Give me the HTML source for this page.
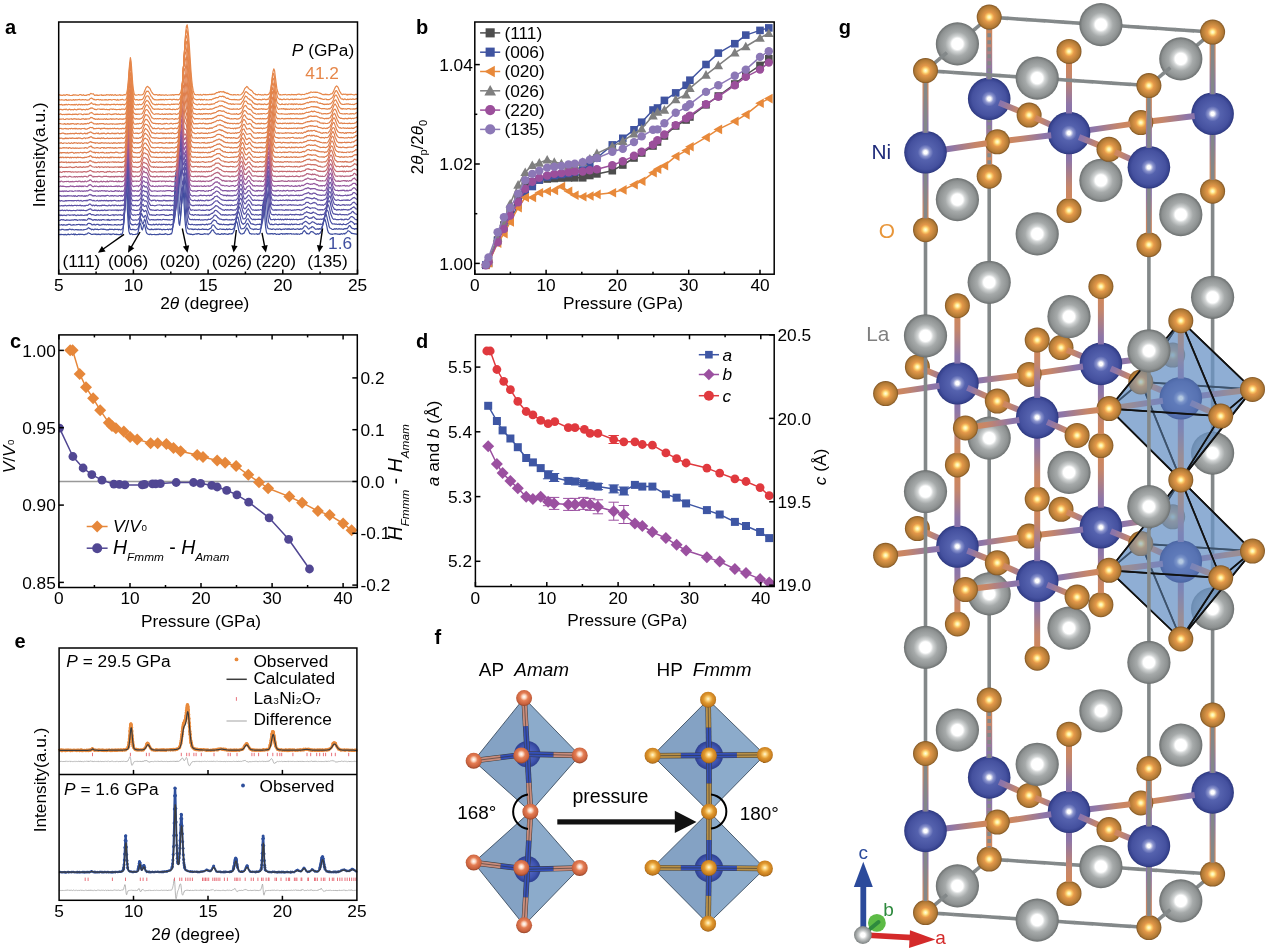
<!DOCTYPE html>
<html><head><meta charset="utf-8"><title>Figure</title><style>html,body{margin:0;padding:0;background:#fff;width:1269px;height:951px;overflow:hidden}svg{display:block}</style></head><body>
<svg width="1269" height="951" viewBox="0 0 1269 951" font-family='"Liberation Sans", Arial, sans-serif'>
<defs>
<radialGradient id="oAP" cx="0.5" cy="0.42" r="0.55">
<stop offset="0" stop-color="#ffffff"/><stop offset="0.22" stop-color="#fbd6c0"/><stop offset="0.45" stop-color="#e57e55"/><stop offset="0.85" stop-color="#c7603c"/><stop offset="1" stop-color="#9c4a2e"/></radialGradient>
<radialGradient id="oHP" cx="0.5" cy="0.45" r="0.55">
<stop offset="0" stop-color="#fff8d8"/><stop offset="0.22" stop-color="#fbd27a"/><stop offset="0.5" stop-color="#e29a30"/><stop offset="0.85" stop-color="#c47b1e"/><stop offset="1" stop-color="#8f5a16"/></radialGradient>
<radialGradient id="niF" cx="0.5" cy="0.5" r="0.5">
<stop offset="0" stop-color="#5a6cc8"/><stop offset="0.7" stop-color="#3f54b0"/><stop offset="1" stop-color="#2d3f90"/></radialGradient>
<linearGradient id="b0" gradientUnits="userSpaceOnUse" x1="925.5" y1="830.9" x2="925.5" y2="912.6"><stop offset="0" stop-color="#7d6cb0"/><stop offset="0.35" stop-color="#8e76a8"/><stop offset="0.7" stop-color="#c6866a"/><stop offset="1" stop-color="#d8884c"/></linearGradient>
<linearGradient id="b1" gradientUnits="userSpaceOnUse" x1="925.5" y1="830.9" x2="925.5" y2="753.5"><stop offset="0" stop-color="#7d6cb0"/><stop offset="0.35" stop-color="#8e76a8"/><stop offset="0.7" stop-color="#c6866a"/><stop offset="1" stop-color="#d8884c"/></linearGradient>
<linearGradient id="b2" gradientUnits="userSpaceOnUse" x1="925.5" y1="830.9" x2="997.3" y2="822.1"><stop offset="0" stop-color="#7d6cb0"/><stop offset="0.35" stop-color="#8e76a8"/><stop offset="0.7" stop-color="#c6866a"/><stop offset="1" stop-color="#d8884c"/></linearGradient>
<linearGradient id="b3" gradientUnits="userSpaceOnUse" x1="925.5" y1="152.3" x2="925.5" y2="70.6"><stop offset="0" stop-color="#7d6cb0"/><stop offset="0.35" stop-color="#8e76a8"/><stop offset="0.7" stop-color="#c6866a"/><stop offset="1" stop-color="#d8884c"/></linearGradient>
<linearGradient id="b4" gradientUnits="userSpaceOnUse" x1="925.5" y1="152.3" x2="925.5" y2="229.7"><stop offset="0" stop-color="#7d6cb0"/><stop offset="0.35" stop-color="#8e76a8"/><stop offset="0.7" stop-color="#c6866a"/><stop offset="1" stop-color="#d8884c"/></linearGradient>
<linearGradient id="b5" gradientUnits="userSpaceOnUse" x1="925.5" y1="152.3" x2="997.3" y2="141.8"><stop offset="0" stop-color="#7d6cb0"/><stop offset="0.35" stop-color="#8e76a8"/><stop offset="0.7" stop-color="#c6866a"/><stop offset="1" stop-color="#d8884c"/></linearGradient>
<linearGradient id="b6" gradientUnits="userSpaceOnUse" x1="1148.9" y1="845.9" x2="1148.9" y2="927.6"><stop offset="0" stop-color="#7d6cb0"/><stop offset="0.35" stop-color="#8e76a8"/><stop offset="0.7" stop-color="#c6866a"/><stop offset="1" stop-color="#d8884c"/></linearGradient>
<linearGradient id="b7" gradientUnits="userSpaceOnUse" x1="1148.9" y1="845.9" x2="1148.9" y2="768.5"><stop offset="0" stop-color="#7d6cb0"/><stop offset="0.35" stop-color="#8e76a8"/><stop offset="0.7" stop-color="#c6866a"/><stop offset="1" stop-color="#d8884c"/></linearGradient>
<linearGradient id="b8" gradientUnits="userSpaceOnUse" x1="1148.9" y1="845.9" x2="1109" y2="829.6"><stop offset="0" stop-color="#7d6cb0"/><stop offset="0.35" stop-color="#8e76a8"/><stop offset="0.7" stop-color="#c6866a"/><stop offset="1" stop-color="#d8884c"/></linearGradient>
<linearGradient id="b9" gradientUnits="userSpaceOnUse" x1="1148.9" y1="167.3" x2="1148.9" y2="85.6"><stop offset="0" stop-color="#7d6cb0"/><stop offset="0.35" stop-color="#8e76a8"/><stop offset="0.7" stop-color="#c6866a"/><stop offset="1" stop-color="#d8884c"/></linearGradient>
<linearGradient id="b10" gradientUnits="userSpaceOnUse" x1="1148.9" y1="167.3" x2="1148.9" y2="244.7"><stop offset="0" stop-color="#7d6cb0"/><stop offset="0.35" stop-color="#8e76a8"/><stop offset="0.7" stop-color="#c6866a"/><stop offset="1" stop-color="#d8884c"/></linearGradient>
<linearGradient id="b11" gradientUnits="userSpaceOnUse" x1="1148.9" y1="167.3" x2="1109" y2="149.3"><stop offset="0" stop-color="#7d6cb0"/><stop offset="0.35" stop-color="#8e76a8"/><stop offset="0.7" stop-color="#c6866a"/><stop offset="1" stop-color="#d8884c"/></linearGradient>
<linearGradient id="b12" gradientUnits="userSpaceOnUse" x1="989.2" y1="777.4" x2="989.2" y2="859.1"><stop offset="0" stop-color="#7d6cb0"/><stop offset="0.35" stop-color="#8e76a8"/><stop offset="0.7" stop-color="#c6866a"/><stop offset="1" stop-color="#d8884c"/></linearGradient>
<linearGradient id="b13" gradientUnits="userSpaceOnUse" x1="989.2" y1="777.4" x2="989.2" y2="700"><stop offset="0" stop-color="#7d6cb0"/><stop offset="0.35" stop-color="#8e76a8"/><stop offset="0.7" stop-color="#c6866a"/><stop offset="1" stop-color="#d8884c"/></linearGradient>
<linearGradient id="b14" gradientUnits="userSpaceOnUse" x1="989.2" y1="777.4" x2="1029.1" y2="795.4"><stop offset="0" stop-color="#7d6cb0"/><stop offset="0.35" stop-color="#8e76a8"/><stop offset="0.7" stop-color="#c6866a"/><stop offset="1" stop-color="#d8884c"/></linearGradient>
<linearGradient id="b15" gradientUnits="userSpaceOnUse" x1="989.2" y1="98.8" x2="989.2" y2="17.1"><stop offset="0" stop-color="#7d6cb0"/><stop offset="0.35" stop-color="#8e76a8"/><stop offset="0.7" stop-color="#c6866a"/><stop offset="1" stop-color="#d8884c"/></linearGradient>
<linearGradient id="b16" gradientUnits="userSpaceOnUse" x1="989.2" y1="98.8" x2="989.2" y2="176.2"><stop offset="0" stop-color="#7d6cb0"/><stop offset="0.35" stop-color="#8e76a8"/><stop offset="0.7" stop-color="#c6866a"/><stop offset="1" stop-color="#d8884c"/></linearGradient>
<linearGradient id="b17" gradientUnits="userSpaceOnUse" x1="989.2" y1="98.8" x2="1029.1" y2="115.1"><stop offset="0" stop-color="#7d6cb0"/><stop offset="0.35" stop-color="#8e76a8"/><stop offset="0.7" stop-color="#c6866a"/><stop offset="1" stop-color="#d8884c"/></linearGradient>
<linearGradient id="b18" gradientUnits="userSpaceOnUse" x1="1212.6" y1="792.4" x2="1212.6" y2="874.1"><stop offset="0" stop-color="#7d6cb0"/><stop offset="0.35" stop-color="#8e76a8"/><stop offset="0.7" stop-color="#c6866a"/><stop offset="1" stop-color="#d8884c"/></linearGradient>
<linearGradient id="b19" gradientUnits="userSpaceOnUse" x1="1212.6" y1="792.4" x2="1212.6" y2="715"><stop offset="0" stop-color="#7d6cb0"/><stop offset="0.35" stop-color="#8e76a8"/><stop offset="0.7" stop-color="#c6866a"/><stop offset="1" stop-color="#d8884c"/></linearGradient>
<linearGradient id="b20" gradientUnits="userSpaceOnUse" x1="1212.6" y1="792.4" x2="1140.8" y2="802.9"><stop offset="0" stop-color="#7d6cb0"/><stop offset="0.35" stop-color="#8e76a8"/><stop offset="0.7" stop-color="#c6866a"/><stop offset="1" stop-color="#d8884c"/></linearGradient>
<linearGradient id="b21" gradientUnits="userSpaceOnUse" x1="1212.6" y1="113.8" x2="1212.6" y2="32.1"><stop offset="0" stop-color="#7d6cb0"/><stop offset="0.35" stop-color="#8e76a8"/><stop offset="0.7" stop-color="#c6866a"/><stop offset="1" stop-color="#d8884c"/></linearGradient>
<linearGradient id="b22" gradientUnits="userSpaceOnUse" x1="1212.6" y1="113.8" x2="1212.6" y2="191.2"><stop offset="0" stop-color="#7d6cb0"/><stop offset="0.35" stop-color="#8e76a8"/><stop offset="0.7" stop-color="#c6866a"/><stop offset="1" stop-color="#d8884c"/></linearGradient>
<linearGradient id="b23" gradientUnits="userSpaceOnUse" x1="1212.6" y1="113.8" x2="1140.8" y2="122.6"><stop offset="0" stop-color="#7d6cb0"/><stop offset="0.35" stop-color="#8e76a8"/><stop offset="0.7" stop-color="#c6866a"/><stop offset="1" stop-color="#d8884c"/></linearGradient>
<linearGradient id="b24" gradientUnits="userSpaceOnUse" x1="1069" y1="811.7" x2="1069" y2="893.4"><stop offset="0" stop-color="#7d6cb0"/><stop offset="0.35" stop-color="#8e76a8"/><stop offset="0.7" stop-color="#c6866a"/><stop offset="1" stop-color="#d8884c"/></linearGradient>
<linearGradient id="b25" gradientUnits="userSpaceOnUse" x1="1069" y1="811.7" x2="1069" y2="734.2"><stop offset="0" stop-color="#7d6cb0"/><stop offset="0.35" stop-color="#8e76a8"/><stop offset="0.7" stop-color="#c6866a"/><stop offset="1" stop-color="#d8884c"/></linearGradient>
<linearGradient id="b26" gradientUnits="userSpaceOnUse" x1="1069" y1="811.7" x2="997.3" y2="822.1"><stop offset="0" stop-color="#7d6cb0"/><stop offset="0.35" stop-color="#8e76a8"/><stop offset="0.7" stop-color="#c6866a"/><stop offset="1" stop-color="#d8884c"/></linearGradient>
<linearGradient id="b27" gradientUnits="userSpaceOnUse" x1="1069" y1="811.7" x2="1109" y2="829.6"><stop offset="0" stop-color="#7d6cb0"/><stop offset="0.35" stop-color="#8e76a8"/><stop offset="0.7" stop-color="#c6866a"/><stop offset="1" stop-color="#d8884c"/></linearGradient>
<linearGradient id="b28" gradientUnits="userSpaceOnUse" x1="1069" y1="811.7" x2="1029.1" y2="795.4"><stop offset="0" stop-color="#7d6cb0"/><stop offset="0.35" stop-color="#8e76a8"/><stop offset="0.7" stop-color="#c6866a"/><stop offset="1" stop-color="#d8884c"/></linearGradient>
<linearGradient id="b29" gradientUnits="userSpaceOnUse" x1="1069" y1="811.7" x2="1140.8" y2="802.9"><stop offset="0" stop-color="#7d6cb0"/><stop offset="0.35" stop-color="#8e76a8"/><stop offset="0.7" stop-color="#c6866a"/><stop offset="1" stop-color="#d8884c"/></linearGradient>
<linearGradient id="b30" gradientUnits="userSpaceOnUse" x1="1069" y1="133" x2="1069" y2="51.4"><stop offset="0" stop-color="#7d6cb0"/><stop offset="0.35" stop-color="#8e76a8"/><stop offset="0.7" stop-color="#c6866a"/><stop offset="1" stop-color="#d8884c"/></linearGradient>
<linearGradient id="b31" gradientUnits="userSpaceOnUse" x1="1069" y1="133" x2="1069" y2="210.5"><stop offset="0" stop-color="#7d6cb0"/><stop offset="0.35" stop-color="#8e76a8"/><stop offset="0.7" stop-color="#c6866a"/><stop offset="1" stop-color="#d8884c"/></linearGradient>
<linearGradient id="b32" gradientUnits="userSpaceOnUse" x1="1069" y1="133" x2="997.3" y2="141.8"><stop offset="0" stop-color="#7d6cb0"/><stop offset="0.35" stop-color="#8e76a8"/><stop offset="0.7" stop-color="#c6866a"/><stop offset="1" stop-color="#d8884c"/></linearGradient>
<linearGradient id="b33" gradientUnits="userSpaceOnUse" x1="1069" y1="133" x2="1109" y2="149.3"><stop offset="0" stop-color="#7d6cb0"/><stop offset="0.35" stop-color="#8e76a8"/><stop offset="0.7" stop-color="#c6866a"/><stop offset="1" stop-color="#d8884c"/></linearGradient>
<linearGradient id="b34" gradientUnits="userSpaceOnUse" x1="1069" y1="133" x2="1029.1" y2="115.1"><stop offset="0" stop-color="#7d6cb0"/><stop offset="0.35" stop-color="#8e76a8"/><stop offset="0.7" stop-color="#c6866a"/><stop offset="1" stop-color="#d8884c"/></linearGradient>
<linearGradient id="b35" gradientUnits="userSpaceOnUse" x1="1069" y1="133" x2="1140.8" y2="122.6"><stop offset="0" stop-color="#7d6cb0"/><stop offset="0.35" stop-color="#8e76a8"/><stop offset="0.7" stop-color="#c6866a"/><stop offset="1" stop-color="#d8884c"/></linearGradient>
<linearGradient id="b36" gradientUnits="userSpaceOnUse" x1="1037.2" y1="580.8" x2="1037.2" y2="499.1"><stop offset="0" stop-color="#7d6cb0"/><stop offset="0.35" stop-color="#8e76a8"/><stop offset="0.7" stop-color="#c6866a"/><stop offset="1" stop-color="#d8884c"/></linearGradient>
<linearGradient id="b37" gradientUnits="userSpaceOnUse" x1="1037.2" y1="580.8" x2="1037.2" y2="658.2"><stop offset="0" stop-color="#7d6cb0"/><stop offset="0.35" stop-color="#8e76a8"/><stop offset="0.7" stop-color="#c6866a"/><stop offset="1" stop-color="#d8884c"/></linearGradient>
<linearGradient id="b38" gradientUnits="userSpaceOnUse" x1="1037.2" y1="580.8" x2="965.4" y2="589.6"><stop offset="0" stop-color="#7d6cb0"/><stop offset="0.35" stop-color="#8e76a8"/><stop offset="0.7" stop-color="#c6866a"/><stop offset="1" stop-color="#d8884c"/></linearGradient>
<linearGradient id="b39" gradientUnits="userSpaceOnUse" x1="1037.2" y1="580.8" x2="997.3" y2="562.8"><stop offset="0" stop-color="#7d6cb0"/><stop offset="0.35" stop-color="#8e76a8"/><stop offset="0.7" stop-color="#c6866a"/><stop offset="1" stop-color="#d8884c"/></linearGradient>
<linearGradient id="b40" gradientUnits="userSpaceOnUse" x1="1037.2" y1="580.8" x2="1077.1" y2="597.1"><stop offset="0" stop-color="#7d6cb0"/><stop offset="0.35" stop-color="#8e76a8"/><stop offset="0.7" stop-color="#c6866a"/><stop offset="1" stop-color="#d8884c"/></linearGradient>
<linearGradient id="b41" gradientUnits="userSpaceOnUse" x1="1037.2" y1="580.8" x2="1109" y2="570.3"><stop offset="0" stop-color="#7d6cb0"/><stop offset="0.35" stop-color="#8e76a8"/><stop offset="0.7" stop-color="#c6866a"/><stop offset="1" stop-color="#d8884c"/></linearGradient>
<linearGradient id="b42" gradientUnits="userSpaceOnUse" x1="1037.2" y1="417.4" x2="1037.2" y2="499.1"><stop offset="0" stop-color="#7d6cb0"/><stop offset="0.35" stop-color="#8e76a8"/><stop offset="0.7" stop-color="#c6866a"/><stop offset="1" stop-color="#d8884c"/></linearGradient>
<linearGradient id="b43" gradientUnits="userSpaceOnUse" x1="1037.2" y1="417.4" x2="1037.2" y2="340"><stop offset="0" stop-color="#7d6cb0"/><stop offset="0.35" stop-color="#8e76a8"/><stop offset="0.7" stop-color="#c6866a"/><stop offset="1" stop-color="#d8884c"/></linearGradient>
<linearGradient id="b44" gradientUnits="userSpaceOnUse" x1="1037.2" y1="417.4" x2="965.4" y2="427.9"><stop offset="0" stop-color="#7d6cb0"/><stop offset="0.35" stop-color="#8e76a8"/><stop offset="0.7" stop-color="#c6866a"/><stop offset="1" stop-color="#d8884c"/></linearGradient>
<linearGradient id="b45" gradientUnits="userSpaceOnUse" x1="1037.2" y1="417.4" x2="997.3" y2="401.1"><stop offset="0" stop-color="#7d6cb0"/><stop offset="0.35" stop-color="#8e76a8"/><stop offset="0.7" stop-color="#c6866a"/><stop offset="1" stop-color="#d8884c"/></linearGradient>
<linearGradient id="b46" gradientUnits="userSpaceOnUse" x1="1037.2" y1="417.4" x2="1077.1" y2="435.4"><stop offset="0" stop-color="#7d6cb0"/><stop offset="0.35" stop-color="#8e76a8"/><stop offset="0.7" stop-color="#c6866a"/><stop offset="1" stop-color="#d8884c"/></linearGradient>
<linearGradient id="b47" gradientUnits="userSpaceOnUse" x1="1037.2" y1="417.4" x2="1109" y2="408.6"><stop offset="0" stop-color="#7d6cb0"/><stop offset="0.35" stop-color="#8e76a8"/><stop offset="0.7" stop-color="#c6866a"/><stop offset="1" stop-color="#d8884c"/></linearGradient>
<linearGradient id="b48" gradientUnits="userSpaceOnUse" x1="957.4" y1="546.5" x2="957.4" y2="464.9"><stop offset="0" stop-color="#7d6cb0"/><stop offset="0.35" stop-color="#8e76a8"/><stop offset="0.7" stop-color="#c6866a"/><stop offset="1" stop-color="#d8884c"/></linearGradient>
<linearGradient id="b49" gradientUnits="userSpaceOnUse" x1="957.4" y1="546.5" x2="957.4" y2="624"><stop offset="0" stop-color="#7d6cb0"/><stop offset="0.35" stop-color="#8e76a8"/><stop offset="0.7" stop-color="#c6866a"/><stop offset="1" stop-color="#d8884c"/></linearGradient>
<linearGradient id="b50" gradientUnits="userSpaceOnUse" x1="957.4" y1="546.5" x2="885.6" y2="555.3"><stop offset="0" stop-color="#7d6cb0"/><stop offset="0.35" stop-color="#8e76a8"/><stop offset="0.7" stop-color="#c6866a"/><stop offset="1" stop-color="#d8884c"/></linearGradient>
<linearGradient id="b51" gradientUnits="userSpaceOnUse" x1="957.4" y1="546.5" x2="917.4" y2="528.6"><stop offset="0" stop-color="#7d6cb0"/><stop offset="0.35" stop-color="#8e76a8"/><stop offset="0.7" stop-color="#c6866a"/><stop offset="1" stop-color="#d8884c"/></linearGradient>
<linearGradient id="b52" gradientUnits="userSpaceOnUse" x1="957.4" y1="546.5" x2="997.3" y2="562.8"><stop offset="0" stop-color="#7d6cb0"/><stop offset="0.35" stop-color="#8e76a8"/><stop offset="0.7" stop-color="#c6866a"/><stop offset="1" stop-color="#d8884c"/></linearGradient>
<linearGradient id="b53" gradientUnits="userSpaceOnUse" x1="957.4" y1="546.5" x2="1029.1" y2="536.1"><stop offset="0" stop-color="#7d6cb0"/><stop offset="0.35" stop-color="#8e76a8"/><stop offset="0.7" stop-color="#c6866a"/><stop offset="1" stop-color="#d8884c"/></linearGradient>
<linearGradient id="b54" gradientUnits="userSpaceOnUse" x1="957.4" y1="383.2" x2="957.4" y2="464.9"><stop offset="0" stop-color="#7d6cb0"/><stop offset="0.35" stop-color="#8e76a8"/><stop offset="0.7" stop-color="#c6866a"/><stop offset="1" stop-color="#d8884c"/></linearGradient>
<linearGradient id="b55" gradientUnits="userSpaceOnUse" x1="957.4" y1="383.2" x2="957.4" y2="305.7"><stop offset="0" stop-color="#7d6cb0"/><stop offset="0.35" stop-color="#8e76a8"/><stop offset="0.7" stop-color="#c6866a"/><stop offset="1" stop-color="#d8884c"/></linearGradient>
<linearGradient id="b56" gradientUnits="userSpaceOnUse" x1="957.4" y1="383.2" x2="885.6" y2="393.6"><stop offset="0" stop-color="#7d6cb0"/><stop offset="0.35" stop-color="#8e76a8"/><stop offset="0.7" stop-color="#c6866a"/><stop offset="1" stop-color="#d8884c"/></linearGradient>
<linearGradient id="b57" gradientUnits="userSpaceOnUse" x1="957.4" y1="383.2" x2="917.4" y2="366.9"><stop offset="0" stop-color="#7d6cb0"/><stop offset="0.35" stop-color="#8e76a8"/><stop offset="0.7" stop-color="#c6866a"/><stop offset="1" stop-color="#d8884c"/></linearGradient>
<linearGradient id="b58" gradientUnits="userSpaceOnUse" x1="957.4" y1="383.2" x2="997.3" y2="401.1"><stop offset="0" stop-color="#7d6cb0"/><stop offset="0.35" stop-color="#8e76a8"/><stop offset="0.7" stop-color="#c6866a"/><stop offset="1" stop-color="#d8884c"/></linearGradient>
<linearGradient id="b59" gradientUnits="userSpaceOnUse" x1="957.4" y1="383.2" x2="1029.1" y2="374.4"><stop offset="0" stop-color="#7d6cb0"/><stop offset="0.35" stop-color="#8e76a8"/><stop offset="0.7" stop-color="#c6866a"/><stop offset="1" stop-color="#d8884c"/></linearGradient>
<linearGradient id="b60" gradientUnits="userSpaceOnUse" x1="1180.8" y1="561.5" x2="1180.8" y2="479.9"><stop offset="0" stop-color="#7d6cb0"/><stop offset="0.35" stop-color="#8e76a8"/><stop offset="0.7" stop-color="#c6866a"/><stop offset="1" stop-color="#d8884c"/></linearGradient>
<linearGradient id="b61" gradientUnits="userSpaceOnUse" x1="1180.8" y1="561.5" x2="1180.8" y2="639"><stop offset="0" stop-color="#7d6cb0"/><stop offset="0.35" stop-color="#8e76a8"/><stop offset="0.7" stop-color="#c6866a"/><stop offset="1" stop-color="#d8884c"/></linearGradient>
<linearGradient id="b62" gradientUnits="userSpaceOnUse" x1="1180.8" y1="561.5" x2="1109" y2="570.3"><stop offset="0" stop-color="#7d6cb0"/><stop offset="0.35" stop-color="#8e76a8"/><stop offset="0.7" stop-color="#c6866a"/><stop offset="1" stop-color="#d8884c"/></linearGradient>
<linearGradient id="b63" gradientUnits="userSpaceOnUse" x1="1180.8" y1="561.5" x2="1140.8" y2="543.6"><stop offset="0" stop-color="#7d6cb0"/><stop offset="0.35" stop-color="#8e76a8"/><stop offset="0.7" stop-color="#c6866a"/><stop offset="1" stop-color="#d8884c"/></linearGradient>
<linearGradient id="b64" gradientUnits="userSpaceOnUse" x1="1180.8" y1="561.5" x2="1220.7" y2="577.8"><stop offset="0" stop-color="#7d6cb0"/><stop offset="0.35" stop-color="#8e76a8"/><stop offset="0.7" stop-color="#c6866a"/><stop offset="1" stop-color="#d8884c"/></linearGradient>
<linearGradient id="b65" gradientUnits="userSpaceOnUse" x1="1180.8" y1="561.5" x2="1252.5" y2="551.1"><stop offset="0" stop-color="#7d6cb0"/><stop offset="0.35" stop-color="#8e76a8"/><stop offset="0.7" stop-color="#c6866a"/><stop offset="1" stop-color="#d8884c"/></linearGradient>
<linearGradient id="b66" gradientUnits="userSpaceOnUse" x1="1180.8" y1="398.2" x2="1180.8" y2="479.9"><stop offset="0" stop-color="#7d6cb0"/><stop offset="0.35" stop-color="#8e76a8"/><stop offset="0.7" stop-color="#c6866a"/><stop offset="1" stop-color="#d8884c"/></linearGradient>
<linearGradient id="b67" gradientUnits="userSpaceOnUse" x1="1180.8" y1="398.2" x2="1180.8" y2="320.7"><stop offset="0" stop-color="#7d6cb0"/><stop offset="0.35" stop-color="#8e76a8"/><stop offset="0.7" stop-color="#c6866a"/><stop offset="1" stop-color="#d8884c"/></linearGradient>
<linearGradient id="b68" gradientUnits="userSpaceOnUse" x1="1180.8" y1="398.2" x2="1109" y2="408.6"><stop offset="0" stop-color="#7d6cb0"/><stop offset="0.35" stop-color="#8e76a8"/><stop offset="0.7" stop-color="#c6866a"/><stop offset="1" stop-color="#d8884c"/></linearGradient>
<linearGradient id="b69" gradientUnits="userSpaceOnUse" x1="1180.8" y1="398.2" x2="1140.8" y2="381.9"><stop offset="0" stop-color="#7d6cb0"/><stop offset="0.35" stop-color="#8e76a8"/><stop offset="0.7" stop-color="#c6866a"/><stop offset="1" stop-color="#d8884c"/></linearGradient>
<linearGradient id="b70" gradientUnits="userSpaceOnUse" x1="1180.8" y1="398.2" x2="1220.7" y2="416.1"><stop offset="0" stop-color="#7d6cb0"/><stop offset="0.35" stop-color="#8e76a8"/><stop offset="0.7" stop-color="#c6866a"/><stop offset="1" stop-color="#d8884c"/></linearGradient>
<linearGradient id="b71" gradientUnits="userSpaceOnUse" x1="1180.8" y1="398.2" x2="1252.5" y2="389.4"><stop offset="0" stop-color="#7d6cb0"/><stop offset="0.35" stop-color="#8e76a8"/><stop offset="0.7" stop-color="#c6866a"/><stop offset="1" stop-color="#d8884c"/></linearGradient>
<linearGradient id="b72" gradientUnits="userSpaceOnUse" x1="1100.9" y1="527.3" x2="1100.9" y2="445.6"><stop offset="0" stop-color="#7d6cb0"/><stop offset="0.35" stop-color="#8e76a8"/><stop offset="0.7" stop-color="#c6866a"/><stop offset="1" stop-color="#d8884c"/></linearGradient>
<linearGradient id="b73" gradientUnits="userSpaceOnUse" x1="1100.9" y1="527.3" x2="1100.9" y2="604.7"><stop offset="0" stop-color="#7d6cb0"/><stop offset="0.35" stop-color="#8e76a8"/><stop offset="0.7" stop-color="#c6866a"/><stop offset="1" stop-color="#d8884c"/></linearGradient>
<linearGradient id="b74" gradientUnits="userSpaceOnUse" x1="1100.9" y1="527.3" x2="1029.1" y2="536.1"><stop offset="0" stop-color="#7d6cb0"/><stop offset="0.35" stop-color="#8e76a8"/><stop offset="0.7" stop-color="#c6866a"/><stop offset="1" stop-color="#d8884c"/></linearGradient>
<linearGradient id="b75" gradientUnits="userSpaceOnUse" x1="1100.9" y1="527.3" x2="1061" y2="509.3"><stop offset="0" stop-color="#7d6cb0"/><stop offset="0.35" stop-color="#8e76a8"/><stop offset="0.7" stop-color="#c6866a"/><stop offset="1" stop-color="#d8884c"/></linearGradient>
<linearGradient id="b76" gradientUnits="userSpaceOnUse" x1="1100.9" y1="527.3" x2="1140.8" y2="543.6"><stop offset="0" stop-color="#7d6cb0"/><stop offset="0.35" stop-color="#8e76a8"/><stop offset="0.7" stop-color="#c6866a"/><stop offset="1" stop-color="#d8884c"/></linearGradient>
<linearGradient id="b77" gradientUnits="userSpaceOnUse" x1="1100.9" y1="527.3" x2="1172.7" y2="516.8"><stop offset="0" stop-color="#7d6cb0"/><stop offset="0.35" stop-color="#8e76a8"/><stop offset="0.7" stop-color="#c6866a"/><stop offset="1" stop-color="#d8884c"/></linearGradient>
<linearGradient id="b78" gradientUnits="userSpaceOnUse" x1="1100.9" y1="363.9" x2="1100.9" y2="445.6"><stop offset="0" stop-color="#7d6cb0"/><stop offset="0.35" stop-color="#8e76a8"/><stop offset="0.7" stop-color="#c6866a"/><stop offset="1" stop-color="#d8884c"/></linearGradient>
<linearGradient id="b79" gradientUnits="userSpaceOnUse" x1="1100.9" y1="363.9" x2="1100.9" y2="286.5"><stop offset="0" stop-color="#7d6cb0"/><stop offset="0.35" stop-color="#8e76a8"/><stop offset="0.7" stop-color="#c6866a"/><stop offset="1" stop-color="#d8884c"/></linearGradient>
<linearGradient id="b80" gradientUnits="userSpaceOnUse" x1="1100.9" y1="363.9" x2="1029.1" y2="374.4"><stop offset="0" stop-color="#7d6cb0"/><stop offset="0.35" stop-color="#8e76a8"/><stop offset="0.7" stop-color="#c6866a"/><stop offset="1" stop-color="#d8884c"/></linearGradient>
<linearGradient id="b81" gradientUnits="userSpaceOnUse" x1="1100.9" y1="363.9" x2="1061" y2="347.6"><stop offset="0" stop-color="#7d6cb0"/><stop offset="0.35" stop-color="#8e76a8"/><stop offset="0.7" stop-color="#c6866a"/><stop offset="1" stop-color="#d8884c"/></linearGradient>
<linearGradient id="b82" gradientUnits="userSpaceOnUse" x1="1100.9" y1="363.9" x2="1140.8" y2="381.9"><stop offset="0" stop-color="#7d6cb0"/><stop offset="0.35" stop-color="#8e76a8"/><stop offset="0.7" stop-color="#c6866a"/><stop offset="1" stop-color="#d8884c"/></linearGradient>
<linearGradient id="b83" gradientUnits="userSpaceOnUse" x1="1100.9" y1="363.9" x2="1172.7" y2="355.1"><stop offset="0" stop-color="#7d6cb0"/><stop offset="0.35" stop-color="#8e76a8"/><stop offset="0.7" stop-color="#c6866a"/><stop offset="1" stop-color="#d8884c"/></linearGradient>
<radialGradient id="gLa" cx="0.5" cy="0.5" r="0.5">
<stop offset="0" stop-color="#ffffff"/><stop offset="0.26" stop-color="#ffffff"/><stop offset="0.36" stop-color="#d2d5d5"/><stop offset="0.56" stop-color="#a6aaaa"/><stop offset="0.86" stop-color="#8d9191"/><stop offset="1" stop-color="#6b6f6f"/></radialGradient>
<radialGradient id="gNi" cx="0.5" cy="0.5" r="0.5">
<stop offset="0" stop-color="#ffffff"/><stop offset="0.08" stop-color="#ffffff"/><stop offset="0.2" stop-color="#8e97cf"/><stop offset="0.36" stop-color="#5562ae"/><stop offset="0.8" stop-color="#45519f"/><stop offset="0.93" stop-color="#37438f"/><stop offset="1" stop-color="#2a3479"/></radialGradient>
<radialGradient id="gO" cx="0.5" cy="0.5" r="0.5">
<stop offset="0" stop-color="#fffbe0"/><stop offset="0.13" stop-color="#fff0a0"/><stop offset="0.26" stop-color="#f8c262"/><stop offset="0.4" stop-color="#e4984a"/><stop offset="0.62" stop-color="#ca8a40"/><stop offset="0.86" stop-color="#b07834"/><stop offset="1" stop-color="#7e5424"/></radialGradient>
<radialGradient id="gOr" cx="0.5" cy="0.5" r="0.5">
<stop offset="0" stop-color="#ffffff"/><stop offset="0.25" stop-color="#ffffff"/><stop offset="0.5" stop-color="#c8cbcb"/><stop offset="1" stop-color="#7d8282"/></radialGradient>
</defs>
<polyline points="58.7,234.6 59.4,234.7 60.2,234.3 60.9,234.8 61.7,234.4 62.4,234.5 63.2,234.8 63.9,234.4 64.7,234.8 65.4,234.4 66.2,234.8 66.9,234.8 67.7,234.4 68.4,234.1 69.2,234.7 69.9,234.6 70.7,234.3 71.4,234 72.1,234.3 72.9,234.5 73.6,233.9 74.4,234.8 75.1,234 75.9,234.6 76.6,234.7 77.4,234.7 78.1,234.5 78.9,234.1 79.6,234.6 80.4,234.3 81.1,234.2 81.9,234.5 82.6,234.3 83.4,234.7 84.1,234.7 84.8,234.6 85.6,234.2 86.3,234.2 87.1,233.9 87.8,233 88.6,232.8 89.3,233.3 90.1,233.5 90.8,234 91.6,234.5 92.3,234.3 93.1,234.3 93.8,234 94.6,234.1 95.3,234.5 96,233.9 96.8,234.7 97.5,234.4 98.3,234.1 99,234.6 99.8,234.3 100.5,234.7 101.3,234.2 102,234.1 102.8,234.2 103.5,234 104.3,234.5 105,234.1 105.8,234.2 106.5,234.2 107.3,234.3 108,234 108.7,233.9 109.5,234.3 110.2,234.1 111,234.7 111.7,234.1 112.5,234.2 113.2,233.8 114,234 114.7,234.5 115.5,234.4 116.2,234.1 117,234.7 117.7,234.3 118.5,234.6 119.2,234.6 120,234.7 120.7,234 121.4,234.5 122.2,233.9 122.9,231.4 123.7,223.8 124.4,210.6 125.2,193.9 125.9,186.2 126.7,193.5 127.4,209.9 128.2,223.8 128.9,231.4 129.7,233.7 130.4,234.3 131.2,233.9 131.9,233.8 132.7,234.6 133.4,234.5 134.1,234.5 134.9,234.5 135.6,234.3 136.4,234.1 137.1,234.1 137.9,233.2 138.6,229.8 139.4,225.5 140.1,223.2 140.9,224.9 141.6,228.8 142.4,229.9 143.1,227.3 143.9,224.4 144.6,225.4 145.4,228.2 146.1,231.7 146.8,233.3 147.6,233.9 148.3,234.3 149.1,234.3 149.8,234.6 150.6,234.1 151.3,234.6 152.1,234.6 152.8,234.5 153.6,234.5 154.3,234.4 155.1,234.6 155.8,234.7 156.6,234.5 157.3,234.6 158.1,234.3 158.8,234.6 159.5,233.9 160.3,234.1 161,234.5 161.8,234.4 162.5,234.3 163.3,234.3 164,234.5 164.8,233.9 165.5,233.7 166.3,234.2 167,234.2 167.8,234.6 168.5,234.5 169.3,234.3 170,234.4 170.8,233.7 171.5,233.8 172.2,231.9 173,225.4 173.7,214 174.5,196.9 175.2,179.4 176,172.6 176.7,179.4 177.5,196 178.2,213.2 179,223.6 179.7,225.4 180.5,218.7 181.2,206.4 182,193.3 182.7,188.1 183.4,193.3 184.2,206.4 184.9,219.5 185.7,227.6 186.4,231.7 187.2,233.3 187.9,233.8 188.7,233.8 189.4,233.9 190.2,234.4 190.9,234.1 191.7,234.3 192.4,234.6 193.2,234.6 193.9,234.3 194.7,234.3 195.4,234 196.1,233.7 196.9,234.2 197.6,233.7 198.4,233.7 199.1,233.7 199.9,234.2 200.6,234.4 201.4,234.4 202.1,234.4 202.9,234.4 203.6,234 204.4,233.7 205.1,233.8 205.9,234.1 206.6,234 207.4,233.8 208.1,234.5 208.8,233.9 209.6,233.3 210.3,232.7 211.1,231.4 211.8,230.3 212.6,229.9 213.3,230 214.1,231.8 214.8,232.7 215.6,233.3 216.3,234.1 217.1,234.2 217.8,233.7 218.6,233.9 219.3,234.4 220.1,234.4 220.8,234.4 221.5,233.7 222.3,233.8 223,234.4 223.8,233.8 224.5,233.6 225.3,233.9 226,234.2 226.8,234 227.5,234.4 228.3,234.5 229,233.6 229.8,233.9 230.5,234 231.3,233.6 232,234 232.8,233.1 233.5,232 234.2,230.1 235,226.4 235.7,222.8 236.5,221.3 237.2,222.5 238,226.4 238.7,229.9 239.5,232.6 240.2,233.1 241,234 241.7,234 242.5,233.9 243.2,233.4 244,233.3 244.7,231.7 245.5,230.4 246.2,228.7 246.9,228 247.7,229.2 248.4,230.4 249.2,232.4 249.9,233.7 250.7,233.5 251.4,234.2 252.2,234 252.9,233.8 253.7,234 254.4,234.2 255.2,234 255.9,234 256.7,233.7 257.4,234.4 258.1,233.9 258.9,234.2 259.6,233.8 260.4,231.7 261.1,227.2 261.9,217.9 262.6,206.8 263.4,201.6 264.1,207.1 264.9,217.9 265.6,227.2 266.4,232 267.1,233.4 267.9,234 268.6,233.9 269.4,234 270.1,233.6 270.8,233.8 271.6,233.6 272.3,233.6 273.1,234.2 273.8,233.9 274.6,233.6 275.3,233.7 276.1,234.3 276.8,234.3 277.6,234 278.3,234.3 279.1,234.2 279.8,234.3 280.6,233.8 281.3,233.7 282.1,233.6 282.8,234.3 283.5,233.8 284.3,233.8 285,234.3 285.8,233.6 286.5,233.5 287.3,234.2 288,233.5 288.8,234 289.5,233.9 290.3,233.5 291,233.6 291.8,234.2 292.5,234 293.3,233.9 294,234.1 294.8,234.2 295.5,234.1 296.2,233.7 297,234.4 297.7,233.9 298.5,234 299.2,234.3 300,234.1 300.7,233.7 301.5,233.6 302.2,233.6 303,231.9 303.7,231.1 304.5,230.5 305.2,231.7 306,232.5 306.7,233.6 307.5,233.4 308.2,234 308.9,234 309.7,233.3 310.4,232.2 311.2,231.5 311.9,231.6 312.7,232.1 313.4,232.2 314.2,233.2 314.9,233.5 315.7,234.2 316.4,234.3 317.2,233.7 317.9,233.9 318.7,234.2 319.4,233.3 320.2,233.1 320.9,231.9 321.6,230.5 322.4,226.7 323.1,223.7 323.9,219.8 324.6,218.9 325.4,220.3 326.1,223.2 326.9,226.6 327.6,230.3 328.4,232.5 329.1,233.2 329.9,233.9 330.6,234.1 331.4,234.1 332.1,234.3 332.8,234.1 333.6,234 334.3,234 335.1,233.6 335.8,234 336.6,233.8 337.3,234.1 338.1,234 338.8,234.3 339.6,234.1 340.3,234.3 341.1,233.6 341.8,233.8 342.6,234.1 343.3,233.8 344.1,233.4 344.8,234 345.5,233.1 346.3,232.9 347,232 347.8,230.9 348.5,230.9 349.3,231.2 350,231.8 350.8,232.4 351.5,233.5 352.3,233.4 353,233.6 353.8,233.7 354.5,233.9 355.3,233.9 356,234.2 356.8,234.1 357.5,234.2" fill="none" stroke="#3f4e9f" stroke-width="1.2" stroke-linejoin="round"/>
<polyline points="58.7,229.4 59.4,229.8 60.2,229.9 60.9,230 61.7,229.3 62.4,229.3 63.2,229.4 63.9,229.8 64.7,229.8 65.4,229.8 66.2,229.6 66.9,229.9 67.7,229.6 68.4,229.8 69.2,229.2 69.9,229.1 70.7,229.5 71.4,229.8 72.1,229.2 72.9,229.7 73.6,229.7 74.4,230 75.1,229.7 75.9,229.6 76.6,229.6 77.4,229.8 78.1,229.6 78.9,230 79.6,229.8 80.4,229.9 81.1,229.6 81.9,230 82.6,230 83.4,229.7 84.1,229.8 84.8,229.5 85.6,229.5 86.3,229.2 87.1,229 87.8,228.3 88.6,227.7 89.3,228.2 90.1,228.8 90.8,228.8 91.6,229.8 92.3,229.3 93.1,229.4 93.8,229.9 94.6,229.2 95.3,229.2 96,229.4 96.8,229.3 97.5,229.2 98.3,229.8 99,229.5 99.8,229.5 100.5,229.2 101.3,229.2 102,229.2 102.8,229.4 103.5,229.2 104.3,229.3 105,229.3 105.8,229.7 106.5,229.9 107.3,229.8 108,229.6 108.7,229.9 109.5,229.2 110.2,229.4 111,229.4 111.7,229.4 112.5,229.3 113.2,229.5 114,229.9 114.7,229.2 115.5,229.3 116.2,229.5 117,229.4 117.7,229.3 118.5,229.9 119.2,229.3 120,229.7 120.7,229.9 121.4,229.6 122.2,229 122.9,228.3 123.7,223.7 124.4,213.5 125.2,198.2 125.9,184.6 126.7,183.2 127.4,195.2 128.2,211.3 128.9,222.6 129.7,227.5 130.4,229.5 131.2,229.7 131.9,229.7 132.7,229.2 133.4,229.6 134.1,229.4 134.9,229.9 135.6,229.8 136.4,229.6 137.1,229.2 137.9,228.7 138.6,227.1 139.4,224.1 140.1,220.1 140.9,218.6 141.6,220.6 142.4,223.8 143.1,223.4 143.9,221.7 144.6,219.2 145.4,220.5 146.1,224.8 146.8,227.4 147.6,228.6 148.3,228.9 149.1,229.4 149.8,229.6 150.6,229.7 151.3,229 152.1,229.7 152.8,229.3 153.6,229.7 154.3,229.4 155.1,229 155.8,229.7 156.6,229.1 157.3,229.4 158.1,229 158.8,229.2 159.5,229.6 160.3,229 161,229.4 161.8,229.8 162.5,229.8 163.3,229.4 164,229.4 164.8,229.6 165.5,229.7 166.3,229.5 167,229.5 167.8,229.1 168.5,229.8 169.3,229.1 170,229.1 170.8,229.7 171.5,228.9 172.2,228.6 173,226.7 173.7,222.4 174.5,212.4 175.2,196.6 176,178.8 176.7,168.2 177.5,170.2 178.2,183.5 179,200.6 179.7,213.2 180.5,216.7 181.2,210.4 182,199.3 182.7,187.6 183.4,184.5 184.2,190.6 184.9,202.8 185.7,215.3 186.4,223.4 187.2,226.9 187.9,228.4 188.7,228.9 189.4,229.2 190.2,229 190.9,228.9 191.7,229.3 192.4,229.1 193.2,229.7 193.9,229.1 194.7,229.4 195.4,229.1 196.1,229.2 196.9,229.5 197.6,229.7 198.4,228.9 199.1,229.6 199.9,229.3 200.6,229.5 201.4,229.5 202.1,229.1 202.9,228.9 203.6,229.5 204.4,229.2 205.1,229.5 205.9,229.2 206.6,229.4 207.4,229.6 208.1,229.6 208.8,229.5 209.6,228.6 210.3,228.5 211.1,228 211.8,226.2 212.6,225 213.3,224.9 214.1,225.5 214.8,226.4 215.6,227.7 216.3,228.4 217.1,229.2 217.8,229.4 218.6,229.5 219.3,229.2 220.1,228.9 220.8,229 221.5,229.3 222.3,229.3 223,229.2 223.8,229.4 224.5,229.4 225.3,229.7 226,229.5 226.8,228.8 227.5,229.6 228.3,229.3 229,229.1 229.8,228.9 230.5,229.5 231.3,229.5 232,229.4 232.8,229.2 233.5,228.8 234.2,227.3 235,225.2 235.7,221.8 236.5,219 237.2,217 238,217 238.7,219.8 239.5,223.9 240.2,226.6 241,228.7 241.7,229 242.5,228.7 243.2,228.7 244,228.3 244.7,227.3 245.5,226.6 246.2,225 246.9,223.8 247.7,223.4 248.4,224.5 249.2,226 249.9,227.6 250.7,228.5 251.4,228.8 252.2,229.2 252.9,229.2 253.7,229.6 254.4,228.9 255.2,229.4 255.9,228.8 256.7,229.1 257.4,229.4 258.1,229.5 258.9,229.4 259.6,229 260.4,228.7 261.1,228 261.9,224.4 262.6,216.2 263.4,205.5 264.1,198.2 264.9,199.6 265.6,208.4 266.4,219.1 267.1,225.5 267.9,228.2 268.6,228.6 269.4,229 270.1,228.8 270.8,229.2 271.6,229.4 272.3,229.4 273.1,228.8 273.8,229 274.6,229.3 275.3,229.6 276.1,229.2 276.8,229 277.6,229.2 278.3,229.4 279.1,229 279.8,228.8 280.6,229.4 281.3,229.6 282.1,229.3 282.8,229.2 283.5,229 284.3,229.4 285,228.9 285.8,228.9 286.5,229.1 287.3,229.4 288,228.7 288.8,229.3 289.5,228.8 290.3,229.4 291,229.4 291.8,228.9 292.5,229.3 293.3,228.7 294,229.1 294.8,229.4 295.5,229.4 296.2,229.2 297,229 297.7,228.7 298.5,229.4 299.2,229.2 300,229.4 300.7,228.6 301.5,229.2 302.2,229 303,228.3 303.7,227.2 304.5,226 305.2,225.8 306,226.3 306.7,226.9 307.5,227.7 308.2,228.8 308.9,229.1 309.7,228.2 310.4,227.8 311.2,227.8 311.9,226.6 312.7,226.8 313.4,227.2 314.2,228 314.9,228.7 315.7,229.3 316.4,229.2 317.2,229.2 317.9,228.7 318.7,229.4 319.4,228.6 320.2,229.2 320.9,228.8 321.6,227.6 322.4,226.1 323.1,223.9 323.9,220.9 324.6,217 325.4,214.8 326.1,214.1 326.9,216.9 327.6,220.1 328.4,223.1 329.1,226.6 329.9,227.9 330.6,228.3 331.4,228.7 332.1,229.4 332.8,229.5 333.6,229.4 334.3,228.7 335.1,229.3 335.8,228.8 336.6,228.7 337.3,229.2 338.1,229.2 338.8,228.6 339.6,228.9 340.3,229.2 341.1,228.8 341.8,229.2 342.6,229.2 343.3,229.5 344.1,228.8 344.8,228.6 345.5,228.8 346.3,228.4 347,228.8 347.8,227.9 348.5,226.8 349.3,225.7 350,225.7 350.8,226.8 351.5,227.8 352.3,228.4 353,228.7 353.8,228.5 354.5,229.3 355.3,228.7 356,228.8 356.8,228.7 357.5,228.8" fill="none" stroke="#444fa0" stroke-width="1.2" stroke-linejoin="round"/>
<polyline points="58.7,224.7 59.4,224.9 60.2,225 60.9,224.9 61.7,224.5 62.4,225.2 63.2,225.1 63.9,224.6 64.7,225 65.4,225.2 66.2,225.2 66.9,224.7 67.7,224.9 68.4,224.3 69.2,224.4 69.9,224.3 70.7,225 71.4,225.1 72.1,225.1 72.9,224.8 73.6,224.6 74.4,224.8 75.1,225 75.9,224.8 76.6,224.6 77.4,224.6 78.1,224.5 78.9,224.4 79.6,224.6 80.4,225.1 81.1,224.4 81.9,224.9 82.6,224.7 83.4,224.9 84.1,224.5 84.8,225 85.6,225 86.3,224.9 87.1,224.8 87.8,223.6 88.6,223.3 89.3,223.3 90.1,223.7 90.8,223.7 91.6,224.6 92.3,224.9 93.1,224.4 93.8,224.6 94.6,224.3 95.3,225.1 96,224.7 96.8,224.4 97.5,224.4 98.3,224.3 99,225.1 99.8,224.9 100.5,225.1 101.3,225 102,224.3 102.8,224.6 103.5,224.3 104.3,224.8 105,224.4 105.8,224.7 106.5,224.9 107.3,224.4 108,224.3 108.7,225 109.5,224.6 110.2,224.6 111,224.9 111.7,224.8 112.5,225 113.2,225 114,224.9 114.7,224.6 115.5,224.5 116.2,224.9 117,225.1 117.7,224.8 118.5,224.5 119.2,225 120,224.8 120.7,224.9 121.4,224.4 122.2,224.5 122.9,224.5 123.7,222.4 124.4,216 125.2,203.5 125.9,187.6 126.7,178.2 127.4,181.9 128.2,195.8 128.9,210.9 129.7,220 130.4,223.6 131.2,224 131.9,224.8 132.7,224.6 133.4,224.8 134.1,224.7 134.9,224.3 135.6,224.2 136.4,224.8 137.1,224.9 137.9,224.2 138.6,224 139.4,222.3 140.1,218.3 140.9,215.2 141.6,213.5 142.4,215.4 143.1,217.1 143.9,217.6 144.6,216.1 145.4,215.3 146.1,216.5 146.8,219.7 147.6,222.2 148.3,224.4 149.1,224.4 149.8,224.7 150.6,224.6 151.3,224.9 152.1,224.8 152.8,224.6 153.6,224.2 154.3,225 155.1,224.6 155.8,224.3 156.6,224.2 157.3,224.9 158.1,224.9 158.8,224.2 159.5,224.2 160.3,224.6 161,225 161.8,224.2 162.5,224.7 163.3,224.2 164,224.5 164.8,224.3 165.5,224.9 166.3,224.3 167,224.8 167.8,224.7 168.5,224.3 169.3,224.3 170,224.9 170.8,224.8 171.5,224.6 172.2,224.4 173,224.2 173.7,223.1 174.5,219.5 175.2,211.3 176,197.9 176.7,182 177.5,167.3 178.2,162.4 179,170.1 179.7,184 180.5,198.7 181.2,205 182,202.3 182.7,192.8 183.4,183.5 184.2,180.3 184.9,186.1 185.7,197.9 186.4,209.5 187.2,218 187.9,222.2 188.7,224.3 189.4,224.3 190.2,224.5 190.9,224.8 191.7,224.3 192.4,224.3 193.2,224.6 193.9,224.8 194.7,224.5 195.4,224.9 196.1,224.9 196.9,224.6 197.6,224.9 198.4,224.6 199.1,224.5 199.9,224.9 200.6,224.4 201.4,224.9 202.1,224.3 202.9,224.3 203.6,224.5 204.4,224.9 205.1,224.5 205.9,224.6 206.6,224.1 207.4,224.8 208.1,224.1 208.8,224 209.6,224.1 210.3,223.7 211.1,223.7 211.8,222.2 212.6,221.6 213.3,220.3 214.1,219.8 214.8,220.5 215.6,220.5 216.3,221.3 217.1,223 217.8,223.6 218.6,223.7 219.3,224.6 220.1,224 220.8,224.6 221.5,224.2 222.3,224.8 223,224.5 223.8,224.1 224.5,224.7 225.3,224.7 226,224.5 226.8,224.6 227.5,224.9 228.3,224.7 229,224.8 229.8,224.1 230.5,224.3 231.3,224.1 232,224.7 232.8,224.2 233.5,224.7 234.2,224 235,223.1 235.7,221.6 236.5,218.2 237.2,215.1 238,212.4 238.7,211.6 239.5,214.3 240.2,216.9 241,220.4 241.7,222.8 242.5,223.5 243.2,224.3 244,223.5 244.7,223.3 245.5,222.3 246.2,220.4 246.9,219.2 247.7,218.8 248.4,218.9 249.2,220.9 249.9,221.8 250.7,223.5 251.4,223.9 252.2,223.8 252.9,224.3 253.7,224.2 254.4,224.6 255.2,224.8 255.9,224.8 256.7,224.7 257.4,224.3 258.1,224.5 258.9,224.4 259.6,224 260.4,224.7 261.1,224.4 261.9,223.3 262.6,221.4 263.4,215.6 264.1,205.8 264.9,196.6 265.6,193 266.4,198.3 267.1,207.9 267.9,216.7 268.6,222 269.4,223.6 270.1,224.3 270.8,224.7 271.6,224 272.3,224.6 273.1,224.7 273.8,224.7 274.6,224.2 275.3,224 276.1,224.1 276.8,224.4 277.6,224.6 278.3,224.8 279.1,224.2 279.8,224.3 280.6,224.5 281.3,224.2 282.1,224.4 282.8,223.9 283.5,224.1 284.3,224.6 285,224 285.8,224.7 286.5,224.3 287.3,224.4 288,224.6 288.8,224.7 289.5,224.1 290.3,224.8 291,224.3 291.8,223.9 292.5,224.6 293.3,224.6 294,224.2 294.8,224.3 295.5,224.2 296.2,224 297,224.6 297.7,224.5 298.5,224.5 299.2,224.7 300,223.9 300.7,224 301.5,223.9 302.2,224.3 303,223.1 303.7,222.6 304.5,222.1 305.2,221.3 306,221.4 306.7,221.9 307.5,222.6 308.2,223.2 308.9,223.9 309.7,223.8 310.4,223.2 311.2,222.7 311.9,222 312.7,221.7 313.4,222.1 314.2,222.3 314.9,223.1 315.7,223.3 316.4,223.9 317.2,224.4 317.9,224.1 318.7,223.8 319.4,224.5 320.2,223.9 320.9,224.6 321.6,224.3 322.4,223.9 323.1,222.4 323.9,220.5 324.6,217.9 325.4,214.8 326.1,211.2 326.9,210 327.6,210.5 328.4,212.3 329.1,215.9 329.9,219.1 330.6,221.5 331.4,222.7 332.1,223.8 332.8,223.8 333.6,224 334.3,223.9 335.1,224.3 335.8,224 336.6,224.2 337.3,224.4 338.1,224.5 338.8,224.1 339.6,224.6 340.3,223.9 341.1,224.5 341.8,224.7 342.6,224.6 343.3,223.8 344.1,224.4 344.8,224.5 345.5,224.6 346.3,224.6 347,223.9 347.8,223.7 348.5,223.2 349.3,222.4 350,222.2 350.8,221.2 351.5,221.6 352.3,221.8 353,222.6 353.8,223.2 354.5,224.4 355.3,223.8 356,223.8 356.8,223.8 357.5,224.5" fill="none" stroke="#494fa1" stroke-width="1.2" stroke-linejoin="round"/>
<polyline points="58.7,220.3 59.4,220.3 60.2,220.4 60.9,219.7 61.7,219.7 62.4,219.9 63.2,219.7 63.9,219.9 64.7,220.2 65.4,220.3 66.2,220.3 66.9,219.7 67.7,220.2 68.4,220.1 69.2,220 69.9,220.4 70.7,220.2 71.4,220.2 72.1,219.8 72.9,220.1 73.6,220.1 74.4,219.5 75.1,220 75.9,219.6 76.6,219.8 77.4,220.4 78.1,220 78.9,220 79.6,219.7 80.4,220.1 81.1,219.8 81.9,219.9 82.6,220.2 83.4,219.6 84.1,220.3 84.8,219.6 85.6,220.2 86.3,220.3 87.1,220 87.8,219.1 88.6,218.3 89.3,218.8 90.1,218.6 90.8,219.2 91.6,219.4 92.3,220.1 93.1,219.9 93.8,220.1 94.6,219.6 95.3,220.1 96,219.5 96.8,220.1 97.5,220.2 98.3,219.7 99,219.9 99.8,220.3 100.5,219.8 101.3,220.3 102,219.6 102.8,219.7 103.5,219.6 104.3,219.8 105,220 105.8,220 106.5,220 107.3,219.5 108,220.3 108.7,219.5 109.5,220.3 110.2,220.2 111,220.1 111.7,219.5 112.5,219.9 113.2,220 114,219.5 114.7,220.1 115.5,219.9 116.2,219.8 117,219.6 117.7,219.6 118.5,219.7 119.2,220 120,220 120.7,220.2 121.4,219.6 122.2,219.7 122.9,219.4 123.7,218.8 124.4,214.8 125.2,205.5 125.9,191.1 126.7,177.5 127.4,173.4 128.2,182.5 128.9,198.6 129.7,211 130.4,217.2 131.2,219 131.9,219.4 132.7,220.1 133.4,220.1 134.1,220.1 134.9,220 135.6,219.8 136.4,220.1 137.1,220 137.9,220 138.6,219 139.4,218.2 140.1,216.5 140.9,212.4 141.6,210.2 142.4,209.2 143.1,210 143.9,211.6 144.6,211.4 145.4,210.4 146.1,210.7 146.8,212.6 147.6,216.1 148.3,218.4 149.1,219.4 149.8,220.1 150.6,219.9 151.3,219.5 152.1,219.6 152.8,219.8 153.6,219.7 154.3,219.8 155.1,220.1 155.8,219.7 156.6,219.9 157.3,219.6 158.1,219.4 158.8,219.9 159.5,219.7 160.3,219.6 161,219.9 161.8,220 162.5,219.6 163.3,219.4 164,219.5 164.8,219.6 165.5,219.5 166.3,219.6 167,219.6 167.8,219.8 168.5,219.9 169.3,219.7 170,220.1 170.8,219.8 171.5,219.5 172.2,219.5 173,219.5 173.7,219.5 174.5,218.1 175.2,214.7 176,207.3 176.7,195.3 177.5,179.3 178.2,164.4 179,158 179.7,161.5 180.5,173.6 181.2,187.1 182,194.2 182.7,192.1 183.4,185.2 184.2,177.4 184.9,176.9 185.7,183.5 186.4,195 187.2,206.4 187.9,214.2 188.7,217.5 189.4,219.1 190.2,219.4 190.9,219.7 191.7,219.6 192.4,219.4 193.2,219.7 193.9,219.8 194.7,219.3 195.4,220 196.1,219.5 196.9,219.8 197.6,219.5 198.4,220 199.1,219.3 199.9,219.8 200.6,220.1 201.4,219.9 202.1,219.8 202.9,220.1 203.6,219.8 204.4,219.8 205.1,219.5 205.9,219.8 206.6,219.9 207.4,219.9 208.1,219.4 208.8,219.2 209.6,219.5 210.3,219.5 211.1,218.6 211.8,218.3 212.6,217.7 213.3,216.9 214.1,215.6 214.8,215.1 215.6,215.2 216.3,215.8 217.1,216.5 217.8,217.6 218.6,217.8 219.3,218.9 220.1,219.1 220.8,219.2 221.5,219.3 222.3,219.7 223,219.8 223.8,219.6 224.5,220 225.3,219.4 226,219.8 226.8,219.3 227.5,219.9 228.3,219.8 229,219.9 229.8,219.7 230.5,219.9 231.3,220.1 232,219.4 232.8,219.8 233.5,219.8 234.2,219.7 235,219.2 235.7,218.5 236.5,216.6 237.2,213.9 238,210.9 238.7,207.6 239.5,206.9 240.2,209.2 241,211.6 241.7,214.7 242.5,217.2 243.2,219 244,218.8 244.7,218.6 245.5,218.3 246.2,216.9 246.9,214.5 247.7,213.8 248.4,214.2 249.2,215.4 249.9,216.9 250.7,218.2 251.4,218.6 252.2,219.5 252.9,219.8 253.7,219.2 254.4,219.3 255.2,219.9 255.9,219.2 256.7,219.5 257.4,219.3 258.1,219.4 258.9,219.2 259.6,219.3 260.4,219.3 261.1,219.8 261.9,219.2 262.6,218.7 263.4,216.4 264.1,211.5 264.9,202.4 265.6,193.2 266.4,188.5 267.1,191.6 267.9,200.5 268.6,209.5 269.4,216 270.1,218.4 270.8,219.6 271.6,219.5 272.3,219.6 273.1,219.5 273.8,219.2 274.6,220 275.3,219.2 276.1,219.6 276.8,219.5 277.6,219.4 278.3,219.2 279.1,219.7 279.8,219.6 280.6,219.1 281.3,219.9 282.1,219.4 282.8,219.4 283.5,220 284.3,219.4 285,219.4 285.8,219.1 286.5,219.7 287.3,219.1 288,219.5 288.8,219.5 289.5,219.2 290.3,219.9 291,219.3 291.8,219.4 292.5,219.7 293.3,219.2 294,219.6 294.8,219.5 295.5,219.5 296.2,219.3 297,219.8 297.7,219.6 298.5,219.6 299.2,219.5 300,219.2 300.7,219.6 301.5,219.1 302.2,219.2 303,218.8 303.7,218.5 304.5,217.7 305.2,216.7 306,216.5 306.7,216.4 307.5,217.1 308.2,217.6 308.9,218.2 309.7,218.3 310.4,218.3 311.2,217.9 311.9,218.1 312.7,217.1 313.4,216.7 314.2,217.2 314.9,218.1 315.7,218.5 316.4,219.3 317.2,219.4 317.9,219 318.7,219.3 319.4,219.3 320.2,219.2 320.9,219.1 321.6,219.3 322.4,219.2 323.1,218.9 323.9,218.1 324.6,216.7 325.4,214.2 326.1,211.5 326.9,207.8 327.6,205.7 328.4,205 329.1,207.1 329.9,210.1 330.6,213.5 331.4,215.6 332.1,217.3 332.8,218.6 333.6,219.3 334.3,219.1 335.1,219.2 335.8,219.4 336.6,219.6 337.3,219.6 338.1,219.5 338.8,219.6 339.6,219.5 340.3,219.3 341.1,219 341.8,219.8 342.6,219.4 343.3,219.8 344.1,219.8 344.8,219.1 345.5,219.3 346.3,219 347,219.4 347.8,219.8 348.5,219.3 349.3,218.7 350,217.7 350.8,216.9 351.5,216.7 352.3,216.6 353,217.3 353.8,217.6 354.5,218.8 355.3,219.3 356,219.7 356.8,219.8 357.5,219.2" fill="none" stroke="#4f50a2" stroke-width="1.2" stroke-linejoin="round"/>
<polyline points="58.7,215.5 59.4,214.8 60.2,215.6 60.9,214.8 61.7,215.5 62.4,215.6 63.2,215 63.9,215.4 64.7,215 65.4,215.5 66.2,215.6 66.9,214.9 67.7,215 68.4,214.8 69.2,215 69.9,215.5 70.7,215 71.4,215 72.1,215.2 72.9,214.8 73.6,215.4 74.4,214.7 75.1,215 75.9,215.6 76.6,215.6 77.4,215 78.1,214.9 78.9,215.5 79.6,215.3 80.4,214.9 81.1,215.4 81.9,214.8 82.6,215.2 83.4,215.5 84.1,215.3 84.8,215.1 85.6,215.2 86.3,214.9 87.1,215.3 87.8,214.4 88.6,214.2 89.3,213.5 90.1,213.5 90.8,214.2 91.6,214.8 92.3,214.7 93.1,214.7 93.8,214.9 94.6,215.1 95.3,215.3 96,215.5 96.8,214.7 97.5,214.9 98.3,214.8 99,215.3 99.8,215 100.5,214.7 101.3,214.8 102,215 102.8,215.3 103.5,215.2 104.3,214.7 105,215.2 105.8,214.9 106.5,215 107.3,214.7 108,214.8 108.7,215.3 109.5,215.5 110.2,215.3 111,215.2 111.7,215 112.5,214.8 113.2,214.7 114,215.5 114.7,214.8 115.5,214.8 116.2,214.7 117,215 117.7,215.3 118.5,214.8 119.2,214.8 120,214.9 120.7,214.7 121.4,215.2 122.2,215.4 122.9,214.9 123.7,214 124.4,212.1 125.2,204.9 125.9,192.2 126.7,177.7 127.4,168.7 128.2,173 128.9,187.1 129.7,201.5 130.4,210.3 131.2,213.5 131.9,214.5 132.7,215 133.4,215.4 134.1,214.8 134.9,214.8 135.6,215.3 136.4,215 137.1,214.7 137.9,214.6 138.6,214.8 139.4,214.2 140.1,212.6 140.9,210.2 141.6,206.9 142.4,204.7 143.1,204.3 143.9,205.9 144.6,206.4 145.4,206 146.1,205.4 146.8,206.9 147.6,209.7 148.3,211.6 149.1,213.9 149.8,215 150.6,214.8 151.3,214.7 152.1,215.3 152.8,214.9 153.6,215.1 154.3,215 155.1,215.4 155.8,215.4 156.6,214.5 157.3,214.7 158.1,215 158.8,214.9 159.5,215.2 160.3,214.7 161,215 161.8,214.6 162.5,214.7 163.3,214.7 164,214.6 164.8,215.2 165.5,215.4 166.3,215.2 167,215.3 167.8,215.3 168.5,215.4 169.3,214.9 170,214.6 170.8,215 171.5,214.6 172.2,214.6 173,215.3 173.7,214.7 174.5,214.4 175.2,213 176,208.4 176.7,201.2 177.5,188.4 178.2,172.8 179,158.7 179.7,152.6 180.5,156.7 181.2,167.8 182,179.6 182.7,184.4 183.4,182.1 184.2,176.2 184.9,172.1 185.7,174.5 186.4,183.5 187.2,194.6 187.9,204.2 188.7,210.2 189.4,213.8 190.2,214.2 190.9,214.6 191.7,214.8 192.4,214.5 193.2,215.3 193.9,215.2 194.7,214.7 195.4,214.5 196.1,214.8 196.9,215.1 197.6,214.8 198.4,214.7 199.1,215.3 199.9,215.1 200.6,215.1 201.4,215.2 202.1,214.9 202.9,215.2 203.6,215.1 204.4,215.2 205.1,214.7 205.9,215.3 206.6,214.7 207.4,215.1 208.1,215.3 208.8,214.4 209.6,215 210.3,214.1 211.1,213.9 211.8,213.3 212.6,213.4 213.3,212.3 214.1,211.9 214.8,210.5 215.6,210.3 216.3,210.5 217.1,211.1 217.8,211.9 218.6,212.2 219.3,213.3 220.1,213.7 220.8,214.6 221.5,214.8 222.3,215.1 223,214.6 223.8,214.8 224.5,215.2 225.3,214.5 226,215.1 226.8,214.9 227.5,215.2 228.3,215.1 229,214.5 229.8,215 230.5,215.1 231.3,214.8 232,215 232.8,214.5 233.5,215.2 234.2,214.4 235,215.1 235.7,213.9 236.5,213.2 237.2,211.8 238,208.8 238.7,205.8 239.5,203.4 240.2,202.9 241,204.5 241.7,206.9 242.5,210 243.2,212.2 244,214.1 244.7,214.1 245.5,212.9 246.2,212.5 246.9,210.4 247.7,209.6 248.4,208.7 249.2,210.2 249.9,210.9 250.7,212.8 251.4,214 252.2,214.8 252.9,214.3 253.7,214.7 254.4,215.1 255.2,214.8 255.9,214.4 256.7,215 257.4,214.7 258.1,215.1 258.9,215.1 259.6,214.5 260.4,214.6 261.1,215 261.9,215.1 262.6,214.9 263.4,213.6 264.1,211.3 264.9,206 265.6,197.4 266.4,187.9 267.1,183.4 267.9,186.6 268.6,195.4 269.4,204.8 270.1,211 270.8,213.2 271.6,214.5 272.3,214.5 273.1,215.1 273.8,214.5 274.6,214.9 275.3,214.4 276.1,214.4 276.8,214.8 277.6,215.2 278.3,214.4 279.1,214.8 279.8,214.4 280.6,215 281.3,215 282.1,214.4 282.8,214.9 283.5,215 284.3,214.8 285,214.6 285.8,215.2 286.5,214.7 287.3,214.8 288,214.7 288.8,215.1 289.5,214.5 290.3,214.4 291,214.4 291.8,214.9 292.5,214.5 293.3,214.8 294,214.5 294.8,215.1 295.5,214.4 296.2,214.3 297,214.7 297.7,214.7 298.5,214.7 299.2,214.7 300,215.1 300.7,214.2 301.5,214.8 302.2,214.7 303,214.5 303.7,213.9 304.5,212.9 305.2,213 306,212.4 306.7,211.7 307.5,212.2 308.2,212.7 308.9,212.6 309.7,213.1 310.4,213.3 311.2,213.1 311.9,213.4 312.7,212.3 313.4,212.1 314.2,212.7 314.9,213 315.7,213.2 316.4,213.7 317.2,214.3 317.9,214.7 318.7,214.6 319.4,215 320.2,214.6 320.9,214.3 321.6,215 322.4,214.5 323.1,214.3 323.9,214.5 324.6,213.2 325.4,211.6 326.1,209.9 326.9,206.8 327.6,203.2 328.4,201.2 329.1,200.7 329.9,201.5 330.6,204.5 331.4,208.1 332.1,211 332.8,212.8 333.6,213.8 334.3,213.9 335.1,214.3 335.8,214.2 336.6,214.3 337.3,214.3 338.1,215 338.8,214.6 339.6,214.2 340.3,214.2 341.1,214.8 341.8,214.7 342.6,214.5 343.3,214.7 344.1,214.6 344.8,215 345.5,214.7 346.3,214.6 347,215 347.8,214.9 348.5,214.1 349.3,214.1 350,213.6 350.8,213.3 351.5,212.3 352.3,211.6 353,211.4 353.8,212.6 354.5,212.8 355.3,213.9 356,214 356.8,214.6 357.5,214.5" fill="none" stroke="#5451a3" stroke-width="1.2" stroke-linejoin="round"/>
<polyline points="58.7,210 59.4,210.3 60.2,210.6 60.9,210.4 61.7,210.4 62.4,210 63.2,210.6 63.9,210.5 64.7,210.2 65.4,210.7 66.2,210.3 66.9,210 67.7,210.4 68.4,210.6 69.2,210.4 69.9,210.3 70.7,210.7 71.4,210.7 72.1,210.7 72.9,210.5 73.6,210.4 74.4,210.5 75.1,210.6 75.9,210.7 76.6,210.3 77.4,210 78.1,210.2 78.9,210.3 79.6,210.2 80.4,210.6 81.1,210.1 81.9,210.4 82.6,210.3 83.4,210.2 84.1,210.4 84.8,210.5 85.6,210.6 86.3,210.6 87.1,210.2 87.8,210.1 88.6,209.3 89.3,209.3 90.1,208.9 90.8,208.9 91.6,210 92.3,210.1 93.1,210.3 93.8,210.5 94.6,209.9 95.3,210.5 96,210.1 96.8,210.6 97.5,210.7 98.3,210 99,210.4 99.8,210.7 100.5,210.4 101.3,210.4 102,210.1 102.8,210.6 103.5,210.5 104.3,209.9 105,210.1 105.8,210.6 106.5,210.4 107.3,210.4 108,210.1 108.7,210.2 109.5,210 110.2,210 111,210.3 111.7,210.1 112.5,210.1 113.2,210 114,210.3 114.7,210 115.5,210.1 116.2,209.9 117,210.6 117.7,209.9 118.5,210.7 119.2,210 120,210.2 120.7,210.3 121.4,209.8 122.2,210.2 122.9,210.2 123.7,209.5 124.4,207.7 125.2,202.8 125.9,192.3 126.7,177.4 127.4,165.9 128.2,165.6 128.9,177.6 129.7,192.3 130.4,202.9 131.2,208.1 131.9,209.9 132.7,209.9 133.4,209.9 134.1,210.2 134.9,210.3 135.6,210.5 136.4,210.4 137.1,210.5 137.9,210.1 138.6,210 139.4,210 140.1,208.2 140.9,206.5 141.6,203 142.4,200.2 143.1,199 143.9,200.4 144.6,201.2 145.4,200.7 146.1,201.1 146.8,201.6 147.6,203.2 148.3,206.1 149.1,207.9 149.8,209.3 150.6,210 151.3,209.7 152.1,210.2 152.8,210.2 153.6,210 154.3,210.3 155.1,210.3 155.8,210.1 156.6,210.3 157.3,209.8 158.1,210 158.8,210.2 159.5,210.5 160.3,210.3 161,210.3 161.8,210.1 162.5,210.1 163.3,209.8 164,209.8 164.8,210.2 165.5,210.2 166.3,210.1 167,209.7 167.8,210.3 168.5,210.1 169.3,209.9 170,210.5 170.8,210.3 171.5,209.7 172.2,209.9 173,210.1 173.7,210.4 174.5,209.5 175.2,208.8 176,206.5 176.7,201.3 177.5,192.1 178.2,179 179,163.9 179.7,151.8 180.5,147.8 181.2,153.4 182,164.5 182.7,173.7 183.4,176.2 184.2,172.8 184.9,168.3 185.7,167.3 186.4,173.9 187.2,185.1 187.9,195.5 188.7,202.8 189.4,207.5 190.2,209.1 190.9,210.3 191.7,210.2 192.4,209.8 193.2,210 193.9,210 194.7,210.4 195.4,210.1 196.1,210.1 196.9,210.3 197.6,210 198.4,210.1 199.1,209.7 199.9,210 200.6,210.2 201.4,210.4 202.1,210.4 202.9,209.9 203.6,210.4 204.4,210.4 205.1,210.4 205.9,210.1 206.6,209.8 207.4,210 208.1,209.8 208.8,210.4 209.6,210.3 210.3,209.5 211.1,209.6 211.8,208.9 212.6,208.6 213.3,208.1 214.1,207.3 214.8,206.8 215.6,205.6 216.3,205.7 217.1,206.1 217.8,206.5 218.6,207.2 219.3,208.2 220.1,208.1 220.8,209 221.5,209 222.3,209.8 223,209.8 223.8,210.2 224.5,210.4 225.3,209.6 226,209.7 226.8,210.2 227.5,209.7 228.3,209.8 229,210.2 229.8,209.9 230.5,209.6 231.3,210 232,209.6 232.8,210.3 233.5,210.1 234.2,209.8 235,210.2 235.7,209.9 236.5,208.9 237.2,208 238,205.6 238.7,203.2 239.5,200.3 240.2,198.3 241,198.6 241.7,200 242.5,203.7 243.2,206.2 244,208.4 244.7,208.8 245.5,208.7 246.2,207.7 246.9,206.6 247.7,205.3 248.4,204.1 249.2,204.9 249.9,206.2 250.7,207.7 251.4,208.8 252.2,209.6 252.9,210.2 253.7,209.8 254.4,210.1 255.2,210.3 255.9,209.8 256.7,210.4 257.4,210.2 258.1,209.7 258.9,210.3 259.6,210 260.4,209.7 261.1,209.7 261.9,210.3 262.6,210 263.4,209.3 264.1,208.4 264.9,204.7 265.6,198.9 266.4,189.3 267.1,181.6 267.9,179.4 268.6,183.9 269.4,193.2 270.1,201.1 270.8,206.7 271.6,208.5 272.3,209.6 273.1,210 273.8,210.2 274.6,209.9 275.3,210.2 276.1,209.6 276.8,210.3 277.6,209.9 278.3,209.9 279.1,210.1 279.8,209.7 280.6,210 281.3,209.8 282.1,209.9 282.8,210.1 283.5,210 284.3,210.3 285,210.2 285.8,209.6 286.5,210.1 287.3,209.8 288,210.3 288.8,209.9 289.5,210 290.3,209.9 291,210.1 291.8,210.3 292.5,210.1 293.3,210.2 294,210.2 294.8,209.7 295.5,210.1 296.2,210 297,209.5 297.7,209.7 298.5,209.6 299.2,209.6 300,210.2 300.7,210 301.5,210.2 302.2,209.5 303,209.2 303.7,209.1 304.5,208.6 305.2,207.8 306,207.3 306.7,207.4 307.5,206.7 308.2,207.4 308.9,207.5 309.7,208.3 310.4,208.6 311.2,208 311.9,208 312.7,207.7 313.4,208 314.2,207.9 314.9,208 315.7,208.4 316.4,208.8 317.2,209.2 317.9,209.9 318.7,209.8 319.4,209.7 320.2,210.1 320.9,209.5 321.6,209.8 322.4,209.6 323.1,210 323.9,209.7 324.6,209.1 325.4,208.6 326.1,207.3 326.9,204.2 327.6,201.2 328.4,198.6 329.1,196.8 329.9,195.8 330.6,197.5 331.4,200.8 332.1,203.8 332.8,206.5 333.6,207.7 334.3,209.3 335.1,209.2 335.8,209.5 336.6,210.2 337.3,209.6 338.1,209.9 338.8,209.6 339.6,209.5 340.3,210 341.1,210.2 341.8,209.4 342.6,209.9 343.3,209.4 344.1,209.6 344.8,209.6 345.5,209.5 346.3,209.7 347,209.8 347.8,210.2 348.5,209.6 349.3,209.8 350,209.5 350.8,208.7 351.5,208.8 352.3,207.5 353,207.5 353.8,206.8 354.5,207.2 355.3,208.4 356,208.9 356.8,209 357.5,209.5" fill="none" stroke="#5951a4" stroke-width="1.2" stroke-linejoin="round"/>
<polyline points="58.7,205.5 59.4,205.8 60.2,206 60.9,205.7 61.7,205.7 62.4,205.8 63.2,205.7 63.9,205.9 64.7,205.4 65.4,205.4 66.2,205.8 66.9,205.8 67.7,205.5 68.4,205.6 69.2,205.2 69.9,205.7 70.7,205.7 71.4,205.2 72.1,205.9 72.9,205.5 73.6,205.7 74.4,205.3 75.1,205.5 75.9,205.3 76.6,205.8 77.4,205.4 78.1,205.5 78.9,205.6 79.6,205.3 80.4,205.2 81.1,205.9 81.9,205.7 82.6,205.7 83.4,205.8 84.1,205.9 84.8,205.7 85.6,205.8 86.3,205.3 87.1,205.5 87.8,205.5 88.6,204.8 89.3,204.1 90.1,204.1 90.8,204.6 91.6,205.3 92.3,205.8 93.1,205 93.8,205.3 94.6,205.9 95.3,205.3 96,205.1 96.8,205.4 97.5,205.9 98.3,205.5 99,205.6 99.8,205.8 100.5,205.5 101.3,205.9 102,205.1 102.8,205.4 103.5,205.4 104.3,205.1 105,205.3 105.8,205.7 106.5,205.7 107.3,205.8 108,205.9 108.7,205.2 109.5,205.2 110.2,205.7 111,205.8 111.7,205.3 112.5,205.2 113.2,205.1 114,205.8 114.7,205.2 115.5,205.2 116.2,205.2 117,205.6 117.7,205.7 118.5,205.2 119.2,205.6 120,205.6 120.7,205.4 121.4,205.6 122.2,205.1 122.9,205.6 123.7,205.5 124.4,203.5 125.2,198.9 125.9,188.7 126.7,174.4 127.4,161.9 128.2,160.3 128.9,171 129.7,185.8 130.4,197.4 131.2,203 131.9,204.7 132.7,205.7 133.4,205.2 134.1,205.7 134.9,205.5 135.6,205 136.4,205.8 137.1,205.8 137.9,205.5 138.6,205.6 139.4,204.8 140.1,204.4 140.9,201.7 141.6,198.7 142.4,195.9 143.1,194.8 143.9,195.3 144.6,196 145.4,196.3 146.1,196 146.8,196.5 147.6,198.3 148.3,200.7 149.1,202.9 149.8,204.2 150.6,205.4 151.3,205.5 152.1,205.4 152.8,205.3 153.6,205.5 154.3,205.7 155.1,205.8 155.8,205.5 156.6,205.4 157.3,205 158.1,205 158.8,205 159.5,204.9 160.3,205 161,205.3 161.8,205.1 162.5,205.8 163.3,205.2 164,205.3 164.8,205.5 165.5,205.3 166.3,205 167,205.4 167.8,205.2 168.5,205.5 169.3,205.5 170,205 170.8,205.8 171.5,205.6 172.2,205.2 173,205.4 173.7,205.7 174.5,205 175.2,204.6 176,202.6 176.7,198.6 177.5,190.4 178.2,177.9 179,162.9 179.7,149.8 180.5,143.3 181.2,145.6 182,155.5 182.7,165.8 183.4,169.9 184.2,168.7 184.9,164.6 185.7,163.1 186.4,168.5 187.2,178.2 187.9,188.9 188.7,197.4 189.4,201.9 190.2,204.5 190.9,205 191.7,205.2 192.4,205.7 193.2,205.4 193.9,205.7 194.7,205.4 195.4,205 196.1,205.3 196.9,205.1 197.6,205.1 198.4,205.6 199.1,204.9 199.9,205.1 200.6,205.7 201.4,205 202.1,205.4 202.9,205.6 203.6,204.9 204.4,205.2 205.1,205 205.9,205.6 206.6,205 207.4,205.7 208.1,205.5 208.8,205.3 209.6,205.5 210.3,204.9 211.1,205 211.8,204.5 212.6,203.6 213.3,203.2 214.1,202.1 214.8,201.7 215.6,200.9 216.3,201 217.1,200.7 217.8,201.2 218.6,202.4 219.3,202.6 220.1,203.6 220.8,203.8 221.5,204.3 222.3,204.5 223,205.4 223.8,205.2 224.5,205 225.3,204.8 226,205 226.8,205.6 227.5,205.1 228.3,205.6 229,205.2 229.8,205 230.5,205.6 231.3,204.8 232,205.1 232.8,205.5 233.5,205.5 234.2,205.3 235,204.9 235.7,204.9 236.5,204.9 237.2,204 238,202.1 238.7,198.8 239.5,196.3 240.2,193.8 241,193.6 241.7,194.9 242.5,198 243.2,201.1 244,202.5 244.7,203.8 245.5,203.6 246.2,202.6 246.9,201.1 247.7,200.7 248.4,199.8 249.2,200.3 249.9,201 250.7,202.1 251.4,203.4 252.2,204.9 252.9,205.2 253.7,204.8 254.4,205 255.2,205.3 255.9,205.2 256.7,205.5 257.4,204.9 258.1,205.3 258.9,204.8 259.6,205.1 260.4,205.6 261.1,205.3 261.9,205.4 262.6,204.8 263.4,204.8 264.1,204.4 264.9,201.7 265.6,196.1 266.4,187.6 267.1,178.7 267.9,174.6 268.6,177.4 269.4,185.8 270.1,194.1 270.8,200.6 271.6,204 272.3,204.8 273.1,204.6 273.8,205.5 274.6,205.5 275.3,205 276.1,205.3 276.8,205.3 277.6,205.1 278.3,205.4 279.1,205.1 279.8,205.1 280.6,204.7 281.3,204.7 282.1,205.6 282.8,205.1 283.5,204.9 284.3,204.8 285,204.9 285.8,205 286.5,205 287.3,205.2 288,205.3 288.8,204.9 289.5,204.8 290.3,204.7 291,204.9 291.8,205.3 292.5,204.9 293.3,204.9 294,205.1 294.8,205 295.5,205.2 296.2,205.1 297,205.2 297.7,205.5 298.5,205.2 299.2,205.2 300,204.6 300.7,205.1 301.5,205.1 302.2,205.1 303,204.8 303.7,204.4 304.5,204.1 305.2,203.7 306,202.4 306.7,202.4 307.5,202.3 308.2,202.3 308.9,202.9 309.7,203.4 310.4,203.8 311.2,203.7 311.9,203.5 312.7,202.9 313.4,202.8 314.2,202.3 314.9,203 315.7,202.9 316.4,203.7 317.2,204.6 317.9,204.9 318.7,204.8 319.4,204.5 320.2,205.1 320.9,204.8 321.6,205.1 322.4,204.7 323.1,205.4 323.9,204.9 324.6,204.3 325.4,204.2 326.1,202.9 326.9,201 327.6,198.1 328.4,194.9 329.1,192.1 329.9,191.6 330.6,192.4 331.4,195 332.1,197.7 332.8,200.3 333.6,202.6 334.3,204.2 335.1,204.4 335.8,204.5 336.6,204.9 337.3,205.4 338.1,204.7 338.8,204.7 339.6,205.2 340.3,205.3 341.1,205.3 341.8,205 342.6,204.7 343.3,204.9 344.1,204.6 344.8,205.3 345.5,205.2 346.3,204.8 347,204.9 347.8,205.1 348.5,204.8 349.3,205.1 350,205.2 350.8,204.6 351.5,204.3 352.3,203 353,202.6 353.8,202.2 354.5,202.4 355.3,203.4 356,203.9 356.8,204.9 357.5,204.4" fill="none" stroke="#5e52a5" stroke-width="1.2" stroke-linejoin="round"/>
<polyline points="58.7,200.7 59.4,200.3 60.2,201.2 60.9,200.7 61.7,200.6 62.4,200.9 63.2,201.1 63.9,201.1 64.7,201.1 65.4,200.5 66.2,201.1 66.9,200.5 67.7,200.8 68.4,200.7 69.2,200.7 69.9,200.7 70.7,200.6 71.4,200.7 72.1,200.9 72.9,200.5 73.6,201 74.4,200.6 75.1,200.5 75.9,200.5 76.6,200.9 77.4,200.5 78.1,200.3 78.9,200.8 79.6,200.9 80.4,200.7 81.1,200.3 81.9,201.1 82.6,201.2 83.4,200.7 84.1,200.6 84.8,200.5 85.6,200.8 86.3,200.3 87.1,200.9 87.8,200.1 88.6,200.2 89.3,199.7 90.1,199.5 90.8,199.9 91.6,200.1 92.3,200.5 93.1,200.9 93.8,200.3 94.6,200.8 95.3,201 96,201 96.8,200.5 97.5,200.3 98.3,201 99,201.1 99.8,200.4 100.5,200.9 101.3,200.3 102,200.7 102.8,200.6 103.5,200.8 104.3,200.4 105,200.7 105.8,200.8 106.5,200.3 107.3,201 108,200.5 108.7,201.1 109.5,200.5 110.2,200.8 111,200.3 111.7,201.1 112.5,200.6 113.2,200.7 114,200.3 114.7,200.3 115.5,200.5 116.2,200.9 117,200.9 117.7,200.9 118.5,200.7 119.2,200.9 120,200.9 120.7,200.4 121.4,200.5 122.2,200.8 122.9,200.1 123.7,200.5 124.4,198.8 125.2,194.9 125.9,184.7 126.7,170.5 127.4,158.5 128.2,155.7 128.9,165.3 129.7,180.4 130.4,192 131.2,197.8 131.9,199.6 132.7,200.8 133.4,200.4 134.1,200.5 134.9,200.7 135.6,200.6 136.4,200.3 137.1,200.9 137.9,200.3 138.6,200.6 139.4,199.9 140.1,199 140.9,197.7 141.6,194.3 142.4,191.2 143.1,190.3 143.9,190.7 144.6,191.6 145.4,191.2 146.1,191.8 146.8,191.3 147.6,193.7 148.3,195.7 149.1,198.6 149.8,200 150.6,200.1 151.3,200.9 152.1,200.7 152.8,200.2 153.6,200.4 154.3,200.2 155.1,200.2 155.8,201 156.6,200.8 157.3,200.3 158.1,200.4 158.8,201 159.5,200.6 160.3,200.8 161,200.6 161.8,200.9 162.5,201 163.3,200.1 164,200.7 164.8,200.2 165.5,200.9 166.3,200.6 167,200.9 167.8,200.6 168.5,200.8 169.3,200.4 170,200.9 170.8,200.3 171.5,200.5 172.2,200.9 173,200.7 173.7,200.5 174.5,200 175.2,199.9 176,198.4 176.7,194 177.5,186.5 178.2,174.8 179,160.2 179.7,146.4 180.5,138.8 181.2,140.5 182,149.4 182.7,159.1 183.4,164.8 184.2,164 184.9,160.4 185.7,159.4 186.4,163.3 187.2,172.8 187.9,183.5 188.7,191.8 189.4,196.7 190.2,198.8 190.9,199.8 191.7,200.2 192.4,200.6 193.2,200.7 193.9,200.6 194.7,200.1 195.4,200.6 196.1,200.6 196.9,200.6 197.6,200.8 198.4,200 199.1,200.9 199.9,200.4 200.6,200.1 201.4,200.7 202.1,200.4 202.9,200.6 203.6,200.7 204.4,200.8 205.1,200.8 205.9,200.2 206.6,200.2 207.4,200.1 208.1,200.8 208.8,200.2 209.6,200.5 210.3,200 211.1,199.9 211.8,199.7 212.6,198.6 213.3,198.8 214.1,197.5 214.8,196.7 215.6,196.5 216.3,196.2 217.1,195.9 217.8,196.9 218.6,197.1 219.3,197.7 220.1,198.7 220.8,199 221.5,199.7 222.3,199.9 223,200.1 223.8,200.1 224.5,200.5 225.3,200.3 226,200.4 226.8,200.7 227.5,200.3 228.3,200.6 229,200.1 229.8,200.5 230.5,200.2 231.3,200.4 232,200.4 232.8,200.7 233.5,200.7 234.2,200 235,200.3 235.7,200.2 236.5,199.8 237.2,198.7 238,197.5 238.7,195 239.5,191.4 240.2,189.4 241,188.6 241.7,189.8 242.5,192.5 243.2,195.4 244,198.2 244.7,199 245.5,198.6 246.2,197.8 246.9,197.2 247.7,195.9 248.4,195.1 249.2,195.5 249.9,196.4 250.7,197.3 251.4,198.8 252.2,199.7 252.9,200.5 253.7,200.4 254.4,199.9 255.2,200.2 255.9,200.4 256.7,200.4 257.4,200.1 258.1,200.1 258.9,200.7 259.6,200.2 260.4,200.5 261.1,200.3 261.9,200.6 262.6,200.4 263.4,200.3 264.1,199.5 264.9,197.5 265.6,192.4 266.4,184 267.1,175.6 267.9,170.3 268.6,171.6 269.4,179.6 270.1,188.4 270.8,195.2 271.6,198.1 272.3,200.2 273.1,200.1 273.8,200 274.6,200.6 275.3,200.4 276.1,200.1 276.8,200.2 277.6,200.5 278.3,200.7 279.1,200.4 279.8,200.5 280.6,200.1 281.3,200.5 282.1,200.4 282.8,200.2 283.5,200 284.3,200.5 285,200.4 285.8,200.2 286.5,199.9 287.3,200.6 288,199.9 288.8,200.1 289.5,200.4 290.3,200.2 291,200.5 291.8,200.7 292.5,200.1 293.3,200.4 294,200.3 294.8,200.3 295.5,199.9 296.2,200.1 297,200.7 297.7,200.2 298.5,200.3 299.2,200.3 300,200 300.7,200.3 301.5,200.2 302.2,199.7 303,199.9 303.7,199.5 304.5,199 305.2,198.2 306,197.9 306.7,197.4 307.5,197.6 308.2,198 308.9,197.7 309.7,198.2 310.4,198.3 311.2,198.4 311.9,198.9 312.7,198.6 313.4,198.4 314.2,197.7 314.9,198.4 315.7,198.8 316.4,198.7 317.2,199.3 317.9,200.2 318.7,199.8 319.4,200 320.2,200.2 320.9,200.6 321.6,200.1 322.4,200.3 323.1,200.1 323.9,199.7 324.6,199.6 325.4,199 326.1,198.5 326.9,196.4 327.6,193.5 328.4,191 329.1,187.6 329.9,187 330.6,187.7 331.4,189.8 332.1,192.9 332.8,195.2 333.6,197.6 334.3,199 335.1,199.8 335.8,200.4 336.6,200.3 337.3,199.9 338.1,199.9 338.8,199.9 339.6,200.4 340.3,200.5 341.1,200.6 341.8,200.2 342.6,200.3 343.3,200.2 344.1,200.2 344.8,200.1 345.5,200.3 346.3,199.9 347,200.5 347.8,199.8 348.5,200.1 349.3,200.5 350,200.2 350.8,199.7 351.5,199.3 352.3,198.4 353,197.9 353.8,197.6 354.5,197.4 355.3,198.4 356,198.8 356.8,199.3 357.5,199.9" fill="none" stroke="#6453a6" stroke-width="1.2" stroke-linejoin="round"/>
<polyline points="58.7,196 59.4,195.6 60.2,196 60.9,195.6 61.7,196.4 62.4,196 63.2,195.8 63.9,196.4 64.7,195.6 65.4,196.3 66.2,195.9 66.9,196.2 67.7,195.6 68.4,195.9 69.2,195.7 69.9,196 70.7,195.8 71.4,195.8 72.1,196.1 72.9,196.2 73.6,195.6 74.4,196.3 75.1,195.6 75.9,196.2 76.6,196.3 77.4,196.3 78.1,195.7 78.9,195.5 79.6,196 80.4,195.8 81.1,196.1 81.9,195.6 82.6,195.8 83.4,196.2 84.1,196.3 84.8,195.7 85.6,196.3 86.3,195.6 87.1,196 87.8,195.8 88.6,195 89.3,194.7 90.1,194.3 90.8,195 91.6,194.9 92.3,195.9 93.1,195.5 93.8,196.2 94.6,195.6 95.3,195.5 96,196 96.8,196.3 97.5,196 98.3,195.8 99,196.1 99.8,195.8 100.5,196.3 101.3,195.9 102,195.7 102.8,195.9 103.5,195.7 104.3,196.2 105,195.6 105.8,196.2 106.5,195.5 107.3,195.4 108,195.5 108.7,195.8 109.5,196.1 110.2,196 111,195.6 111.7,195.9 112.5,195.5 113.2,196.2 114,195.9 114.7,195.5 115.5,195.8 116.2,195.8 117,196.2 117.7,196.2 118.5,196.1 119.2,195.5 120,195.5 120.7,196.1 121.4,195.5 122.2,196.3 122.9,195.7 123.7,195.1 124.4,194.4 125.2,189.7 125.9,180.8 126.7,167.4 127.4,154.4 128.2,151.4 128.9,160.6 129.7,174.7 130.4,186.9 131.2,192.6 131.9,195.3 132.7,196.1 133.4,195.8 134.1,196.2 134.9,195.8 135.6,195.6 136.4,195.7 137.1,195.8 137.9,196.2 138.6,195.7 139.4,195.8 140.1,194.5 140.9,193.1 141.6,190 142.4,187.3 143.1,185.6 143.9,185.4 144.6,186.8 145.4,187.2 146.1,186.3 146.8,187.1 147.6,188.3 148.3,190.7 149.1,193.4 149.8,195.1 150.6,195.8 151.3,195.4 152.1,196.1 152.8,195.8 153.6,195.7 154.3,196.1 155.1,195.8 155.8,196.1 156.6,195.7 157.3,195.8 158.1,195.9 158.8,196 159.5,195.9 160.3,196 161,196.1 161.8,196 162.5,195.4 163.3,195.8 164,195.4 164.8,196.2 165.5,195.4 166.3,195.8 167,195.5 167.8,195.7 168.5,195.6 169.3,196 170,195.5 170.8,196.1 171.5,196 172.2,196.2 173,195.8 173.7,195.7 174.5,195.7 175.2,194.7 176,194 176.7,190 177.5,183.3 178.2,171.5 179,156.6 179.7,142.4 180.5,134.5 181.2,134.9 182,142.7 182.7,152.6 183.4,159.8 184.2,159.4 184.9,156 185.7,154.5 186.4,159 187.2,167.6 187.9,178.3 188.7,186.3 189.4,192.3 190.2,194 190.9,195.4 191.7,195.7 192.4,196.1 193.2,195.9 193.9,195.5 194.7,195.5 195.4,196 196.1,195.8 196.9,196 197.6,196 198.4,195.9 199.1,195.8 199.9,195.3 200.6,195.2 201.4,195.4 202.1,195.7 202.9,195.7 203.6,195.4 204.4,195.3 205.1,195.5 205.9,195.6 206.6,195.9 207.4,195.5 208.1,195.3 208.8,195.3 209.6,195.9 210.3,195.2 211.1,195.3 211.8,195.1 212.6,193.8 213.3,193.5 214.1,192.8 214.8,192.7 215.6,191.5 216.3,191.2 217.1,191.2 217.8,191.6 218.6,192.1 219.3,192.7 220.1,193.6 220.8,194.3 221.5,194.5 222.3,194.9 223,195 223.8,195.7 224.5,195.2 225.3,195.6 226,195.2 226.8,196 227.5,195.2 228.3,195.4 229,195.9 229.8,195.3 230.5,195.9 231.3,195.9 232,195.7 232.8,195.9 233.5,195.6 234.2,195.2 235,195.4 235.7,195.3 236.5,195.2 237.2,194 238,192.4 238.7,190.1 239.5,186.9 240.2,184.7 241,184.2 241.7,185.6 242.5,187.7 243.2,190.3 244,193 244.7,193.9 245.5,193.8 246.2,193.1 246.9,192.6 247.7,190.9 248.4,190.6 249.2,190.7 249.9,191.1 250.7,192.9 251.4,193.9 252.2,194.9 252.9,195.4 253.7,195.7 254.4,195.7 255.2,195.3 255.9,195.5 256.7,195.8 257.4,195.9 258.1,195.8 258.9,195.4 259.6,195.6 260.4,195.4 261.1,195.3 261.9,195.9 262.6,195.4 263.4,195.8 264.1,194.4 264.9,192.9 265.6,188.2 266.4,179.9 267.1,171.6 267.9,166 268.6,166.3 269.4,173.5 270.1,182.2 270.8,189.6 271.6,193.4 272.3,194.5 273.1,195.4 273.8,195.1 274.6,195.8 275.3,195.2 276.1,195.8 276.8,195.5 277.6,196 278.3,195.8 279.1,195.1 279.8,195.6 280.6,195.2 281.3,195.7 282.1,195.7 282.8,195.9 283.5,195.5 284.3,195.2 285,195.5 285.8,195.6 286.5,195.1 287.3,195.2 288,195.4 288.8,195.9 289.5,195.4 290.3,195.6 291,195.1 291.8,195.6 292.5,195.4 293.3,195.4 294,195.6 294.8,195.5 295.5,195.3 296.2,195.1 297,195.5 297.7,195.6 298.5,195.1 299.2,195.9 300,195.2 300.7,195.3 301.5,195.3 302.2,195.3 303,194.8 303.7,194.3 304.5,194 305.2,193.5 306,193.7 306.7,193.1 307.5,193.1 308.2,192.4 308.9,192.7 309.7,193.8 310.4,193.7 311.2,193.8 311.9,194.2 312.7,193.6 313.4,193.1 314.2,193 314.9,193.5 315.7,193.4 316.4,194.3 317.2,194.5 317.9,195 318.7,194.8 319.4,195.2 320.2,195.1 320.9,195.3 321.6,195.5 322.4,195 323.1,195.2 323.9,195.2 324.6,195.3 325.4,194.9 326.1,193.5 326.9,191.5 327.6,189 328.4,186.4 329.1,184 329.9,182.3 330.6,182.3 331.4,185 332.1,187.3 332.8,190.7 333.6,192.8 334.3,194.5 335.1,195 335.8,195.3 336.6,194.9 337.3,195 338.1,195.7 338.8,195.6 339.6,195 340.3,195.7 341.1,195.6 341.8,195.5 342.6,195.8 343.3,195.6 344.1,195.5 344.8,195.5 345.5,195 346.3,195.6 347,195.7 347.8,195 348.5,195.4 349.3,195 350,195.1 350.8,194.7 351.5,194.7 352.3,194.1 353,192.9 353.8,192.7 354.5,192.7 355.3,193.2 356,193.9 356.8,194.9 357.5,195.2" fill="none" stroke="#7254a4" stroke-width="1.2" stroke-linejoin="round"/>
<polyline points="58.7,190.8 59.4,191.1 60.2,191.4 60.9,191 61.7,191.4 62.4,190.9 63.2,191.6 63.9,190.9 64.7,191.1 65.4,191.3 66.2,190.8 66.9,191.4 67.7,191.4 68.4,191.5 69.2,191.1 69.9,190.9 70.7,191 71.4,191.2 72.1,190.9 72.9,191.5 73.6,191.3 74.4,191 75.1,190.7 75.9,191 76.6,191 77.4,190.9 78.1,191.2 78.9,190.7 79.6,190.9 80.4,191.3 81.1,191.2 81.9,190.8 82.6,191.3 83.4,191.4 84.1,190.8 84.8,191.1 85.6,191.1 86.3,190.9 87.1,190.7 87.8,191.1 88.6,190.4 89.3,190.1 90.1,189.6 90.8,189.9 91.6,190.1 92.3,190.7 93.1,191 93.8,191.2 94.6,191 95.3,191.3 96,190.8 96.8,190.8 97.5,190.8 98.3,191.4 99,190.9 99.8,190.9 100.5,191.1 101.3,190.7 102,190.7 102.8,190.9 103.5,190.8 104.3,190.9 105,190.7 105.8,191.4 106.5,190.9 107.3,190.9 108,191 108.7,191.3 109.5,191.5 110.2,191 111,190.8 111.7,191.3 112.5,191.3 113.2,191.3 114,191.4 114.7,190.9 115.5,190.6 116.2,190.8 117,191.2 117.7,190.9 118.5,191.4 119.2,190.7 120,191.2 120.7,191.5 121.4,190.9 122.2,191.4 122.9,191.2 123.7,191.1 124.4,189.6 125.2,185.6 125.9,176.5 126.7,163.5 127.4,150 128.2,147.1 128.9,155.5 129.7,169.4 130.4,181.5 131.2,188 131.9,190.2 132.7,191.1 133.4,190.7 134.1,191.3 134.9,190.7 135.6,190.7 136.4,191 137.1,191.4 137.9,190.7 138.6,191.3 139.4,190.6 140.1,189.9 140.9,188.6 141.6,185.4 142.4,182.5 143.1,180.8 143.9,180.9 144.6,181.7 145.4,182.1 146.1,182.3 146.8,182 147.6,183.4 148.3,185.9 149.1,188.1 149.8,190.1 150.6,190.2 151.3,191.3 152.1,191 152.8,191.3 153.6,191 154.3,190.8 155.1,190.8 155.8,191 156.6,191.1 157.3,191.3 158.1,191.1 158.8,191.2 159.5,191.2 160.3,190.8 161,190.9 161.8,191 162.5,191.2 163.3,190.8 164,191.2 164.8,191.2 165.5,190.9 166.3,190.8 167,190.5 167.8,190.7 168.5,190.5 169.3,190.6 170,190.7 170.8,190.7 171.5,191.3 172.2,191.2 173,191.4 173.7,190.6 174.5,190.6 175.2,190.2 176,189.2 176.7,185.9 177.5,179.4 178.2,168 179,153.2 179.7,139.4 180.5,130.3 181.2,129.6 182,136.8 182.7,146.5 183.4,153.6 184.2,154.9 184.9,152.4 185.7,150.9 186.4,154.6 187.2,162.6 187.9,173.1 188.7,181.1 189.4,186.5 190.2,189.2 190.9,190.5 191.7,190.5 192.4,191.2 193.2,191.2 193.9,190.8 194.7,190.9 195.4,191.2 196.1,191.1 196.9,191.3 197.6,190.5 198.4,190.7 199.1,190.5 199.9,190.5 200.6,190.9 201.4,190.7 202.1,191 202.9,190.6 203.6,190.6 204.4,191.2 205.1,191.3 205.9,191.1 206.6,190.8 207.4,191 208.1,191.3 208.8,190.5 209.6,190.5 210.3,190.6 211.1,190.7 211.8,189.6 212.6,189.5 213.3,189.3 214.1,188.4 214.8,187.5 215.6,186.8 216.3,186.8 217.1,186.7 217.8,187.3 218.6,187.8 219.3,187.8 220.1,188.9 220.8,189.8 221.5,189.8 222.3,190.6 223,190.8 223.8,190.7 224.5,190.7 225.3,190.7 226,190.6 226.8,190.9 227.5,191.2 228.3,190.6 229,191.2 229.8,190.9 230.5,190.9 231.3,190.7 232,190.6 232.8,191.1 233.5,190.7 234.2,190.6 235,190.8 235.7,191 236.5,190 237.2,189.5 238,188.5 238.7,186 239.5,182.5 240.2,180.8 241,179.6 241.7,180.2 242.5,182.5 243.2,185.5 244,187.7 244.7,189.5 245.5,189.7 246.2,188.2 246.9,187.1 247.7,186.6 248.4,185.9 249.2,185.9 249.9,186.2 250.7,188.2 251.4,189 252.2,189.6 252.9,190.4 253.7,190.3 254.4,191 255.2,191.1 255.9,191.2 256.7,190.5 257.4,191.1 258.1,190.3 258.9,190.6 259.6,191 260.4,190.5 261.1,191.1 261.9,190.7 262.6,191.1 263.4,190.3 264.1,189.6 264.9,187.8 265.6,184.4 266.4,176.3 267.1,167.7 267.9,161.2 268.6,161.6 269.4,167.8 270.1,176.7 270.8,183.8 271.6,188.6 272.3,190.4 273.1,190.5 273.8,190.9 274.6,190.8 275.3,191.2 276.1,190.5 276.8,191.2 277.6,190.4 278.3,190.4 279.1,190.8 279.8,191.1 280.6,190.6 281.3,191 282.1,190.8 282.8,191.1 283.5,190.3 284.3,190.7 285,190.8 285.8,191.1 286.5,190.5 287.3,190.4 288,190.4 288.8,191.1 289.5,190.8 290.3,190.9 291,190.5 291.8,191 292.5,190.6 293.3,190.3 294,190.5 294.8,191.1 295.5,191.1 296.2,191 297,190.5 297.7,190.6 298.5,190.7 299.2,190.7 300,190.7 300.7,190.5 301.5,190.4 302.2,190.1 303,190 303.7,189.6 304.5,189.1 305.2,188.7 306,188.3 306.7,188.6 307.5,187.8 308.2,187.7 308.9,188.3 309.7,188.3 310.4,189.2 311.2,188.6 311.9,189 312.7,188.6 313.4,188.7 314.2,188.6 314.9,188.6 315.7,189 316.4,189.7 317.2,189.8 317.9,189.7 318.7,190.2 319.4,190.1 320.2,190.4 320.9,190.3 321.6,190.2 322.4,190.4 323.1,190.8 323.9,190.8 324.6,190.4 325.4,190.3 326.1,189.2 326.9,186.9 327.6,184.5 328.4,182.1 329.1,179.1 329.9,177.5 330.6,177.6 331.4,179.5 332.1,182.4 332.8,185.7 333.6,187.3 334.3,189.3 335.1,189.9 335.8,190.5 336.6,190.5 337.3,190.2 338.1,190.9 338.8,190.6 339.6,190.5 340.3,190.6 341.1,190.2 341.8,190.7 342.6,190.2 343.3,190.4 344.1,190.2 344.8,191 345.5,190.9 346.3,190.8 347,190.2 347.8,191 348.5,190.8 349.3,190.4 350,190 350.8,190.5 351.5,189.8 352.3,188.9 353,188.2 353.8,187.7 354.5,187.8 355.3,188.7 356,189.5 356.8,190.3 357.5,190.1" fill="none" stroke="#8456a2" stroke-width="1.2" stroke-linejoin="round"/>
<polyline points="58.7,186.6 59.4,186.6 60.2,185.9 60.9,186.2 61.7,186.3 62.4,186.2 63.2,186.3 63.9,186.2 64.7,186.5 65.4,186.7 66.2,186.7 66.9,186.8 67.7,186.5 68.4,186.7 69.2,186.7 69.9,186.3 70.7,185.9 71.4,186.2 72.1,186.5 72.9,186.1 73.6,186.6 74.4,186.7 75.1,186.5 75.9,186.4 76.6,186.2 77.4,186.4 78.1,186.1 78.9,186.7 79.6,185.9 80.4,186.5 81.1,186 81.9,186.7 82.6,186 83.4,186.6 84.1,186 84.8,186 85.6,186.2 86.3,186.5 87.1,186.7 87.8,186.3 88.6,185.2 89.3,185.2 90.1,184.6 90.8,185 91.6,185.5 92.3,186.4 93.1,186.6 93.8,186.6 94.6,185.9 95.3,186.4 96,186.2 96.8,186.2 97.5,186.5 98.3,186.7 99,186.7 99.8,186 100.5,186.6 101.3,185.9 102,186.4 102.8,186.1 103.5,186.6 104.3,186 105,186.5 105.8,186.4 106.5,186.2 107.3,186.6 108,186.5 108.7,186 109.5,186.5 110.2,186.4 111,186 111.7,186.5 112.5,186.5 113.2,186.5 114,186.4 114.7,186.4 115.5,186.1 116.2,186.3 117,185.9 117.7,186.7 118.5,186.1 119.2,185.9 120,186.5 120.7,186.7 121.4,186.3 122.2,186.6 122.9,186.2 123.7,185.8 124.4,185.2 125.2,181.5 125.9,172.7 126.7,159.6 127.4,146.6 128.2,142.3 128.9,150.4 129.7,164.5 130.4,176.3 131.2,182.8 131.9,185 132.7,186 133.4,186.6 134.1,186.5 134.9,186 135.6,186.2 136.4,185.9 137.1,185.8 137.9,185.9 138.6,186.5 139.4,185.5 140.1,185.1 140.9,183.8 141.6,181.3 142.4,177.8 143.1,176.5 143.9,176.5 144.6,177.1 145.4,177.1 146.1,177.5 146.8,177.4 147.6,179.4 148.3,181.4 149.1,183.7 149.8,185.3 150.6,185.7 151.3,186.2 152.1,186.5 152.8,185.7 153.6,186.2 154.3,186.5 155.1,186.6 155.8,186 156.6,186.2 157.3,186.6 158.1,186.2 158.8,185.9 159.5,186.1 160.3,186.4 161,186.2 161.8,186.1 162.5,186 163.3,186.5 164,185.9 164.8,185.8 165.5,185.9 166.3,185.8 167,186.3 167.8,185.8 168.5,186.4 169.3,186.4 170,186.1 170.8,185.8 171.5,186.5 172.2,186.4 173,186.5 173.7,186.2 174.5,186.3 175.2,185.9 176,184.2 176.7,181.3 177.5,174.8 178.2,164.8 179,150.4 179.7,136.3 180.5,125.3 181.2,124.2 182,130.5 182.7,140.6 183.4,147.8 184.2,150.1 184.9,147.4 185.7,146.3 186.4,149.9 187.2,157.5 187.9,168.1 188.7,175.9 189.4,181.8 190.2,184.8 190.9,185.2 191.7,186.1 192.4,186.2 193.2,186.2 193.9,185.9 194.7,186.5 195.4,186.2 196.1,186.4 196.9,185.8 197.6,186.5 198.4,186 199.1,186.3 199.9,186.1 200.6,186 201.4,185.9 202.1,186.4 202.9,186.3 203.6,186.4 204.4,185.7 205.1,186.4 205.9,186.4 206.6,186 207.4,186 208.1,185.7 208.8,186.4 209.6,186.1 210.3,186.1 211.1,185.5 211.8,185.2 212.6,184.8 213.3,183.8 214.1,183.4 214.8,182.6 215.6,182 216.3,182.3 217.1,181.6 217.8,182.3 218.6,183.1 219.3,182.9 220.1,184.3 220.8,185 221.5,185.2 222.3,185.6 223,185.3 223.8,185.5 224.5,186 225.3,186 226,185.7 226.8,185.7 227.5,185.9 228.3,186 229,186.4 229.8,186.3 230.5,185.9 231.3,185.9 232,185.7 232.8,185.7 233.5,185.6 234.2,186.3 235,186.4 235.7,185.5 236.5,185.5 237.2,185.2 238,183.4 238.7,181.6 239.5,178.8 240.2,176.2 241,174.9 241.7,175.4 242.5,178.2 243.2,180.4 244,182.8 244.7,184.2 245.5,184.3 246.2,183.6 246.9,183.1 247.7,181.5 248.4,180.6 249.2,180.7 249.9,181.7 250.7,183.4 251.4,183.9 252.2,184.9 252.9,185.9 253.7,185.9 254.4,185.5 255.2,186.2 255.9,186 256.7,185.6 257.4,185.6 258.1,186.2 258.9,185.8 259.6,186.1 260.4,185.8 261.1,185.7 261.9,186.3 262.6,186.2 263.4,186.1 264.1,185.5 264.9,184.1 265.6,180.1 266.4,172.9 267.1,164.1 267.9,157.7 268.6,156.5 269.4,161.9 270.1,170.9 270.8,178.7 271.6,182.9 272.3,185.1 273.1,186 273.8,185.9 274.6,186.4 275.3,185.8 276.1,186.2 276.8,186 277.6,185.5 278.3,185.7 279.1,185.6 279.8,185.8 280.6,185.8 281.3,185.7 282.1,185.5 282.8,186.2 283.5,185.7 284.3,186.1 285,186.1 285.8,185.6 286.5,185.8 287.3,185.6 288,185.6 288.8,185.8 289.5,186.2 290.3,186.3 291,185.9 291.8,185.7 292.5,186.1 293.3,186.3 294,186.3 294.8,186.2 295.5,185.7 296.2,186.3 297,186.1 297.7,186.1 298.5,185.7 299.2,185.4 300,186.3 300.7,186.2 301.5,185.4 302.2,185.2 303,185.7 303.7,185.3 304.5,184.7 305.2,184.4 306,183.8 306.7,183.4 307.5,183.4 308.2,183.6 308.9,183.9 309.7,184.1 310.4,184.5 311.2,184.1 311.9,184 312.7,184.2 313.4,183.5 314.2,183.4 314.9,183.9 315.7,184 316.4,184.8 317.2,184.5 317.9,185.2 318.7,186 319.4,186 320.2,185.6 320.9,185.9 321.6,185.6 322.4,186.1 323.1,185.5 323.9,185.5 324.6,186 325.4,185.1 326.1,184.6 326.9,182.6 327.6,180.2 328.4,177.4 329.1,175.3 329.9,173.7 330.6,173.1 331.4,174.7 332.1,177.7 332.8,180.5 333.6,182.5 334.3,184.5 335.1,185 335.8,185.8 336.6,185.9 337.3,185.8 338.1,185.8 338.8,185.6 339.6,186.2 340.3,185.6 341.1,186 341.8,186 342.6,185.7 343.3,185.6 344.1,185.7 344.8,185.4 345.5,186.1 346.3,186 347,185.6 347.8,186 348.5,186.1 349.3,186 350,185.4 350.8,185.2 351.5,184.9 352.3,184 353,183.4 353.8,183.4 354.5,183.3 355.3,183.4 356,184.7 356.8,184.9 357.5,185.8" fill="none" stroke="#95589e" stroke-width="1.2" stroke-linejoin="round"/>
<polyline points="58.7,182 59.4,181.5 60.2,181.9 60.9,181.2 61.7,181.2 62.4,181.6 63.2,181.8 63.9,181.9 64.7,181.5 65.4,181.5 66.2,181.7 66.9,181.4 67.7,181.5 68.4,181.3 69.2,181.9 69.9,181.9 70.7,181.6 71.4,181.6 72.1,181.8 72.9,181.4 73.6,181.8 74.4,181.7 75.1,181.5 75.9,181.3 76.6,181.3 77.4,181.6 78.1,181.6 78.9,181.1 79.6,181.1 80.4,181.4 81.1,181.9 81.9,181.6 82.6,181.4 83.4,181.7 84.1,181.9 84.8,181.1 85.6,181.1 86.3,181.8 87.1,181.5 87.8,181.1 88.6,180.9 89.3,180.5 90.1,179.7 90.8,180 91.6,180.9 92.3,181.6 93.1,181.5 93.8,181.8 94.6,181.1 95.3,181.9 96,181.7 96.8,181.2 97.5,181.8 98.3,181.8 99,181.9 99.8,181.8 100.5,181.4 101.3,181.2 102,181.8 102.8,181.8 103.5,181.2 104.3,181.5 105,181.6 105.8,181.8 106.5,181.7 107.3,181 108,181.8 108.7,181.7 109.5,181.2 110.2,181.1 111,181.1 111.7,181.5 112.5,181 113.2,181.4 114,181.6 114.7,181.5 115.5,181.3 116.2,181.2 117,181.8 117.7,181.7 118.5,181 119.2,181.8 120,181.2 120.7,181.6 121.4,181.7 122.2,181.7 122.9,181.4 123.7,180.7 124.4,180.5 125.2,176.4 125.9,168.8 126.7,155.9 127.4,142.3 128.2,137.8 128.9,145 129.7,158.6 130.4,170.5 131.2,177.4 131.9,180.4 132.7,181.7 133.4,181.1 134.1,181.3 134.9,181 135.6,181 136.4,181.6 137.1,181.1 137.9,181.1 138.6,181.5 139.4,181.2 140.1,180.6 140.9,179.1 141.6,176.6 142.4,174 143.1,171.9 143.9,171 144.6,172.2 145.4,172.6 146.1,172.4 146.8,172.7 147.6,174.5 148.3,176 149.1,178.4 149.8,179.7 150.6,180.8 151.3,181 152.1,181.1 152.8,181.6 153.6,181.2 154.3,181.5 155.1,181.1 155.8,181.7 156.6,181.3 157.3,181.5 158.1,181.1 158.8,181.5 159.5,181.1 160.3,181 161,181 161.8,181.7 162.5,181 163.3,181.1 164,181.2 164.8,181.2 165.5,181.8 166.3,181 167,181.3 167.8,181.4 168.5,181.5 169.3,181.1 170,181.1 170.8,181 171.5,181.6 172.2,181.5 173,181.6 173.7,181.7 174.5,181.4 175.2,181.3 176,179.5 176.7,177.4 177.5,171.9 178.2,162 179,147.7 179.7,133.3 180.5,122 181.2,118.9 182,123.9 182.7,133.5 183.4,142.3 184.2,144.9 184.9,143.2 185.7,142.2 186.4,144.6 187.2,152.4 187.9,162.6 188.7,170.6 189.4,176.6 190.2,179.9 190.9,180.7 191.7,180.9 192.4,181.2 193.2,181.3 193.9,181.4 194.7,180.9 195.4,181.1 196.1,181.5 196.9,181.4 197.6,181.4 198.4,180.9 199.1,181.1 199.9,181.6 200.6,180.9 201.4,181.7 202.1,181.2 202.9,181.3 203.6,181.1 204.4,181.3 205.1,181.6 205.9,181.2 206.6,181 207.4,181 208.1,181.4 208.8,181.4 209.6,180.9 210.3,180.7 211.1,181 211.8,180.1 212.6,179.5 213.3,179.5 214.1,178.9 214.8,178 215.6,177.3 216.3,177.6 217.1,177.4 217.8,177.6 218.6,177.6 219.3,178.7 220.1,179 220.8,179.6 221.5,180 222.3,180.9 223,180.4 223.8,180.6 224.5,181.1 225.3,180.9 226,181.5 226.8,180.8 227.5,181.2 228.3,181 229,180.9 229.8,181.3 230.5,180.8 231.3,181.5 232,181.6 232.8,181.2 233.5,180.9 234.2,180.8 235,180.8 235.7,181.1 236.5,180.5 237.2,180.2 238,179.3 238.7,176.8 239.5,174 240.2,171.8 241,170.3 241.7,171 242.5,173 243.2,175.5 244,177.8 244.7,179.3 245.5,180 246.2,179.5 246.9,178.1 247.7,176.6 248.4,175.8 249.2,176.3 249.9,177.2 250.7,178.2 251.4,179.8 252.2,180.3 252.9,180.5 253.7,181.3 254.4,181.1 255.2,181 255.9,180.9 256.7,181 257.4,181 258.1,181.4 258.9,180.9 259.6,180.8 260.4,181.6 261.1,180.8 261.9,181.2 262.6,181.5 263.4,181.4 264.1,180.3 264.9,179 265.6,176.1 266.4,169.3 267.1,160.6 267.9,153 268.6,151.8 269.4,156.2 270.1,165.1 270.8,173 271.6,178 272.3,180.1 273.1,180.8 273.8,181.3 274.6,181.4 275.3,181.4 276.1,181.5 276.8,181.4 277.6,181.3 278.3,181.1 279.1,181.4 279.8,181.1 280.6,181.2 281.3,180.7 282.1,181.1 282.8,180.7 283.5,181.1 284.3,181.4 285,181 285.8,181.4 286.5,181.4 287.3,181.5 288,180.9 288.8,180.7 289.5,181.2 290.3,181.2 291,181.2 291.8,181.2 292.5,180.9 293.3,181.2 294,181.4 294.8,180.8 295.5,181 296.2,181.5 297,180.8 297.7,180.9 298.5,181.2 299.2,181 300,180.7 300.7,181.1 301.5,181 302.2,181 303,180.6 303.7,180.2 304.5,179.7 305.2,179.1 306,179.3 306.7,178.8 307.5,178.1 308.2,178.2 308.9,178.6 309.7,178.8 310.4,179.4 311.2,179 311.9,179.3 312.7,179.3 313.4,179.3 314.2,179.2 314.9,178.6 315.7,179 316.4,180.1 317.2,180.2 317.9,180.5 318.7,180.7 319.4,181 320.2,180.6 320.9,181.1 321.6,181 322.4,180.6 323.1,180.9 323.9,181 324.6,181 325.4,180.6 326.1,179.6 326.9,178.1 327.6,176.4 328.4,173.6 329.1,170.9 329.9,169.1 330.6,168.2 331.4,169.8 332.1,172.4 332.8,175.2 333.6,177.2 334.3,179.5 335.1,180 335.8,181.1 336.6,181.2 337.3,181.4 338.1,180.7 338.8,181.3 339.6,181.2 340.3,181.4 341.1,181.2 341.8,180.8 342.6,180.8 343.3,180.6 344.1,180.6 344.8,180.9 345.5,180.6 346.3,181.4 347,180.6 347.8,181 348.5,181.3 349.3,180.7 350,180.6 350.8,180.8 351.5,180.7 352.3,179.4 353,178.8 353.8,178.4 354.5,177.9 355.3,179.2 356,179.8 356.8,180.4 357.5,181" fill="none" stroke="#a65e8f" stroke-width="1.2" stroke-linejoin="round"/>
<polyline points="58.7,176.6 59.4,176.6 60.2,177.1 60.9,177.1 61.7,177 62.4,176.7 63.2,176.6 63.9,176.3 64.7,176.9 65.4,176.3 66.2,176.8 66.9,176.8 67.7,177 68.4,177 69.2,176.3 69.9,176.3 70.7,176.5 71.4,177 72.1,177 72.9,177 73.6,176.9 74.4,176.5 75.1,177.1 75.9,176.7 76.6,176.6 77.4,177.1 78.1,176.8 78.9,176.5 79.6,176.6 80.4,176.8 81.1,176.4 81.9,176.6 82.6,176.9 83.4,176.8 84.1,176.3 84.8,176.4 85.6,176.3 86.3,176.6 87.1,177 87.8,176.7 88.6,176.1 89.3,175.2 90.1,175.5 90.8,175.1 91.6,175.7 92.3,176.4 93.1,177.1 93.8,176.4 94.6,176.8 95.3,176.5 96,176.6 96.8,176.5 97.5,176.8 98.3,176.3 99,176.3 99.8,176.3 100.5,176.6 101.3,176.8 102,176.8 102.8,176.9 103.5,176.3 104.3,176.4 105,176.4 105.8,176.4 106.5,176.2 107.3,176.5 108,176.8 108.7,176.4 109.5,176.9 110.2,176.6 111,177 111.7,176.3 112.5,176.7 113.2,176.9 114,176.3 114.7,177 115.5,176.3 116.2,176.4 117,177 117.7,176.4 118.5,176.6 119.2,176.3 120,176.6 120.7,176.7 121.4,176.2 122.2,177 122.9,176.3 123.7,176.7 124.4,175.6 125.2,172.6 125.9,164.3 126.7,152 127.4,138.5 128.2,133.4 128.9,139.3 129.7,152.8 130.4,165.7 131.2,172.6 131.9,175.4 132.7,176.7 133.4,176.4 134.1,176.8 134.9,176.7 135.6,176.2 136.4,176.2 137.1,176.2 137.9,176.7 138.6,176.5 139.4,176.1 140.1,175.5 140.9,174.4 141.6,171.7 142.4,169.3 143.1,166.7 143.9,166.7 144.6,167.6 145.4,167.8 146.1,168.4 146.8,168.1 147.6,169.9 148.3,171.1 149.1,173.7 149.8,175.1 150.6,176.5 151.3,176.3 152.1,176.7 152.8,176.8 153.6,176.3 154.3,177 155.1,176.6 155.8,176.9 156.6,176.2 157.3,176.2 158.1,177 158.8,176.6 159.5,176.6 160.3,176.4 161,176.3 161.8,176.7 162.5,176.2 163.3,176.8 164,176.9 164.8,176.3 165.5,176.9 166.3,176.8 167,176.5 167.8,176.7 168.5,176.8 169.3,176.1 170,176.6 170.8,176.3 171.5,176.8 172.2,176.2 173,176.8 173.7,176.1 174.5,176.3 175.2,175.7 176,175 176.7,172.7 177.5,167.6 178.2,158.1 179,145.2 179.7,130.7 180.5,118 181.2,113.6 182,117.8 182.7,127 183.4,136.2 184.2,139.9 184.9,138.9 185.7,137.5 186.4,140 187.2,147.8 187.9,156.8 188.7,165.5 189.4,171.5 190.2,174.9 190.9,176.2 191.7,176.4 192.4,176.5 193.2,176.7 193.9,176.6 194.7,176.4 195.4,176.2 196.1,176.4 196.9,176.8 197.6,176.1 198.4,176.6 199.1,176.1 199.9,176 200.6,176.8 201.4,176.4 202.1,176.1 202.9,176.6 203.6,176.4 204.4,176.6 205.1,176.9 205.9,176.7 206.6,176.8 207.4,176.6 208.1,176.3 208.8,176.3 209.6,175.9 210.3,176 211.1,176.1 211.8,175.2 212.6,175.1 213.3,174.6 214.1,173.7 214.8,173.3 215.6,173.1 216.3,172.5 217.1,172.7 217.8,172.2 218.6,173.2 219.3,173.1 220.1,174.5 220.8,175.2 221.5,175.2 222.3,175.9 223,176 223.8,176.5 224.5,176 225.3,176.2 226,176.2 226.8,176 227.5,176 228.3,176.3 229,176.2 229.8,176.9 230.5,176.8 231.3,176.5 232,176 232.8,176.6 233.5,176.3 234.2,176.8 235,176.5 235.7,176 236.5,176 237.2,175.3 238,174.9 238.7,172.8 239.5,170.2 240.2,167.1 241,166.2 241.7,165.6 242.5,168 243.2,170 244,172.7 244.7,174.4 245.5,174.3 246.2,174.4 246.9,173.1 247.7,172.5 248.4,171 249.2,170.9 249.9,172.5 250.7,173.2 251.4,174.8 252.2,175.8 252.9,176.1 253.7,176.1 254.4,175.9 255.2,175.9 255.9,175.9 256.7,176.2 257.4,176.2 258.1,176.7 258.9,176.2 259.6,176.3 260.4,176.5 261.1,176 261.9,176.6 262.6,176.7 263.4,176.6 264.1,176.2 264.9,174.6 265.6,171.3 266.4,165.9 267.1,157.3 267.9,149.6 268.6,146.8 269.4,150.8 270.1,158.7 270.8,167.3 271.6,172.7 272.3,175.1 273.1,176.2 273.8,176 274.6,176.5 275.3,176 276.1,176.6 276.8,176.7 277.6,176.3 278.3,176.4 279.1,176.5 279.8,176.1 280.6,176.6 281.3,176.2 282.1,176 282.8,176.4 283.5,176.3 284.3,175.9 285,176.2 285.8,176.6 286.5,176.7 287.3,176.7 288,176.4 288.8,176.7 289.5,176.2 290.3,176.4 291,176.5 291.8,176.3 292.5,175.9 293.3,176.5 294,176.6 294.8,176.5 295.5,176.4 296.2,175.9 297,176.1 297.7,176.3 298.5,176.6 299.2,176.7 300,176.6 300.7,175.9 301.5,176 302.2,176.3 303,175.7 303.7,176 304.5,175.2 305.2,174.9 306,174.6 306.7,173.7 307.5,173.5 308.2,173.7 308.9,174.2 309.7,174 310.4,174.5 311.2,174.4 311.9,174.9 312.7,174 313.4,174.6 314.2,174.3 314.9,174.2 315.7,174.7 316.4,175.2 317.2,175.1 317.9,175.2 318.7,176.1 319.4,176.3 320.2,176 320.9,176.5 321.6,176.3 322.4,176.1 323.1,176.3 323.9,176.5 324.6,176.4 325.4,175.7 326.1,174.7 326.9,173.5 327.6,172.3 328.4,169.3 329.1,166.6 329.9,164.8 330.6,163.8 331.4,164.9 332.1,166.8 332.8,170 333.6,171.9 334.3,173.9 335.1,175.3 335.8,176.1 336.6,176.1 337.3,176.5 338.1,176 338.8,176 339.6,176.1 340.3,175.8 341.1,176.6 341.8,176 342.6,175.9 343.3,176.5 344.1,176.3 344.8,176.6 345.5,176.1 346.3,176 347,176.3 347.8,176 348.5,176.3 349.3,176 350,176.3 350.8,175.5 351.5,175.7 352.3,175.5 353,174.8 353.8,173.6 354.5,173.3 355.3,173.8 356,174.8 356.8,174.9 357.5,175.5" fill="none" stroke="#b76580" stroke-width="1.2" stroke-linejoin="round"/>
<polyline points="58.7,172.3 59.4,172.1 60.2,171.8 60.9,172.4 61.7,172.4 62.4,172.1 63.2,171.6 63.9,171.5 64.7,172.1 65.4,171.6 66.2,171.7 66.9,171.6 67.7,171.9 68.4,171.5 69.2,171.8 69.9,171.5 70.7,171.9 71.4,172.2 72.1,171.9 72.9,171.9 73.6,172.1 74.4,172 75.1,171.9 75.9,171.8 76.6,172.2 77.4,172.1 78.1,171.9 78.9,171.9 79.6,172 80.4,171.8 81.1,172.2 81.9,171.9 82.6,172.1 83.4,171.7 84.1,171.7 84.8,171.6 85.6,171.9 86.3,172.1 87.1,171.4 87.8,171.6 88.6,171.3 89.3,170.8 90.1,170.4 90.8,170.4 91.6,170.9 92.3,171.6 93.1,171.6 93.8,172.1 94.6,171.9 95.3,172 96,172.1 96.8,172 97.5,171.6 98.3,171.7 99,172.1 99.8,172.1 100.5,171.6 101.3,171.7 102,171.7 102.8,171.7 103.5,171.7 104.3,172.1 105,172.3 105.8,172 106.5,172.3 107.3,171.4 108,171.8 108.7,171.7 109.5,171.4 110.2,171.6 111,172.1 111.7,172 112.5,172.2 113.2,171.6 114,171.6 114.7,171.9 115.5,172 116.2,172 117,171.8 117.7,171.6 118.5,171.5 119.2,171.5 120,171.5 120.7,171.9 121.4,171.9 122.2,172 122.9,171.4 123.7,171.9 124.4,171.1 125.2,168 125.9,160.1 126.7,147.9 127.4,135.1 128.2,128.4 128.9,133.9 129.7,147.4 130.4,160.2 131.2,167.2 131.9,170.7 132.7,171.9 133.4,171.4 134.1,171.9 134.9,171.9 135.6,171.7 136.4,172 137.1,172.2 137.9,171.9 138.6,171.8 139.4,172 140.1,171.1 140.9,169.5 141.6,167.6 142.4,164.6 143.1,162.5 143.9,162.2 144.6,162.9 145.4,163.1 146.1,163.3 146.8,163.8 147.6,165 148.3,166.3 149.1,168.4 149.8,170.6 150.6,171.2 151.3,171.6 152.1,171.9 152.8,172.2 153.6,171.9 154.3,171.6 155.1,171.7 155.8,171.8 156.6,172.1 157.3,172 158.1,171.9 158.8,171.8 159.5,171.9 160.3,171.4 161,172.1 161.8,171.3 162.5,172 163.3,171.4 164,172 164.8,171.7 165.5,171.9 166.3,172.2 167,171.5 167.8,171.5 168.5,171.9 169.3,171.5 170,171.8 170.8,171.3 171.5,172.1 172.2,171.8 173,172 173.7,171.6 174.5,171.4 175.2,171.1 176,170.5 176.7,168.5 177.5,163.4 178.2,155.5 179,142.6 179.7,127.3 180.5,115 181.2,108.7 182,112.3 182.7,120.7 183.4,129.9 184.2,134.9 184.9,135 185.7,134 186.4,135.9 187.2,142.5 187.9,151.6 188.7,160.4 189.4,166.1 190.2,169.5 190.9,170.6 191.7,171.8 192.4,171.6 193.2,171.7 193.9,171.8 194.7,171.4 195.4,171.9 196.1,171.3 196.9,171.8 197.6,171.8 198.4,171.6 199.1,171.6 199.9,171.9 200.6,172 201.4,171.3 202.1,171.8 202.9,172 203.6,171.5 204.4,171.6 205.1,171.8 205.9,171.8 206.6,171.3 207.4,171.8 208.1,171.7 208.8,171.2 209.6,171.6 210.3,171.5 211.1,171.5 211.8,170.7 212.6,170.3 213.3,170 214.1,169.4 214.8,169 215.6,168 216.3,167.9 217.1,167.4 217.8,167.9 218.6,168 219.3,169.1 220.1,169.5 220.8,169.4 221.5,170.2 222.3,170.7 223,171.1 223.8,171.4 224.5,171.7 225.3,171.8 226,171.5 226.8,171.4 227.5,171.8 228.3,171.5 229,171.9 229.8,171.5 230.5,171.9 231.3,171.6 232,171.8 232.8,171.6 233.5,171.9 234.2,171.6 235,171.5 235.7,171.9 236.5,171.5 237.2,170.7 238,169.8 238.7,168 239.5,165.4 240.2,163 241,161.6 241.7,161.3 242.5,162.5 243.2,165.2 244,167.4 244.7,169.4 245.5,169.9 246.2,169.1 246.9,168.3 247.7,167.2 248.4,166.9 249.2,166.5 249.9,167.8 250.7,168.2 251.4,169.3 252.2,170.5 252.9,171.4 253.7,171.1 254.4,171.8 255.2,171.3 255.9,171.5 256.7,172 257.4,171.2 258.1,171.6 258.9,171.3 259.6,171.4 260.4,171.5 261.1,171.2 261.9,171.8 262.6,171.2 263.4,171.6 264.1,171.6 264.9,170.3 265.6,167.8 266.4,162.3 267.1,153.8 267.9,146.3 268.6,142.5 269.4,145.3 270.1,152.9 270.8,160.6 271.6,166.5 272.3,169.6 273.1,170.6 273.8,171.5 274.6,171.2 275.3,171.7 276.1,171.1 276.8,171.2 277.6,171.3 278.3,171.8 279.1,171.9 279.8,171.1 280.6,171.5 281.3,171.4 282.1,171.2 282.8,171.8 283.5,171.3 284.3,171.5 285,171.2 285.8,171.5 286.5,171.8 287.3,171.1 288,171.7 288.8,171.3 289.5,171.2 290.3,171.7 291,171.3 291.8,171.6 292.5,171.7 293.3,171.7 294,171.1 294.8,171.6 295.5,171.5 296.2,171.5 297,171.9 297.7,171.2 298.5,171.3 299.2,171.1 300,171.6 300.7,171.7 301.5,171.5 302.2,171 303,170.9 303.7,170.9 304.5,170.4 305.2,170.3 306,169.1 306.7,169.2 307.5,168.9 308.2,168.6 308.9,169.3 309.7,169.1 310.4,169.7 311.2,169.5 311.9,170.1 312.7,169.8 313.4,169.3 314.2,169.3 314.9,169.5 315.7,169.5 316.4,170.2 317.2,170.5 317.9,171.2 318.7,170.8 319.4,171.5 320.2,171.1 320.9,171.4 321.6,171.3 322.4,171.3 323.1,171.7 323.9,171.1 324.6,171.5 325.4,170.7 326.1,170.2 326.9,169.2 327.6,167.3 328.4,165.1 329.1,162.3 329.9,159.8 330.6,159.6 331.4,160.4 332.1,162.1 332.8,164.7 333.6,167.5 334.3,169.4 335.1,170 335.8,171 336.6,171.5 337.3,171.6 338.1,171.3 338.8,171.7 339.6,171.4 340.3,171.4 341.1,171.4 341.8,171.4 342.6,171.1 343.3,171.8 344.1,171 344.8,171.7 345.5,171.8 346.3,171.1 347,171.3 347.8,171.3 348.5,171.6 349.3,171.1 350,171.5 350.8,171 351.5,171.2 352.3,170.3 353,169.6 353.8,169.2 354.5,168.8 355.3,169.4 356,169.5 356.8,170.1 357.5,171.1" fill="none" stroke="#c66b71" stroke-width="1.2" stroke-linejoin="round"/>
<polyline points="58.7,167.1 59.4,166.9 60.2,167.5 60.9,166.8 61.7,166.8 62.4,167.5 63.2,167.4 63.9,167.5 64.7,167.4 65.4,167.5 66.2,167.1 66.9,167.4 67.7,167.3 68.4,167.2 69.2,167.2 69.9,166.9 70.7,166.9 71.4,167.5 72.1,167.4 72.9,167.6 73.6,167.3 74.4,167.5 75.1,166.9 75.9,166.9 76.6,166.7 77.4,167.4 78.1,167.5 78.9,166.9 79.6,167.2 80.4,166.7 81.1,167.2 81.9,167.3 82.6,167.5 83.4,166.7 84.1,167.1 84.8,167.2 85.6,167.2 86.3,166.8 87.1,166.7 87.8,166.9 88.6,166.7 89.3,165.9 90.1,165.1 90.8,165.8 91.6,166.1 92.3,166.7 93.1,167 93.8,167 94.6,167.3 95.3,167 96,166.7 96.8,167.5 97.5,167.2 98.3,166.7 99,166.6 99.8,167.5 100.5,167 101.3,166.9 102,166.8 102.8,167.1 103.5,167.4 104.3,167.2 105,166.9 105.8,166.9 106.5,167.3 107.3,166.9 108,166.9 108.7,166.9 109.5,167.5 110.2,167.1 111,167.2 111.7,167 112.5,167.2 113.2,167.4 114,166.9 114.7,167.2 115.5,166.8 116.2,167.2 117,167 117.7,166.8 118.5,167.4 119.2,166.8 120,167.4 120.7,166.6 121.4,167.5 122.2,166.8 122.9,167.1 123.7,167.1 124.4,166.2 125.2,163.5 125.9,157 126.7,145.6 127.4,131.8 128.2,124.7 128.9,128.1 129.7,141 130.4,153.9 131.2,162.2 131.9,165.2 132.7,166.9 133.4,166.8 134.1,166.7 134.9,167.1 135.6,166.8 136.4,167.2 137.1,167.3 137.9,167.4 138.6,167 139.4,166.5 140.1,166.6 140.9,165.2 141.6,162.9 142.4,160.7 143.1,158.5 143.9,157.2 144.6,157.6 145.4,157.9 146.1,158.3 146.8,159.1 147.6,159.7 148.3,161.7 149.1,164.1 149.8,165.4 150.6,166 151.3,167 152.1,166.8 152.8,166.8 153.6,167.4 154.3,166.6 155.1,167.3 155.8,167.1 156.6,166.8 157.3,167.4 158.1,167.1 158.8,167.3 159.5,167 160.3,167.4 161,167.3 161.8,167.2 162.5,167.3 163.3,167.3 164,167.2 164.8,166.9 165.5,167.3 166.3,166.6 167,167 167.8,167.2 168.5,167.2 169.3,166.6 170,167.3 170.8,166.7 171.5,167.3 172.2,166.5 173,167 173.7,166.8 174.5,166.5 175.2,167 176,166.4 176.7,164.1 177.5,160.3 178.2,152.7 179,141.5 179.7,126.8 180.5,113.4 181.2,105.1 182,105.4 182.7,112.3 183.4,121.8 184.2,128 184.9,129.3 185.7,129.4 186.4,130.5 187.2,136.6 187.9,145.7 188.7,154.5 189.4,160.6 190.2,164.3 190.9,165.8 191.7,166.7 192.4,166.9 193.2,166.5 193.9,167.1 194.7,166.4 195.4,166.5 196.1,166.4 196.9,166.5 197.6,167.1 198.4,166.6 199.1,166.8 199.9,167.1 200.6,166.4 201.4,166.7 202.1,166.6 202.9,166.8 203.6,167.2 204.4,166.5 205.1,167.1 205.9,167.1 206.6,166.7 207.4,167.1 208.1,166.9 208.8,166.6 209.6,167.1 210.3,166.4 211.1,166.8 211.8,166.1 212.6,165.6 213.3,165.1 214.1,165.1 214.8,164.4 215.6,163.1 216.3,163.3 217.1,163 217.8,163.1 218.6,163.1 219.3,163.5 220.1,164.2 220.8,165 221.5,165.3 222.3,165.8 223,166.5 223.8,166 224.5,166.2 225.3,166.5 226,166.3 226.8,166.8 227.5,166.5 228.3,167 229,166.6 229.8,166.6 230.5,166.4 231.3,166.5 232,166.5 232.8,167 233.5,166.5 234.2,166.8 235,167 235.7,166.9 236.5,166.3 237.2,165.9 238,165.1 238.7,163.7 239.5,161.9 240.2,159.3 241,157 241.7,156.7 242.5,157.7 243.2,160.2 244,162.6 244.7,163.9 245.5,165.2 246.2,164.4 246.9,164 247.7,162.4 248.4,162.1 249.2,162 249.9,162.6 250.7,164.1 251.4,164.9 252.2,165.9 252.9,166.8 253.7,166.3 254.4,166.8 255.2,167.2 255.9,166.3 256.7,167 257.4,167 258.1,167.2 258.9,167.1 259.6,166.6 260.4,166.7 261.1,166.7 261.9,167 262.6,166.9 263.4,166.3 264.1,166.6 264.9,165.3 265.6,163.2 266.4,159.3 267.1,151.3 267.9,143.7 268.6,137.9 269.4,138.7 270.1,145.3 270.8,153.8 271.6,160.3 272.3,164.7 273.1,166 273.8,166.8 274.6,166.8 275.3,167 276.1,166.5 276.8,166.6 277.6,166.5 278.3,166.6 279.1,166.6 279.8,166.3 280.6,166.4 281.3,166.6 282.1,166.9 282.8,166.3 283.5,166.8 284.3,167.1 285,166.8 285.8,166.5 286.5,166.3 287.3,166.6 288,166.5 288.8,166.3 289.5,166.4 290.3,166.7 291,166.7 291.8,166.5 292.5,166.8 293.3,167 294,166.6 294.8,166.4 295.5,166.9 296.2,166.5 297,166.3 297.7,167 298.5,167 299.2,166.7 300,166.8 300.7,166.2 301.5,166.1 302.2,166.5 303,166 303.7,165.9 304.5,166 305.2,164.8 306,165.1 306.7,164.8 307.5,164.2 308.2,164.5 308.9,164.2 309.7,164.5 310.4,164.3 311.2,165 311.9,164.6 312.7,164.6 313.4,164.6 314.2,164.8 314.9,164.7 315.7,164.8 316.4,165.2 317.2,165.4 317.9,165.9 318.7,166.4 319.4,166.3 320.2,166.1 320.9,166.9 321.6,166.8 322.4,167.1 323.1,167 323.9,167 324.6,166.6 325.4,166 326.1,165.7 326.9,164.6 327.6,163.1 328.4,161.1 329.1,158.5 329.9,156.7 330.6,155 331.4,155.2 332.1,156.5 332.8,159.5 333.6,161.6 334.3,163.9 335.1,165.2 335.8,166.1 336.6,166.7 337.3,166.3 338.1,166.3 338.8,166.5 339.6,166.9 340.3,166.5 341.1,166.3 341.8,166.1 342.6,166.3 343.3,167 344.1,166.2 344.8,166.4 345.5,166.8 346.3,166.2 347,166.3 347.8,166.2 348.5,166.8 349.3,166.5 350,166.6 350.8,166.6 351.5,166 352.3,165.7 353,165.3 353.8,164.5 354.5,163.7 355.3,164.1 356,164.2 356.8,165.2 357.5,165.4" fill="none" stroke="#cd7166" stroke-width="1.2" stroke-linejoin="round"/>
<polyline points="58.7,162.8 59.4,162.4 60.2,162.3 60.9,162.1 61.7,161.9 62.4,162.2 63.2,162.4 63.9,162.2 64.7,162.3 65.4,162.2 66.2,161.9 66.9,162.8 67.7,162.5 68.4,162 69.2,162.7 69.9,162.1 70.7,162.7 71.4,162.2 72.1,162.1 72.9,162.6 73.6,162.4 74.4,162.6 75.1,162.1 75.9,162.3 76.6,162.2 77.4,162.5 78.1,162.2 78.9,161.9 79.6,162.1 80.4,161.9 81.1,162.5 81.9,162.3 82.6,162.4 83.4,162.4 84.1,162 84.8,162.6 85.6,162.2 86.3,162 87.1,161.8 87.8,162.5 88.6,161.9 89.3,161.1 90.1,160.3 90.8,161.2 91.6,161.1 92.3,162 93.1,162.1 93.8,161.9 94.6,162.7 95.3,162.4 96,162.6 96.8,162.6 97.5,162.4 98.3,162.1 99,162.2 99.8,162.6 100.5,162 101.3,162.3 102,162.6 102.8,162 103.5,162 104.3,162.5 105,161.9 105.8,162 106.5,162.5 107.3,162.7 108,161.9 108.7,162 109.5,162.6 110.2,162 111,162 111.7,162.1 112.5,161.9 113.2,161.8 114,162.4 114.7,161.9 115.5,161.9 116.2,162.4 117,162.1 117.7,162.1 118.5,161.9 119.2,162.2 120,162.4 120.7,162.4 121.4,162.2 122.2,162.5 122.9,161.9 123.7,161.7 124.4,161.7 125.2,159.2 125.9,153.5 126.7,143.2 127.4,129.2 128.2,120.3 128.9,122.7 129.7,134.1 130.4,147.1 131.2,155.8 131.9,160.4 132.7,161.5 133.4,162.4 134.1,162.5 134.9,162.3 135.6,161.9 136.4,162.5 137.1,162.6 137.9,162 138.6,162.5 139.4,161.9 140.1,162 140.9,160.9 141.6,158.8 142.4,156.1 143.1,154.1 143.9,152.7 144.6,153 145.4,153.4 146.1,154 146.8,153.8 147.6,154.6 148.3,156.2 149.1,158.4 149.8,160.1 150.6,161.7 151.3,162 152.1,162.3 152.8,162.3 153.6,161.9 154.3,162.4 155.1,162.3 155.8,162.3 156.6,161.8 157.3,162 158.1,162.2 158.8,162.3 159.5,161.8 160.3,161.7 161,162.2 161.8,162.1 162.5,161.8 163.3,162.4 164,162.4 164.8,162.5 165.5,162.1 166.3,161.9 167,162.4 167.8,162.2 168.5,161.7 169.3,162.1 170,162.2 170.8,161.8 171.5,161.8 172.2,162.2 173,162.5 173.7,162 174.5,161.9 175.2,161.6 176,161.4 176.7,160.4 177.5,157.3 178.2,151.5 179,141.4 179.7,127.8 180.5,113 181.2,102.2 182,98.7 182.7,103.4 183.4,111.4 184.2,119.7 184.9,122.6 185.7,123.6 186.4,125 187.2,130.4 187.9,138 188.7,147.7 189.4,154 190.2,158.4 190.9,161 191.7,161.4 192.4,162.2 193.2,161.8 193.9,162.1 194.7,162.2 195.4,162.3 196.1,161.8 196.9,161.9 197.6,162.4 198.4,161.6 199.1,162.3 199.9,162.2 200.6,162.1 201.4,162 202.1,161.7 202.9,161.7 203.6,161.9 204.4,162.2 205.1,162.4 205.9,162.4 206.6,162 207.4,162 208.1,162.1 208.8,161.5 209.6,162 210.3,161.9 211.1,161.7 211.8,161.7 212.6,160.6 213.3,160.5 214.1,160 214.8,159.5 215.6,159.2 216.3,158.7 217.1,158.3 217.8,158.3 218.6,158 219.3,158.7 220.1,159.5 220.8,160.2 221.5,160.7 222.3,161 223,161 223.8,161.2 224.5,162 225.3,161.6 226,162 226.8,161.9 227.5,162 228.3,162.4 229,162.4 229.8,161.9 230.5,161.8 231.3,162.1 232,161.6 232.8,161.7 233.5,162.2 234.2,162.4 235,161.9 235.7,161.8 236.5,162.1 237.2,162 238,161 238.7,160.1 239.5,157.5 240.2,155.2 241,153.2 241.7,151.9 242.5,152.6 243.2,154.4 244,156.8 244.7,158.3 245.5,159.8 246.2,159.7 246.9,159.3 247.7,157.8 248.4,157.1 249.2,156.9 249.9,157.7 250.7,158.6 251.4,160.2 252.2,160.4 252.9,161.3 253.7,161.7 254.4,161.8 255.2,162.3 255.9,162.1 256.7,162.2 257.4,161.6 258.1,162.4 258.9,162 259.6,161.6 260.4,161.7 261.1,161.7 261.9,162.1 262.6,162.2 263.4,161.7 264.1,162 264.9,161.1 265.6,160 266.4,156.1 267.1,150 267.9,141.6 268.6,134.5 269.4,133.3 270.1,137.1 270.8,145.9 271.6,152.8 272.3,158.6 273.1,160.6 273.8,161.7 274.6,161.6 275.3,162.1 276.1,162.2 276.8,161.7 277.6,161.9 278.3,161.7 279.1,161.9 279.8,162.3 280.6,161.7 281.3,162.2 282.1,161.9 282.8,162.3 283.5,162.1 284.3,161.7 285,161.7 285.8,161.8 286.5,161.9 287.3,161.7 288,161.7 288.8,162.2 289.5,161.9 290.3,161.8 291,161.7 291.8,162.2 292.5,162 293.3,162 294,162.2 294.8,162 295.5,161.7 296.2,161.8 297,162.2 297.7,161.7 298.5,162.2 299.2,161.6 300,162.2 300.7,162.2 301.5,162 302.2,161.6 303,161.7 303.7,160.9 304.5,160.5 305.2,160.7 306,159.9 306.7,159.5 307.5,159.4 308.2,159.6 308.9,159 309.7,159.2 310.4,160.2 311.2,160.1 311.9,160.2 312.7,160.2 313.4,159.9 314.2,159.4 314.9,160.2 315.7,159.6 316.4,160.4 317.2,161.1 317.9,160.7 318.7,161.6 319.4,161.8 320.2,162 320.9,161.9 321.6,162.1 322.4,162.1 323.1,162 323.9,161.7 324.6,161.8 325.4,161.8 326.1,161.3 326.9,160.4 327.6,159.3 328.4,157.7 329.1,154.8 329.9,152.4 330.6,150.7 331.4,150.2 332.1,151.2 332.8,153.5 333.6,155.3 334.3,157.9 335.1,160.1 335.8,160.4 336.6,161 337.3,162.1 338.1,161.6 338.8,162 339.6,161.7 340.3,161.5 341.1,161.9 341.8,161.8 342.6,161.6 343.3,162.1 344.1,161.7 344.8,161.8 345.5,161.3 346.3,162.1 347,161.6 347.8,162.2 348.5,162 349.3,162.1 350,162.1 350.8,161.7 351.5,161.8 352.3,161 353,161.1 353.8,159.9 354.5,159.1 355.3,159.6 356,159.8 356.8,159.9 357.5,160.8" fill="none" stroke="#d5775b" stroke-width="1.2" stroke-linejoin="round"/>
<polyline points="58.7,157.2 59.4,157.7 60.2,157.6 60.9,157.1 61.7,157.7 62.4,157.1 63.2,157.2 63.9,157.8 64.7,157.5 65.4,157.1 66.2,157.9 66.9,157.2 67.7,157.3 68.4,157.3 69.2,157.4 69.9,157.9 70.7,157.1 71.4,157.9 72.1,157.3 72.9,157.3 73.6,157.7 74.4,157.3 75.1,157.6 75.9,157.3 76.6,157.9 77.4,157.1 78.1,157.6 78.9,157.2 79.6,157.5 80.4,157.2 81.1,157.7 81.9,157.5 82.6,157.9 83.4,157.5 84.1,157.9 84.8,157.2 85.6,157.3 86.3,157.5 87.1,157 87.8,156.9 88.6,156.5 89.3,156.7 90.1,155.7 90.8,155.8 91.6,156.4 92.3,157.5 93.1,157 93.8,157.5 94.6,157.4 95.3,157.2 96,157.7 96.8,157.9 97.5,157.1 98.3,157.7 99,157.9 99.8,157.8 100.5,157 101.3,157.2 102,157.7 102.8,157.8 103.5,157.1 104.3,157.3 105,157.4 105.8,157.8 106.5,157.5 107.3,157 108,157.9 108.7,157.5 109.5,157.8 110.2,157 111,157.8 111.7,157 112.5,157.1 113.2,157.2 114,157.8 114.7,157.3 115.5,157.4 116.2,157.4 117,157.7 117.7,157.4 118.5,157.2 119.2,157.8 120,157.1 120.7,157.5 121.4,157.6 122.2,157.7 122.9,157.4 123.7,157.2 124.4,156.8 125.2,154.7 125.9,150.2 126.7,140.3 127.4,126.7 128.2,117.3 128.9,117.3 129.7,126.9 130.4,140.1 131.2,150.3 131.9,155.1 132.7,157.2 133.4,156.9 134.1,157.4 134.9,157 135.6,157.2 136.4,157.2 137.1,157.2 137.9,157.6 138.6,157.2 139.4,157.5 140.1,156.9 140.9,156.1 141.6,154.4 142.4,152.6 143.1,150 143.9,147.8 144.6,147.5 145.4,147.8 146.1,149.2 146.8,149.5 147.6,150.3 148.3,151.1 149.1,153 149.8,154.9 150.6,156.1 151.3,157 152.1,157.2 152.8,157 153.6,157.2 154.3,157.2 155.1,157.3 155.8,157.4 156.6,157.1 157.3,157.3 158.1,157.7 158.8,157.4 159.5,157.4 160.3,157.4 161,157.3 161.8,157.5 162.5,157.4 163.3,157.4 164,157.4 164.8,156.9 165.5,157.7 166.3,157.8 167,157.1 167.8,157.4 168.5,157.4 169.3,157.2 170,157.4 170.8,157.6 171.5,157.8 172.2,157 173,156.9 173.7,157.5 174.5,157.3 175.2,157.4 176,157.3 176.7,155.7 177.5,153.5 178.2,149.3 179,141 179.7,128.3 180.5,113.8 181.2,101.4 182,94.7 182.7,95.8 183.4,102.1 184.2,110 184.9,115.4 185.7,118.3 186.4,119.6 187.2,123.7 187.9,131.4 188.7,140.4 189.4,148.2 190.2,153.3 190.9,155.4 191.7,157.1 192.4,156.9 193.2,157.1 193.9,157.3 194.7,156.9 195.4,156.9 196.1,157.2 196.9,157.6 197.6,157.2 198.4,157.3 199.1,157.5 199.9,156.9 200.6,157.1 201.4,157.6 202.1,157.5 202.9,157.4 203.6,157.2 204.4,157.4 205.1,157.3 205.9,157 206.6,157.5 207.4,157 208.1,157.4 208.8,156.8 209.6,156.7 210.3,157.2 211.1,156.7 211.8,156.9 212.6,156.3 213.3,155.7 214.1,155.2 214.8,155 215.6,154.7 216.3,154.2 217.1,153.5 217.8,153.7 218.6,153.7 219.3,153.7 220.1,153.9 220.8,154.8 221.5,155.5 222.3,155.7 223,156.4 223.8,156.3 224.5,157.1 225.3,157.2 226,157.1 226.8,156.8 227.5,157.5 228.3,157.5 229,157.5 229.8,157.5 230.5,157.3 231.3,157.3 232,157 232.8,157.3 233.5,157.2 234.2,157.3 235,156.9 235.7,156.8 236.5,157.2 237.2,156.5 238,156.7 238.7,155 239.5,153.8 240.2,151.3 241,149.2 241.7,147.7 242.5,147.7 243.2,148.3 244,151 244.7,152.8 245.5,154.5 246.2,154.8 246.9,154.7 247.7,153.7 248.4,152.7 249.2,152.1 249.9,152.7 250.7,154.2 251.4,154.7 252.2,156 252.9,156.9 253.7,157.1 254.4,157.3 255.2,156.8 255.9,157.1 256.7,157.3 257.4,157.4 258.1,157.3 258.9,157.3 259.6,157.3 260.4,156.9 261.1,156.9 261.9,157 262.6,156.8 263.4,157 264.1,157.4 264.9,157.2 265.6,156.1 266.4,153.4 267.1,148 267.9,140.2 268.6,132.7 269.4,128.6 270.1,130.6 270.8,136.7 271.6,145 272.3,151.6 273.1,155.4 273.8,156 274.6,157.2 275.3,156.8 276.1,157.4 276.8,157 277.6,157.2 278.3,156.8 279.1,157.3 279.8,157.5 280.6,157.4 281.3,156.8 282.1,156.7 282.8,157 283.5,156.9 284.3,157.3 285,157.3 285.8,157.5 286.5,156.7 287.3,157.5 288,157 288.8,157.2 289.5,157.4 290.3,157.1 291,156.7 291.8,157.3 292.5,157.4 293.3,157 294,156.9 294.8,157.1 295.5,157.4 296.2,156.7 297,157.4 297.7,157.4 298.5,157.3 299.2,157 300,157.1 300.7,157 301.5,156.8 302.2,156.5 303,156.7 303.7,156.9 304.5,155.9 305.2,156.2 306,155.6 306.7,155.3 307.5,154.6 308.2,154.3 308.9,154.9 309.7,154.9 310.4,154.6 311.2,154.9 311.9,155.5 312.7,155 313.4,154.8 314.2,155 314.9,155.2 315.7,154.9 316.4,155.5 317.2,156.1 317.9,156.4 318.7,156.6 319.4,157 320.2,157 320.9,156.9 321.6,156.9 322.4,157.1 323.1,156.7 323.9,157.4 324.6,157.1 325.4,156.5 326.1,156.4 326.9,155.8 327.6,155.1 328.4,153.7 329.1,151.4 329.9,149.1 330.6,147.3 331.4,145.9 332.1,146.2 332.8,147.1 333.6,149.9 334.3,152.3 335.1,154.2 335.8,155.9 336.6,156.2 337.3,156.5 338.1,156.6 338.8,156.6 339.6,157.1 340.3,157.3 341.1,156.7 341.8,156.8 342.6,157.1 343.3,157.1 344.1,157.3 344.8,156.7 345.5,157 346.3,156.7 347,157.1 347.8,157.1 348.5,157 349.3,156.7 350,156.6 350.8,157 351.5,156.6 352.3,156.7 353,155.8 353.8,155.3 354.5,154.9 355.3,154.7 356,154.8 356.8,154.7 357.5,155.4" fill="none" stroke="#dc7d50" stroke-width="1.2" stroke-linejoin="round"/>
<polyline points="58.7,152.9 59.4,153.1 60.2,153 60.9,152.3 61.7,153.2 62.4,152.5 63.2,152.7 63.9,152.7 64.7,152.7 65.4,152.8 66.2,152.7 66.9,153.1 67.7,152.3 68.4,153.1 69.2,153 69.9,152.6 70.7,152.6 71.4,152.4 72.1,152.5 72.9,152.3 73.6,153.1 74.4,153.2 75.1,152.9 75.9,152.5 76.6,153 77.4,152.7 78.1,152.5 78.9,153 79.6,152.7 80.4,152.3 81.1,152.5 81.9,152.8 82.6,152.7 83.4,152.9 84.1,152.3 84.8,152.4 85.6,152.5 86.3,152.9 87.1,152.4 87.8,152.5 88.6,151.9 89.3,151.7 90.1,150.8 90.8,151 91.6,151.7 92.3,152.1 93.1,152.2 93.8,152.6 94.6,152.2 95.3,153.1 96,152.3 96.8,152.5 97.5,152.7 98.3,152.3 99,153 99.8,152.8 100.5,152.5 101.3,152.4 102,152.8 102.8,152.2 103.5,152.5 104.3,153.1 105,153 105.8,153 106.5,152.6 107.3,152.8 108,152.9 108.7,152.7 109.5,153 110.2,152.3 111,152.3 111.7,152.6 112.5,152.7 113.2,152.8 114,152.5 114.7,152.8 115.5,152.2 116.2,152.2 117,152.4 117.7,152.3 118.5,153 119.2,153 120,152.8 120.7,153 121.4,152.7 122.2,152.2 122.9,152.3 123.7,152.1 124.4,152.4 125.2,151 125.9,147 126.7,137.9 127.4,125.3 128.2,113.8 128.9,111.8 129.7,119.7 130.4,132.9 131.2,143.6 131.9,149.7 132.7,151.6 133.4,152.3 134.1,152.4 134.9,152.6 135.6,152.6 136.4,152.8 137.1,153 137.9,152.6 138.6,152.5 139.4,152.8 140.1,151.9 140.9,151.3 141.6,149.9 142.4,147.9 143.1,145.7 143.9,144 144.6,143.2 145.4,143.1 146.1,143.4 146.8,144.7 147.6,145.5 148.3,146.4 149.1,148.2 149.8,149.8 150.6,151.6 151.3,151.7 152.1,152.5 152.8,152.1 153.6,152.7 154.3,152.7 155.1,152.8 155.8,152.1 156.6,152.5 157.3,152.3 158.1,152.9 158.8,152.5 159.5,152.3 160.3,152.1 161,152.1 161.8,152.9 162.5,152.6 163.3,152.1 164,152.5 164.8,152.1 165.5,152.7 166.3,153 167,152.1 167.8,152.7 168.5,152.5 169.3,152.6 170,152.4 170.8,152.1 171.5,152.1 172.2,152.2 173,152.7 173.7,152.2 174.5,152.9 175.2,152.5 176,151.8 176.7,151.8 177.5,150.1 178.2,146.3 179,139.7 179.7,128.5 180.5,114.8 181.2,101.5 182,91.1 182.7,89.5 183.4,93.3 184.2,101.2 184.9,107.9 185.7,111.7 186.4,113.4 187.2,117.7 187.9,124.9 188.7,133.2 189.4,140.9 190.2,146.6 190.9,150.2 191.7,151.9 192.4,152.2 193.2,152 193.9,152.3 194.7,152.3 195.4,152.2 196.1,152.5 196.9,152.4 197.6,152.1 198.4,152.7 199.1,152.1 199.9,152.9 200.6,152.4 201.4,152.4 202.1,152.8 202.9,152.1 203.6,152.5 204.4,152.7 205.1,152.5 205.9,152.4 206.6,152.5 207.4,152.9 208.1,152.8 208.8,152.2 209.6,152.6 210.3,152.4 211.1,151.8 211.8,151.5 212.6,151.2 213.3,151.4 214.1,151.1 214.8,149.9 215.6,149.6 216.3,149.3 217.1,149.3 217.8,148.8 218.6,149 219.3,148.8 220.1,148.9 220.8,150 221.5,150.6 222.3,150.6 223,151.6 223.8,151.8 224.5,151.9 225.3,151.6 226,152.4 226.8,152.5 227.5,152.4 228.3,152.7 229,152.5 229.8,152.2 230.5,152.6 231.3,152.1 232,152.7 232.8,152.8 233.5,152.3 234.2,152.4 235,152 235.7,152.7 236.5,152.1 237.2,152 238,152 238.7,151.4 239.5,149.6 240.2,147.4 241,145.3 241.7,143.4 242.5,142.4 243.2,143.2 244,145.3 244.7,147.6 245.5,149.1 246.2,149.7 246.9,149.2 247.7,148.3 248.4,147.9 249.2,147.7 249.9,148.1 250.7,148.6 251.4,149.7 252.2,151.2 252.9,151.5 253.7,151.6 254.4,152.3 255.2,151.9 255.9,152.4 256.7,152.2 257.4,152 258.1,152.6 258.9,152.5 259.6,151.9 260.4,152.7 261.1,152.5 261.9,152.4 262.6,152.1 263.4,152.2 264.1,151.9 264.9,151.9 265.6,151.9 266.4,150 267.1,146 267.9,139 268.6,131.4 269.4,125 270.1,124.2 270.8,129.5 271.6,136.7 272.3,144.3 273.1,148.4 273.8,151.3 274.6,151.9 275.3,152.2 276.1,152.5 276.8,152 277.6,152.7 278.3,152.5 279.1,152.5 279.8,152 280.6,152.3 281.3,152.7 282.1,152.5 282.8,152.2 283.5,152 284.3,152.6 285,152 285.8,152.4 286.5,152.3 287.3,152.4 288,152.3 288.8,151.8 289.5,151.9 290.3,151.9 291,152.1 291.8,152.1 292.5,152.6 293.3,152.7 294,152 294.8,152.1 295.5,152.1 296.2,152.4 297,152.5 297.7,151.9 298.5,152.2 299.2,152.7 300,152.4 300.7,152.3 301.5,152.5 302.2,151.6 303,151.6 303.7,151.4 304.5,151.9 305.2,151.2 306,151 306.7,150.1 307.5,149.7 308.2,149.6 308.9,149.5 309.7,150.2 310.4,150.5 311.2,150.6 311.9,150 312.7,150 313.4,150.2 314.2,150.4 314.9,149.8 315.7,150.6 316.4,150.7 317.2,151.3 317.9,150.8 318.7,151.7 319.4,151.6 320.2,151.7 320.9,152 321.6,151.7 322.4,151.9 323.1,151.8 323.9,151.8 324.6,152.6 325.4,151.9 326.1,152.3 326.9,151.8 327.6,151.1 328.4,149.4 329.1,148.3 329.9,145.7 330.6,143.6 331.4,141.1 332.1,141 332.8,141.7 333.6,143.9 334.3,146.1 335.1,148.7 335.8,150.3 336.6,151 337.3,151.6 338.1,151.7 338.8,152.3 339.6,151.9 340.3,152 341.1,152.1 341.8,152.3 342.6,152.1 343.3,152.6 344.1,152.5 344.8,152.3 345.5,152.5 346.3,152.6 347,152 347.8,152 348.5,152.1 349.3,152.4 350,152 350.8,151.8 351.5,152 352.3,152.2 353,151.5 353.8,151.2 354.5,150.6 355.3,150.2 356,149.4 356.8,149.9 357.5,150.2" fill="none" stroke="#dd7e50" stroke-width="1.2" stroke-linejoin="round"/>
<polyline points="58.7,148.2 59.4,148.1 60.2,147.9 60.9,148.3 61.7,148.1 62.4,147.9 63.2,147.9 63.9,147.6 64.7,147.9 65.4,147.8 66.2,147.8 66.9,147.7 67.7,148 68.4,148.4 69.2,147.5 69.9,147.7 70.7,148.2 71.4,148.3 72.1,148.2 72.9,147.8 73.6,148.2 74.4,148.3 75.1,147.9 75.9,148.3 76.6,148.1 77.4,148 78.1,148.2 78.9,148.3 79.6,148.1 80.4,148.1 81.1,148.1 81.9,148 82.6,148 83.4,148 84.1,148.3 84.8,147.6 85.6,147.7 86.3,147.9 87.1,148.3 87.8,148 88.6,147 89.3,146.9 90.1,146.6 90.8,146 91.6,146.4 92.3,147.7 93.1,147.7 93.8,147.8 94.6,148.2 95.3,148 96,147.8 96.8,147.7 97.5,147.7 98.3,147.8 99,148 99.8,148.2 100.5,148.3 101.3,147.5 102,147.5 102.8,147.5 103.5,148.2 104.3,147.6 105,148.1 105.8,148 106.5,148.1 107.3,147.5 108,147.6 108.7,147.5 109.5,147.9 110.2,147.4 111,148 111.7,147.8 112.5,147.7 113.2,148.1 114,147.9 114.7,148.2 115.5,147.6 116.2,148.1 117,148.1 117.7,148 118.5,147.7 119.2,147.7 120,147.8 120.7,147.5 121.4,147.6 122.2,148.1 122.9,147.8 123.7,148 124.4,147.7 125.2,146.6 125.9,143.2 126.7,135.1 127.4,122.4 128.2,110.8 128.9,107.1 129.7,113.4 130.4,125.6 131.2,137.1 131.9,144.3 132.7,147.1 133.4,147.5 134.1,147.7 134.9,148.2 135.6,147.5 136.4,148 137.1,147.7 137.9,147.7 138.6,147.9 139.4,147.3 140.1,147.6 140.9,147.1 141.6,145.8 142.4,143.7 143.1,141.2 143.9,139.2 144.6,138.3 145.4,138.1 146.1,138.7 146.8,139 147.6,139.7 148.3,141 149.1,143.1 149.8,144.6 150.6,146.2 151.3,147.3 152.1,147.3 152.8,147.9 153.6,147.5 154.3,147.8 155.1,147.8 155.8,147.6 156.6,147.5 157.3,147.3 158.1,147.3 158.8,147.5 159.5,147.9 160.3,147.6 161,147.7 161.8,147.3 162.5,147.8 163.3,147.9 164,148.2 164.8,147.8 165.5,147.7 166.3,147.9 167,148.1 167.8,147.7 168.5,148.1 169.3,148 170,147.8 170.8,147.8 171.5,147.7 172.2,147.7 173,147.8 173.7,148 174.5,148.1 175.2,147.6 176,147.1 176.7,147.3 177.5,146.1 178.2,143.4 179,137.6 179.7,128.7 180.5,115.8 181.2,102.4 182,90.4 182.7,84.4 183.4,85.5 184.2,91.6 184.9,98.7 185.7,103.4 186.4,107.5 187.2,111.5 187.9,117.6 188.7,126.2 189.4,134.4 190.2,140.5 190.9,144.8 191.7,147 192.4,146.9 193.2,147.5 193.9,147.6 194.7,148.1 195.4,147.4 196.1,147.8 196.9,147.5 197.6,147.9 198.4,147.3 199.1,147.8 199.9,147.9 200.6,147.3 201.4,147.9 202.1,147.9 202.9,147.7 203.6,147.2 204.4,148 205.1,147.9 205.9,147.4 206.6,148 207.4,147.7 208.1,147.3 208.8,147.4 209.6,147.2 210.3,147.8 211.1,146.9 211.8,147.2 212.6,146.5 213.3,146.5 214.1,145.6 214.8,145.5 215.6,145.2 216.3,144.9 217.1,144.2 217.8,144.4 218.6,144.2 219.3,143.7 220.1,144.3 220.8,144.4 221.5,145.5 222.3,145.7 223,146.2 223.8,146.9 224.5,147.1 225.3,146.8 226,147.1 226.8,147.4 227.5,147.4 228.3,147.2 229,147.2 229.8,147.5 230.5,148 231.3,147.3 232,147.9 232.8,147.8 233.5,147.9 234.2,147.6 235,147.5 235.7,147.6 236.5,147.6 237.2,147.8 238,147 238.7,146.6 239.5,145.7 240.2,143.5 241,141.2 241.7,139 242.5,137.7 243.2,138.6 244,139.7 244.7,141.7 245.5,143.7 246.2,144.3 246.9,144.3 247.7,144.4 248.4,143.2 249.2,142.4 249.9,142.6 250.7,143.9 251.4,145.3 252.2,146 252.9,146.7 253.7,146.9 254.4,147.7 255.2,147.7 255.9,147.1 256.7,148 257.4,147.4 258.1,147.9 258.9,147.3 259.6,147.6 260.4,147.2 261.1,147.8 261.9,147.2 262.6,147.8 263.4,147.9 264.1,147.9 264.9,147.8 265.6,147.1 266.4,145.3 267.1,142.9 267.9,137.1 268.6,130.2 269.4,122.5 270.1,119.2 270.8,122.1 271.6,128.5 272.3,136.3 273.1,142.3 273.8,145.1 274.6,146.7 275.3,147.7 276.1,147.8 276.8,147.9 277.6,147.7 278.3,147.4 279.1,147.1 279.8,147.1 280.6,147.2 281.3,147.8 282.1,147.2 282.8,147.3 283.5,147.5 284.3,147 285,147.4 285.8,147.8 286.5,147.7 287.3,147.8 288,147.4 288.8,147.4 289.5,147.2 290.3,147.9 291,147.9 291.8,147 292.5,147.7 293.3,147.7 294,147.1 294.8,147.8 295.5,147.2 296.2,147.1 297,147.4 297.7,147.4 298.5,147.9 299.2,147.3 300,147.3 300.7,147.2 301.5,147.3 302.2,147.6 303,147.4 303.7,146.8 304.5,147.1 305.2,146.7 306,146.2 306.7,145.3 307.5,145.3 308.2,145.2 308.9,144.6 309.7,145 310.4,145.4 311.2,145.2 311.9,145.1 312.7,145.5 313.4,145.4 314.2,145.2 314.9,144.9 315.7,145.3 316.4,145.9 317.2,145.9 317.9,146.5 318.7,146.7 319.4,146.8 320.2,147.6 320.9,147.3 321.6,147.5 322.4,147.3 323.1,147.1 323.9,147.4 324.6,147.3 325.4,147.6 326.1,147.5 326.9,147.1 327.6,146.6 328.4,145.9 329.1,143.9 329.9,142.1 330.6,139.9 331.4,137.9 332.1,136.2 332.8,136.3 333.6,137.7 334.3,140.6 335.1,143.1 335.8,144.5 336.6,146.4 337.3,146.4 338.1,147 338.8,147.4 339.6,147.4 340.3,147.2 341.1,147.7 341.8,147.5 342.6,147.1 343.3,147.2 344.1,147.3 344.8,147.7 345.5,147.6 346.3,147.6 347,147.8 347.8,147.2 348.5,147.3 349.3,147 350,147.3 350.8,147 351.5,147.3 352.3,147.2 353,147.2 353.8,146.6 354.5,145.6 355.3,145.4 356,145.4 356.8,145.2 357.5,145.8" fill="none" stroke="#de7f4f" stroke-width="1.2" stroke-linejoin="round"/>
<polyline points="58.7,143 59.4,143.1 60.2,143.2 60.9,142.7 61.7,142.9 62.4,143.5 63.2,143.5 63.9,142.9 64.7,143 65.4,143 66.2,143.1 66.9,143.5 67.7,143.2 68.4,142.8 69.2,143 69.9,143.5 70.7,143.4 71.4,142.7 72.1,143.1 72.9,143.4 73.6,142.9 74.4,142.7 75.1,142.8 75.9,143 76.6,142.8 77.4,143.5 78.1,143.1 78.9,142.8 79.6,143.2 80.4,143.4 81.1,142.8 81.9,142.9 82.6,143.5 83.4,143.5 84.1,143 84.8,142.7 85.6,143 86.3,142.7 87.1,143.4 87.8,142.9 88.6,142.9 89.3,142.3 90.1,141.9 90.8,141.5 91.6,142.3 92.3,142.3 93.1,142.7 93.8,142.6 94.6,142.8 95.3,143.4 96,142.7 96.8,143 97.5,142.7 98.3,143.1 99,143.4 99.8,142.9 100.5,143.3 101.3,142.6 102,143 102.8,142.7 103.5,143.1 104.3,143.2 105,142.9 105.8,142.9 106.5,143.1 107.3,143.2 108,143.1 108.7,142.8 109.5,143.3 110.2,143.3 111,143 111.7,142.9 112.5,143.4 113.2,143.2 114,142.6 114.7,143.2 115.5,142.8 116.2,143.2 117,143.4 117.7,143 118.5,142.7 119.2,142.8 120,143.4 120.7,142.8 121.4,142.9 122.2,143 122.9,142.9 123.7,142.9 124.4,143 125.2,141.7 125.9,139.3 126.7,132.2 127.4,120.3 128.2,108.3 128.9,102.2 129.7,106.4 130.4,118.4 131.2,130.4 131.9,138 132.7,142 133.4,142.8 134.1,143.3 134.9,142.5 135.6,142.6 136.4,142.8 137.1,143.3 137.9,142.7 138.6,143.2 139.4,142.6 140.1,142.6 140.9,142.3 141.6,141.2 142.4,140 143.1,137.2 143.9,135.3 144.6,133.6 145.4,133.2 146.1,134.1 146.8,134.6 147.6,135.3 148.3,136.6 149.1,137.4 149.8,139.3 150.6,141 151.3,142 152.1,142.3 152.8,143.2 153.6,143 154.3,142.8 155.1,142.9 155.8,142.9 156.6,143.2 157.3,143.2 158.1,142.8 158.8,143.1 159.5,142.5 160.3,142.6 161,142.5 161.8,143.1 162.5,142.9 163.3,143.3 164,143 164.8,143.3 165.5,142.9 166.3,142.5 167,142.7 167.8,143 168.5,143.1 169.3,142.5 170,143.3 170.8,142.6 171.5,142.6 172.2,143.3 173,142.5 173.7,142.8 174.5,143 175.2,142.9 176,142.7 176.7,142.5 177.5,141.4 178.2,139.4 179,135.7 179.7,128.5 180.5,116.6 181.2,103 182,89.7 182.7,81.3 183.4,79.1 184.2,82.2 184.9,89.4 185.7,95.5 186.4,99.8 187.2,105.2 187.9,111 188.7,119.6 189.4,127.5 190.2,134.2 190.9,139.2 191.7,141.1 192.4,141.9 193.2,142.4 193.9,142.6 194.7,142.5 195.4,142.7 196.1,142.8 196.9,142.6 197.6,142.6 198.4,142.7 199.1,142.7 199.9,143.1 200.6,143 201.4,143 202.1,142.5 202.9,142.6 203.6,143 204.4,142.4 205.1,143.2 205.9,143.2 206.6,143 207.4,143.2 208.1,142.4 208.8,142.9 209.6,142.8 210.3,142.3 211.1,142.5 211.8,142.2 212.6,142.1 213.3,141.7 214.1,140.9 214.8,141.1 215.6,140.4 216.3,139.9 217.1,139.9 217.8,139.6 218.6,139.2 219.3,139 220.1,139.5 220.8,140.2 221.5,139.8 222.3,141 223,140.8 223.8,142 224.5,141.8 225.3,142.5 226,142.6 226.8,142.6 227.5,142.4 228.3,142.8 229,142.8 229.8,142.9 230.5,142.8 231.3,143 232,142.4 232.8,143.1 233.5,143.1 234.2,142.7 235,142.9 235.7,142.6 236.5,143.2 237.2,142.5 238,142.6 238.7,141.7 239.5,141.4 240.2,139.8 241,137.9 241.7,135.5 242.5,134.1 243.2,133.2 244,134.3 244.7,135.8 245.5,138.1 246.2,139.3 246.9,139.6 247.7,139 248.4,138.4 249.2,138.1 249.9,138.5 250.7,139.2 251.4,140.3 252.2,141.3 252.9,142.1 253.7,142.2 254.4,142.7 255.2,142.3 255.9,143 256.7,143 257.4,143 258.1,143.1 258.9,142.6 259.6,142.7 260.4,143 261.1,142.4 261.9,142.6 262.6,142.8 263.4,142.6 264.1,142.6 264.9,142.7 265.6,142.8 266.4,141.7 267.1,139.1 267.9,135.3 268.6,128.3 269.4,121.2 270.1,115.2 270.8,114.9 271.6,120.4 272.3,128 273.1,134.8 273.8,139.5 274.6,141.8 275.3,142.7 276.1,142.5 276.8,142.7 277.6,142.3 278.3,142.3 279.1,142.4 279.8,142.3 280.6,142.4 281.3,143.1 282.1,143 282.8,142.3 283.5,142.3 284.3,142.6 285,142.6 285.8,142.7 286.5,142.7 287.3,143 288,142.6 288.8,142.9 289.5,143 290.3,142.3 291,142.6 291.8,142.3 292.5,142.9 293.3,142.6 294,142.9 294.8,142.4 295.5,142.9 296.2,142.5 297,142.6 297.7,142.8 298.5,143 299.2,142.7 300,142.6 300.7,142.3 301.5,142.8 302.2,142.8 303,142.5 303.7,141.9 304.5,142.2 305.2,141.5 306,141.7 306.7,141.3 307.5,140.4 308.2,140.4 308.9,140.6 309.7,140.3 310.4,139.9 311.2,140.5 311.9,140.5 312.7,140.6 313.4,140.5 314.2,140.9 314.9,140.1 315.7,140.5 316.4,140.9 317.2,141.3 317.9,141.7 318.7,141.4 319.4,141.8 320.2,142.4 320.9,142.3 321.6,142.5 322.4,142.8 323.1,143 323.9,142.4 324.6,142.9 325.4,142.5 326.1,143 326.9,142.8 327.6,142.4 328.4,141.3 329.1,140.1 329.9,138 330.6,136.1 331.4,134 332.1,132.8 332.8,131.4 333.6,132.6 334.3,134.1 335.1,137.2 335.8,138.6 336.6,140.5 337.3,141.8 338.1,142.2 338.8,142.8 339.6,142.4 340.3,142.8 341.1,142.4 341.8,142.9 342.6,142.4 343.3,142.5 344.1,142.4 344.8,142.2 345.5,142.7 346.3,142.4 347,142.6 347.8,142.2 348.5,142.3 349.3,142.3 350,142.5 350.8,142.8 351.5,142.2 352.3,142 353,141.9 353.8,142.1 354.5,141.2 355.3,140.7 356,140.1 356.8,139.9 357.5,140.5" fill="none" stroke="#de7f4f" stroke-width="1.2" stroke-linejoin="round"/>
<polyline points="58.7,138.4 59.4,138.1 60.2,138.2 60.9,138.3 61.7,138 62.4,138.7 63.2,138.8 63.9,138.4 64.7,138.7 65.4,138 66.2,138.7 66.9,138 67.7,138.6 68.4,138.6 69.2,138.1 69.9,138.1 70.7,138.4 71.4,138.2 72.1,138.3 72.9,137.9 73.6,138.3 74.4,138.3 75.1,138.3 75.9,138.4 76.6,138.1 77.4,138.6 78.1,138.1 78.9,137.9 79.6,138.1 80.4,138.2 81.1,138.4 81.9,138.6 82.6,138.6 83.4,138.2 84.1,137.9 84.8,137.9 85.6,138.6 86.3,138 87.1,138 87.8,138.2 88.6,137.6 89.3,137.7 90.1,137 90.8,136.7 91.6,136.8 92.3,137.6 93.1,138.2 93.8,137.9 94.6,138.3 95.3,138.3 96,138.5 96.8,138.3 97.5,138.1 98.3,138.4 99,138.1 99.8,138.3 100.5,138.7 101.3,137.8 102,138.4 102.8,138.2 103.5,137.8 104.3,138.5 105,138.6 105.8,138.5 106.5,138.5 107.3,137.9 108,138.2 108.7,138.6 109.5,138.4 110.2,138.2 111,138.5 111.7,138.4 112.5,137.9 113.2,138.3 114,138.5 114.7,138.1 115.5,138.6 116.2,138.2 117,138.1 117.7,138.6 118.5,138.2 119.2,138.4 120,138 120.7,138.1 121.4,137.8 122.2,138.1 122.9,138.5 123.7,138.5 124.4,137.8 125.2,137 125.9,135.3 126.7,129 127.4,118.5 128.2,105.9 128.9,97.9 129.7,100.5 130.4,110.9 131.2,123.2 131.9,132.2 132.7,136.1 133.4,137.8 134.1,138.1 134.9,138.1 135.6,138 136.4,138.5 137.1,137.9 137.9,138.5 138.6,138.3 139.4,137.8 140.1,137.6 140.9,137.8 141.6,136.5 142.4,135.9 143.1,133 143.9,131.4 144.6,129.8 145.4,128.5 146.1,129.2 146.8,129.3 147.6,130.7 148.3,131.5 149.1,132.7 149.8,134.7 150.6,135.9 151.3,137.2 152.1,137.5 152.8,138 153.6,137.7 154.3,137.8 155.1,138.4 155.8,137.8 156.6,137.8 157.3,138.1 158.1,138.1 158.8,138.4 159.5,138.3 160.3,138.4 161,138.4 161.8,138 162.5,138.3 163.3,137.9 164,138.1 164.8,137.8 165.5,138.5 166.3,137.8 167,138.1 167.8,138 168.5,138.3 169.3,137.9 170,138.2 170.8,137.9 171.5,138 172.2,138.4 173,138.3 173.7,137.9 174.5,138.5 175.2,138 176,138 176.7,137.6 177.5,137.4 178.2,135.9 179,132.7 179.7,126.5 180.5,117.5 181.2,104.3 182,90.7 182.7,79.1 183.4,73.9 184.2,74.9 184.9,80.2 185.7,86.3 186.4,92.6 187.2,97.4 187.9,103.9 188.7,112.2 189.4,120.4 190.2,128.3 190.9,132.6 191.7,135.8 192.4,137.7 193.2,137.8 193.9,138 194.7,137.9 195.4,138.2 196.1,137.7 196.9,137.9 197.6,138.4 198.4,137.8 199.1,137.7 199.9,138.2 200.6,137.9 201.4,137.7 202.1,137.7 202.9,138.4 203.6,137.7 204.4,138.3 205.1,137.8 205.9,137.9 206.6,138.1 207.4,137.7 208.1,137.7 208.8,137.5 209.6,137.5 210.3,137.8 211.1,137.5 211.8,137.4 212.6,137.4 213.3,137 214.1,136.6 214.8,136.4 215.6,135.9 216.3,135 217.1,134.6 217.8,134.4 218.6,134.3 219.3,134.4 220.1,134.5 220.8,134.7 221.5,135.7 222.3,135.7 223,135.7 223.8,136.8 224.5,136.9 225.3,137.6 226,137.7 226.8,137.4 227.5,138.2 228.3,137.6 229,137.6 229.8,137.6 230.5,138.2 231.3,137.6 232,138.1 232.8,138 233.5,137.6 234.2,137.9 235,137.8 235.7,138.3 236.5,138.4 237.2,138.1 238,138.2 238.7,137.2 239.5,137.1 240.2,135.3 241,133.7 241.7,132 242.5,129.6 243.2,129 244,129 244.7,130.8 245.5,132 246.2,133.5 246.9,134.4 247.7,134.2 248.4,134 249.2,133.7 249.9,133.5 250.7,133.8 251.4,134.9 252.2,136.4 252.9,137.1 253.7,137.5 254.4,138.2 255.2,138.3 255.9,138 256.7,138.3 257.4,137.6 258.1,138.3 258.9,137.7 259.6,137.7 260.4,138.1 261.1,137.9 261.9,137.5 262.6,137.8 263.4,138 264.1,137.5 264.9,138.1 265.6,137.3 266.4,137.4 267.1,135.9 267.9,132.7 268.6,126.7 269.4,119.1 270.1,112.6 270.8,110.3 271.6,112.4 272.3,119.3 273.1,126.9 273.8,132.3 274.6,136.2 275.3,137.1 276.1,137.5 276.8,137.6 277.6,137.7 278.3,138.3 279.1,137.9 279.8,138.1 280.6,137.8 281.3,138 282.1,137.9 282.8,137.8 283.5,137.8 284.3,137.5 285,138.1 285.8,138.1 286.5,138.2 287.3,138.2 288,137.6 288.8,137.5 289.5,138.2 290.3,138 291,137.5 291.8,137.5 292.5,137.4 293.3,137.4 294,138 294.8,138.2 295.5,138.1 296.2,137.9 297,138.3 297.7,138.1 298.5,137.9 299.2,137.7 300,138.1 300.7,138.1 301.5,137.9 302.2,138 303,137.9 303.7,137.8 304.5,136.9 305.2,136.5 306,137 306.7,135.9 307.5,135.6 308.2,135.5 308.9,135.7 309.7,135.1 310.4,135.8 311.2,136 311.9,135.2 312.7,135.9 313.4,135.3 314.2,135.4 314.9,136.1 315.7,136.1 316.4,135.8 317.2,136.5 317.9,136.4 318.7,136.7 319.4,137.4 320.2,137.5 320.9,137.9 321.6,137.4 322.4,137.6 323.1,137.6 323.9,137.7 324.6,138.2 325.4,137.4 326.1,137.5 326.9,137.7 327.6,137.4 328.4,137 329.1,135.9 329.9,134.7 330.6,132.9 331.4,130.5 332.1,128.8 332.8,127.8 333.6,127.5 334.3,128.4 335.1,130.6 335.8,133.3 336.6,134.9 337.3,136.2 338.1,137 338.8,137.5 339.6,137.7 340.3,137.6 341.1,137.4 341.8,137.7 342.6,137.5 343.3,137.6 344.1,138.1 344.8,138 345.5,137.9 346.3,137.9 347,137.8 347.8,137.9 348.5,137.3 349.3,137.5 350,137.9 350.8,137.6 351.5,137.3 352.3,138 353,137.5 353.8,137 354.5,137.1 355.3,136.1 356,135.6 356.8,135.6 357.5,135.8" fill="none" stroke="#df804e" stroke-width="1.2" stroke-linejoin="round"/>
<polyline points="58.7,133.3 59.4,133.6 60.2,133.7 60.9,133.6 61.7,133.3 62.4,133.2 63.2,133.1 63.9,133.3 64.7,133.8 65.4,133.6 66.2,134 66.9,133.8 67.7,133.7 68.4,133.8 69.2,133.5 69.9,133.8 70.7,133.4 71.4,133.6 72.1,133.7 72.9,133.3 73.6,133.7 74.4,133.9 75.1,133.2 75.9,133.3 76.6,133.2 77.4,133.7 78.1,133.7 78.9,133.3 79.6,133.8 80.4,133.1 81.1,133.3 81.9,133.4 82.6,133.9 83.4,133.7 84.1,133.5 84.8,133 85.6,133.8 86.3,133.4 87.1,133.8 87.8,132.9 88.6,132.9 89.3,132.4 90.1,131.9 90.8,132.2 91.6,132.4 92.3,133.1 93.1,133.1 93.8,133.7 94.6,133.7 95.3,133.7 96,133.1 96.8,133.2 97.5,133.6 98.3,133 99,133.8 99.8,133.8 100.5,133.6 101.3,133.2 102,133.8 102.8,133.2 103.5,133.4 104.3,133.2 105,133.6 105.8,133.8 106.5,133.8 107.3,133.2 108,133.4 108.7,133.2 109.5,133.7 110.2,133.6 111,133.7 111.7,133.1 112.5,133.2 113.2,133.7 114,133.2 114.7,133.8 115.5,133.4 116.2,133.6 117,133.2 117.7,133.2 118.5,133.2 119.2,133.7 120,133.8 120.7,133.3 121.4,133.2 122.2,133.8 122.9,133.1 123.7,133 124.4,133.4 125.2,132.7 125.9,130.6 126.7,125.2 127.4,115.8 128.2,103.6 128.9,94.3 129.7,94.8 130.4,104.5 131.2,116.4 131.9,126 132.7,131 133.4,132.8 134.1,133.5 134.9,133.5 135.6,133.1 136.4,133 137.1,133.4 137.9,133.1 138.6,133.7 139.4,133.3 140.1,133 140.9,132.7 141.6,132.4 142.4,131.4 143.1,128.8 143.9,126.9 144.6,125 145.4,124.2 146.1,124.4 146.8,124.5 147.6,125.4 148.3,125.9 149.1,127.4 149.8,128.9 150.6,130.7 151.3,131.7 152.1,133.1 152.8,132.7 153.6,133.2 154.3,133.2 155.1,133.6 155.8,133.7 156.6,133.1 157.3,133.1 158.1,133.2 158.8,133.5 159.5,133.3 160.3,133.1 161,133.2 161.8,133 162.5,133.7 163.3,133.1 164,133.8 164.8,133.2 165.5,133.3 166.3,133.7 167,133.4 167.8,133.2 168.5,133 169.3,133.7 170,133.3 170.8,133 171.5,133.6 172.2,132.9 173,132.9 173.7,133.4 174.5,133.6 175.2,133.6 176,133.5 176.7,133.2 177.5,132.6 178.2,131.3 179,129.3 179.7,124.2 180.5,116.7 181.2,105 182,91.9 182.7,78.8 183.4,70.7 184.2,68.4 184.9,71.1 185.7,77.8 186.4,84.2 187.2,90.1 187.9,96.7 188.7,105.1 189.4,113.6 190.2,121 190.9,127 191.7,130.8 192.4,132.2 193.2,133 193.9,132.7 194.7,133.6 195.4,133.5 196.1,133.6 196.9,133.2 197.6,132.8 198.4,133 199.1,133.6 199.9,133.2 200.6,133.4 201.4,132.8 202.1,133.1 202.9,133.1 203.6,133.5 204.4,133.3 205.1,133.2 205.9,133.3 206.6,133.2 207.4,133.6 208.1,133.3 208.8,132.7 209.6,133.2 210.3,133 211.1,132.7 211.8,132.5 212.6,132.3 213.3,132.4 214.1,131.7 214.8,131.8 215.6,131 216.3,131.1 217.1,130.5 217.8,130.2 218.6,129.8 219.3,129.4 220.1,130.2 220.8,129.6 221.5,130.6 222.3,130.2 223,130.7 223.8,131.4 224.5,131.6 225.3,131.9 226,132.6 226.8,132.4 227.5,133.3 228.3,132.8 229,132.9 229.8,132.9 230.5,133.5 231.3,133.5 232,133.1 232.8,133.1 233.5,133 234.2,133.5 235,133.1 235.7,132.7 236.5,133.4 237.2,132.8 238,132.6 238.7,132.7 239.5,132.4 240.2,131.5 241,129.9 241.7,128.3 242.5,126.3 243.2,124.6 244,124.4 244.7,124.7 245.5,126.8 246.2,127.9 246.9,129.2 247.7,129 248.4,128.7 249.2,128.4 249.9,128.6 250.7,129.3 251.4,130 252.2,131.2 252.9,131.7 253.7,133 254.4,132.8 255.2,133.2 255.9,133.2 256.7,133.1 257.4,132.7 258.1,132.7 258.9,133.3 259.6,132.7 260.4,132.7 261.1,133.1 261.9,133.1 262.6,133.4 263.4,132.9 264.1,133.1 264.9,132.9 265.6,132.6 266.4,132.6 267.1,131.6 267.9,129.3 268.6,125.2 269.4,118.1 270.1,111.2 270.8,106.3 271.6,105.8 272.3,111.5 273.1,119.1 273.8,125.4 274.6,130.1 275.3,131.8 276.1,133 276.8,133.3 277.6,132.9 278.3,132.7 279.1,133.5 279.8,132.9 280.6,133 281.3,133.1 282.1,133.1 282.8,133.5 283.5,133.2 284.3,133.1 285,133.2 285.8,132.6 286.5,133.2 287.3,132.8 288,132.8 288.8,132.8 289.5,133.1 290.3,133.1 291,132.8 291.8,133.4 292.5,133.3 293.3,133.5 294,133.1 294.8,133.1 295.5,132.6 296.2,132.7 297,133.1 297.7,133 298.5,133.4 299.2,132.8 300,133 300.7,133.3 301.5,132.6 302.2,133.3 303,133.1 303.7,132.6 304.5,132 305.2,132.5 306,132 306.7,131.2 307.5,131.3 308.2,130.5 308.9,131.2 309.7,130.9 310.4,130.8 311.2,130.4 311.9,131.1 312.7,130.7 313.4,130.5 314.2,130.4 314.9,130.6 315.7,131.3 316.4,131.1 317.2,131.6 317.9,132 318.7,132.2 319.4,132.1 320.2,132.5 320.9,133.1 321.6,133.1 322.4,133.3 323.1,132.6 323.9,132.8 324.6,133 325.4,132.6 326.1,132.5 326.9,133.2 327.6,133 328.4,132.7 329.1,131.7 329.9,130.6 330.6,129 331.4,126.7 332.1,124.8 332.8,123.4 333.6,122.5 334.3,123 335.1,125.4 335.8,127.2 336.6,129.6 337.3,130.6 338.1,132 338.8,132.2 339.6,132.6 340.3,132.5 341.1,132.9 341.8,132.9 342.6,132.5 343.3,132.7 344.1,133.1 344.8,133.3 345.5,132.6 346.3,133.3 347,132.6 347.8,132.6 348.5,132.8 349.3,132.5 350,132.8 350.8,132.7 351.5,132.8 352.3,133.2 353,133.2 353.8,132.5 354.5,132.5 355.3,132.3 356,131.3 356.8,131 357.5,130.9" fill="none" stroke="#e0814e" stroke-width="1.2" stroke-linejoin="round"/>
<polyline points="58.7,128.4 59.4,128.6 60.2,128.5 60.9,128.4 61.7,128.8 62.4,128.8 63.2,128.8 63.9,128.8 64.7,128.5 65.4,128.4 66.2,128.9 66.9,128.5 67.7,129 68.4,129.1 69.2,128.5 69.9,128.5 70.7,128.9 71.4,128.3 72.1,128.5 72.9,128.9 73.6,128.5 74.4,128.4 75.1,129 75.9,128.3 76.6,128.7 77.4,128.9 78.1,128.8 78.9,128.7 79.6,128.7 80.4,128.9 81.1,129.1 81.9,128.6 82.6,128.5 83.4,128.5 84.1,128.8 84.8,128.3 85.6,129.1 86.3,129 87.1,129.1 87.8,128.5 88.6,128.3 89.3,128.2 90.1,127.3 90.8,127.5 91.6,127.7 92.3,127.4 93.1,127.9 93.8,128.9 94.6,128.5 95.3,128.6 96,128.6 96.8,128.3 97.5,128.5 98.3,128.2 99,128.5 99.8,128.3 100.5,129 101.3,128.3 102,128.8 102.8,128.3 103.5,128.4 104.3,128.2 105,128.4 105.8,128.7 106.5,128.6 107.3,128.4 108,129 108.7,128.6 109.5,128.6 110.2,128.4 111,128.8 111.7,128.5 112.5,128.4 113.2,128.7 114,128.4 114.7,128.2 115.5,128.7 116.2,128.6 117,128.6 117.7,128.3 118.5,128.8 119.2,128.8 120,128.7 120.7,128.5 121.4,128.9 122.2,128.2 122.9,128.6 123.7,128.4 124.4,128.6 125.2,128.5 125.9,126.6 126.7,122 127.4,113.7 128.2,100.9 128.9,91.2 129.7,89.5 130.4,97.6 131.2,109.5 131.9,119.7 132.7,125.2 133.4,128 134.1,128.4 134.9,128.7 135.6,128.5 136.4,128.4 137.1,128.6 137.9,128.3 138.6,128.4 139.4,128.9 140.1,128.3 140.9,128.3 141.6,127.5 142.4,126.3 143.1,125.1 143.9,122.6 144.6,121.1 145.4,119.4 146.1,119.7 146.8,119.3 147.6,120.4 148.3,121.3 149.1,122.5 149.8,124.1 150.6,125.8 151.3,126.7 152.1,127.7 152.8,128.6 153.6,128.6 154.3,128.1 155.1,128.7 155.8,128.7 156.6,128.5 157.3,128.6 158.1,128.1 158.8,128.1 159.5,128.9 160.3,128.8 161,128.8 161.8,128.6 162.5,128.7 163.3,128.4 164,128.2 164.8,128.9 165.5,128.9 166.3,128.9 167,128.7 167.8,128.8 168.5,128.6 169.3,128.6 170,128.3 170.8,128.1 171.5,128.1 172.2,128.6 173,128.4 173.7,128.8 174.5,128.4 175.2,128.1 176,128.1 176.7,128.7 177.5,128.4 178.2,127 179,125.5 179.7,121.8 180.5,115.9 181.2,105.3 182,92.9 182.7,78.8 183.4,68 184.2,63.1 184.9,64.1 185.7,68.3 186.4,74.7 187.2,81.8 187.9,89.2 188.7,97.3 189.4,105.7 190.2,113.8 190.9,120.7 191.7,125 192.4,126.5 193.2,128 193.9,128.4 194.7,128.6 195.4,128.2 196.1,128 196.9,128.5 197.6,128.1 198.4,128.5 199.1,128.5 199.9,128.2 200.6,128 201.4,128.2 202.1,128.3 202.9,128.1 203.6,128.1 204.4,128 205.1,128.4 205.9,128.5 206.6,128.9 207.4,128.4 208.1,128.5 208.8,128.8 209.6,127.9 210.3,128.4 211.1,127.7 211.8,128.4 212.6,127.9 213.3,127.3 214.1,127 214.8,126.7 215.6,126.4 216.3,126.3 217.1,125.3 217.8,125 218.6,125 219.3,124.8 220.1,124.6 220.8,125.1 221.5,125.4 222.3,125.7 223,125.9 223.8,126.3 224.5,127.1 225.3,127 226,127.7 226.8,127.7 227.5,128.1 228.3,127.8 229,127.8 229.8,128 230.5,128.4 231.3,128.5 232,128.4 232.8,128.3 233.5,128.8 234.2,128.3 235,128 235.7,128.8 236.5,128 237.2,128.3 238,127.8 238.7,127.9 239.5,127.6 240.2,126.8 241,125.9 241.7,124.4 242.5,121.7 243.2,120 244,119.3 244.7,120.1 245.5,121.1 246.2,122.7 246.9,124 247.7,124.3 248.4,124.2 249.2,123.4 249.9,123.6 250.7,123.8 251.4,124.7 252.2,126.4 252.9,126.8 253.7,127.8 254.4,127.9 255.2,128.2 255.9,128.1 256.7,128.5 257.4,128.2 258.1,128.4 258.9,128.1 259.6,128.3 260.4,128.2 261.1,127.9 261.9,128.5 262.6,128.8 263.4,128 264.1,128.3 264.9,128.2 265.6,128 266.4,127.7 267.1,127.5 267.9,125.4 268.6,122.4 269.4,116.3 270.1,108.9 270.8,103.1 271.6,100.9 272.3,104 273.1,110.6 273.8,117.7 274.6,122.7 275.3,126.6 276.1,127.2 276.8,127.8 277.6,128.2 278.3,128.1 279.1,128.5 279.8,128 280.6,127.9 281.3,128.4 282.1,128.3 282.8,128.5 283.5,128.5 284.3,128 285,128.1 285.8,128.3 286.5,128.1 287.3,128.5 288,128.7 288.8,128.4 289.5,128.2 290.3,128.5 291,128.2 291.8,128.4 292.5,128.5 293.3,128 294,128.4 294.8,128 295.5,128 296.2,128.4 297,128.7 297.7,127.9 298.5,128.2 299.2,128.2 300,128.1 300.7,128.1 301.5,127.8 302.2,128.5 303,127.6 303.7,127.7 304.5,127.7 305.2,127 306,126.7 306.7,126.7 307.5,126.9 308.2,126.1 308.9,126.1 309.7,125.8 310.4,125.6 311.2,126.2 311.9,125.6 312.7,126.1 313.4,126.2 314.2,126.4 314.9,126.4 315.7,126.3 316.4,126.2 317.2,126.1 317.9,127.1 318.7,127.3 319.4,127.5 320.2,127.6 320.9,128 321.6,127.9 322.4,128.4 323.1,128.6 323.9,128.1 324.6,128 325.4,128.5 326.1,128.6 326.9,128 327.6,128.4 328.4,127.5 329.1,127.2 329.9,126.9 330.6,125.3 331.4,123.7 332.1,121.6 332.8,119.5 333.6,117.9 334.3,117.9 335.1,119.2 335.8,121.2 336.6,123.4 337.3,125.3 338.1,126.5 338.8,127.4 339.6,127.9 340.3,127.7 341.1,128.3 341.8,128.2 342.6,128 343.3,127.7 344.1,128.3 344.8,128.2 345.5,128.2 346.3,128.4 347,128.3 347.8,127.9 348.5,128.4 349.3,128.2 350,128.3 350.8,128.1 351.5,127.9 352.3,128.5 353,128.1 353.8,128.3 354.5,127.7 355.3,127.2 356,127.1 356.8,126.5 357.5,126.1" fill="none" stroke="#e1824d" stroke-width="1.2" stroke-linejoin="round"/>
<polyline points="58.7,124.1 59.4,123.6 60.2,123.6 60.9,123.7 61.7,124 62.4,124 63.2,124.2 63.9,123.9 64.7,123.5 65.4,124.3 66.2,124 66.9,124.2 67.7,123.6 68.4,124.1 69.2,123.9 69.9,124.3 70.7,123.7 71.4,123.9 72.1,123.6 72.9,123.7 73.6,123.7 74.4,124.1 75.1,124.1 75.9,123.8 76.6,124.3 77.4,123.5 78.1,123.7 78.9,123.9 79.6,124 80.4,124.3 81.1,123.8 81.9,123.6 82.6,124.2 83.4,124.2 84.1,123.7 84.8,123.9 85.6,123.6 86.3,123.9 87.1,123.4 87.8,123.4 88.6,123.7 89.3,123.1 90.1,122.5 90.8,122.3 91.6,122.1 92.3,122.7 93.1,123.1 93.8,123.9 94.6,123.8 95.3,123.8 96,123.8 96.8,124.3 97.5,123.6 98.3,123.9 99,124.1 99.8,123.5 100.5,123.8 101.3,123.6 102,123.6 102.8,123.7 103.5,123.5 104.3,124.2 105,124 105.8,124.1 106.5,123.7 107.3,124.1 108,124.2 108.7,124.1 109.5,124.1 110.2,123.8 111,123.9 111.7,123.8 112.5,124.3 113.2,123.8 114,124 114.7,124.2 115.5,124.2 116.2,124.1 117,123.9 117.7,124.1 118.5,123.8 119.2,124.1 120,123.6 120.7,123.5 121.4,124 122.2,124.2 122.9,123.4 123.7,124.2 124.4,123.6 125.2,123.1 125.9,122.1 126.7,118 127.4,110.9 128.2,98.9 128.9,87.9 129.7,84.2 130.4,90.3 131.2,102.3 131.9,113 132.7,119.3 133.4,122.7 134.1,123.7 134.9,124.1 135.6,124 136.4,124.1 137.1,123.4 137.9,123.9 138.6,123.9 139.4,123.3 140.1,123.5 140.9,123.6 141.6,123.4 142.4,122.3 143.1,120.9 143.9,118.3 144.6,116.7 145.4,114.7 146.1,114.7 146.8,115.1 147.6,115 148.3,116.6 149.1,117.2 149.8,118.8 150.6,120.6 151.3,121.5 152.1,122.8 152.8,122.9 153.6,123.5 154.3,123.3 155.1,123.3 155.8,123.8 156.6,123.6 157.3,123.5 158.1,123.6 158.8,124.1 159.5,123.5 160.3,123.5 161,124 161.8,124.1 162.5,124.1 163.3,123.7 164,124.1 164.8,123.4 165.5,123.8 166.3,123.3 167,123.5 167.8,123.8 168.5,124 169.3,123.8 170,123.6 170.8,123.4 171.5,123.3 172.2,123.9 173,124.1 173.7,123.5 174.5,123.5 175.2,123.6 176,123.4 176.7,123.3 177.5,123.3 178.2,122.7 179,122 179.7,118.5 180.5,113.5 181.2,105.5 182,93.6 182.7,79.7 183.4,67.7 184.2,59 184.9,57.4 185.7,60.1 186.4,66.1 187.2,72.8 187.9,81.1 188.7,89 189.4,98.2 190.2,107 190.9,113.7 191.7,118.6 192.4,121.4 193.2,122.9 193.9,123.8 194.7,123.8 195.4,123.5 196.1,124 196.9,123.5 197.6,123.8 198.4,123.7 199.1,123.3 199.9,123.3 200.6,123.4 201.4,123.7 202.1,123.6 202.9,123.2 203.6,123.2 204.4,123.5 205.1,124 205.9,123.3 206.6,124 207.4,123.9 208.1,123.4 208.8,123.8 209.6,123.3 210.3,123.3 211.1,123.6 211.8,122.8 212.6,122.6 213.3,122.6 214.1,122 214.8,121.8 215.6,121.7 216.3,121 217.1,120.5 217.8,120.4 218.6,120.7 219.3,120.3 220.1,119.9 220.8,120.3 221.5,120.7 222.3,120.8 223,121.4 223.8,121.5 224.5,122.3 225.3,122.1 226,122.9 226.8,122.5 227.5,123.4 228.3,123.1 229,123.2 229.8,123.7 230.5,123.4 231.3,123.5 232,123.4 232.8,123.8 233.5,123.6 234.2,123.3 235,123.5 235.7,123.8 236.5,123.7 237.2,123.2 238,123.9 238.7,123.4 239.5,123.1 240.2,122.7 241,122 241.7,120.4 242.5,117.8 243.2,116.3 244,115.2 244.7,114.9 245.5,116.2 246.2,117.6 246.9,118.2 247.7,118.9 248.4,119.5 249.2,119.2 249.9,119.3 250.7,119.5 251.4,120.1 252.2,120.9 252.9,122.1 253.7,122.4 254.4,122.7 255.2,123.3 255.9,123.9 256.7,123.8 257.4,123.4 258.1,123.9 258.9,123.2 259.6,123.9 260.4,123.9 261.1,123.1 261.9,123.6 262.6,123.5 263.4,123.4 264.1,123.9 264.9,123.6 265.6,123.6 266.4,123.2 267.1,122.7 267.9,121.7 268.6,119.5 269.4,114.5 270.1,107.3 270.8,101.1 271.6,96.7 272.3,97.2 273.1,102 273.8,110 274.6,115.7 275.3,120.1 276.1,122.2 276.8,122.8 277.6,123.7 278.3,123.4 279.1,123.6 279.8,123.2 280.6,123.3 281.3,123.5 282.1,123.8 282.8,123.2 283.5,123.3 284.3,123.4 285,123.2 285.8,123.1 286.5,123.7 287.3,123.3 288,123.2 288.8,123.7 289.5,123.1 290.3,123.6 291,123 291.8,123.4 292.5,123 293.3,123.1 294,123.2 294.8,123.6 295.5,123.5 296.2,123.4 297,123.2 297.7,123.5 298.5,123.1 299.2,123.7 300,123.4 300.7,123.7 301.5,123.6 302.2,123.5 303,123.6 303.7,123 304.5,122.8 305.2,122.7 306,122.1 306.7,122 307.5,121.6 308.2,121.8 308.9,121.4 309.7,121.6 310.4,121.4 311.2,120.7 311.9,121.4 312.7,121 313.4,121.3 314.2,121 314.9,120.8 315.7,121 316.4,121 317.2,121.2 317.9,122 318.7,121.8 319.4,122.3 320.2,123 320.9,123.2 321.6,123.2 322.4,123 323.1,123.7 323.9,123 324.6,123.2 325.4,123.3 326.1,123.5 326.9,123.5 327.6,123.4 328.4,123 329.1,122.9 329.9,122 330.6,120.8 331.4,120 332.1,118.1 332.8,115.2 333.6,114.4 334.3,113.2 335.1,114.2 335.8,115.9 336.6,118.1 337.3,119.7 338.1,121.1 338.8,122.6 339.6,123.3 340.3,123.3 341.1,122.9 341.8,123.1 342.6,123.6 343.3,123.4 344.1,123.4 344.8,123.2 345.5,123.5 346.3,123.5 347,123.3 347.8,123.6 348.5,123.4 349.3,123.1 350,123.3 350.8,123.7 351.5,123.5 352.3,123.3 353,123.5 353.8,123.3 354.5,123.1 355.3,122.9 356,122.6 356.8,121.5 357.5,121.7" fill="none" stroke="#e1824d" stroke-width="1.2" stroke-linejoin="round"/>
<polyline points="58.7,118.8 59.4,119.5 60.2,119.1 60.9,119.1 61.7,119.2 62.4,119 63.2,118.8 63.9,119.3 64.7,119.5 65.4,119.4 66.2,118.8 66.9,119 67.7,118.9 68.4,119.2 69.2,119.3 69.9,118.9 70.7,119 71.4,118.7 72.1,119.4 72.9,119.2 73.6,118.9 74.4,118.7 75.1,119.1 75.9,118.8 76.6,119.4 77.4,119 78.1,119.2 78.9,118.9 79.6,119.3 80.4,119.4 81.1,119.3 81.9,118.9 82.6,118.9 83.4,118.7 84.1,119.1 84.8,119.5 85.6,118.8 86.3,119.3 87.1,118.9 87.8,119 88.6,118.9 89.3,118.9 90.1,118.1 90.8,117.3 91.6,117.6 92.3,117.7 93.1,118.3 93.8,118.8 94.6,118.6 95.3,119.5 96,119.1 96.8,119 97.5,119.4 98.3,118.7 99,119.4 99.8,119 100.5,119.2 101.3,119.1 102,119.1 102.8,119.2 103.5,119.3 104.3,118.9 105,118.9 105.8,119.4 106.5,118.6 107.3,119.4 108,119.3 108.7,119.2 109.5,119.1 110.2,119 111,118.6 111.7,119.4 112.5,118.9 113.2,118.9 114,119.2 114.7,119.1 115.5,119.1 116.2,118.7 117,118.8 117.7,119 118.5,119.4 119.2,119.1 120,118.7 120.7,119.1 121.4,119.1 122.2,118.9 122.9,119.4 123.7,118.8 124.4,118.8 125.2,119 125.9,117.7 126.7,114.2 127.4,107.9 128.2,96.8 128.9,85.6 129.7,80.1 130.4,84.3 131.2,95.2 131.9,106 132.7,113.7 133.4,116.9 134.1,118.7 134.9,118.9 135.6,119.1 136.4,118.6 137.1,119.1 137.9,118.8 138.6,119.2 139.4,118.9 140.1,119.1 140.9,118.4 141.6,118.5 142.4,117.3 143.1,116.3 143.9,114.7 144.6,112.4 145.4,110.4 146.1,109.7 146.8,109.6 147.6,110.3 148.3,111.2 149.1,112.7 149.8,113.5 150.6,115.2 151.3,116.6 152.1,117.9 152.8,118.2 153.6,118.7 154.3,119 155.1,118.5 155.8,118.7 156.6,118.8 157.3,118.6 158.1,118.7 158.8,119 159.5,118.5 160.3,118.5 161,118.8 161.8,119 162.5,118.9 163.3,119.3 164,118.6 164.8,118.6 165.5,118.8 166.3,118.9 167,118.6 167.8,119.3 168.5,119 169.3,119.1 170,118.8 170.8,119 171.5,118.8 172.2,118.5 173,119 173.7,119.2 174.5,119.3 175.2,118.6 176,118.9 176.7,118.9 177.5,119.1 178.2,118.7 179,117.9 179.7,115 180.5,111.7 181.2,104.3 182,93.8 182.7,80.7 183.4,67.9 184.2,57.2 184.9,52 185.7,52.2 186.4,57.6 187.2,64.4 187.9,72.7 188.7,81.3 189.4,90.8 190.2,100.1 190.9,107.1 191.7,113.1 192.4,115.9 193.2,117.5 193.9,118.2 194.7,119.2 195.4,118.7 196.1,118.5 196.9,118.7 197.6,118.7 198.4,118.9 199.1,118.5 199.9,118.8 200.6,119 201.4,118.8 202.1,118.9 202.9,119.1 203.6,118.7 204.4,118.5 205.1,118.7 205.9,119.3 206.6,118.9 207.4,118.6 208.1,119.1 208.8,118.7 209.6,118.5 210.3,118.6 211.1,118.7 211.8,118.9 212.6,118.1 213.3,118.3 214.1,117.6 214.8,117.4 215.6,116.8 216.3,117 217.1,115.8 217.8,115.7 218.6,115.3 219.3,115.7 220.1,115.2 220.8,115.5 221.5,115.4 222.3,115.6 223,116.2 223.8,116.1 224.5,117 225.3,117.3 226,117.4 226.8,118.2 227.5,117.8 228.3,118.5 229,118.1 229.8,118.9 230.5,119 231.3,118.6 232,119 232.8,118.8 233.5,119 234.2,118.6 235,118.5 235.7,118.6 236.5,119.1 237.2,119.2 238,118.7 238.7,119 239.5,118.3 240.2,118 241,116.9 241.7,115.7 242.5,114.1 243.2,112 244,110.8 244.7,110.4 245.5,111 246.2,111.6 246.9,112.9 247.7,113.8 248.4,114.2 249.2,114.2 249.9,113.8 250.7,114.6 251.4,115.5 252.2,115.8 252.9,116.9 253.7,117.5 254.4,117.9 255.2,118.6 255.9,119 256.7,118.7 257.4,118.7 258.1,118.8 258.9,118.5 259.6,118.9 260.4,118.3 261.1,119 261.9,118.9 262.6,118.4 263.4,118.9 264.1,118.5 264.9,118.9 265.6,118.8 266.4,118.6 267.1,118.6 267.9,117.3 268.6,115.4 269.4,111.6 270.1,106.4 270.8,99.5 271.6,93.4 272.3,91.5 273.1,94.9 273.8,101 274.6,107.9 275.3,113.4 276.1,116.8 276.8,118 277.6,118.9 278.3,118.7 279.1,118.4 279.8,118.8 280.6,119 281.3,118.6 282.1,118.3 282.8,118.5 283.5,119 284.3,118.7 285,118.9 285.8,118.4 286.5,118.7 287.3,118.7 288,118.3 288.8,118.8 289.5,118.7 290.3,118.2 291,118.8 291.8,118.6 292.5,118.5 293.3,118.8 294,118.5 294.8,118.7 295.5,118.3 296.2,118.6 297,118.4 297.7,118.6 298.5,118.5 299.2,118.7 300,118.9 300.7,118.7 301.5,118.7 302.2,118.9 303,118.2 303.7,118.3 304.5,118.1 305.2,117.7 306,118 306.7,117.7 307.5,116.8 308.2,117.2 308.9,116.2 309.7,116.4 310.4,115.9 311.2,115.9 311.9,116.4 312.7,116.4 313.4,116.4 314.2,116.1 314.9,116.4 315.7,116.2 316.4,116.1 317.2,116.5 317.9,117 318.7,117.1 319.4,117.7 320.2,117.9 320.9,118.2 321.6,117.9 322.4,118 323.1,118.4 323.9,118.5 324.6,118.9 325.4,118.5 326.1,118.2 326.9,118.8 327.6,118.3 328.4,118.7 329.1,118 329.9,118 330.6,116.9 331.4,115.4 332.1,114.4 332.8,111.7 333.6,110.2 334.3,109.3 335.1,109.2 335.8,110.1 336.6,111.7 337.3,114.2 338.1,116 338.8,117.2 339.6,117.6 340.3,118.3 341.1,118.2 341.8,118.3 342.6,118.7 343.3,118.5 344.1,118.9 344.8,118.4 345.5,118.4 346.3,118.8 347,118.4 347.8,118.9 348.5,118.1 349.3,118.5 350,118.2 350.8,118.4 351.5,118.8 352.3,118.3 353,118.4 353.8,118.6 354.5,118.2 355.3,118 356,117.7 356.8,117.6 357.5,116.3" fill="none" stroke="#e2834c" stroke-width="1.2" stroke-linejoin="round"/>
<polyline points="58.7,113.9 59.4,114.4 60.2,113.9 60.9,113.9 61.7,114.4 62.4,114.6 63.2,114.5 63.9,114.3 64.7,114.6 65.4,114.5 66.2,114.1 66.9,114.7 67.7,114.2 68.4,114.4 69.2,114.1 69.9,114.5 70.7,114.3 71.4,114.5 72.1,114.7 72.9,114 73.6,114.4 74.4,114.5 75.1,113.9 75.9,114.4 76.6,114.2 77.4,114.6 78.1,114.4 78.9,113.9 79.6,114 80.4,114 81.1,113.9 81.9,114.5 82.6,114.7 83.4,114.6 84.1,114.1 84.8,114.2 85.6,114.4 86.3,114.1 87.1,114.5 87.8,114.1 88.6,114.1 89.3,114 90.1,112.9 90.8,113 91.6,112.4 92.3,112.9 93.1,113.7 93.8,114.1 94.6,114.4 95.3,114.6 96,114.1 96.8,114.4 97.5,114.2 98.3,114.4 99,114.4 99.8,114.5 100.5,114 101.3,114.3 102,114.5 102.8,113.9 103.5,114.5 104.3,114.5 105,114.5 105.8,114.2 106.5,114 107.3,114.6 108,113.8 108.7,114 109.5,113.9 110.2,114.3 111,114.3 111.7,114.6 112.5,114.4 113.2,113.9 114,114.4 114.7,113.8 115.5,113.9 116.2,113.8 117,114.5 117.7,114.3 118.5,113.9 119.2,114.4 120,114.4 120.7,114.6 121.4,114.2 122.2,114.1 122.9,114.4 123.7,114.4 124.4,114 125.2,114.2 125.9,112.9 126.7,110.2 127.4,104.5 128.2,94.7 128.9,82.8 129.7,76.2 130.4,78.7 131.2,88 131.9,99.6 132.7,108.1 133.4,112.3 134.1,113.4 134.9,113.7 135.6,114.3 136.4,114.1 137.1,114.4 137.9,114.2 138.6,114.1 139.4,114.3 140.1,114 140.9,114 141.6,114.1 142.4,113.4 143.1,112 143.9,110.6 144.6,108.2 145.4,106.4 146.1,105.2 146.8,104.7 147.6,105.4 148.3,106.1 149.1,107.8 149.8,108.4 150.6,109.8 151.3,111.6 152.1,112.5 152.8,113.4 153.6,113.9 154.3,114.3 155.1,114.1 155.8,113.9 156.6,113.9 157.3,113.8 158.1,114.1 158.8,113.7 159.5,114.2 160.3,114.5 161,114.2 161.8,114.1 162.5,113.9 163.3,114.3 164,114.5 164.8,113.9 165.5,114.4 166.3,113.8 167,114 167.8,114.4 168.5,114.1 169.3,113.8 170,114.3 170.8,113.7 171.5,114.5 172.2,114.4 173,114 173.7,113.9 174.5,114 175.2,113.7 176,114.3 176.7,114.5 177.5,113.9 178.2,113.9 179,113.2 179.7,111.6 180.5,108 181.2,102.7 182,93.3 182.7,81.4 183.4,68.3 184.2,55.8 184.9,48.7 185.7,46.5 186.4,49.4 187.2,55.2 187.9,63.3 188.7,72.8 189.4,82.9 190.2,92.1 190.9,100.7 191.7,106.6 192.4,110.4 193.2,113.1 193.9,114 194.7,113.6 195.4,113.7 196.1,114.4 196.9,114.3 197.6,114.1 198.4,113.7 199.1,114.2 199.9,113.6 200.6,114.4 201.4,113.7 202.1,114.4 202.9,113.9 203.6,113.6 204.4,113.8 205.1,113.6 205.9,114.1 206.6,113.6 207.4,113.6 208.1,114.2 208.8,113.7 209.6,113.5 210.3,114.1 211.1,113.9 211.8,113.4 212.6,113.4 213.3,112.9 214.1,113.1 214.8,112.7 215.6,112.6 216.3,112.2 217.1,111.3 217.8,111.5 218.6,110.6 219.3,110.5 220.1,110.6 220.8,110.8 221.5,111.2 222.3,111.3 223,110.9 223.8,111.1 224.5,111.5 225.3,112.5 226,112.3 226.8,113 227.5,113.3 228.3,113.1 229,113.3 229.8,113.6 230.5,114 231.3,114.2 232,114.2 232.8,114.1 233.5,114.2 234.2,113.9 235,114.1 235.7,114.2 236.5,113.6 237.2,114.1 238,114.4 238.7,114.3 239.5,113.7 240.2,113.9 241,112.8 241.7,112.2 242.5,110.2 243.2,108.3 244,106.6 244.7,105.9 245.5,105.3 246.2,106 246.9,107.3 247.7,108.2 248.4,108.7 249.2,109.3 249.9,109.2 250.7,109.7 251.4,110 252.2,111.5 252.9,112.4 253.7,113 254.4,113.4 255.2,113.3 255.9,114 256.7,114.3 257.4,114 258.1,113.6 258.9,114.3 259.6,113.9 260.4,113.8 261.1,113.6 261.9,114.1 262.6,113.8 263.4,113.5 264.1,113.5 264.9,113.8 265.6,114 266.4,113.7 267.1,113.5 267.9,113.1 268.6,111.7 269.4,109.1 270.1,103.8 270.8,97.5 271.6,91.1 272.3,87.6 273.1,88.3 273.8,93.9 274.6,100.7 275.3,106.7 276.1,110.7 276.8,112.7 277.6,113.1 278.3,113.7 279.1,113.8 279.8,114 280.6,113.8 281.3,113.6 282.1,113.8 282.8,113.9 283.5,114 284.3,114.1 285,114.1 285.8,114.2 286.5,114.1 287.3,114.3 288,113.9 288.8,113.8 289.5,114.2 290.3,113.6 291,113.9 291.8,113.7 292.5,113.9 293.3,113.6 294,113.7 294.8,114.2 295.5,113.8 296.2,114 297,113.6 297.7,113.9 298.5,114.1 299.2,114.2 300,113.4 300.7,114.1 301.5,114 302.2,113.3 303,114 303.7,113.6 304.5,113.4 305.2,113 306,112.6 306.7,112.2 307.5,112.5 308.2,112.4 308.9,112.1 309.7,112.1 310.4,111.7 311.2,111.4 311.9,111.1 312.7,111.8 313.4,111.7 314.2,111.1 314.9,111.4 315.7,111.7 316.4,112.1 317.2,112.3 317.9,112.4 318.7,112.4 319.4,113.2 320.2,113 320.9,113 321.6,113.9 322.4,113.8 323.1,113.8 323.9,113.6 324.6,113.5 325.4,113.6 326.1,113.8 326.9,113.9 327.6,113.6 328.4,113.7 329.1,113.2 329.9,113.2 330.6,112.6 331.4,111.5 332.1,110.1 332.8,108.3 333.6,106.2 334.3,104.8 335.1,103.9 335.8,105 336.6,106.3 337.3,107.7 338.1,109.7 338.8,111.5 339.6,112.8 340.3,113.5 341.1,113.6 341.8,113.7 342.6,113.8 343.3,114 344.1,113.8 344.8,113.7 345.5,114.1 346.3,113.6 347,113.5 347.8,114 348.5,114 349.3,114.1 350,113.8 350.8,113.6 351.5,113.8 352.3,113.6 353,113.6 353.8,114.1 354.5,114 355.3,113.5 356,112.8 356.8,112.6 357.5,112.3" fill="none" stroke="#e3844c" stroke-width="1.2" stroke-linejoin="round"/>
<polyline points="58.7,109.7 59.4,109.8 60.2,109.4 60.9,109.3 61.7,109.6 62.4,109.9 63.2,109.7 63.9,109.3 64.7,109.3 65.4,109.6 66.2,109.1 66.9,109.6 67.7,109.9 68.4,109.8 69.2,109.1 69.9,109.3 70.7,109.9 71.4,109.7 72.1,109.6 72.9,109.5 73.6,109.9 74.4,109.1 75.1,109.4 75.9,109.7 76.6,109.9 77.4,109.4 78.1,109.1 78.9,109.3 79.6,109.1 80.4,109.1 81.1,109.3 81.9,109.9 82.6,109.6 83.4,109.4 84.1,109.5 84.8,109.7 85.6,109.8 86.3,109.1 87.1,109.3 87.8,109.6 88.6,109.3 89.3,108.6 90.1,108.7 90.8,107.8 91.6,108.1 92.3,107.9 93.1,108.5 93.8,108.8 94.6,109.5 95.3,109.4 96,109.6 96.8,109.6 97.5,109 98.3,109 99,109 99.8,109.1 100.5,109.4 101.3,109.3 102,109.1 102.8,109.5 103.5,109 104.3,109.2 105,109.6 105.8,109.5 106.5,109.2 107.3,109.7 108,109.6 108.7,109.7 109.5,109.8 110.2,109 111,109 111.7,109.1 112.5,109.4 113.2,109.2 114,109.2 114.7,109.5 115.5,109.4 116.2,109.7 117,109.6 117.7,109.5 118.5,109.5 119.2,109.2 120,109.6 120.7,109.6 121.4,109 122.2,109.1 122.9,109 123.7,109.1 124.4,109.6 125.2,109.2 125.9,108.2 126.7,106.1 127.4,101.3 128.2,91.7 128.9,80.1 129.7,72.6 130.4,72.9 131.2,81.2 131.9,92.7 132.7,101.9 133.4,106.6 134.1,108.6 134.9,109.3 135.6,109.7 136.4,109.1 137.1,109.1 137.9,109.4 138.6,109.1 139.4,109 140.1,109.1 140.9,108.9 141.6,108.6 142.4,108.9 143.1,107.1 143.9,106 144.6,103.8 145.4,102 146.1,101.2 146.8,100.3 147.6,101 148.3,101.2 149.1,102.6 149.8,103.9 150.6,105.4 151.3,106.3 152.1,107.6 152.8,108.7 153.6,108.8 154.3,109.5 155.1,109 155.8,109.2 156.6,109.1 157.3,109.2 158.1,108.9 158.8,109.1 159.5,109.3 160.3,109.2 161,109.2 161.8,109.5 162.5,109.5 163.3,109 164,109 164.8,108.9 165.5,109.1 166.3,109.3 167,109.4 167.8,109.1 168.5,109.2 169.3,108.9 170,109.1 170.8,109.4 171.5,109.5 172.2,109.7 173,109 173.7,109.3 174.5,109.4 175.2,109.7 176,109.3 176.7,108.9 177.5,109.4 178.2,108.8 179,108.3 179.7,107.3 180.5,104.8 181.2,100.4 182,92.3 182.7,81.5 183.4,68.2 184.2,55.7 184.9,46.1 185.7,40.8 186.4,41.7 187.2,47 187.9,54.5 188.7,64.3 189.4,74.5 190.2,84.1 190.9,93.4 191.7,100 192.4,105.1 193.2,107.4 193.9,108.8 194.7,108.7 195.4,109.1 196.1,109.3 196.9,109.3 197.6,109.5 198.4,109.5 199.1,109.1 199.9,109.4 200.6,109.6 201.4,109.3 202.1,109.3 202.9,108.8 203.6,109.3 204.4,109.3 205.1,108.8 205.9,109 206.6,109.2 207.4,109.3 208.1,109.4 208.8,109.5 209.6,109.1 210.3,108.9 211.1,109.3 211.8,108.9 212.6,109 213.3,108.4 214.1,108.4 214.8,107.8 215.6,107.4 216.3,107.4 217.1,107 217.8,106.9 218.6,106.5 219.3,105.9 220.1,105.6 220.8,106.2 221.5,105.5 222.3,105.7 223,106.4 223.8,106.6 224.5,106.8 225.3,107.5 226,107.8 226.8,107.8 227.5,108.3 228.3,108.6 229,108.6 229.8,109.2 230.5,109 231.3,109.2 232,109.4 232.8,109.1 233.5,108.9 234.2,109.1 235,109.1 235.7,109 236.5,109.2 237.2,108.7 238,109.4 238.7,109.5 239.5,109 240.2,108.6 241,108.4 241.7,107.5 242.5,106.2 243.2,104.6 244,102.4 244.7,101 245.5,101.1 246.2,101.2 246.9,102.3 247.7,103.6 248.4,103.7 249.2,104.2 249.9,104 250.7,104.4 251.4,105 252.2,106.5 252.9,107.6 253.7,107.7 254.4,108.9 255.2,108.7 255.9,109.3 256.7,108.9 257.4,109.5 258.1,109.5 258.9,108.8 259.6,109.1 260.4,109.1 261.1,108.7 261.9,108.8 262.6,109.3 263.4,108.9 264.1,109.2 264.9,109.1 265.6,109.3 266.4,109.3 267.1,109.2 267.9,108.9 268.6,108 269.4,105.3 270.1,101.6 270.8,95.4 271.6,88.4 272.3,83.5 273.1,83 273.8,85.8 274.6,92.3 275.3,98.9 276.1,104.3 276.8,106.7 277.6,108.2 278.3,109.3 279.1,109.1 279.8,108.9 280.6,109 281.3,108.7 282.1,108.8 282.8,108.8 283.5,108.6 284.3,109.2 285,108.7 285.8,109.5 286.5,108.8 287.3,109.4 288,109.1 288.8,109.1 289.5,109.4 290.3,108.9 291,108.8 291.8,109.3 292.5,109.3 293.3,108.8 294,109 294.8,109.5 295.5,109.2 296.2,108.6 297,109.2 297.7,109.2 298.5,109.1 299.2,108.7 300,108.7 300.7,109.1 301.5,108.8 302.2,109.3 303,109.2 303.7,108.8 304.5,108.4 305.2,108.7 306,108.5 306.7,107.5 307.5,107.9 308.2,107.7 308.9,107.5 309.7,107.3 310.4,107 311.2,106.6 311.9,106.5 312.7,106.8 313.4,106.6 314.2,106.8 314.9,106.6 315.7,107.1 316.4,106.8 317.2,107.5 317.9,106.9 318.7,107.8 319.4,107.8 320.2,108.5 320.9,108.5 321.6,108.8 322.4,108.6 323.1,108.6 323.9,108.6 324.6,108.5 325.4,109 326.1,108.9 326.9,109.1 327.6,109.1 328.4,108.9 329.1,108.4 329.9,109 330.6,108 331.4,107.5 332.1,106 332.8,104.7 333.6,102.4 334.3,100.9 335.1,100.1 335.8,99.9 336.6,101.3 337.3,102.9 338.1,104 338.8,106.4 339.6,107.4 340.3,108 341.1,109 341.8,108.4 342.6,109.2 343.3,108.5 344.1,109 344.8,108.9 345.5,108.8 346.3,109.3 347,108.9 347.8,108.7 348.5,108.7 349.3,108.7 350,108.8 350.8,109.3 351.5,109 352.3,108.9 353,109.3 353.8,108.7 354.5,109.2 355.3,108.7 356,108.8 356.8,108.5 357.5,107.3" fill="none" stroke="#e4854b" stroke-width="1.2" stroke-linejoin="round"/>
<polyline points="58.7,104.6 59.4,104.5 60.2,104.6 60.9,104.6 61.7,104.4 62.4,105.1 63.2,104.8 63.9,104.9 64.7,104.6 65.4,104.8 66.2,104.3 66.9,104.9 67.7,104.9 68.4,104.3 69.2,104.5 69.9,104.7 70.7,104.8 71.4,104.5 72.1,105 72.9,104.5 73.6,104.9 74.4,104.4 75.1,105.1 75.9,104.3 76.6,104.3 77.4,105.1 78.1,105 78.9,104.3 79.6,104.4 80.4,104.9 81.1,104.4 81.9,104.6 82.6,104.9 83.4,104.5 84.1,104.7 84.8,105 85.6,104.3 86.3,104.5 87.1,104.9 87.8,104.7 88.6,104.3 89.3,104.3 90.1,103.9 90.8,103.2 91.6,102.7 92.3,103.8 93.1,104.1 93.8,104.4 94.6,104.1 95.3,104.2 96,105.1 96.8,104.5 97.5,105 98.3,104.9 99,105 99.8,104.6 100.5,104.2 101.3,104.2 102,104.7 102.8,104.3 103.5,104.4 104.3,105 105,104.3 105.8,104.8 106.5,104.2 107.3,104.9 108,104.2 108.7,104.6 109.5,104.6 110.2,104.9 111,104.6 111.7,104.4 112.5,104.5 113.2,104.2 114,104.6 114.7,104.2 115.5,104.9 116.2,104.4 117,104.5 117.7,104.2 118.5,104.7 119.2,104.6 120,104.3 120.7,104.8 121.4,104.7 122.2,104.3 122.9,104.4 123.7,104.6 124.4,105 125.2,104.2 125.9,104 126.7,102.3 127.4,97.6 128.2,89.2 128.9,77.3 129.7,68.4 130.4,67 131.2,74.7 131.9,86.4 132.7,95.7 133.4,100.8 134.1,104 134.9,104.5 135.6,104.8 136.4,104.8 137.1,104.8 137.9,104.4 138.6,104.9 139.4,104.2 140.1,104.6 140.9,104.7 141.6,104.6 142.4,103.8 143.1,103.1 143.9,101.6 144.6,100.2 145.4,98.1 146.1,96.5 146.8,96.1 147.6,95.8 148.3,96.2 149.1,97.4 149.8,99.1 150.6,100 151.3,101.9 152.1,103 152.8,104 153.6,104.1 154.3,104.6 155.1,104.7 155.8,104.8 156.6,104.2 157.3,104.8 158.1,104.4 158.8,104.2 159.5,104.5 160.3,104.4 161,104.7 161.8,104.2 162.5,104.3 163.3,104.9 164,104.3 164.8,104.8 165.5,104.5 166.3,104.8 167,104.5 167.8,104.3 168.5,104.3 169.3,104.6 170,104.9 170.8,104.5 171.5,104.1 172.2,104.4 173,104.4 173.7,104.2 174.5,104.4 175.2,104.1 176,104.1 176.7,104.2 177.5,104.1 178.2,104.6 179,104.2 179.7,102.9 180.5,101.1 181.2,97.1 182,90.7 182.7,81.5 183.4,69.3 184.2,55.7 184.9,44.8 185.7,37.3 186.4,35.7 187.2,38.8 187.9,45.6 188.7,54.9 189.4,65.5 190.2,76.7 190.9,85.6 191.7,93.5 192.4,98.5 193.2,101.9 193.9,103.3 194.7,103.8 195.4,104.1 196.1,104.3 196.9,104.8 197.6,104.9 198.4,104.2 199.1,104.1 199.9,104.5 200.6,104.7 201.4,104.5 202.1,104.1 202.9,104.2 203.6,104.7 204.4,104.7 205.1,104.7 205.9,104.2 206.6,104.6 207.4,104 208.1,104.5 208.8,104.6 209.6,104.4 210.3,104.6 211.1,103.8 211.8,104.5 212.6,104 213.3,103.8 214.1,103.9 214.8,103.5 215.6,102.5 216.3,102.3 217.1,102.3 217.8,101.6 218.6,101.2 219.3,101 220.1,101 220.8,101 221.5,101.1 222.3,101 223,101.4 223.8,101.3 224.5,102.3 225.3,102 226,102.5 226.8,103.1 227.5,103 228.3,103.8 229,103.9 229.8,103.9 230.5,103.7 231.3,104.4 232,103.9 232.8,104.1 233.5,103.9 234.2,104.5 235,104.2 235.7,104 236.5,104 237.2,104.2 238,104 238.7,104.2 239.5,104.2 240.2,104.4 241,103.7 241.7,102.6 242.5,101.5 243.2,100.7 244,98.8 244.7,97.3 245.5,96 246.2,96.6 246.9,96.8 247.7,98.2 248.4,98.9 249.2,98.8 249.9,99.8 250.7,99.8 251.4,100.7 252.2,101.1 252.9,102.7 253.7,102.9 254.4,103.9 255.2,103.6 255.9,104.3 256.7,104.1 257.4,104.7 258.1,103.9 258.9,104.2 259.6,103.9 260.4,104.1 261.1,104.7 261.9,104.1 262.6,104.4 263.4,104.6 264.1,103.9 264.9,104.1 265.6,104.4 266.4,104.7 267.1,104.1 267.9,104.4 268.6,103.6 269.4,102.2 270.1,98.9 270.8,93.2 271.6,87 272.3,80.3 273.1,78.1 273.8,79.3 274.6,84.7 275.3,91.5 276.1,97.3 276.8,101.5 277.6,102.8 278.3,103.5 279.1,104.1 279.8,104.5 280.6,104.6 281.3,104.5 282.1,103.8 282.8,104.4 283.5,104.5 284.3,104.2 285,104.7 285.8,104 286.5,104 287.3,104.4 288,104.7 288.8,103.9 289.5,104 290.3,104 291,104.5 291.8,103.8 292.5,104.1 293.3,104.7 294,103.8 294.8,104.1 295.5,104.5 296.2,103.9 297,104.1 297.7,104.1 298.5,104.6 299.2,104.5 300,103.9 300.7,104.6 301.5,104.4 302.2,104.5 303,103.9 303.7,104.2 304.5,103.5 305.2,103.6 306,103.1 306.7,102.7 307.5,102.4 308.2,102.9 308.9,102.5 309.7,101.9 310.4,102.2 311.2,101.5 311.9,102 312.7,101.7 313.4,102.1 314.2,101.6 314.9,102.1 315.7,102 316.4,101.8 317.2,101.9 317.9,102.8 318.7,103 319.4,103.3 320.2,103.1 320.9,103.4 321.6,103.6 322.4,103.6 323.1,104.3 323.9,104.1 324.6,104.6 325.4,104.3 326.1,104.1 326.9,104.4 327.6,103.9 328.4,104.4 329.1,104.1 329.9,103.8 330.6,103.9 331.4,102.9 332.1,102.1 332.8,101 333.6,99.2 334.3,96.9 335.1,95.4 335.8,95 336.6,95.4 337.3,96.9 338.1,98.5 338.8,100.2 339.6,101.9 340.3,103 341.1,103.9 341.8,104.1 342.6,104.4 343.3,104.5 344.1,104.2 344.8,104.3 345.5,104.1 346.3,103.8 347,104.3 347.8,103.8 348.5,103.8 349.3,104.4 350,104 350.8,104.4 351.5,104.5 352.3,104.4 353,104.4 353.8,104.6 354.5,104.5 355.3,103.8 356,103.6 356.8,103.3 357.5,103.6" fill="none" stroke="#e4854b" stroke-width="1.2" stroke-linejoin="round"/>
<polyline points="58.7,100.3 59.4,99.6 60.2,100 60.9,100 61.7,99.7 62.4,99.9 63.2,100 63.9,100.2 64.7,100.2 65.4,99.7 66.2,99.5 66.9,100.3 67.7,100.1 68.4,99.9 69.2,100.1 69.9,99.9 70.7,99.9 71.4,100.1 72.1,100.2 72.9,99.9 73.6,99.6 74.4,100.2 75.1,99.8 75.9,99.6 76.6,99.8 77.4,100 78.1,99.5 78.9,99.6 79.6,99.4 80.4,100 81.1,99.9 81.9,99.9 82.6,99.5 83.4,99.7 84.1,99.8 84.8,99.8 85.6,99.5 86.3,100 87.1,100.2 87.8,100.1 88.6,99.9 89.3,99.8 90.1,98.5 90.8,98.4 91.6,98 92.3,98.6 93.1,99 93.8,99.7 94.6,99.4 95.3,99.9 96,99.9 96.8,99.6 97.5,99.5 98.3,99.4 99,99.8 99.8,99.9 100.5,99.5 101.3,99.9 102,100.1 102.8,99.8 103.5,100 104.3,100 105,99.6 105.8,99.9 106.5,99.7 107.3,100 108,100.2 108.7,99.5 109.5,99.6 110.2,99.6 111,99.7 111.7,100.1 112.5,99.8 113.2,99.5 114,99.5 114.7,99.7 115.5,99.7 116.2,100.1 117,100.2 117.7,99.5 118.5,100.2 119.2,100 120,99.9 120.7,99.6 121.4,99.6 122.2,99.4 122.9,99.4 123.7,100 124.4,100 125.2,100 125.9,99.4 126.7,98.1 127.4,93.4 128.2,85.9 128.9,75.1 129.7,65.8 130.4,62.2 131.2,68.7 131.9,79 132.7,89.6 133.4,95.9 134.1,98.8 134.9,99.4 135.6,99.9 136.4,99.7 137.1,99.6 137.9,100 138.6,100.1 139.4,99.7 140.1,99.8 140.9,99.7 141.6,99.6 142.4,99.4 143.1,98.7 143.9,97 144.6,95.4 145.4,93.5 146.1,92 146.8,91.2 147.6,91.3 148.3,91.2 149.1,92.5 149.8,93.8 150.6,95.3 151.3,96.6 152.1,97.3 152.8,98.7 153.6,98.9 154.3,99.8 155.1,99.5 155.8,99.9 156.6,99.9 157.3,99.9 158.1,99.8 158.8,99.6 159.5,99.8 160.3,99.4 161,100 161.8,99.4 162.5,99.8 163.3,99.4 164,99.8 164.8,99.9 165.5,99.3 166.3,99.6 167,99.5 167.8,99.7 168.5,99.5 169.3,99.3 170,99.5 170.8,99.3 171.5,99.8 172.2,99.9 173,99.3 173.7,99.4 174.5,99.3 175.2,99.7 176,99.7 176.7,99.3 177.5,99.9 178.2,99.9 179,99.6 179.7,98.9 180.5,97.3 181.2,94.4 182,89 182.7,81 183.4,69.4 184.2,56.2 184.9,44.2 185.7,34.5 186.4,29.9 187.2,31.2 187.9,36.6 188.7,45.6 189.4,56.6 190.2,68.2 190.9,78.6 191.7,86.7 192.4,92.4 193.2,96.6 193.9,98.6 194.7,98.9 195.4,99.5 196.1,99.6 196.9,100 197.6,99.6 198.4,99.6 199.1,99.4 199.9,99.3 200.6,100 201.4,99.3 202.1,99.8 202.9,99.7 203.6,99.8 204.4,99.3 205.1,99.7 205.9,100 206.6,99.6 207.4,99.9 208.1,100 208.8,99.9 209.6,99.6 210.3,99.5 211.1,99.8 211.8,99.6 212.6,98.8 213.3,98.9 214.1,98.3 214.8,98.5 215.6,97.8 216.3,97.7 217.1,97.6 217.8,97.6 218.6,97.2 219.3,96.4 220.1,96.3 220.8,96.5 221.5,96.6 222.3,96.3 223,96.2 223.8,97 224.5,96.7 225.3,97.4 226,98 226.8,98.4 227.5,98.2 228.3,98.3 229,99.1 229.8,99.3 230.5,99.5 231.3,99.6 232,99.6 232.8,99.5 233.5,99.7 234.2,99.4 235,99.8 235.7,99.7 236.5,99.6 237.2,99.8 238,99.9 238.7,99.9 239.5,99.9 240.2,99.2 241,99.5 241.7,98.5 242.5,97.2 243.2,96.1 244,94.7 244.7,93 245.5,91.9 246.2,91.6 246.9,92.3 247.7,93 248.4,93.8 249.2,94.3 249.9,94.6 250.7,95.3 251.4,95.5 252.2,96.7 252.9,97.3 253.7,98 254.4,98.8 255.2,98.9 255.9,99.1 256.7,99.5 257.4,99.7 258.1,99.9 258.9,99.3 259.6,99.6 260.4,99.7 261.1,99.9 261.9,99.8 262.6,99.1 263.4,99.5 264.1,99.2 264.9,99.2 265.6,99.7 266.4,99.7 267.1,99.1 267.9,99.6 268.6,98.8 269.4,97.4 270.1,95.4 270.8,91 271.6,84.4 272.3,78.1 273.1,73.6 273.8,73.5 274.6,77.9 275.3,84.3 276.1,90.6 276.8,94.5 277.6,97.5 278.3,98.4 279.1,98.9 279.8,99.6 280.6,99 281.3,99.7 282.1,99.7 282.8,99.7 283.5,99 284.3,99.1 285,99.6 285.8,99.5 286.5,99.2 287.3,99.2 288,99.1 288.8,99.6 289.5,99.7 290.3,99.4 291,99 291.8,99.3 292.5,99.1 293.3,99.7 294,99.4 294.8,99.1 295.5,99.4 296.2,99.2 297,99.1 297.7,99.5 298.5,99.2 299.2,99.2 300,99.5 300.7,99.4 301.5,99.1 302.2,99 303,98.8 303.7,99.2 304.5,98.8 305.2,98.8 306,98.3 306.7,98.6 307.5,98.1 308.2,98.1 308.9,97.3 309.7,97.2 310.4,97.7 311.2,97.5 311.9,97.4 312.7,97 313.4,96.8 314.2,97.2 314.9,97.4 315.7,97 316.4,97.1 317.2,97.4 317.9,97.8 318.7,98 319.4,98.4 320.2,98.1 320.9,98.8 321.6,98.7 322.4,99 323.1,99.4 323.9,99.5 324.6,99.2 325.4,99 326.1,99 326.9,99.7 327.6,99.6 328.4,99.7 329.1,99.6 329.9,99.3 330.6,98.8 331.4,98.2 332.1,97.7 332.8,96.9 333.6,95.1 334.3,93.5 335.1,91.9 335.8,90.7 336.6,90.7 337.3,91.9 338.1,93.4 338.8,94.6 339.6,96.4 340.3,97.6 341.1,98.7 341.8,99.1 342.6,98.9 343.3,99.7 344.1,99.2 344.8,98.9 345.5,99.2 346.3,99.7 347,99.7 347.8,99.1 348.5,99.6 349.3,99.4 350,99.2 350.8,99.2 351.5,99.5 352.3,99.1 353,98.9 353.8,99.3 354.5,99.4 355.3,99.1 356,98.8 356.8,98.8 357.5,98.2" fill="none" stroke="#e5864a" stroke-width="1.2" stroke-linejoin="round"/>
<polyline points="58.7,94.8 59.4,94.7 60.2,95.3 60.9,94.9 61.7,95.4 62.4,95.4 63.2,95.2 63.9,94.7 64.7,95.3 65.4,95.3 66.2,94.7 66.9,94.6 67.7,94.9 68.4,95.2 69.2,94.8 69.9,95.5 70.7,95.5 71.4,95.5 72.1,95.2 72.9,95.3 73.6,94.7 74.4,95.1 75.1,94.8 75.9,95.1 76.6,95.2 77.4,95.2 78.1,95.5 78.9,95.1 79.6,94.7 80.4,94.6 81.1,94.7 81.9,95.4 82.6,95.1 83.4,94.7 84.1,95.4 84.8,95.4 85.6,95.3 86.3,95.4 87.1,94.8 87.8,94.8 88.6,94.5 89.3,95 90.1,94 90.8,93.4 91.6,93.7 92.3,94 93.1,93.7 93.8,94.4 94.6,95.3 95.3,95.3 96,94.9 96.8,95.3 97.5,95.1 98.3,95.3 99,95.4 99.8,95 100.5,95 101.3,94.7 102,95.5 102.8,95.1 103.5,95.4 104.3,95 105,95.3 105.8,95.2 106.5,94.6 107.3,94.9 108,94.8 108.7,94.9 109.5,95.3 110.2,94.8 111,94.6 111.7,95.4 112.5,94.7 113.2,95.1 114,95.3 114.7,94.8 115.5,94.7 116.2,95.3 117,95.3 117.7,95 118.5,95.2 119.2,95 120,94.5 120.7,95.4 121.4,95 122.2,95.2 122.9,95.3 123.7,94.9 124.4,94.6 125.2,94.9 125.9,94.5 126.7,93.2 127.4,89.6 128.2,82.5 128.9,72.7 129.7,62.6 130.4,57.6 131.2,62.2 131.9,72.2 132.7,83.3 133.4,89.7 134.1,93.7 134.9,94.9 135.6,95.2 136.4,95.1 137.1,95 137.9,94.8 138.6,94.5 139.4,95 140.1,94.8 140.9,95 141.6,94.9 142.4,94.7 143.1,94.3 143.9,93 144.6,91 145.4,89.2 146.1,87.6 146.8,86.8 147.6,86.4 148.3,87 149.1,87.8 149.8,88.3 150.6,90 151.3,91.5 152.1,92.6 152.8,93.6 153.6,94.4 154.3,94.7 155.1,94.9 155.8,94.5 156.6,94.5 157.3,95.1 158.1,94.9 158.8,95.1 159.5,94.5 160.3,95.2 161,94.9 161.8,95.3 162.5,94.9 163.3,94.9 164,95.3 164.8,95.2 165.5,94.9 166.3,94.9 167,95.1 167.8,95.3 168.5,95 169.3,95 170,95.2 170.8,94.8 171.5,95.1 172.2,94.8 173,94.7 173.7,95.3 174.5,94.9 175.2,94.7 176,94.5 176.7,94.7 177.5,94.5 178.2,94.6 179,94.9 179.7,93.9 180.5,92.9 181.2,90.8 182,86.1 182.7,79.7 183.4,68.8 184.2,56.8 184.9,43.6 185.7,32.5 186.4,26.4 187.2,24.9 187.9,29.3 188.7,37.2 189.4,46.9 190.2,59.2 190.9,70.1 191.7,79.8 192.4,85.9 193.2,90.7 193.9,92.7 194.7,94.4 195.4,94.6 196.1,95 196.9,94.7 197.6,94.6 198.4,94.8 199.1,94.7 199.9,95 200.6,94.4 201.4,95.2 202.1,95.1 202.9,94.7 203.6,94.4 204.4,94.5 205.1,95 205.9,94.4 206.6,94.8 207.4,94.7 208.1,94.6 208.8,94.6 209.6,94.4 210.3,94.3 211.1,94.7 211.8,94.1 212.6,94.5 213.3,94 214.1,94.3 214.8,93.6 215.6,93.6 216.3,92.7 217.1,92.7 217.8,92.6 218.6,91.8 219.3,92.3 220.1,91.5 220.8,91.5 221.5,92 222.3,91.7 223,92.1 223.8,91.5 224.5,92.6 225.3,92.4 226,92.8 226.8,93.5 227.5,93.1 228.3,93.7 229,93.9 229.8,94.4 230.5,94.6 231.3,94.6 232,95 232.8,94.9 233.5,94.7 234.2,94.8 235,94.5 235.7,95 236.5,95 237.2,94.7 238,94.6 238.7,94.9 239.5,95 240.2,94.9 241,94.5 241.7,94.1 242.5,92.9 243.2,92.3 244,90.6 244.7,88.6 245.5,87.8 246.2,87.2 246.9,86.4 247.7,87.1 248.4,88.4 249.2,89.1 249.9,89.5 250.7,90.2 251.4,90.4 252.2,91.1 252.9,92.2 253.7,93.3 254.4,93.6 255.2,93.9 255.9,94.8 256.7,94.5 257.4,95 258.1,94.3 258.9,94.4 259.6,94.8 260.4,94.5 261.1,94.9 261.9,95.1 262.6,94.7 263.4,95.1 264.1,94.7 264.9,94.4 265.6,94.6 266.4,94.9 267.1,94.9 267.9,94.5 268.6,94.3 269.4,93.2 270.1,92 270.8,88.2 271.6,82.8 272.3,76.4 273.1,71.1 273.8,68.8 274.6,70.8 275.3,76.6 276.1,82.9 276.8,88.2 277.6,91.3 278.3,93.5 279.1,94.4 279.8,95 280.6,94.6 281.3,94.8 282.1,95 282.8,94.7 283.5,94.5 284.3,94.8 285,94.4 285.8,94.5 286.5,95 287.3,95 288,94.6 288.8,94.5 289.5,94.6 290.3,94.9 291,94.8 291.8,94.4 292.5,94.7 293.3,94.6 294,94.9 294.8,94.5 295.5,94.6 296.2,95.1 297,94.4 297.7,94.3 298.5,94.2 299.2,94.2 300,94.4 300.7,94.6 301.5,94.8 302.2,94.3 303,94.5 303.7,94.5 304.5,94.6 305.2,94 306,93.7 306.7,93.4 307.5,93.7 308.2,93.4 308.9,92.8 309.7,93 310.4,92.2 311.2,92 311.9,92.2 312.7,92.5 313.4,92.2 314.2,92 314.9,92.4 315.7,92.2 316.4,92.3 317.2,92.2 317.9,92.5 318.7,92.8 319.4,93.2 320.2,93.2 320.9,93.7 321.6,93.9 322.4,94.4 323.1,94.7 323.9,94.4 324.6,94.7 325.4,94.1 326.1,94.8 326.9,94.2 327.6,94.7 328.4,94.8 329.1,94.5 329.9,94.6 330.6,93.9 331.4,93.9 332.1,93.8 332.8,92.6 333.6,91.4 334.3,89.4 335.1,87.7 335.8,86.7 336.6,85.9 337.3,86.5 338.1,87.4 338.8,89.2 339.6,91.3 340.3,92.1 341.1,93.8 341.8,94.2 342.6,94.7 343.3,94 344.1,94.5 344.8,94.2 345.5,94.1 346.3,94.9 347,94.2 347.8,95 348.5,94.3 349.3,94.3 350,94.6 350.8,94.2 351.5,94.3 352.3,94.5 353,94.7 353.8,94.8 354.5,94.9 355.3,94.4 356,94.4 356.8,94.6 357.5,94" fill="none" stroke="#e6874a" stroke-width="1.2" stroke-linejoin="round"/>
<rect x="58.7" y="22" width="298.8" height="252" fill="none" stroke="#000" stroke-width="1.5"/>
<line x1="58.7" y1="274" x2="58.7" y2="269.5" stroke="#000" stroke-width="1.5"/>
<text x="58.7" y="290.7" font-size="17.3" text-anchor="middle">5</text>
<line x1="133.4" y1="274" x2="133.4" y2="269.5" stroke="#000" stroke-width="1.5"/>
<text x="133.4" y="290.7" font-size="17.3" text-anchor="middle">10</text>
<line x1="208.1" y1="274" x2="208.1" y2="269.5" stroke="#000" stroke-width="1.5"/>
<text x="208.1" y="290.7" font-size="17.3" text-anchor="middle">15</text>
<line x1="282.8" y1="274" x2="282.8" y2="269.5" stroke="#000" stroke-width="1.5"/>
<text x="282.8" y="290.7" font-size="17.3" text-anchor="middle">20</text>
<line x1="357.5" y1="274" x2="357.5" y2="269.5" stroke="#000" stroke-width="1.5"/>
<text x="357.5" y="290.7" font-size="17.3" text-anchor="middle">25</text>
<line x1="96.1" y1="274" x2="96.1" y2="271.5" stroke="#000" stroke-width="1.5"/>
<line x1="170.8" y1="274" x2="170.8" y2="271.5" stroke="#000" stroke-width="1.5"/>
<line x1="245.4" y1="274" x2="245.4" y2="271.5" stroke="#000" stroke-width="1.5"/>
<line x1="320.1" y1="274" x2="320.1" y2="271.5" stroke="#000" stroke-width="1.5"/>
<text x="204.8" y="309" font-size="17.3" text-anchor="middle">2<tspan font-style="italic">θ</tspan> (degree)</text>
<text x="45.5" y="154.8" font-size="17.3" text-anchor="middle" transform="rotate(-90 45.5 154.8)">Intensity(a.u.)</text>
<text x="5.1" y="34.4" font-size="20" font-weight="bold">a</text>
<text x="291.8" y="56" font-size="17.3"><tspan font-style="italic">P</tspan> (GPa)</text>
<text x="305.3" y="78.9" font-size="17.3" fill="#e6874a">41.2</text>
<text x="328.1" y="248.9" font-size="17.3" fill="#3f4e9f">1.6</text>
<text x="62.5" y="267" font-size="17.3">(111)</text>
<text x="108" y="267" font-size="17.3">(006)</text>
<text x="159.8" y="267" font-size="17.3">(020)</text>
<text x="211.7" y="267" font-size="17.3">(026)</text>
<text x="255.7" y="267" font-size="17.3">(220)</text>
<text x="307.3" y="267" font-size="17.3">(135)</text>
<line x1="124" y1="234.4" x2="102.9" y2="249.3" stroke="#000" stroke-width="1.4"/>
<polygon points="98,252.8 101.9,246.1 105.6,251.4" fill="#000"/>
<line x1="140" y1="232" x2="131" y2="247.6" stroke="#000" stroke-width="1.4"/>
<polygon points="128,252.8 128.7,245.1 134.3,248.3" fill="#000"/>
<line x1="182.3" y1="228.5" x2="186.2" y2="246.9" stroke="#000" stroke-width="1.4"/>
<polygon points="187.5,252.8 182.9,246.6 189.2,245.3" fill="#000"/>
<line x1="236.3" y1="230" x2="234.3" y2="246.5" stroke="#000" stroke-width="1.4"/>
<polygon points="233.6,252.5 231.3,245.2 237.6,245.9" fill="#000"/>
<line x1="262" y1="232.8" x2="264.7" y2="246.6" stroke="#000" stroke-width="1.4"/>
<polygon points="265.9,252.5 261.4,246.3 267.7,245" fill="#000"/>
<line x1="322.6" y1="228.5" x2="319.9" y2="246.6" stroke="#000" stroke-width="1.4"/>
<polygon points="319,252.5 316.9,245.1 323.2,246.1" fill="#000"/>
<g>
<polyline points="485.8,265.3 488.5,263 497.6,240 503.9,225 510.2,212 518.1,198 525.2,186 532.3,182 539.3,180 547.2,179 554.3,178.5 561.4,178 568.5,177.8 574.8,177.8 582.7,177.8 589.8,175.5 596.9,173.9 612.3,170.7 622.8,165 634,158 641.7,153 653,146 657.5,142 664.4,136 675.7,126 686.1,120 689.9,117 706,104.8 718.3,96 734.8,84 745.8,75 760,65.4 768.8,58.8" fill="none" stroke="#4d4d4d" stroke-width="1.5" stroke-linejoin="round"/>
<rect x="482" y="261.5" width="7.6" height="7.6" fill="#4d4d4d"/>
<rect x="484.7" y="259.2" width="7.6" height="7.6" fill="#4d4d4d"/>
<rect x="493.8" y="236.2" width="7.6" height="7.6" fill="#4d4d4d"/>
<rect x="500.1" y="221.2" width="7.6" height="7.6" fill="#4d4d4d"/>
<rect x="506.4" y="208.2" width="7.6" height="7.6" fill="#4d4d4d"/>
<rect x="514.3" y="194.2" width="7.6" height="7.6" fill="#4d4d4d"/>
<rect x="521.4" y="182.2" width="7.6" height="7.6" fill="#4d4d4d"/>
<rect x="528.5" y="178.2" width="7.6" height="7.6" fill="#4d4d4d"/>
<rect x="535.5" y="176.2" width="7.6" height="7.6" fill="#4d4d4d"/>
<rect x="543.4" y="175.2" width="7.6" height="7.6" fill="#4d4d4d"/>
<rect x="550.5" y="174.7" width="7.6" height="7.6" fill="#4d4d4d"/>
<rect x="557.6" y="174.2" width="7.6" height="7.6" fill="#4d4d4d"/>
<rect x="564.7" y="174" width="7.6" height="7.6" fill="#4d4d4d"/>
<rect x="571" y="174" width="7.6" height="7.6" fill="#4d4d4d"/>
<rect x="578.9" y="174" width="7.6" height="7.6" fill="#4d4d4d"/>
<rect x="586" y="171.7" width="7.6" height="7.6" fill="#4d4d4d"/>
<rect x="593.1" y="170.1" width="7.6" height="7.6" fill="#4d4d4d"/>
<rect x="608.5" y="166.9" width="7.6" height="7.6" fill="#4d4d4d"/>
<rect x="619" y="161.2" width="7.6" height="7.6" fill="#4d4d4d"/>
<rect x="630.2" y="154.2" width="7.6" height="7.6" fill="#4d4d4d"/>
<rect x="637.9" y="149.2" width="7.6" height="7.6" fill="#4d4d4d"/>
<rect x="649.2" y="142.2" width="7.6" height="7.6" fill="#4d4d4d"/>
<rect x="653.7" y="138.2" width="7.6" height="7.6" fill="#4d4d4d"/>
<rect x="660.6" y="132.2" width="7.6" height="7.6" fill="#4d4d4d"/>
<rect x="671.9" y="122.2" width="7.6" height="7.6" fill="#4d4d4d"/>
<rect x="682.3" y="116.2" width="7.6" height="7.6" fill="#4d4d4d"/>
<rect x="686.1" y="113.2" width="7.6" height="7.6" fill="#4d4d4d"/>
<rect x="702.2" y="101" width="7.6" height="7.6" fill="#4d4d4d"/>
<rect x="714.5" y="92.2" width="7.6" height="7.6" fill="#4d4d4d"/>
<rect x="731" y="80.2" width="7.6" height="7.6" fill="#4d4d4d"/>
<rect x="742" y="71.2" width="7.6" height="7.6" fill="#4d4d4d"/>
<rect x="756.2" y="61.6" width="7.6" height="7.6" fill="#4d4d4d"/>
<rect x="765" y="55" width="7.6" height="7.6" fill="#4d4d4d"/>
<polyline points="485.8,265 488.5,263 497.6,241 503.9,228 510.2,220.4 518.1,205 525.2,192 532.3,186.5 539.3,180 547.2,177 554.3,175.5 561.4,174.5 568.5,173.5 574.8,172 582.7,170 589.8,165 596.9,158 612.3,144.9 622.8,138.3 634,129.8 641.7,122.2 653,110 657.5,108 664.4,100.4 675.7,92.9 686.1,85.3 689.9,80.2 706,64.5 718.3,53.1 734.8,43.7 745.8,35.1 760,30.4 768.8,27.9" fill="none" stroke="#3f53a0" stroke-width="1.5" stroke-linejoin="round"/>
<rect x="482" y="261.2" width="7.6" height="7.6" fill="#3f53a0"/>
<rect x="484.7" y="259.2" width="7.6" height="7.6" fill="#3f53a0"/>
<rect x="493.8" y="237.2" width="7.6" height="7.6" fill="#3f53a0"/>
<rect x="500.1" y="224.2" width="7.6" height="7.6" fill="#3f53a0"/>
<rect x="506.4" y="216.6" width="7.6" height="7.6" fill="#3f53a0"/>
<rect x="514.3" y="201.2" width="7.6" height="7.6" fill="#3f53a0"/>
<rect x="521.4" y="188.2" width="7.6" height="7.6" fill="#3f53a0"/>
<rect x="528.5" y="182.7" width="7.6" height="7.6" fill="#3f53a0"/>
<rect x="535.5" y="176.2" width="7.6" height="7.6" fill="#3f53a0"/>
<rect x="543.4" y="173.2" width="7.6" height="7.6" fill="#3f53a0"/>
<rect x="550.5" y="171.7" width="7.6" height="7.6" fill="#3f53a0"/>
<rect x="557.6" y="170.7" width="7.6" height="7.6" fill="#3f53a0"/>
<rect x="564.7" y="169.7" width="7.6" height="7.6" fill="#3f53a0"/>
<rect x="571" y="168.2" width="7.6" height="7.6" fill="#3f53a0"/>
<rect x="578.9" y="166.2" width="7.6" height="7.6" fill="#3f53a0"/>
<rect x="586" y="161.2" width="7.6" height="7.6" fill="#3f53a0"/>
<rect x="593.1" y="154.2" width="7.6" height="7.6" fill="#3f53a0"/>
<rect x="608.5" y="141.1" width="7.6" height="7.6" fill="#3f53a0"/>
<rect x="619" y="134.5" width="7.6" height="7.6" fill="#3f53a0"/>
<rect x="630.2" y="126" width="7.6" height="7.6" fill="#3f53a0"/>
<rect x="637.9" y="118.4" width="7.6" height="7.6" fill="#3f53a0"/>
<rect x="649.2" y="106.2" width="7.6" height="7.6" fill="#3f53a0"/>
<rect x="653.7" y="104.2" width="7.6" height="7.6" fill="#3f53a0"/>
<rect x="660.6" y="96.6" width="7.6" height="7.6" fill="#3f53a0"/>
<rect x="671.9" y="89.1" width="7.6" height="7.6" fill="#3f53a0"/>
<rect x="682.3" y="81.5" width="7.6" height="7.6" fill="#3f53a0"/>
<rect x="686.1" y="76.4" width="7.6" height="7.6" fill="#3f53a0"/>
<rect x="702.2" y="60.7" width="7.6" height="7.6" fill="#3f53a0"/>
<rect x="714.5" y="49.3" width="7.6" height="7.6" fill="#3f53a0"/>
<rect x="731" y="39.9" width="7.6" height="7.6" fill="#3f53a0"/>
<rect x="742" y="31.3" width="7.6" height="7.6" fill="#3f53a0"/>
<rect x="756.2" y="26.6" width="7.6" height="7.6" fill="#3f53a0"/>
<rect x="765" y="24.1" width="7.6" height="7.6" fill="#3f53a0"/>
<polyline points="485.8,264.5 488.5,263 497.6,243.2 503.9,233.8 510.2,222 518.1,207.8 525.2,197.5 532.3,197.5 539.3,192.8 547.2,191.2 554.3,190.4 561.4,186.5 568.5,191.2 574.8,195.2 582.7,196.7 589.8,196 596.9,194.4 612.3,192.8 622.8,189.9 634,184.7 641.7,181.3 653,172.8 657.5,169.3 664.4,165.7 675.7,156.3 686.1,150.6 689.9,146.8 706,137.4 718.3,129.4 734.8,121.3 745.8,114.6 760,103.3 768.8,98.6" fill="none" stroke="#e8893a" stroke-width="1.5" stroke-linejoin="round"/>
<polygon points="481,264.5 489.6,259.7 489.6,269.3" fill="#e8893a"/>
<polygon points="483.7,263 492.3,258.2 492.3,267.8" fill="#e8893a"/>
<polygon points="492.8,243.2 501.4,238.4 501.4,248" fill="#e8893a"/>
<polygon points="499.1,233.8 507.7,229 507.7,238.6" fill="#e8893a"/>
<polygon points="505.4,222 514,217.2 514,226.8" fill="#e8893a"/>
<polygon points="513.3,207.8 521.9,203 521.9,212.6" fill="#e8893a"/>
<polygon points="520.4,197.5 529,192.7 529,202.3" fill="#e8893a"/>
<polygon points="527.5,197.5 536.1,192.7 536.1,202.3" fill="#e8893a"/>
<polygon points="534.5,192.8 543.1,188 543.1,197.6" fill="#e8893a"/>
<polygon points="542.4,191.2 551,186.4 551,196" fill="#e8893a"/>
<polygon points="549.5,190.4 558.1,185.6 558.1,195.2" fill="#e8893a"/>
<polygon points="556.6,186.5 565.2,181.7 565.2,191.3" fill="#e8893a"/>
<polygon points="563.7,191.2 572.3,186.4 572.3,196" fill="#e8893a"/>
<polygon points="570,195.2 578.6,190.4 578.6,200" fill="#e8893a"/>
<polygon points="577.9,196.7 586.5,191.9 586.5,201.5" fill="#e8893a"/>
<polygon points="585,196 593.6,191.2 593.6,200.8" fill="#e8893a"/>
<polygon points="592.1,194.4 600.7,189.6 600.7,199.2" fill="#e8893a"/>
<polygon points="607.5,192.8 616.1,188 616.1,197.6" fill="#e8893a"/>
<polygon points="618,189.9 626.6,185.1 626.6,194.7" fill="#e8893a"/>
<polygon points="629.2,184.7 637.8,179.9 637.8,189.5" fill="#e8893a"/>
<polygon points="636.9,181.3 645.5,176.5 645.5,186.1" fill="#e8893a"/>
<polygon points="648.2,172.8 656.8,168 656.8,177.6" fill="#e8893a"/>
<polygon points="652.7,169.3 661.3,164.5 661.3,174.1" fill="#e8893a"/>
<polygon points="659.6,165.7 668.2,160.9 668.2,170.5" fill="#e8893a"/>
<polygon points="670.9,156.3 679.5,151.5 679.5,161.1" fill="#e8893a"/>
<polygon points="681.3,150.6 689.9,145.8 689.9,155.4" fill="#e8893a"/>
<polygon points="685.1,146.8 693.7,142 693.7,151.6" fill="#e8893a"/>
<polygon points="701.2,137.4 709.8,132.6 709.8,142.2" fill="#e8893a"/>
<polygon points="713.5,129.4 722.1,124.6 722.1,134.2" fill="#e8893a"/>
<polygon points="730,121.3 738.6,116.5 738.6,126.1" fill="#e8893a"/>
<polygon points="741,114.6 749.6,109.8 749.6,119.4" fill="#e8893a"/>
<polygon points="755.2,103.3 763.8,98.5 763.8,108.1" fill="#e8893a"/>
<polygon points="764,98.6 772.6,93.8 772.6,103.4" fill="#e8893a"/>
<polyline points="485.8,264 488.5,259 497.6,237.7 503.9,222 510.2,203.8 518.1,184.9 525.2,172.3 532.3,165.2 539.3,162.9 547.2,159.7 554.3,162.1 561.4,163.6 568.5,166 574.8,165.2 582.7,162.1 589.8,158.9 596.9,153.4 612.3,146.3 622.8,141.1 634,133.6 641.7,128.8 653,115.6 657.5,112 664.4,109.9 675.7,99.5 686.1,94.8 689.9,88.1 706,74.9 718.3,65.4 734.8,52.6 745.8,46.5 760,38 768.8,33.2" fill="none" stroke="#7f7f7f" stroke-width="1.5" stroke-linejoin="round"/>
<polygon points="485.8,259.2 490.6,267.8 481,267.8" fill="#7f7f7f"/>
<polygon points="488.5,254.2 493.3,262.8 483.7,262.8" fill="#7f7f7f"/>
<polygon points="497.6,232.9 502.4,241.5 492.8,241.5" fill="#7f7f7f"/>
<polygon points="503.9,217.2 508.7,225.8 499.1,225.8" fill="#7f7f7f"/>
<polygon points="510.2,199 515,207.6 505.4,207.6" fill="#7f7f7f"/>
<polygon points="518.1,180.1 522.9,188.7 513.3,188.7" fill="#7f7f7f"/>
<polygon points="525.2,167.5 530,176.1 520.4,176.1" fill="#7f7f7f"/>
<polygon points="532.3,160.4 537.1,169 527.5,169" fill="#7f7f7f"/>
<polygon points="539.3,158.1 544.1,166.7 534.5,166.7" fill="#7f7f7f"/>
<polygon points="547.2,154.9 552,163.5 542.4,163.5" fill="#7f7f7f"/>
<polygon points="554.3,157.3 559.1,165.9 549.5,165.9" fill="#7f7f7f"/>
<polygon points="561.4,158.8 566.2,167.4 556.6,167.4" fill="#7f7f7f"/>
<polygon points="568.5,161.2 573.3,169.8 563.7,169.8" fill="#7f7f7f"/>
<polygon points="574.8,160.4 579.6,169 570,169" fill="#7f7f7f"/>
<polygon points="582.7,157.3 587.5,165.9 577.9,165.9" fill="#7f7f7f"/>
<polygon points="589.8,154.1 594.6,162.7 585,162.7" fill="#7f7f7f"/>
<polygon points="596.9,148.6 601.7,157.2 592.1,157.2" fill="#7f7f7f"/>
<polygon points="612.3,141.5 617.1,150.1 607.5,150.1" fill="#7f7f7f"/>
<polygon points="622.8,136.3 627.6,144.9 618,144.9" fill="#7f7f7f"/>
<polygon points="634,128.8 638.8,137.4 629.2,137.4" fill="#7f7f7f"/>
<polygon points="641.7,124 646.5,132.6 636.9,132.6" fill="#7f7f7f"/>
<polygon points="653,110.8 657.8,119.4 648.2,119.4" fill="#7f7f7f"/>
<polygon points="657.5,107.2 662.3,115.8 652.7,115.8" fill="#7f7f7f"/>
<polygon points="664.4,105.1 669.2,113.7 659.6,113.7" fill="#7f7f7f"/>
<polygon points="675.7,94.7 680.5,103.3 670.9,103.3" fill="#7f7f7f"/>
<polygon points="686.1,90 690.9,98.6 681.3,98.6" fill="#7f7f7f"/>
<polygon points="689.9,83.3 694.7,91.9 685.1,91.9" fill="#7f7f7f"/>
<polygon points="706,70.1 710.8,78.7 701.2,78.7" fill="#7f7f7f"/>
<polygon points="718.3,60.6 723.1,69.2 713.5,69.2" fill="#7f7f7f"/>
<polygon points="734.8,47.8 739.6,56.4 730,56.4" fill="#7f7f7f"/>
<polygon points="745.8,41.7 750.6,50.3 741,50.3" fill="#7f7f7f"/>
<polygon points="760,33.2 764.8,41.8 755.2,41.8" fill="#7f7f7f"/>
<polygon points="768.8,28.4 773.6,37 764,37" fill="#7f7f7f"/>
<polyline points="485.8,265.3 488.5,262 497.6,242.4 503.9,229 510.2,215.6 518.1,202.3 525.2,188.9 532.3,181.8 539.3,177.8 547.2,175.5 554.3,173.9 561.4,173.1 568.5,172.3 574.8,171.5 582.7,171.5 589.8,170.3 596.9,169.2 612.3,165.2 622.8,161.3 634,155.8 641.7,151.8 653,144.7 657.5,140.2 664.4,134.5 675.7,125.1 686.1,118.4 689.9,115.6 706,104.2 718.3,96.7 734.8,85.3 745.8,76.8 760,69.6 768.8,62.6" fill="none" stroke="#9b4f9b" stroke-width="1.5" stroke-linejoin="round"/>
<circle cx="485.8" cy="265.3" r="4.2" fill="#9b4f9b"/>
<circle cx="488.5" cy="262" r="4.2" fill="#9b4f9b"/>
<circle cx="497.6" cy="242.4" r="4.2" fill="#9b4f9b"/>
<circle cx="503.9" cy="229" r="4.2" fill="#9b4f9b"/>
<circle cx="510.2" cy="215.6" r="4.2" fill="#9b4f9b"/>
<circle cx="518.1" cy="202.3" r="4.2" fill="#9b4f9b"/>
<circle cx="525.2" cy="188.9" r="4.2" fill="#9b4f9b"/>
<circle cx="532.3" cy="181.8" r="4.2" fill="#9b4f9b"/>
<circle cx="539.3" cy="177.8" r="4.2" fill="#9b4f9b"/>
<circle cx="547.2" cy="175.5" r="4.2" fill="#9b4f9b"/>
<circle cx="554.3" cy="173.9" r="4.2" fill="#9b4f9b"/>
<circle cx="561.4" cy="173.1" r="4.2" fill="#9b4f9b"/>
<circle cx="568.5" cy="172.3" r="4.2" fill="#9b4f9b"/>
<circle cx="574.8" cy="171.5" r="4.2" fill="#9b4f9b"/>
<circle cx="582.7" cy="171.5" r="4.2" fill="#9b4f9b"/>
<circle cx="589.8" cy="170.3" r="4.2" fill="#9b4f9b"/>
<circle cx="596.9" cy="169.2" r="4.2" fill="#9b4f9b"/>
<circle cx="612.3" cy="165.2" r="4.2" fill="#9b4f9b"/>
<circle cx="622.8" cy="161.3" r="4.2" fill="#9b4f9b"/>
<circle cx="634" cy="155.8" r="4.2" fill="#9b4f9b"/>
<circle cx="641.7" cy="151.8" r="4.2" fill="#9b4f9b"/>
<circle cx="653" cy="144.7" r="4.2" fill="#9b4f9b"/>
<circle cx="657.5" cy="140.2" r="4.2" fill="#9b4f9b"/>
<circle cx="664.4" cy="134.5" r="4.2" fill="#9b4f9b"/>
<circle cx="675.7" cy="125.1" r="4.2" fill="#9b4f9b"/>
<circle cx="686.1" cy="118.4" r="4.2" fill="#9b4f9b"/>
<circle cx="689.9" cy="115.6" r="4.2" fill="#9b4f9b"/>
<circle cx="706" cy="104.2" r="4.2" fill="#9b4f9b"/>
<circle cx="718.3" cy="96.7" r="4.2" fill="#9b4f9b"/>
<circle cx="734.8" cy="85.3" r="4.2" fill="#9b4f9b"/>
<circle cx="745.8" cy="76.8" r="4.2" fill="#9b4f9b"/>
<circle cx="760" cy="69.6" r="4.2" fill="#9b4f9b"/>
<circle cx="768.8" cy="62.6" r="4.2" fill="#9b4f9b"/>
<polyline points="485.8,264.5 488.5,257.4 497.6,232.2 503.9,217.2 510.2,207.8 518.1,193.6 525.2,180.2 532.3,173.9 539.3,170.7 547.2,167.6 554.3,166.8 561.4,166 568.5,164.4 574.8,163.6 582.7,162.1 589.8,159.7 596.9,158.1 612.3,151.8 622.8,148.7 634,142.1 641.7,136.4 653,129.8 657.5,129.4 664.4,123.2 675.7,112.8 686.1,107.1 689.9,104.2 706,91.9 718.3,85.3 734.8,75.8 745.8,69.6 760,56.9 768.8,51.2" fill="none" stroke="#8c78b6" stroke-width="1.5" stroke-linejoin="round"/>
<circle cx="485.8" cy="264.5" r="4.2" fill="#8c78b6"/>
<circle cx="488.5" cy="257.4" r="4.2" fill="#8c78b6"/>
<circle cx="497.6" cy="232.2" r="4.2" fill="#8c78b6"/>
<circle cx="503.9" cy="217.2" r="4.2" fill="#8c78b6"/>
<circle cx="510.2" cy="207.8" r="4.2" fill="#8c78b6"/>
<circle cx="518.1" cy="193.6" r="4.2" fill="#8c78b6"/>
<circle cx="525.2" cy="180.2" r="4.2" fill="#8c78b6"/>
<circle cx="532.3" cy="173.9" r="4.2" fill="#8c78b6"/>
<circle cx="539.3" cy="170.7" r="4.2" fill="#8c78b6"/>
<circle cx="547.2" cy="167.6" r="4.2" fill="#8c78b6"/>
<circle cx="554.3" cy="166.8" r="4.2" fill="#8c78b6"/>
<circle cx="561.4" cy="166" r="4.2" fill="#8c78b6"/>
<circle cx="568.5" cy="164.4" r="4.2" fill="#8c78b6"/>
<circle cx="574.8" cy="163.6" r="4.2" fill="#8c78b6"/>
<circle cx="582.7" cy="162.1" r="4.2" fill="#8c78b6"/>
<circle cx="589.8" cy="159.7" r="4.2" fill="#8c78b6"/>
<circle cx="596.9" cy="158.1" r="4.2" fill="#8c78b6"/>
<circle cx="612.3" cy="151.8" r="4.2" fill="#8c78b6"/>
<circle cx="622.8" cy="148.7" r="4.2" fill="#8c78b6"/>
<circle cx="634" cy="142.1" r="4.2" fill="#8c78b6"/>
<circle cx="641.7" cy="136.4" r="4.2" fill="#8c78b6"/>
<circle cx="653" cy="129.8" r="4.2" fill="#8c78b6"/>
<circle cx="657.5" cy="129.4" r="4.2" fill="#8c78b6"/>
<circle cx="664.4" cy="123.2" r="4.2" fill="#8c78b6"/>
<circle cx="675.7" cy="112.8" r="4.2" fill="#8c78b6"/>
<circle cx="686.1" cy="107.1" r="4.2" fill="#8c78b6"/>
<circle cx="689.9" cy="104.2" r="4.2" fill="#8c78b6"/>
<circle cx="706" cy="91.9" r="4.2" fill="#8c78b6"/>
<circle cx="718.3" cy="85.3" r="4.2" fill="#8c78b6"/>
<circle cx="734.8" cy="75.8" r="4.2" fill="#8c78b6"/>
<circle cx="745.8" cy="69.6" r="4.2" fill="#8c78b6"/>
<circle cx="760" cy="56.9" r="4.2" fill="#8c78b6"/>
<circle cx="768.8" cy="51.2" r="4.2" fill="#8c78b6"/>
</g>
<rect x="474.8" y="22" width="299.4" height="252.2" fill="none" stroke="#000" stroke-width="1.5"/>
<line x1="474.8" y1="274.2" x2="474.8" y2="269.7" stroke="#000" stroke-width="1.5"/>
<text x="474.8" y="290.7" font-size="17.3" text-anchor="middle">0</text>
<line x1="546.1" y1="274.2" x2="546.1" y2="269.7" stroke="#000" stroke-width="1.5"/>
<text x="546.1" y="290.7" font-size="17.3" text-anchor="middle">10</text>
<line x1="617.4" y1="274.2" x2="617.4" y2="269.7" stroke="#000" stroke-width="1.5"/>
<text x="617.4" y="290.7" font-size="17.3" text-anchor="middle">20</text>
<line x1="688.7" y1="274.2" x2="688.7" y2="269.7" stroke="#000" stroke-width="1.5"/>
<text x="688.7" y="290.7" font-size="17.3" text-anchor="middle">30</text>
<line x1="760" y1="274.2" x2="760" y2="269.7" stroke="#000" stroke-width="1.5"/>
<text x="760" y="290.7" font-size="17.3" text-anchor="middle">40</text>
<line x1="510.4" y1="274.2" x2="510.4" y2="271.7" stroke="#000" stroke-width="1.5"/>
<line x1="581.8" y1="274.2" x2="581.8" y2="271.7" stroke="#000" stroke-width="1.5"/>
<line x1="653" y1="274.2" x2="653" y2="271.7" stroke="#000" stroke-width="1.5"/>
<line x1="724.4" y1="274.2" x2="724.4" y2="271.7" stroke="#000" stroke-width="1.5"/>
<line x1="474.8" y1="263.4" x2="479.8" y2="263.4" stroke="#000" stroke-width="1.5"/>
<text x="472.8" y="269.5" font-size="17.3" text-anchor="end">1.00</text>
<line x1="474.8" y1="164" x2="479.8" y2="164" stroke="#000" stroke-width="1.5"/>
<text x="472.8" y="170.1" font-size="17.3" text-anchor="end">1.02</text>
<line x1="474.8" y1="64.6" x2="479.8" y2="64.6" stroke="#000" stroke-width="1.5"/>
<text x="472.8" y="70.7" font-size="17.3" text-anchor="end">1.04</text>
<line x1="474.8" y1="213.7" x2="477.3" y2="213.7" stroke="#000" stroke-width="1.5"/>
<line x1="474.8" y1="114.3" x2="477.3" y2="114.3" stroke="#000" stroke-width="1.5"/>
<text x="622.9" y="308.8" font-size="17.3" text-anchor="middle">Pressure (GPa)</text>
<text x="422.5" y="147" font-size="17" text-anchor="middle" transform="rotate(-90 422.5 147)">2<tspan font-style="italic">θ</tspan><tspan font-size="11" dy="4">p</tspan><tspan dy="-4">/2</tspan><tspan font-style="italic">θ</tspan><tspan font-size="11" dy="4">0</tspan></text>
<text x="416" y="34.1" font-size="20" font-weight="bold">b</text>
<line x1="480.1" y1="32.9" x2="500.2" y2="32.9" stroke="#4d4d4d" stroke-width="1.5"/>
<rect x="485.6" y="28.3" width="9.1" height="9.1" fill="#4d4d4d"/>
<text x="504.4" y="38.6" font-size="17.3">(111)</text>
<line x1="480.1" y1="52.2" x2="500.2" y2="52.2" stroke="#3f53a0" stroke-width="1.5"/>
<rect x="485.6" y="47.6" width="9.1" height="9.1" fill="#3f53a0"/>
<text x="504.4" y="57.9" font-size="17.3">(006)</text>
<line x1="480.1" y1="71.5" x2="500.2" y2="71.5" stroke="#e8893a" stroke-width="1.5"/>
<polygon points="484.4,71.5 494.8,65.7 494.8,77.3" fill="#e8893a"/>
<text x="504.4" y="77.2" font-size="17.3">(020)</text>
<line x1="480.1" y1="90.8" x2="500.2" y2="90.8" stroke="#7f7f7f" stroke-width="1.5"/>
<polygon points="490.2,85 496,95.4 484.4,95.4" fill="#7f7f7f"/>
<text x="504.4" y="96.5" font-size="17.3">(026)</text>
<line x1="480.1" y1="110.1" x2="500.2" y2="110.1" stroke="#9b4f9b" stroke-width="1.5"/>
<circle cx="490.2" cy="110.1" r="5.1" fill="#9b4f9b"/>
<text x="504.4" y="115.8" font-size="17.3">(220)</text>
<line x1="480.1" y1="129.4" x2="500.2" y2="129.4" stroke="#8c78b6" stroke-width="1.5"/>
<circle cx="490.2" cy="129.4" r="5.1" fill="#8c78b6"/>
<text x="504.4" y="135.1" font-size="17.3">(135)</text>
<line x1="58.9" y1="481.5" x2="357.3" y2="481.5" stroke="#999" stroke-width="1.5"/>
<svg x="58.9" y="334.9" width="298.4" height="252.6" viewBox="58.9 334.9 298.4 252.6" overflow="hidden">
<polyline points="59.5,428.1 72.9,456.5 83.1,468 91.8,474.6 102,480.2 113.9,484.1 119.4,484.4 124.9,484.9 142.3,484.9 144.6,484.4 152.5,483.8 155.7,483.8 160.4,483.6 176.2,482.5 193.5,482.5 200.6,483.3 211.7,485.4 217.2,487 226.7,490.4 236.9,494.8 248.7,502.2 269.1,517.8 288.6,539.3 309.5,569" fill="none" stroke="#514793" stroke-width="1.5" stroke-linejoin="round"/>
<circle cx="59.5" cy="428.1" r="4.4" fill="#514793"/>
<circle cx="72.9" cy="456.5" r="4.4" fill="#514793"/>
<circle cx="83.1" cy="468" r="4.4" fill="#514793"/>
<circle cx="91.8" cy="474.6" r="4.4" fill="#514793"/>
<circle cx="102" cy="480.2" r="4.4" fill="#514793"/>
<circle cx="113.9" cy="484.1" r="4.4" fill="#514793"/>
<circle cx="119.4" cy="484.4" r="4.4" fill="#514793"/>
<circle cx="124.9" cy="484.9" r="4.4" fill="#514793"/>
<circle cx="142.3" cy="484.9" r="4.4" fill="#514793"/>
<circle cx="144.6" cy="484.4" r="4.4" fill="#514793"/>
<circle cx="152.5" cy="483.8" r="4.4" fill="#514793"/>
<circle cx="155.7" cy="483.8" r="4.4" fill="#514793"/>
<circle cx="160.4" cy="483.6" r="4.4" fill="#514793"/>
<circle cx="176.2" cy="482.5" r="4.4" fill="#514793"/>
<circle cx="193.5" cy="482.5" r="4.4" fill="#514793"/>
<circle cx="200.6" cy="483.3" r="4.4" fill="#514793"/>
<circle cx="211.7" cy="485.4" r="4.4" fill="#514793"/>
<circle cx="217.2" cy="487" r="4.4" fill="#514793"/>
<circle cx="226.7" cy="490.4" r="4.4" fill="#514793"/>
<circle cx="236.9" cy="494.8" r="4.4" fill="#514793"/>
<circle cx="248.7" cy="502.2" r="4.4" fill="#514793"/>
<circle cx="269.1" cy="517.8" r="4.4" fill="#514793"/>
<circle cx="288.6" cy="539.3" r="4.4" fill="#514793"/>
<circle cx="309.5" cy="569" r="4.4" fill="#514793"/>
</svg>
<polyline points="70.2,350.2 72.6,350.2 79.7,373.9 86,387.3 93.1,398.3 100.2,410.2 108.8,422.8 112,426 115.9,428.3 123.8,431.5 130.1,437 137.2,439.4 150.6,443.3 157.7,443.3 166.4,444.1 173.5,448 180.6,451.2 197.2,455.1 203,457 217.2,460.4 225.1,462.8 236.1,466 248.3,474.8 259,482.2 268.1,488.2 289.3,496.6 302.1,502.7 317.9,511.1 329.7,515.1 343.1,523.5 351.6,530.3" fill="none" stroke="#e6873a" stroke-width="1.5" stroke-linejoin="round"/>
<line x1="167.5" y1="448" x2="179.5" y2="448" stroke="#e6873a" stroke-width="1"/>
<line x1="174.6" y1="451.2" x2="186.6" y2="451.2" stroke="#e6873a" stroke-width="1"/>
<line x1="191.2" y1="455.1" x2="203.2" y2="455.1" stroke="#e6873a" stroke-width="1"/>
<line x1="197" y1="457" x2="209" y2="457" stroke="#e6873a" stroke-width="1"/>
<polygon points="70.2,344.2 76.2,350.2 70.2,356.2 64.2,350.2" fill="#e6873a"/>
<polygon points="72.6,344.2 78.6,350.2 72.6,356.2 66.6,350.2" fill="#e6873a"/>
<polygon points="79.7,367.9 85.7,373.9 79.7,379.9 73.7,373.9" fill="#e6873a"/>
<polygon points="86,381.3 92,387.3 86,393.3 80,387.3" fill="#e6873a"/>
<polygon points="93.1,392.3 99.1,398.3 93.1,404.3 87.1,398.3" fill="#e6873a"/>
<polygon points="100.2,404.2 106.2,410.2 100.2,416.2 94.2,410.2" fill="#e6873a"/>
<polygon points="108.8,416.8 114.8,422.8 108.8,428.8 102.8,422.8" fill="#e6873a"/>
<polygon points="112,420 118,426 112,432 106,426" fill="#e6873a"/>
<polygon points="115.9,422.3 121.9,428.3 115.9,434.3 109.9,428.3" fill="#e6873a"/>
<polygon points="123.8,425.5 129.8,431.5 123.8,437.5 117.8,431.5" fill="#e6873a"/>
<polygon points="130.1,431 136.1,437 130.1,443 124.1,437" fill="#e6873a"/>
<polygon points="137.2,433.4 143.2,439.4 137.2,445.4 131.2,439.4" fill="#e6873a"/>
<polygon points="150.6,437.3 156.6,443.3 150.6,449.3 144.6,443.3" fill="#e6873a"/>
<polygon points="157.7,437.3 163.7,443.3 157.7,449.3 151.7,443.3" fill="#e6873a"/>
<polygon points="166.4,438.1 172.4,444.1 166.4,450.1 160.4,444.1" fill="#e6873a"/>
<polygon points="173.5,442 179.5,448 173.5,454 167.5,448" fill="#e6873a"/>
<polygon points="180.6,445.2 186.6,451.2 180.6,457.2 174.6,451.2" fill="#e6873a"/>
<polygon points="197.2,449.1 203.2,455.1 197.2,461.1 191.2,455.1" fill="#e6873a"/>
<polygon points="203,451 209,457 203,463 197,457" fill="#e6873a"/>
<polygon points="217.2,454.4 223.2,460.4 217.2,466.4 211.2,460.4" fill="#e6873a"/>
<polygon points="225.1,456.8 231.1,462.8 225.1,468.8 219.1,462.8" fill="#e6873a"/>
<polygon points="236.1,460 242.1,466 236.1,472 230.1,466" fill="#e6873a"/>
<polygon points="248.3,468.8 254.3,474.8 248.3,480.8 242.3,474.8" fill="#e6873a"/>
<polygon points="259,476.2 265,482.2 259,488.2 253,482.2" fill="#e6873a"/>
<polygon points="268.1,482.2 274.1,488.2 268.1,494.2 262.1,488.2" fill="#e6873a"/>
<polygon points="289.3,490.6 295.3,496.6 289.3,502.6 283.3,496.6" fill="#e6873a"/>
<polygon points="302.1,496.7 308.1,502.7 302.1,508.7 296.1,502.7" fill="#e6873a"/>
<polygon points="317.9,505.1 323.9,511.1 317.9,517.1 311.9,511.1" fill="#e6873a"/>
<polygon points="329.7,509.1 335.7,515.1 329.7,521.1 323.7,515.1" fill="#e6873a"/>
<polygon points="343.1,517.5 349.1,523.5 343.1,529.5 337.1,523.5" fill="#e6873a"/>
<polygon points="351.6,524.3 357.6,530.3 351.6,536.3 345.6,530.3" fill="#e6873a"/>
<rect x="58.9" y="334.9" width="298.4" height="252.6" fill="none" stroke="#000" stroke-width="1.5"/>
<line x1="58.9" y1="587.5" x2="58.9" y2="583" stroke="#000" stroke-width="1.5"/>
<line x1="58.9" y1="334.9" x2="58.9" y2="339.4" stroke="#000" stroke-width="1.5"/>
<text x="58.9" y="603.7" font-size="17.3" text-anchor="middle">0</text>
<line x1="130" y1="587.5" x2="130" y2="583" stroke="#000" stroke-width="1.5"/>
<line x1="130" y1="334.9" x2="130" y2="339.4" stroke="#000" stroke-width="1.5"/>
<text x="130" y="603.7" font-size="17.3" text-anchor="middle">10</text>
<line x1="201" y1="587.5" x2="201" y2="583" stroke="#000" stroke-width="1.5"/>
<line x1="201" y1="334.9" x2="201" y2="339.4" stroke="#000" stroke-width="1.5"/>
<text x="201" y="603.7" font-size="17.3" text-anchor="middle">20</text>
<line x1="272.1" y1="587.5" x2="272.1" y2="583" stroke="#000" stroke-width="1.5"/>
<line x1="272.1" y1="334.9" x2="272.1" y2="339.4" stroke="#000" stroke-width="1.5"/>
<text x="272.1" y="603.7" font-size="17.3" text-anchor="middle">30</text>
<line x1="343.1" y1="587.5" x2="343.1" y2="583" stroke="#000" stroke-width="1.5"/>
<line x1="343.1" y1="334.9" x2="343.1" y2="339.4" stroke="#000" stroke-width="1.5"/>
<text x="343.1" y="603.7" font-size="17.3" text-anchor="middle">40</text>
<line x1="94.4" y1="587.5" x2="94.4" y2="585" stroke="#000" stroke-width="1.5"/>
<line x1="94.4" y1="334.9" x2="94.4" y2="337.4" stroke="#000" stroke-width="1.5"/>
<line x1="165.5" y1="587.5" x2="165.5" y2="585" stroke="#000" stroke-width="1.5"/>
<line x1="165.5" y1="334.9" x2="165.5" y2="337.4" stroke="#000" stroke-width="1.5"/>
<line x1="236.5" y1="587.5" x2="236.5" y2="585" stroke="#000" stroke-width="1.5"/>
<line x1="236.5" y1="334.9" x2="236.5" y2="337.4" stroke="#000" stroke-width="1.5"/>
<line x1="307.6" y1="587.5" x2="307.6" y2="585" stroke="#000" stroke-width="1.5"/>
<line x1="307.6" y1="334.9" x2="307.6" y2="337.4" stroke="#000" stroke-width="1.5"/>
<line x1="58.9" y1="350.4" x2="63.9" y2="350.4" stroke="#000" stroke-width="1.5"/>
<text x="55.8" y="356.5" font-size="17.3" text-anchor="end">1.00</text>
<line x1="58.9" y1="427.7" x2="63.9" y2="427.7" stroke="#000" stroke-width="1.5"/>
<text x="55.8" y="433.8" font-size="17.3" text-anchor="end">0.95</text>
<line x1="58.9" y1="505.1" x2="63.9" y2="505.1" stroke="#000" stroke-width="1.5"/>
<text x="55.8" y="511.2" font-size="17.3" text-anchor="end">0.90</text>
<line x1="58.9" y1="582.4" x2="63.9" y2="582.4" stroke="#000" stroke-width="1.5"/>
<text x="55.8" y="588.5" font-size="17.3" text-anchor="end">0.85</text>
<line x1="357.3" y1="377.9" x2="352.3" y2="377.9" stroke="#000" stroke-width="1.5"/>
<text x="360.5" y="384" font-size="17.3">0.2</text>
<line x1="357.3" y1="429.7" x2="352.3" y2="429.7" stroke="#000" stroke-width="1.5"/>
<text x="360.5" y="435.8" font-size="17.3">0.1</text>
<line x1="357.3" y1="481.5" x2="352.3" y2="481.5" stroke="#000" stroke-width="1.5"/>
<text x="360.5" y="487.6" font-size="17.3">0.0</text>
<line x1="357.3" y1="533.3" x2="352.3" y2="533.3" stroke="#000" stroke-width="1.5"/>
<text x="360.5" y="539.4" font-size="17.3">-0.1</text>
<line x1="357.3" y1="585.1" x2="352.3" y2="585.1" stroke="#000" stroke-width="1.5"/>
<text x="360.5" y="591.2" font-size="17.3">-0.2</text>
<text x="201" y="626.6" font-size="17.3" text-anchor="middle">Pressure (GPa)</text>
<text x="14.7" y="456.2" font-size="17.3" text-anchor="middle" transform="rotate(-90 14.7 456.2)"><tspan font-style="italic">V</tspan>/<tspan font-style="italic">V</tspan><tspan font-size="15.5" dy="-1.5">₀</tspan></text>
<text x="402.1" y="482.3" font-size="19.5" text-anchor="middle" transform="rotate(-90 402.1 482.3)"><tspan font-style="italic">H</tspan><tspan font-style="italic" font-size="11.8" dy="6.8">Fmmm</tspan><tspan dy="-6.8"> - </tspan><tspan font-style="italic">H</tspan><tspan font-style="italic" font-size="11.8" dy="6.8">Amam</tspan></text>
<text x="10.1" y="348" font-size="20" font-weight="bold">c</text>
<line x1="86.7" y1="526.5" x2="107.6" y2="526.5" stroke="#e6873a" stroke-width="1.5"/>
<polygon points="97.2,520.5 103.2,526.5 97.2,532.5 91.2,526.5" fill="#e6873a"/>
<text x="113" y="531.5" font-size="17.3"><tspan font-style="italic">V</tspan>/<tspan font-style="italic">V</tspan><tspan font-size="15.5" dy="-1.5">₀</tspan></text>
<line x1="86.7" y1="548.2" x2="107.6" y2="548.2" stroke="#514793" stroke-width="1.5"/>
<circle cx="97.2" cy="548.2" r="5" fill="#514793"/>
<text x="113" y="553.9" font-size="19.5"><tspan font-style="italic">H</tspan><tspan font-style="italic" font-size="11.8" dy="6.8">Fmmm</tspan><tspan dy="-6.8"> - </tspan><tspan font-style="italic">H</tspan><tspan font-style="italic" font-size="11.8" dy="6.8">Amam</tspan></text>
<svg x="475.4" y="334.8" width="298.8" height="251.7" viewBox="475.4 334.8 298.8 251.7" overflow="hidden">
<line x1="548.1" y1="497.7" x2="548.1" y2="505.7" stroke="#9b50a0" stroke-width="1"/>
<line x1="542.9" y1="497.7" x2="553.3" y2="497.7" stroke="#9b50a0" stroke-width="1"/>
<line x1="542.9" y1="505.7" x2="553.3" y2="505.7" stroke="#9b50a0" stroke-width="1"/>
<line x1="554.1" y1="497.4" x2="554.1" y2="509.4" stroke="#9b50a0" stroke-width="1"/>
<line x1="548.9" y1="497.4" x2="559.3" y2="497.4" stroke="#9b50a0" stroke-width="1"/>
<line x1="548.9" y1="509.4" x2="559.3" y2="509.4" stroke="#9b50a0" stroke-width="1"/>
<line x1="568.3" y1="498.4" x2="568.3" y2="510.4" stroke="#9b50a0" stroke-width="1"/>
<line x1="563.1" y1="498.4" x2="573.5" y2="498.4" stroke="#9b50a0" stroke-width="1"/>
<line x1="563.1" y1="510.4" x2="573.5" y2="510.4" stroke="#9b50a0" stroke-width="1"/>
<line x1="575" y1="498.4" x2="575" y2="510.4" stroke="#9b50a0" stroke-width="1"/>
<line x1="569.8" y1="498.4" x2="580.2" y2="498.4" stroke="#9b50a0" stroke-width="1"/>
<line x1="569.8" y1="510.4" x2="580.2" y2="510.4" stroke="#9b50a0" stroke-width="1"/>
<line x1="583.4" y1="497.4" x2="583.4" y2="509.4" stroke="#9b50a0" stroke-width="1"/>
<line x1="578.2" y1="497.4" x2="588.6" y2="497.4" stroke="#9b50a0" stroke-width="1"/>
<line x1="578.2" y1="509.4" x2="588.6" y2="509.4" stroke="#9b50a0" stroke-width="1"/>
<line x1="590.1" y1="498.4" x2="590.1" y2="510.4" stroke="#9b50a0" stroke-width="1"/>
<line x1="584.9" y1="498.4" x2="595.3" y2="498.4" stroke="#9b50a0" stroke-width="1"/>
<line x1="584.9" y1="510.4" x2="595.3" y2="510.4" stroke="#9b50a0" stroke-width="1"/>
<line x1="597.9" y1="499.8" x2="597.9" y2="513.8" stroke="#9b50a0" stroke-width="1"/>
<line x1="592.7" y1="499.8" x2="603.1" y2="499.8" stroke="#9b50a0" stroke-width="1"/>
<line x1="592.7" y1="513.8" x2="603.1" y2="513.8" stroke="#9b50a0" stroke-width="1"/>
<line x1="613.7" y1="502.2" x2="613.7" y2="520.2" stroke="#9b50a0" stroke-width="1"/>
<line x1="608.5" y1="502.2" x2="618.9" y2="502.2" stroke="#9b50a0" stroke-width="1"/>
<line x1="608.5" y1="520.2" x2="618.9" y2="520.2" stroke="#9b50a0" stroke-width="1"/>
<line x1="623.8" y1="505.5" x2="623.8" y2="523.5" stroke="#9b50a0" stroke-width="1"/>
<line x1="618.6" y1="505.5" x2="629" y2="505.5" stroke="#9b50a0" stroke-width="1"/>
<line x1="618.6" y1="523.5" x2="629" y2="523.5" stroke="#9b50a0" stroke-width="1"/>
<polyline points="488.2,446.2 496.9,464 502.6,473.1 510.4,480.9 517.8,488.3 526.2,496.7 532.9,499 540.7,496.7 548.1,501.7 554.1,503.4 568.3,504.4 575,504.4 583.4,503.4 590.1,504.4 597.9,506.8 613.7,511.2 623.8,514.5 634.9,523.6 642.3,526 652.4,532 665.9,538.1 676.6,544.8 686.1,550.5 706.9,557.3 719.7,561.6 734.9,569 746,573.1 760.1,579.1 769.2,582.5" fill="none" stroke="#9b50a0" stroke-width="1.5" stroke-linejoin="round"/>
<polygon points="488.2,440.2 494.2,446.2 488.2,452.2 482.2,446.2" fill="#9b50a0"/>
<polygon points="496.9,458 502.9,464 496.9,470 490.9,464" fill="#9b50a0"/>
<polygon points="502.6,467.1 508.6,473.1 502.6,479.1 496.6,473.1" fill="#9b50a0"/>
<polygon points="510.4,474.9 516.4,480.9 510.4,486.9 504.4,480.9" fill="#9b50a0"/>
<polygon points="517.8,482.3 523.8,488.3 517.8,494.3 511.8,488.3" fill="#9b50a0"/>
<polygon points="526.2,490.7 532.2,496.7 526.2,502.7 520.2,496.7" fill="#9b50a0"/>
<polygon points="532.9,493 538.9,499 532.9,505 526.9,499" fill="#9b50a0"/>
<polygon points="540.7,490.7 546.7,496.7 540.7,502.7 534.7,496.7" fill="#9b50a0"/>
<polygon points="548.1,495.7 554.1,501.7 548.1,507.7 542.1,501.7" fill="#9b50a0"/>
<polygon points="554.1,497.4 560.1,503.4 554.1,509.4 548.1,503.4" fill="#9b50a0"/>
<polygon points="568.3,498.4 574.3,504.4 568.3,510.4 562.3,504.4" fill="#9b50a0"/>
<polygon points="575,498.4 581,504.4 575,510.4 569,504.4" fill="#9b50a0"/>
<polygon points="583.4,497.4 589.4,503.4 583.4,509.4 577.4,503.4" fill="#9b50a0"/>
<polygon points="590.1,498.4 596.1,504.4 590.1,510.4 584.1,504.4" fill="#9b50a0"/>
<polygon points="597.9,500.8 603.9,506.8 597.9,512.8 591.9,506.8" fill="#9b50a0"/>
<polygon points="613.7,505.2 619.7,511.2 613.7,517.2 607.7,511.2" fill="#9b50a0"/>
<polygon points="623.8,508.5 629.8,514.5 623.8,520.5 617.8,514.5" fill="#9b50a0"/>
<polygon points="634.9,517.6 640.9,523.6 634.9,529.6 628.9,523.6" fill="#9b50a0"/>
<polygon points="642.3,520 648.3,526 642.3,532 636.3,526" fill="#9b50a0"/>
<polygon points="652.4,526 658.4,532 652.4,538 646.4,532" fill="#9b50a0"/>
<polygon points="665.9,532.1 671.9,538.1 665.9,544.1 659.9,538.1" fill="#9b50a0"/>
<polygon points="676.6,538.8 682.6,544.8 676.6,550.8 670.6,544.8" fill="#9b50a0"/>
<polygon points="686.1,544.5 692.1,550.5 686.1,556.5 680.1,550.5" fill="#9b50a0"/>
<polygon points="706.9,551.3 712.9,557.3 706.9,563.3 700.9,557.3" fill="#9b50a0"/>
<polygon points="719.7,555.6 725.7,561.6 719.7,567.6 713.7,561.6" fill="#9b50a0"/>
<polygon points="734.9,563 740.9,569 734.9,575 728.9,569" fill="#9b50a0"/>
<polygon points="746,567.1 752,573.1 746,579.1 740,573.1" fill="#9b50a0"/>
<polygon points="760.1,573.1 766.1,579.1 760.1,585.1 754.1,579.1" fill="#9b50a0"/>
<polygon points="769.2,576.5 775.2,582.5 769.2,588.5 763.2,582.5" fill="#9b50a0"/>
<line x1="548.1" y1="470.8" x2="548.1" y2="478.8" stroke="#3e56a4" stroke-width="1"/>
<line x1="542.9" y1="470.8" x2="553.3" y2="470.8" stroke="#3e56a4" stroke-width="1"/>
<line x1="542.9" y1="478.8" x2="553.3" y2="478.8" stroke="#3e56a4" stroke-width="1"/>
<line x1="554.1" y1="473.5" x2="554.1" y2="481.5" stroke="#3e56a4" stroke-width="1"/>
<line x1="548.9" y1="473.5" x2="559.3" y2="473.5" stroke="#3e56a4" stroke-width="1"/>
<line x1="548.9" y1="481.5" x2="559.3" y2="481.5" stroke="#3e56a4" stroke-width="1"/>
<line x1="568.3" y1="477.9" x2="568.3" y2="483.9" stroke="#3e56a4" stroke-width="1"/>
<line x1="563.1" y1="477.9" x2="573.5" y2="477.9" stroke="#3e56a4" stroke-width="1"/>
<line x1="563.1" y1="483.9" x2="573.5" y2="483.9" stroke="#3e56a4" stroke-width="1"/>
<line x1="575" y1="478.5" x2="575" y2="484.5" stroke="#3e56a4" stroke-width="1"/>
<line x1="569.8" y1="478.5" x2="580.2" y2="478.5" stroke="#3e56a4" stroke-width="1"/>
<line x1="569.8" y1="484.5" x2="580.2" y2="484.5" stroke="#3e56a4" stroke-width="1"/>
<line x1="583.4" y1="480.2" x2="583.4" y2="486.2" stroke="#3e56a4" stroke-width="1"/>
<line x1="578.2" y1="480.2" x2="588.6" y2="480.2" stroke="#3e56a4" stroke-width="1"/>
<line x1="578.2" y1="486.2" x2="588.6" y2="486.2" stroke="#3e56a4" stroke-width="1"/>
<line x1="590.1" y1="482.6" x2="590.1" y2="488.6" stroke="#3e56a4" stroke-width="1"/>
<line x1="584.9" y1="482.6" x2="595.3" y2="482.6" stroke="#3e56a4" stroke-width="1"/>
<line x1="584.9" y1="488.6" x2="595.3" y2="488.6" stroke="#3e56a4" stroke-width="1"/>
<line x1="597.9" y1="483.6" x2="597.9" y2="489.6" stroke="#3e56a4" stroke-width="1"/>
<line x1="592.7" y1="483.6" x2="603.1" y2="483.6" stroke="#3e56a4" stroke-width="1"/>
<line x1="592.7" y1="489.6" x2="603.1" y2="489.6" stroke="#3e56a4" stroke-width="1"/>
<line x1="613.7" y1="484.9" x2="613.7" y2="492.9" stroke="#3e56a4" stroke-width="1"/>
<line x1="608.5" y1="484.9" x2="618.9" y2="484.9" stroke="#3e56a4" stroke-width="1"/>
<line x1="608.5" y1="492.9" x2="618.9" y2="492.9" stroke="#3e56a4" stroke-width="1"/>
<line x1="623.8" y1="487" x2="623.8" y2="495" stroke="#3e56a4" stroke-width="1"/>
<line x1="618.6" y1="487" x2="629" y2="487" stroke="#3e56a4" stroke-width="1"/>
<line x1="618.6" y1="495" x2="629" y2="495" stroke="#3e56a4" stroke-width="1"/>
<polyline points="488.2,405.8 496.9,421 502.6,430.4 510.4,438.5 517.8,447.2 526.2,458 532.9,462.4 540.7,468.1 548.1,474.8 554.1,477.5 568.3,480.9 575,481.5 583.4,483.2 590.1,485.6 597.9,486.6 613.7,488.9 623.8,491 634.9,484.9 642.3,486.6 652.4,486.6 665.9,494.3 676.6,497.7 686.1,503.4 706.9,510.1 719.7,514.5 734.9,521.9 746,526 760.1,532 769.2,538.1" fill="none" stroke="#3e56a4" stroke-width="1.5" stroke-linejoin="round"/>
<rect x="484.2" y="401.8" width="8" height="8" fill="#3e56a4"/>
<rect x="492.9" y="417" width="8" height="8" fill="#3e56a4"/>
<rect x="498.6" y="426.4" width="8" height="8" fill="#3e56a4"/>
<rect x="506.4" y="434.5" width="8" height="8" fill="#3e56a4"/>
<rect x="513.8" y="443.2" width="8" height="8" fill="#3e56a4"/>
<rect x="522.2" y="454" width="8" height="8" fill="#3e56a4"/>
<rect x="528.9" y="458.4" width="8" height="8" fill="#3e56a4"/>
<rect x="536.7" y="464.1" width="8" height="8" fill="#3e56a4"/>
<rect x="544.1" y="470.8" width="8" height="8" fill="#3e56a4"/>
<rect x="550.1" y="473.5" width="8" height="8" fill="#3e56a4"/>
<rect x="564.3" y="476.9" width="8" height="8" fill="#3e56a4"/>
<rect x="571" y="477.5" width="8" height="8" fill="#3e56a4"/>
<rect x="579.4" y="479.2" width="8" height="8" fill="#3e56a4"/>
<rect x="586.1" y="481.6" width="8" height="8" fill="#3e56a4"/>
<rect x="593.9" y="482.6" width="8" height="8" fill="#3e56a4"/>
<rect x="609.7" y="484.9" width="8" height="8" fill="#3e56a4"/>
<rect x="619.8" y="487" width="8" height="8" fill="#3e56a4"/>
<rect x="630.9" y="480.9" width="8" height="8" fill="#3e56a4"/>
<rect x="638.3" y="482.6" width="8" height="8" fill="#3e56a4"/>
<rect x="648.4" y="482.6" width="8" height="8" fill="#3e56a4"/>
<rect x="661.9" y="490.3" width="8" height="8" fill="#3e56a4"/>
<rect x="672.6" y="493.7" width="8" height="8" fill="#3e56a4"/>
<rect x="682.1" y="499.4" width="8" height="8" fill="#3e56a4"/>
<rect x="702.9" y="506.1" width="8" height="8" fill="#3e56a4"/>
<rect x="715.7" y="510.5" width="8" height="8" fill="#3e56a4"/>
<rect x="730.9" y="517.9" width="8" height="8" fill="#3e56a4"/>
<rect x="742" y="522" width="8" height="8" fill="#3e56a4"/>
<rect x="756.1" y="528" width="8" height="8" fill="#3e56a4"/>
<rect x="765.2" y="534.1" width="8" height="8" fill="#3e56a4"/>
<line x1="613.7" y1="435.5" x2="613.7" y2="443.5" stroke="#e0393e" stroke-width="1"/>
<line x1="608.5" y1="435.5" x2="618.9" y2="435.5" stroke="#e0393e" stroke-width="1"/>
<line x1="608.5" y1="443.5" x2="618.9" y2="443.5" stroke="#e0393e" stroke-width="1"/>
<polyline points="486.8,351 490.2,351 496.9,369.5 503.7,381.3 510.4,389.7 517.8,401.4 526.2,411.5 532.9,414.9 540.7,420.3 548.1,423.7 554.8,421.6 568.3,427.7 575,427.7 584.4,429.4 590.1,433.4 597.9,433.4 613.7,439.5 623.8,441.8 634.9,441.8 642.3,444.5 652.4,445.2 665.9,452.9 676.6,458.7 686.1,463 706.9,468.1 719.7,473.1 734.9,478.8 746,481.5 760.1,487.6 769.2,495.7" fill="none" stroke="#e0393e" stroke-width="1.5" stroke-linejoin="round"/>
<circle cx="486.8" cy="351" r="4.4" fill="#e0393e"/>
<circle cx="490.2" cy="351" r="4.4" fill="#e0393e"/>
<circle cx="496.9" cy="369.5" r="4.4" fill="#e0393e"/>
<circle cx="503.7" cy="381.3" r="4.4" fill="#e0393e"/>
<circle cx="510.4" cy="389.7" r="4.4" fill="#e0393e"/>
<circle cx="517.8" cy="401.4" r="4.4" fill="#e0393e"/>
<circle cx="526.2" cy="411.5" r="4.4" fill="#e0393e"/>
<circle cx="532.9" cy="414.9" r="4.4" fill="#e0393e"/>
<circle cx="540.7" cy="420.3" r="4.4" fill="#e0393e"/>
<circle cx="548.1" cy="423.7" r="4.4" fill="#e0393e"/>
<circle cx="554.8" cy="421.6" r="4.4" fill="#e0393e"/>
<circle cx="568.3" cy="427.7" r="4.4" fill="#e0393e"/>
<circle cx="575" cy="427.7" r="4.4" fill="#e0393e"/>
<circle cx="584.4" cy="429.4" r="4.4" fill="#e0393e"/>
<circle cx="590.1" cy="433.4" r="4.4" fill="#e0393e"/>
<circle cx="597.9" cy="433.4" r="4.4" fill="#e0393e"/>
<circle cx="613.7" cy="439.5" r="4.4" fill="#e0393e"/>
<circle cx="623.8" cy="441.8" r="4.4" fill="#e0393e"/>
<circle cx="634.9" cy="441.8" r="4.4" fill="#e0393e"/>
<circle cx="642.3" cy="444.5" r="4.4" fill="#e0393e"/>
<circle cx="652.4" cy="445.2" r="4.4" fill="#e0393e"/>
<circle cx="665.9" cy="452.9" r="4.4" fill="#e0393e"/>
<circle cx="676.6" cy="458.7" r="4.4" fill="#e0393e"/>
<circle cx="686.1" cy="463" r="4.4" fill="#e0393e"/>
<circle cx="706.9" cy="468.1" r="4.4" fill="#e0393e"/>
<circle cx="719.7" cy="473.1" r="4.4" fill="#e0393e"/>
<circle cx="734.9" cy="478.8" r="4.4" fill="#e0393e"/>
<circle cx="746" cy="481.5" r="4.4" fill="#e0393e"/>
<circle cx="760.1" cy="487.6" r="4.4" fill="#e0393e"/>
<circle cx="769.2" cy="495.7" r="4.4" fill="#e0393e"/>
</svg>
<rect x="475.4" y="334.8" width="298.8" height="251.7" fill="none" stroke="#000" stroke-width="1.5"/>
<line x1="475.4" y1="586.5" x2="475.4" y2="582" stroke="#000" stroke-width="1.5"/>
<text x="475.4" y="603.7" font-size="17.3" text-anchor="middle">0</text>
<line x1="546.8" y1="586.5" x2="546.8" y2="582" stroke="#000" stroke-width="1.5"/>
<text x="546.8" y="603.7" font-size="17.3" text-anchor="middle">10</text>
<line x1="618.1" y1="586.5" x2="618.1" y2="582" stroke="#000" stroke-width="1.5"/>
<text x="618.1" y="603.7" font-size="17.3" text-anchor="middle">20</text>
<line x1="689.5" y1="586.5" x2="689.5" y2="582" stroke="#000" stroke-width="1.5"/>
<text x="689.5" y="603.7" font-size="17.3" text-anchor="middle">30</text>
<line x1="760.8" y1="586.5" x2="760.8" y2="582" stroke="#000" stroke-width="1.5"/>
<text x="760.8" y="603.7" font-size="17.3" text-anchor="middle">40</text>
<line x1="511.1" y1="586.5" x2="511.1" y2="584" stroke="#000" stroke-width="1.5"/>
<line x1="511.1" y1="334.8" x2="511.1" y2="337.3" stroke="#000" stroke-width="1.5"/>
<line x1="582.4" y1="586.5" x2="582.4" y2="584" stroke="#000" stroke-width="1.5"/>
<line x1="582.4" y1="334.8" x2="582.4" y2="337.3" stroke="#000" stroke-width="1.5"/>
<line x1="653.8" y1="586.5" x2="653.8" y2="584" stroke="#000" stroke-width="1.5"/>
<line x1="653.8" y1="334.8" x2="653.8" y2="337.3" stroke="#000" stroke-width="1.5"/>
<line x1="725.1" y1="586.5" x2="725.1" y2="584" stroke="#000" stroke-width="1.5"/>
<line x1="725.1" y1="334.8" x2="725.1" y2="337.3" stroke="#000" stroke-width="1.5"/>
<line x1="546.8" y1="334.8" x2="546.8" y2="339.3" stroke="#000" stroke-width="1.5"/>
<line x1="618.1" y1="334.8" x2="618.1" y2="339.3" stroke="#000" stroke-width="1.5"/>
<line x1="689.5" y1="334.8" x2="689.5" y2="339.3" stroke="#000" stroke-width="1.5"/>
<line x1="760.8" y1="334.8" x2="760.8" y2="339.3" stroke="#000" stroke-width="1.5"/>
<line x1="475.4" y1="367.1" x2="480.4" y2="367.1" stroke="#000" stroke-width="1.5"/>
<text x="472" y="373.2" font-size="17.3" text-anchor="end">5.5</text>
<line x1="475.4" y1="431.8" x2="480.4" y2="431.8" stroke="#000" stroke-width="1.5"/>
<text x="472" y="437.9" font-size="17.3" text-anchor="end">5.4</text>
<line x1="475.4" y1="496.6" x2="480.4" y2="496.6" stroke="#000" stroke-width="1.5"/>
<text x="472" y="502.7" font-size="17.3" text-anchor="end">5.3</text>
<line x1="475.4" y1="561.3" x2="480.4" y2="561.3" stroke="#000" stroke-width="1.5"/>
<text x="472" y="567.4" font-size="17.3" text-anchor="end">5.2</text>
<line x1="774.2" y1="335" x2="769.2" y2="335" stroke="#000" stroke-width="1.5"/>
<text x="777.5" y="341.1" font-size="17.3">20.5</text>
<line x1="774.2" y1="418.4" x2="769.2" y2="418.4" stroke="#000" stroke-width="1.5"/>
<text x="777.5" y="424.5" font-size="17.3">20.0</text>
<line x1="774.2" y1="501.8" x2="769.2" y2="501.8" stroke="#000" stroke-width="1.5"/>
<text x="777.5" y="507.9" font-size="17.3">19.5</text>
<line x1="774.2" y1="585.2" x2="769.2" y2="585.2" stroke="#000" stroke-width="1.5"/>
<text x="777.5" y="591.3" font-size="17.3">19.0</text>
<text x="627.2" y="626.4" font-size="17.3" text-anchor="middle">Pressure (GPa)</text>
<text x="439.3" y="443.5" font-size="17.3" text-anchor="middle" transform="rotate(-90 439.3 443.5)"><tspan font-style="italic">a</tspan> and <tspan font-style="italic">b</tspan> (Å)</text>
<text x="826" y="467" font-size="17.3" text-anchor="middle" transform="rotate(-90 826 467)"><tspan font-style="italic">c</tspan> (Å)</text>
<text x="416" y="347.6" font-size="20" font-weight="bold">d</text>
<line x1="698.8" y1="354.7" x2="719" y2="354.7" stroke="#3e56a4" stroke-width="1.5"/>
<rect x="705.1" y="350.9" width="7.6" height="7.6" fill="#3e56a4"/>
<text x="722.5" y="360.5" font-size="17.3" font-style="italic">a</text>
<line x1="698.8" y1="374.5" x2="719" y2="374.5" stroke="#9b50a0" stroke-width="1.5"/>
<polygon points="708.9,368.8 714.6,374.5 708.9,380.2 703.2,374.5" fill="#9b50a0"/>
<text x="722.5" y="380.3" font-size="17.3" font-style="italic">b</text>
<line x1="698.8" y1="395.7" x2="719" y2="395.7" stroke="#e0393e" stroke-width="1.5"/>
<circle cx="708.9" cy="395.7" r="5" fill="#e0393e"/>
<text x="722.5" y="401.5" font-size="17.3" font-style="italic">c</text>
<polyline points="59.1,750.7 59.4,750.1 59.7,750.3 60,749.9 60.3,749.9 60.6,749.8 60.9,750.1 61.2,749.8 61.5,750.8 61.8,750.7 62.1,749.9 62.4,750.5 62.7,750.8 63,750.4 63.3,749.9 63.6,749.8 63.9,750.2 64.2,750.3 64.5,750.2 64.8,750.3 65.1,750.8 65.4,750.6 65.7,750.7 65.9,749.8 66.2,750 66.5,749.9 66.8,749.9 67.1,750.5 67.4,750.6 67.7,750.1 68,749.8 68.3,750.4 68.6,750.2 68.9,749.9 69.2,749.8 69.5,750.3 69.8,750.5 70.1,750.8 70.4,750.7 70.7,749.9 71,750.7 71.3,750.3 71.6,750.5 71.9,750.4 72.2,750.7 72.5,750.2 72.8,750.2 73.1,749.9 73.4,750.3 73.7,750.3 74,750.4 74.3,750 74.6,750.2 74.9,750.4 75.2,750.3 75.5,750.4 75.8,750.2 76.1,750.6 76.4,750.2 76.7,750.1 77,750.8 77.3,750.3 77.6,749.9 77.9,750.1 78.2,750 78.5,749.9 78.8,750.3 79.1,750.2 79.4,750.7 79.6,750.2 79.9,750.6 80.2,750.2 80.5,750.4 80.8,750.5 81.1,749.8 81.4,750.4 81.7,749.8 82,750.7 82.3,750.2 82.6,750.3 82.9,750.8 83.2,750.5 83.5,750.5 83.8,750.4 84.1,750.1 84.4,750.2 84.7,750.5 85,750.7 85.3,750.5 85.6,750.8 85.9,750.3 86.2,750.1 86.5,750 86.8,749.9 87.1,750.7 87.4,750.6 87.7,750.4 88,750.4 88.3,750 88.6,750.7 88.9,750.4 89.2,750.5 89.5,749.7 89.8,750 90.1,750.5 90.4,750.3 90.7,749.7 91,749.9 91.3,750.1 91.6,749.2 91.9,749.3 92.2,748.4 92.5,749.2 92.8,749.1 93,748.9 93.3,749 93.6,749.8 93.9,749.8 94.2,750.4 94.5,750.5 94.8,750.5 95.1,750.1 95.4,749.8 95.7,750 96,750.1 96.3,750.3 96.6,750.3 96.9,749.9 97.2,750 97.5,750.4 97.8,750.5 98.1,750 98.4,749.8 98.7,750.5 99,750.3 99.3,749.9 99.6,750.2 99.9,750 100.2,750.3 100.5,750 100.8,749.8 101.1,750 101.4,750.4 101.7,750.2 102,750.6 102.3,749.8 102.6,750.2 102.9,750.4 103.2,750.5 103.5,749.9 103.8,750.3 104.1,750.7 104.4,750.2 104.7,750.7 105,750.7 105.3,750.5 105.6,750.1 105.9,750.3 106.2,750.6 106.5,750.7 106.7,749.8 107,750.3 107.3,750.6 107.6,750.1 107.9,750.4 108.2,750 108.5,749.9 108.8,749.9 109.1,750.2 109.4,749.8 109.7,750.6 110,750.3 110.3,750.3 110.6,750.7 110.9,750.2 111.2,750.3 111.5,749.9 111.8,750 112.1,750.7 112.4,749.9 112.7,749.8 113,749.8 113.3,750.1 113.6,750.1 113.9,750.5 114.2,750.1 114.5,750.5 114.8,750 115.1,750.5 115.4,750.1 115.7,749.8 116,750 116.3,749.9 116.6,750.6 116.9,750.6 117.2,749.9 117.5,750 117.8,749.7 118.1,750.4 118.4,750.4 118.7,749.8 119,750.3 119.3,750.3 119.6,750.1 119.9,749.8 120.1,749.8 120.4,750.4 120.7,749.8 121,749.7 121.3,750.4 121.6,750.3 121.9,749.8 122.2,749.8 122.5,750.5 122.8,749.6 123.1,749.6 123.4,749.5 123.7,750 124,749.7 124.3,749.7 124.6,750.3 124.9,750 125.2,749.6 125.5,750 125.8,750.1 126.1,749.2 126.4,749.1 126.7,749.2 127,749.2 127.3,748.6 127.6,748.8 127.9,748.2 128.2,747.2 128.5,746.2 128.8,744.6 129.1,742.2 129.4,738.9 129.7,735.7 130,731 130.3,728 130.6,724.9 130.9,723.9 131.2,725.1 131.5,727.6 131.8,731.1 132.1,735.7 132.4,739 132.7,742 133,744.7 133.3,746.2 133.5,747.8 133.8,747.9 134.1,748.4 134.4,748.9 134.7,749.4 135,749.6 135.3,749.4 135.6,749.9 135.9,749.3 136.2,750.1 136.5,749.2 136.8,749.4 137.1,749.4 137.4,750.2 137.7,749.6 138,749.4 138.3,749.9 138.6,749.8 138.9,750.3 139.2,749.9 139.5,749.9 139.8,750 140.1,749.7 140.4,750.1 140.7,749.8 141,749.8 141.3,750.3 141.6,750.2 141.9,749.7 142.2,750.2 142.5,750.1 142.8,750.2 143.1,749.4 143.4,750 143.7,749.8 144,749.3 144.3,748.5 144.6,748.4 144.9,748 145.2,748 145.5,747.4 145.8,746.4 146.1,745.9 146.4,745.2 146.7,744.7 147,744 147.2,743.9 147.5,743.3 147.8,744 148.1,743.8 148.4,744.7 148.7,744.8 149,745.7 149.3,745.6 149.6,746.5 149.9,746.9 150.2,747.9 150.5,747.9 150.8,748.8 151.1,748.8 151.4,749.1 151.7,749.1 152,749.9 152.3,749.6 152.6,749.8 152.9,750.1 153.2,749.8 153.5,749.9 153.8,750 154.1,750.4 154.4,750.4 154.7,750.3 155,750.3 155.3,750.2 155.6,750.5 155.9,749.7 156.2,749.6 156.5,749.9 156.8,749.7 157.1,750.4 157.4,749.8 157.7,750.4 158,749.9 158.3,749.9 158.6,750 158.9,750.2 159.2,750 159.5,750 159.8,750.1 160.1,749.8 160.4,750.4 160.6,750.3 160.9,749.8 161.2,749.7 161.5,749.7 161.8,750.2 162.1,749.7 162.4,750.1 162.7,749.6 163,750.3 163.3,749.6 163.6,750 163.9,749.7 164.2,750.4 164.5,749.7 164.8,750.1 165.1,750.4 165.4,749.9 165.7,750.4 166,750 166.3,750.4 166.6,749.8 166.9,750.1 167.2,749.7 167.5,749.7 167.8,749.9 168.1,749.9 168.4,750.1 168.7,749.8 169,749.8 169.3,749.5 169.6,749.9 169.9,749.8 170.2,749.9 170.5,750.2 170.8,749.4 171.1,749.8 171.4,749.5 171.7,749.4 172,749.9 172.3,750 172.6,749.8 172.9,750 173.2,749.3 173.5,750 173.8,749.7 174.1,749.3 174.3,749.6 174.6,749.4 174.9,749.5 175.2,750 175.5,749.9 175.8,749.2 176.1,748.9 176.4,749.3 176.7,749.1 177,749.6 177.3,748.6 177.6,749.1 177.9,748.7 178.2,748.3 178.5,748.2 178.8,748 179.1,748 179.4,748 179.7,747 180,745.9 180.3,745.1 180.6,744 180.9,742.9 181.2,740.7 181.5,738.7 181.8,736.4 182.1,734.3 182.4,731.2 182.7,728.8 183,726.9 183.3,724.9 183.6,723.9 183.9,723.1 184.2,722.4 184.5,722.1 184.8,721.3 185.1,720.5 185.4,719.6 185.7,717.6 186,715.8 186.3,712.8 186.6,710.5 186.9,708.1 187.2,706 187.5,704.8 187.7,706 188,706.9 188.3,709.8 188.6,714.4 188.9,718.6 189.2,722.9 189.5,726.6 189.8,731.4 190.1,734.3 190.4,738 190.7,740.4 191,742.3 191.3,743.3 191.6,744.7 191.9,746.1 192.2,747 192.5,747.7 192.8,747.9 193.1,748.2 193.4,748.5 193.7,748.1 194,748.4 194.3,749.2 194.6,748.6 194.9,748.5 195.2,748.9 195.5,749.6 195.8,749 196.1,749.8 196.4,749.5 196.7,749 197,749.8 197.3,749.3 197.6,749.1 197.9,749.4 198.2,749.8 198.5,749.7 198.8,750.1 199.1,750.1 199.4,749.6 199.7,749.9 200,749.5 200.3,750.1 200.6,749.4 200.9,749.9 201.2,749.7 201.4,749.5 201.7,749.6 202,749.7 202.3,750.1 202.6,750.1 202.9,749.8 203.2,749.5 203.5,749.5 203.8,749.7 204.1,749.5 204.4,749.8 204.7,750 205,750.1 205.3,749.8 205.6,750.3 205.9,750 206.2,750.5 206.5,749.7 206.8,750.2 207.1,750.1 207.4,750.5 207.7,749.7 208,750.3 208.3,749.9 208.6,750.3 208.9,750.6 209.2,750.2 209.5,750.4 209.8,750.4 210.1,750.5 210.4,750.1 210.7,750.5 211,750.5 211.3,750.3 211.6,750.3 211.9,749.9 212.2,750.2 212.5,749.9 212.8,750.4 213.1,749.6 213.4,749.7 213.7,750.1 214,750.3 214.3,750.3 214.6,749.6 214.8,749.7 215.1,749.9 215.4,749.5 215.7,749.8 216,749.9 216.3,749.6 216.6,749.7 216.9,750.1 217.2,749.2 217.5,750.1 217.8,749.5 218.1,749 218.4,749.9 218.7,748.9 219,748.9 219.3,749.1 219.6,748.9 219.9,748.8 220.2,748.8 220.5,748.6 220.8,748.9 221.1,748.7 221.4,749.3 221.7,749.2 222,749.5 222.3,749.4 222.6,749.3 222.9,748.9 223.2,749.5 223.5,748.9 223.8,748.9 224.1,749.8 224.4,749.8 224.7,749.8 225,749.2 225.3,749.2 225.6,749.8 225.9,749.3 226.2,750 226.5,749.6 226.8,749.9 227.1,750.3 227.4,750.2 227.7,750.1 228,750.3 228.3,749.9 228.5,750.4 228.8,750.1 229.1,749.9 229.4,750.2 229.7,750.5 230,750 230.3,750 230.6,749.7 230.9,750.4 231.2,750.6 231.5,750.4 231.8,749.9 232.1,750.1 232.4,750.6 232.7,750.6 233,749.9 233.3,750.2 233.6,750.5 233.9,750 234.2,750.5 234.5,749.7 234.8,750.5 235.1,750.2 235.4,750.4 235.7,750.6 236,750.3 236.3,749.7 236.6,750.5 236.9,750.3 237.2,750 237.5,750.2 237.8,750.2 238.1,750.1 238.4,750.3 238.7,750.2 239,749.9 239.3,750.5 239.6,749.7 239.9,749.7 240.2,749.8 240.5,749.7 240.8,749.5 241.1,749.8 241.4,749.3 241.7,749.5 241.9,749.6 242.2,749.7 242.5,749.5 242.8,748.7 243.1,748.8 243.4,748.4 243.7,747.7 244,746.8 244.3,746.3 244.6,745.8 244.9,745.2 245.2,745.5 245.5,745 245.8,744.7 246.1,744.2 246.4,744.4 246.7,743.6 247,744.4 247.3,744.8 247.6,744.6 247.9,745.7 248.2,746.1 248.5,746.3 248.8,746.8 249.1,747.4 249.4,748 249.7,748.7 250,748.4 250.3,749.1 250.6,749.2 250.9,749.7 251.2,749.7 251.5,749.5 251.8,749.8 252.1,749.6 252.4,750.4 252.7,749.7 253,749.7 253.3,749.6 253.6,749.6 253.9,749.7 254.2,750.4 254.5,749.9 254.8,750.5 255.1,750.5 255.4,750.3 255.6,750 255.9,750.2 256.2,750 256.5,750 256.8,750.5 257.1,750.3 257.4,750.2 257.7,749.9 258,750.2 258.3,750.3 258.6,750.3 258.9,750.6 259.2,750 259.5,750.2 259.8,750.2 260.1,750 260.4,750.6 260.7,750.3 261,750.4 261.3,750.2 261.6,750.2 261.9,750.5 262.2,750.1 262.5,749.7 262.8,749.7 263.1,750.4 263.4,750.2 263.7,749.5 264,750 264.3,749.8 264.6,750.3 264.9,750.2 265.2,749.8 265.5,749.6 265.8,749.9 266.1,749.9 266.4,749.8 266.7,749.3 267,749.2 267.3,749.7 267.6,750 267.9,749.9 268.2,749.4 268.5,749.4 268.8,748.7 269,748.9 269.3,747.6 269.6,747 269.9,746.3 270.2,745.3 270.5,744.2 270.8,742.9 271.1,740.4 271.4,738.7 271.7,736.7 272,734.3 272.3,733.2 272.6,731.7 272.9,732 273.2,731.9 273.5,732.9 273.8,735.2 274.1,737.1 274.4,738.7 274.7,741 275,742.5 275.3,744.1 275.6,745.8 275.9,746.9 276.2,747.2 276.5,748.2 276.8,748.1 277.1,748.6 277.4,749.6 277.7,749.2 278,749.1 278.3,749.4 278.6,749.2 278.9,750.1 279.2,750.1 279.5,749.8 279.8,750.2 280.1,749.7 280.4,749.9 280.7,749.7 281,750 281.3,749.6 281.6,750.3 281.9,749.9 282.2,750.4 282.4,750 282.7,750.5 283,750.3 283.3,750.4 283.6,750 283.9,750.1 284.2,750.2 284.5,750.5 284.8,750.6 285.1,750.6 285.4,749.6 285.7,750.3 286,750.4 286.3,749.7 286.6,750.3 286.9,749.9 287.2,750.7 287.5,750 287.8,750.2 288.1,750.3 288.4,750.6 288.7,749.7 289,750.7 289.3,750.5 289.6,749.8 289.9,749.7 290.2,750.5 290.5,750.2 290.8,749.8 291.1,750.4 291.4,750.4 291.7,750 292,749.7 292.3,750.5 292.6,749.7 292.9,750 293.2,750.2 293.5,749.9 293.8,749.7 294.1,749.7 294.4,749.8 294.7,750.1 295,750.6 295.3,750.2 295.6,750.5 295.9,750.6 296.1,750.2 296.4,750.2 296.7,750 297,750.2 297.3,749.8 297.6,750.5 297.9,750.4 298.2,750 298.5,750.2 298.8,749.7 299.1,749.7 299.4,749.6 299.7,749.7 300,749.9 300.3,749.7 300.6,750.4 300.9,749.6 301.2,750.3 301.5,749.8 301.8,750.2 302.1,750.2 302.4,749.9 302.7,749.4 303,749.4 303.3,749.3 303.6,750.1 303.9,749.3 304.2,749.4 304.5,749.8 304.8,749.1 305.1,749.6 305.4,749.4 305.7,749.4 306,749 306.3,749.4 306.6,749.5 306.9,749.6 307.2,749.4 307.5,749.5 307.8,749.5 308.1,749 308.4,749.7 308.7,749.9 309,749.3 309.3,749.2 309.5,750 309.8,749.9 310.1,750.2 310.4,750.3 310.7,749.8 311,749.5 311.3,750.2 311.6,750.3 311.9,750.5 312.2,750 312.5,749.7 312.8,750.5 313.1,749.9 313.4,749.9 313.7,750.3 314,750.2 314.3,750.5 314.6,749.8 314.9,749.7 315.2,750 315.5,750.6 315.8,750.3 316.1,750.2 316.4,750.2 316.7,750.5 317,749.8 317.3,749.7 317.6,750.6 317.9,750 318.2,750.5 318.5,750.5 318.8,750.5 319.1,749.7 319.4,750.2 319.7,750 320,750.4 320.3,750.1 320.6,749.8 320.9,750.4 321.2,750.6 321.5,749.9 321.8,750.6 322.1,750.2 322.4,749.7 322.7,750.5 323,749.8 323.2,750.2 323.5,750.2 323.8,750.5 324.1,750.1 324.4,749.9 324.7,750.2 325,749.7 325.3,749.8 325.6,750 325.9,749.6 326.2,750.2 326.5,749.6 326.8,750.4 327.1,750.1 327.4,749.9 327.7,749.6 328,749.3 328.3,749.9 328.6,749.5 328.9,749.9 329.2,748.9 329.5,749.1 329.8,749 330.1,748.5 330.4,748.3 330.7,748.2 331,747.9 331.3,747.6 331.6,747.1 331.9,746.5 332.2,746.1 332.5,745.2 332.8,744.6 333.1,743.8 333.4,743.2 333.7,743.4 334,743.2 334.3,743.3 334.6,743.2 334.9,743.3 335.2,743.4 335.5,743.8 335.8,744.5 336.1,745.4 336.4,746.1 336.6,745.8 336.9,746.3 337.2,746.7 337.5,747.8 337.8,748.1 338.1,748.4 338.4,749.2 338.7,748.5 339,748.9 339.3,748.9 339.6,749.5 339.9,749.2 340.2,749.5 340.5,749.7 340.8,750.2 341.1,750 341.4,750.3 341.7,750 342,749.7 342.3,750.2 342.6,750.2 342.9,749.8 343.2,749.9 343.5,749.8 343.8,749.8 344.1,750.3 344.4,749.8 344.7,749.7 345,750.5 345.3,750.5 345.6,750.2 345.9,750.1 346.2,749.9 346.5,750.1 346.8,750.2 347.1,749.8 347.4,750 347.7,750 348,750.2 348.3,749.8 348.6,749.9 348.9,750.5 349.2,750.2 349.5,750.1 349.8,750.6 350.1,750.5 350.3,750.2 350.6,750.1 350.9,749.9 351.2,750.4 351.5,750.2 351.8,750.6 352.1,750 352.4,750 352.7,750.7 353,750.7 353.3,750.4 353.6,750.6 353.9,750.6 354.2,750.4 354.5,749.9 354.8,750.5 355.1,750.3 355.4,750.4 355.7,750.2 356,749.8 356.3,750 356.6,750.4 356.9,749.8" fill="none" stroke="#e88a3c" stroke-width="2.8" stroke-linejoin="round"/>
<circle cx="128.2" cy="747.2" r="1.7" fill="#e88a3c"/>
<circle cx="128.5" cy="746.2" r="1.7" fill="#e88a3c"/>
<circle cx="128.8" cy="744.6" r="1.7" fill="#e88a3c"/>
<circle cx="129.1" cy="742.2" r="1.7" fill="#e88a3c"/>
<circle cx="129.4" cy="738.9" r="1.7" fill="#e88a3c"/>
<circle cx="129.7" cy="735.7" r="1.7" fill="#e88a3c"/>
<circle cx="130" cy="731" r="1.7" fill="#e88a3c"/>
<circle cx="130.3" cy="728" r="1.7" fill="#e88a3c"/>
<circle cx="130.6" cy="724.9" r="1.7" fill="#e88a3c"/>
<circle cx="130.9" cy="723.9" r="1.7" fill="#e88a3c"/>
<circle cx="131.2" cy="725.1" r="1.7" fill="#e88a3c"/>
<circle cx="131.5" cy="727.6" r="1.7" fill="#e88a3c"/>
<circle cx="131.8" cy="731.1" r="1.7" fill="#e88a3c"/>
<circle cx="132.1" cy="735.7" r="1.7" fill="#e88a3c"/>
<circle cx="132.4" cy="739" r="1.7" fill="#e88a3c"/>
<circle cx="132.7" cy="742" r="1.7" fill="#e88a3c"/>
<circle cx="133" cy="744.7" r="1.7" fill="#e88a3c"/>
<circle cx="133.3" cy="746.2" r="1.7" fill="#e88a3c"/>
<circle cx="147" cy="744" r="1.7" fill="#e88a3c"/>
<circle cx="147.2" cy="743.9" r="1.7" fill="#e88a3c"/>
<circle cx="147.5" cy="743.3" r="1.7" fill="#e88a3c"/>
<circle cx="147.8" cy="744" r="1.7" fill="#e88a3c"/>
<circle cx="148.1" cy="743.8" r="1.7" fill="#e88a3c"/>
<circle cx="179.7" cy="747" r="1.7" fill="#e88a3c"/>
<circle cx="180.6" cy="744" r="1.7" fill="#e88a3c"/>
<circle cx="180.9" cy="742.9" r="1.7" fill="#e88a3c"/>
<circle cx="181.2" cy="740.7" r="1.7" fill="#e88a3c"/>
<circle cx="181.5" cy="738.7" r="1.7" fill="#e88a3c"/>
<circle cx="181.8" cy="736.4" r="1.7" fill="#e88a3c"/>
<circle cx="182.1" cy="734.3" r="1.7" fill="#e88a3c"/>
<circle cx="182.4" cy="731.2" r="1.7" fill="#e88a3c"/>
<circle cx="182.7" cy="728.8" r="1.7" fill="#e88a3c"/>
<circle cx="183" cy="726.9" r="1.7" fill="#e88a3c"/>
<circle cx="183.3" cy="724.9" r="1.7" fill="#e88a3c"/>
<circle cx="183.6" cy="723.9" r="1.7" fill="#e88a3c"/>
<circle cx="183.9" cy="723.1" r="1.7" fill="#e88a3c"/>
<circle cx="184.2" cy="722.4" r="1.7" fill="#e88a3c"/>
<circle cx="184.5" cy="722.1" r="1.7" fill="#e88a3c"/>
<circle cx="184.8" cy="721.3" r="1.7" fill="#e88a3c"/>
<circle cx="185.1" cy="720.5" r="1.7" fill="#e88a3c"/>
<circle cx="185.4" cy="719.6" r="1.7" fill="#e88a3c"/>
<circle cx="185.7" cy="717.6" r="1.7" fill="#e88a3c"/>
<circle cx="186" cy="715.8" r="1.7" fill="#e88a3c"/>
<circle cx="186.3" cy="712.8" r="1.7" fill="#e88a3c"/>
<circle cx="186.6" cy="710.5" r="1.7" fill="#e88a3c"/>
<circle cx="186.9" cy="708.1" r="1.7" fill="#e88a3c"/>
<circle cx="187.2" cy="706" r="1.7" fill="#e88a3c"/>
<circle cx="187.5" cy="704.8" r="1.7" fill="#e88a3c"/>
<circle cx="187.7" cy="706" r="1.7" fill="#e88a3c"/>
<circle cx="188" cy="706.9" r="1.7" fill="#e88a3c"/>
<circle cx="188.3" cy="709.8" r="1.7" fill="#e88a3c"/>
<circle cx="188.6" cy="714.4" r="1.7" fill="#e88a3c"/>
<circle cx="188.9" cy="718.6" r="1.7" fill="#e88a3c"/>
<circle cx="189.2" cy="722.9" r="1.7" fill="#e88a3c"/>
<circle cx="189.5" cy="726.6" r="1.7" fill="#e88a3c"/>
<circle cx="189.8" cy="731.4" r="1.7" fill="#e88a3c"/>
<circle cx="190.1" cy="734.3" r="1.7" fill="#e88a3c"/>
<circle cx="190.4" cy="738" r="1.7" fill="#e88a3c"/>
<circle cx="190.7" cy="740.4" r="1.7" fill="#e88a3c"/>
<circle cx="191" cy="742.3" r="1.7" fill="#e88a3c"/>
<circle cx="191.3" cy="743.3" r="1.7" fill="#e88a3c"/>
<circle cx="191.6" cy="744.7" r="1.7" fill="#e88a3c"/>
<circle cx="191.9" cy="746.1" r="1.7" fill="#e88a3c"/>
<circle cx="246.1" cy="744.2" r="1.7" fill="#e88a3c"/>
<circle cx="246.7" cy="743.6" r="1.7" fill="#e88a3c"/>
<circle cx="270.2" cy="745.3" r="1.7" fill="#e88a3c"/>
<circle cx="270.5" cy="744.2" r="1.7" fill="#e88a3c"/>
<circle cx="270.8" cy="742.9" r="1.7" fill="#e88a3c"/>
<circle cx="271.1" cy="740.4" r="1.7" fill="#e88a3c"/>
<circle cx="271.4" cy="738.7" r="1.7" fill="#e88a3c"/>
<circle cx="271.7" cy="736.7" r="1.7" fill="#e88a3c"/>
<circle cx="272" cy="734.3" r="1.7" fill="#e88a3c"/>
<circle cx="272.3" cy="733.2" r="1.7" fill="#e88a3c"/>
<circle cx="272.6" cy="731.7" r="1.7" fill="#e88a3c"/>
<circle cx="272.9" cy="732" r="1.7" fill="#e88a3c"/>
<circle cx="273.2" cy="731.9" r="1.7" fill="#e88a3c"/>
<circle cx="273.5" cy="732.9" r="1.7" fill="#e88a3c"/>
<circle cx="273.8" cy="735.2" r="1.7" fill="#e88a3c"/>
<circle cx="274.1" cy="737.1" r="1.7" fill="#e88a3c"/>
<circle cx="274.4" cy="738.7" r="1.7" fill="#e88a3c"/>
<circle cx="274.7" cy="741" r="1.7" fill="#e88a3c"/>
<circle cx="275" cy="742.5" r="1.7" fill="#e88a3c"/>
<circle cx="275.3" cy="744.1" r="1.7" fill="#e88a3c"/>
<circle cx="275.6" cy="745.8" r="1.7" fill="#e88a3c"/>
<circle cx="333.1" cy="743.8" r="1.7" fill="#e88a3c"/>
<circle cx="333.4" cy="743.2" r="1.7" fill="#e88a3c"/>
<circle cx="333.7" cy="743.4" r="1.7" fill="#e88a3c"/>
<circle cx="334" cy="743.2" r="1.7" fill="#e88a3c"/>
<circle cx="334.3" cy="743.3" r="1.7" fill="#e88a3c"/>
<circle cx="334.6" cy="743.2" r="1.7" fill="#e88a3c"/>
<circle cx="334.9" cy="743.3" r="1.7" fill="#e88a3c"/>
<circle cx="335.2" cy="743.4" r="1.7" fill="#e88a3c"/>
<circle cx="335.5" cy="743.8" r="1.7" fill="#e88a3c"/>
<polyline points="59.1,750.3 59.4,750.3 59.7,750.3 60,750.3 60.3,750.3 60.6,750.3 60.9,750.3 61.2,750.3 61.5,750.3 61.8,750.3 62.1,750.3 62.4,750.3 62.7,750.3 63,750.3 63.3,750.3 63.6,750.3 63.9,750.3 64.2,750.3 64.5,750.3 64.8,750.3 65.1,750.3 65.4,750.3 65.7,750.3 65.9,750.3 66.2,750.3 66.5,750.3 66.8,750.3 67.1,750.3 67.4,750.3 67.7,750.3 68,750.3 68.3,750.3 68.6,750.3 68.9,750.3 69.2,750.3 69.5,750.3 69.8,750.3 70.1,750.3 70.4,750.3 70.7,750.3 71,750.3 71.3,750.3 71.6,750.3 71.9,750.3 72.2,750.3 72.5,750.3 72.8,750.3 73.1,750.3 73.4,750.3 73.7,750.3 74,750.3 74.3,750.3 74.6,750.3 74.9,750.3 75.2,750.3 75.5,750.3 75.8,750.3 76.1,750.3 76.4,750.3 76.7,750.3 77,750.3 77.3,750.3 77.6,750.3 77.9,750.3 78.2,750.3 78.5,750.3 78.8,750.3 79.1,750.3 79.4,750.3 79.6,750.3 79.9,750.3 80.2,750.3 80.5,750.3 80.8,750.3 81.1,750.3 81.4,750.3 81.7,750.3 82,750.3 82.3,750.3 82.6,750.3 82.9,750.3 83.2,750.3 83.5,750.3 83.8,750.3 84.1,750.3 84.4,750.3 84.7,750.3 85,750.3 85.3,750.3 85.6,750.3 85.9,750.3 86.2,750.3 86.5,750.3 86.8,750.3 87.1,750.3 87.4,750.3 87.7,750.3 88,750.3 88.3,750.3 88.6,750.2 88.9,750.2 89.2,750.2 89.5,750.2 89.8,750.2 90.1,750.2 90.4,750.2 90.7,750.1 91,750 91.3,749.9 91.6,749.7 91.9,749.4 92.2,749.2 92.5,749 92.8,748.9 93,749 93.3,749.2 93.6,749.5 93.9,749.7 94.2,749.9 94.5,750 94.8,750.1 95.1,750.2 95.4,750.2 95.7,750.2 96,750.2 96.3,750.2 96.6,750.2 96.9,750.2 97.2,750.2 97.5,750.2 97.8,750.3 98.1,750.3 98.4,750.3 98.7,750.3 99,750.3 99.3,750.3 99.6,750.3 99.9,750.3 100.2,750.3 100.5,750.3 100.8,750.3 101.1,750.3 101.4,750.3 101.7,750.3 102,750.3 102.3,750.3 102.6,750.3 102.9,750.3 103.2,750.3 103.5,750.3 103.8,750.3 104.1,750.3 104.4,750.3 104.7,750.3 105,750.3 105.3,750.3 105.6,750.3 105.9,750.3 106.2,750.3 106.5,750.3 106.7,750.3 107,750.3 107.3,750.3 107.6,750.3 107.9,750.3 108.2,750.2 108.5,750.2 108.8,750.2 109.1,750.2 109.4,750.2 109.7,750.2 110,750.2 110.3,750.2 110.6,750.2 110.9,750.2 111.2,750.2 111.5,750.2 111.8,750.2 112.1,750.2 112.4,750.2 112.7,750.2 113,750.2 113.3,750.2 113.6,750.2 113.9,750.2 114.2,750.2 114.5,750.2 114.8,750.2 115.1,750.2 115.4,750.2 115.7,750.2 116,750.2 116.3,750.2 116.6,750.2 116.9,750.2 117.2,750.2 117.5,750.2 117.8,750.2 118.1,750.2 118.4,750.2 118.7,750.2 119,750.2 119.3,750.2 119.6,750.2 119.9,750.2 120.1,750.1 120.4,750.1 120.7,750.1 121,750.1 121.3,750.1 121.6,750.1 121.9,750.1 122.2,750.1 122.5,750.1 122.8,750.1 123.1,750 123.4,750 123.7,750 124,750 124.3,750 124.6,749.9 124.9,749.9 125.2,749.9 125.5,749.8 125.8,749.8 126.1,749.7 126.4,749.7 126.7,749.6 127,749.5 127.3,749.3 127.6,749.1 127.9,748.8 128.2,748.3 128.5,747.6 128.8,746.5 129.1,744.9 129.4,742.7 129.7,740 130,736.9 130.3,733.6 130.6,730.6 130.9,728.4 131.2,727.7 131.5,728.7 131.8,731.1 132.1,734.2 132.4,737.5 132.7,740.6 133,743.2 133.3,745.2 133.5,746.7 133.8,747.7 134.1,748.4 134.4,748.8 134.7,749.1 135,749.3 135.3,749.4 135.6,749.5 135.9,749.6 136.2,749.7 136.5,749.7 136.8,749.8 137.1,749.8 137.4,749.8 137.7,749.9 138,749.9 138.3,749.9 138.6,749.9 138.9,749.9 139.2,749.9 139.5,749.9 139.8,749.9 140.1,749.9 140.4,749.9 140.7,749.9 141,749.9 141.3,749.9 141.6,749.9 141.9,749.9 142.2,749.9 142.5,749.8 142.8,749.8 143.1,749.7 143.4,749.6 143.7,749.5 144,749.4 144.3,749.2 144.6,749 144.9,748.7 145.2,748.3 145.5,747.9 145.8,747.5 146.1,747 146.4,746.5 146.7,746 147,745.5 147.2,745.1 147.5,744.8 147.8,744.7 148.1,744.7 148.4,744.9 148.7,745.2 149,745.6 149.3,746.1 149.6,746.6 149.9,747.1 150.2,747.6 150.5,748 150.8,748.4 151.1,748.8 151.4,749 151.7,749.3 152,749.4 152.3,749.6 152.6,749.7 152.9,749.8 153.2,749.8 153.5,749.9 153.8,749.9 154.1,750 154.4,750 154.7,750 155,750 155.3,750 155.6,750 155.9,750.1 156.2,750.1 156.5,750.1 156.8,750.1 157.1,750.1 157.4,750.1 157.7,750.1 158,750.1 158.3,750.1 158.6,750.1 158.9,750.1 159.2,750.1 159.5,750.1 159.8,750.1 160.1,750.1 160.4,750.1 160.6,750.1 160.9,750.1 161.2,750.1 161.5,750.1 161.8,750.1 162.1,750.1 162.4,750.1 162.7,750.1 163,750.1 163.3,750.1 163.6,750.1 163.9,750.1 164.2,750.1 164.5,750.1 164.8,750.1 165.1,750.1 165.4,750.1 165.7,750.1 166,750.1 166.3,750.1 166.6,750.1 166.9,750 167.2,750 167.5,750 167.8,750 168.1,750 168.4,750 168.7,750 169,750 169.3,750 169.6,750 169.9,750 170.2,750 170.5,749.9 170.8,749.9 171.1,749.9 171.4,749.9 171.7,749.9 172,749.9 172.3,749.9 172.6,749.8 172.9,749.8 173.2,749.8 173.5,749.8 173.8,749.8 174.1,749.7 174.3,749.7 174.6,749.7 174.9,749.6 175.2,749.6 175.5,749.6 175.8,749.5 176.1,749.5 176.4,749.4 176.7,749.4 177,749.3 177.3,749.2 177.6,749.2 177.9,749.1 178.2,748.9 178.5,748.8 178.8,748.6 179.1,748.4 179.4,748.1 179.7,747.7 180,747.2 180.3,746.5 180.6,745.6 180.9,744.5 181.2,743.2 181.5,741.7 181.8,739.9 182.1,738 182.4,735.9 182.7,733.7 183,731.6 183.3,729.7 183.6,728.2 183.9,727 184.2,726.3 184.5,725.8 184.8,725.4 185.1,724.9 185.4,724.1 185.7,723 186,721.5 186.3,719.6 186.6,717.5 186.9,715.3 187.2,713.4 187.5,712.1 187.7,711.6 188,712.2 188.3,713.8 188.6,716.3 188.9,719.4 189.2,722.9 189.5,726.6 189.8,730.1 190.1,733.4 190.4,736.4 190.7,739 191,741.2 191.3,743 191.6,744.4 191.9,745.5 192.2,746.4 192.5,747.1 192.8,747.6 193.1,748 193.4,748.3 193.7,748.5 194,748.7 194.3,748.8 194.6,748.9 194.9,749 195.2,749.1 195.5,749.2 195.8,749.3 196.1,749.3 196.4,749.4 196.7,749.5 197,749.5 197.3,749.5 197.6,749.6 197.9,749.6 198.2,749.7 198.5,749.7 198.8,749.7 199.1,749.7 199.4,749.8 199.7,749.8 200,749.8 200.3,749.8 200.6,749.8 200.9,749.9 201.2,749.9 201.4,749.9 201.7,749.9 202,749.9 202.3,749.9 202.6,750 202.9,750 203.2,750 203.5,750 203.8,750 204.1,750 204.4,750 204.7,750 205,750 205.3,750 205.6,750 205.9,750 206.2,750.1 206.5,750.1 206.8,750.1 207.1,750.1 207.4,750.1 207.7,750.1 208,750.1 208.3,750.1 208.6,750.1 208.9,750.1 209.2,750.1 209.5,750.1 209.8,750.1 210.1,750.1 210.4,750.1 210.7,750.1 211,750.1 211.3,750.1 211.6,750.1 211.9,750.1 212.2,750.1 212.5,750.1 212.8,750.1 213.1,750.1 213.4,750.1 213.7,750.1 214,750.1 214.3,750.1 214.6,750.1 214.8,750 215.1,750 215.4,750 215.7,750 216,750 216.3,749.9 216.6,749.9 216.9,749.9 217.2,749.8 217.5,749.8 217.8,749.7 218.1,749.7 218.4,749.6 218.7,749.6 219,749.5 219.3,749.5 219.6,749.4 219.9,749.3 220.2,749.3 220.5,749.3 220.8,749.2 221.1,749.2 221.4,749.2 221.7,749.2 222,749.2 222.3,749.2 222.6,749.2 222.9,749.3 223.2,749.3 223.5,749.4 223.8,749.4 224.1,749.5 224.4,749.5 224.7,749.6 225,749.6 225.3,749.7 225.6,749.7 225.9,749.8 226.2,749.8 226.5,749.9 226.8,749.9 227.1,750 227.4,750 227.7,750 228,750 228.3,750.1 228.5,750.1 228.8,750.1 229.1,750.1 229.4,750.1 229.7,750.1 230,750.1 230.3,750.1 230.6,750.1 230.9,750.1 231.2,750.2 231.5,750.2 231.8,750.2 232.1,750.2 232.4,750.2 232.7,750.2 233,750.2 233.3,750.2 233.6,750.2 233.9,750.2 234.2,750.2 234.5,750.2 234.8,750.2 235.1,750.1 235.4,750.1 235.7,750.1 236,750.1 236.3,750.1 236.6,750.1 236.9,750.1 237.2,750.1 237.5,750.1 237.8,750.1 238.1,750.1 238.4,750.1 238.7,750.1 239,750.1 239.3,750.1 239.6,750 239.9,750 240.2,750 240.5,750 240.8,749.9 241.1,749.9 241.4,749.8 241.7,749.8 241.9,749.7 242.2,749.5 242.5,749.4 242.8,749.2 243.1,748.9 243.4,748.7 243.7,748.3 244,748 244.3,747.6 244.6,747.1 244.9,746.7 245.2,746.2 245.5,745.8 245.8,745.4 246.1,745.1 246.4,744.9 246.7,744.9 247,745 247.3,745.2 247.6,745.5 247.9,745.9 248.2,746.3 248.5,746.8 248.8,747.2 249.1,747.6 249.4,748 249.7,748.4 250,748.7 250.3,749 250.6,749.2 250.9,749.4 251.2,749.6 251.5,749.7 251.8,749.8 252.1,749.8 252.4,749.9 252.7,749.9 253,750 253.3,750 253.6,750 253.9,750 254.2,750 254.5,750.1 254.8,750.1 255.1,750.1 255.4,750.1 255.6,750.1 255.9,750.1 256.2,750.1 256.5,750.1 256.8,750.1 257.1,750.1 257.4,750.1 257.7,750.1 258,750.1 258.3,750.1 258.6,750.1 258.9,750.1 259.2,750.1 259.5,750.1 259.8,750.1 260.1,750.1 260.4,750.1 260.7,750.1 261,750.1 261.3,750.1 261.6,750.1 261.9,750.1 262.2,750.1 262.5,750.1 262.8,750.1 263.1,750.1 263.4,750 263.7,750 264,750 264.3,750 264.6,750 264.9,750 265.2,750 265.5,749.9 265.8,749.9 266.1,749.9 266.4,749.9 266.7,749.8 267,749.8 267.3,749.7 267.6,749.7 267.9,749.6 268.2,749.5 268.5,749.4 268.8,749.2 269,748.9 269.3,748.6 269.6,748.1 269.9,747.5 270.2,746.7 270.5,745.8 270.8,744.6 271.1,743.2 271.4,741.7 271.7,740 272,738.4 272.3,736.9 272.6,735.6 272.9,734.8 273.2,734.5 273.5,734.9 273.8,735.8 274.1,737.1 274.4,738.7 274.7,740.4 275,742 275.3,743.5 275.6,744.8 275.9,746 276.2,746.9 276.5,747.7 276.8,748.2 277.1,748.7 277.4,749 277.7,749.2 278,749.4 278.3,749.5 278.6,749.6 278.9,749.7 279.2,749.8 279.5,749.8 279.8,749.8 280.1,749.9 280.4,749.9 280.7,749.9 281,750 281.3,750 281.6,750 281.9,750 282.2,750 282.4,750 282.7,750.1 283,750.1 283.3,750.1 283.6,750.1 283.9,750.1 284.2,750.1 284.5,750.1 284.8,750.1 285.1,750.1 285.4,750.1 285.7,750.1 286,750.1 286.3,750.2 286.6,750.2 286.9,750.2 287.2,750.2 287.5,750.2 287.8,750.2 288.1,750.2 288.4,750.2 288.7,750.2 289,750.2 289.3,750.2 289.6,750.2 289.9,750.2 290.2,750.2 290.5,750.2 290.8,750.2 291.1,750.2 291.4,750.2 291.7,750.2 292,750.2 292.3,750.2 292.6,750.2 292.9,750.2 293.2,750.2 293.5,750.2 293.8,750.2 294.1,750.2 294.4,750.2 294.7,750.2 295,750.2 295.3,750.2 295.6,750.2 295.9,750.2 296.1,750.2 296.4,750.2 296.7,750.2 297,750.2 297.3,750.2 297.6,750.2 297.9,750.2 298.2,750.2 298.5,750.2 298.8,750.2 299.1,750.2 299.4,750.1 299.7,750.1 300,750.1 300.3,750.1 300.6,750.1 300.9,750.1 301.2,750 301.5,750 301.8,750 302.1,749.9 302.4,749.9 302.7,749.9 303,749.8 303.3,749.8 303.6,749.7 303.9,749.7 304.2,749.6 304.5,749.6 304.8,749.5 305.1,749.5 305.4,749.5 305.7,749.4 306,749.4 306.3,749.4 306.6,749.4 306.9,749.4 307.2,749.4 307.5,749.4 307.8,749.5 308.1,749.5 308.4,749.6 308.7,749.6 309,749.6 309.3,749.7 309.5,749.7 309.8,749.8 310.1,749.8 310.4,749.9 310.7,749.9 311,749.9 311.3,750 311.6,750 311.9,750 312.2,750.1 312.5,750.1 312.8,750.1 313.1,750.1 313.4,750.1 313.7,750.1 314,750.2 314.3,750.2 314.6,750.2 314.9,750.2 315.2,750.2 315.5,750.2 315.8,750.2 316.1,750.2 316.4,750.2 316.7,750.2 317,750.2 317.3,750.2 317.6,750.2 317.9,750.2 318.2,750.2 318.5,750.2 318.8,750.2 319.1,750.2 319.4,750.2 319.7,750.2 320,750.2 320.3,750.2 320.6,750.2 320.9,750.2 321.2,750.2 321.5,750.2 321.8,750.2 322.1,750.2 322.4,750.2 322.7,750.2 323,750.2 323.2,750.2 323.5,750.1 323.8,750.1 324.1,750.1 324.4,750.1 324.7,750.1 325,750.1 325.3,750.1 325.6,750.1 325.9,750.1 326.2,750.1 326.5,750 326.8,750 327.1,750 327.4,750 327.7,749.9 328,749.9 328.3,749.8 328.6,749.8 328.9,749.7 329.2,749.5 329.5,749.4 329.8,749.2 330.1,749 330.4,748.8 330.7,748.5 331,748.2 331.3,747.9 331.6,747.5 331.9,747.1 332.2,746.6 332.5,746.1 332.8,745.7 333.1,745.2 333.4,744.8 333.7,744.5 334,744.2 334.3,744 334.6,744 334.9,744.1 335.2,744.3 335.5,744.5 335.8,744.9 336.1,745.3 336.4,745.8 336.6,746.2 336.9,746.7 337.2,747.1 337.5,747.6 337.8,747.9 338.1,748.3 338.4,748.6 338.7,748.9 339,749.1 339.3,749.3 339.6,749.4 339.9,749.6 340.2,749.7 340.5,749.8 340.8,749.8 341.1,749.9 341.4,749.9 341.7,750 342,750 342.3,750 342.6,750.1 342.9,750.1 343.2,750.1 343.5,750.1 343.8,750.1 344.1,750.1 344.4,750.1 344.7,750.1 345,750.1 345.3,750.2 345.6,750.2 345.9,750.2 346.2,750.2 346.5,750.2 346.8,750.2 347.1,750.2 347.4,750.2 347.7,750.2 348,750.2 348.3,750.2 348.6,750.2 348.9,750.2 349.2,750.2 349.5,750.2 349.8,750.2 350.1,750.2 350.3,750.2 350.6,750.2 350.9,750.2 351.2,750.2 351.5,750.2 351.8,750.2 352.1,750.2 352.4,750.2 352.7,750.2 353,750.2 353.3,750.2 353.6,750.2 353.9,750.2 354.2,750.2 354.5,750.3 354.8,750.3 355.1,750.3 355.4,750.3 355.7,750.3 356,750.3 356.3,750.3 356.6,750.3 356.9,750.3" fill="none" stroke="#3c3c3c" stroke-width="1.2" stroke-linejoin="round"/>
<polyline points="59.1,761.3 59.4,761.2 59.7,761.1 60,761.2 60.3,761.7 60.6,761.2 60.9,761.1 61.2,761.5 61.5,761.1 61.8,761.3 62.1,761.6 62.4,761.6 62.7,761.4 63,761.1 63.3,761.5 63.6,761.5 63.9,761.1 64.2,761.7 64.5,761.5 64.8,761.3 65.1,761.2 65.4,761.1 65.7,761.6 65.9,761.5 66.2,761.2 66.5,761.3 66.8,761.2 67.1,761.4 67.4,761.2 67.7,761.6 68,761.5 68.3,761.4 68.6,761.5 68.9,761.4 69.2,761.4 69.5,761.1 69.8,761.4 70.1,761.4 70.4,761.2 70.7,761.7 71,761.5 71.3,761.1 71.6,761.4 71.9,761.4 72.2,761.5 72.5,761.2 72.8,761.7 73.1,761.5 73.4,761.6 73.7,761.5 74,761.4 74.3,761.5 74.6,761.3 74.9,761.5 75.2,761.4 75.5,761.3 75.8,761.7 76.1,761.5 76.4,761.5 76.7,761.3 77,761.3 77.3,761.5 77.6,761.5 77.9,761.3 78.2,761.1 78.5,761.4 78.8,761.5 79.1,761.7 79.4,761.1 79.6,761.2 79.9,761.7 80.2,761.3 80.5,761.2 80.8,761.1 81.1,761.6 81.4,761.1 81.7,761.7 82,761.7 82.3,761.7 82.6,761.4 82.9,761.5 83.2,761.7 83.5,761.7 83.8,761.6 84.1,761.7 84.4,761.3 84.7,761.2 85,761.3 85.3,761.6 85.6,761.4 85.9,761.2 86.2,761.2 86.5,761.2 86.8,761.3 87.1,761.2 87.4,761.1 87.7,761.7 88,761.3 88.3,761.1 88.6,761.7 88.9,761.2 89.2,761.6 89.5,761.3 89.8,761.3 90.1,761.2 90.4,761.1 90.7,761 91,761.3 91.3,761.4 91.6,761.2 91.9,760.9 92.2,761.5 92.5,761.6 92.8,761.3 93,761.4 93.3,761.9 93.6,761.4 93.9,761.8 94.2,761.7 94.5,761.4 94.8,761.2 95.1,761.3 95.4,761.7 95.7,761.4 96,761.3 96.3,761.4 96.6,761.4 96.9,761.7 97.2,761.7 97.5,761.1 97.8,761.4 98.1,761.6 98.4,761.6 98.7,761.1 99,761.3 99.3,761.7 99.6,761.6 99.9,761.4 100.2,761.7 100.5,761.4 100.8,761.2 101.1,761.4 101.4,761.1 101.7,761.7 102,761.7 102.3,761.2 102.6,761.4 102.9,761.1 103.2,761.7 103.5,761.7 103.8,761.4 104.1,761.3 104.4,761.7 104.7,761.5 105,761.7 105.3,761.5 105.6,761.2 105.9,761.3 106.2,761.3 106.5,761.5 106.7,761.4 107,761.4 107.3,761.6 107.6,761.1 107.9,761.1 108.2,761.1 108.5,761.1 108.8,761.2 109.1,761.5 109.4,761.7 109.7,761.5 110,761.2 110.3,761.7 110.6,761.5 110.9,761.7 111.2,761.2 111.5,761.1 111.8,761.3 112.1,761.2 112.4,761.2 112.7,761.2 113,761.1 113.3,761.4 113.6,761.7 113.9,761.7 114.2,761.6 114.5,761.7 114.8,761.4 115.1,761.7 115.4,761.7 115.7,761.6 116,761.2 116.3,761.5 116.6,761.1 116.9,761.2 117.2,761.6 117.5,761.3 117.8,761.1 118.1,761.4 118.4,761.6 118.7,761.6 119,761.4 119.3,761.4 119.6,761.1 119.9,761.6 120.1,761.1 120.4,761.6 120.7,761.5 121,761.3 121.3,761.4 121.6,761.3 121.9,761.3 122.2,761.4 122.5,761.4 122.8,761.5 123.1,761.5 123.4,761 123.7,761.2 124,761.2 124.3,761.5 124.6,761.4 124.9,761.2 125.2,761.4 125.5,761.5 125.8,761 126.1,761.6 126.4,761.6 126.7,761.3 127,761.2 127.3,761.4 127.6,760.7 127.9,760.6 128.2,760.6 128.5,759.5 128.8,758.8 129.1,758.5 129.4,757.4 129.7,757.1 130,756.7 130.3,757.3 130.6,758.5 130.9,760.5 131.2,763 131.5,764.5 131.8,765.3 132.1,765.3 132.4,765.1 132.7,764.5 133,763.8 133.3,762.8 133.5,762.6 133.8,762.4 134.1,762.1 134.4,761.5 134.7,761.8 135,761.5 135.3,761.2 135.6,761.3 135.9,761.7 136.2,761.2 136.5,761.2 136.8,761.5 137.1,761.6 137.4,761.6 137.7,761.1 138,761.3 138.3,761.4 138.6,761.5 138.9,761.7 139.2,761.1 139.5,761.2 139.8,761.5 140.1,761.2 140.4,761.7 140.7,761.2 141,761.2 141.3,761.5 141.6,761.1 141.9,761.7 142.2,761.5 142.5,761 142.8,761 143.1,761.6 143.4,761 143.7,761.1 144,760.9 144.3,760.8 144.6,760.7 144.9,760.6 145.2,761.2 145.5,760.7 145.8,761 146.1,760.4 146.4,760.8 146.7,760.6 147,760.5 147.2,761 147.5,761.3 147.8,761.3 148.1,761.5 148.4,762.1 148.7,761.6 149,761.6 149.3,761.7 149.6,762.3 149.9,762 150.2,762 150.5,761.6 150.8,761.7 151.1,762 151.4,761.5 151.7,761.4 152,761.2 152.3,761.6 152.6,761.5 152.9,761.3 153.2,761.4 153.5,761.7 153.8,761.6 154.1,761.4 154.4,761.2 154.7,761.3 155,761.7 155.3,761.3 155.6,761.3 155.9,761.4 156.2,761.5 156.5,761.4 156.8,761.4 157.1,761.2 157.4,761.1 157.7,761.5 158,761.4 158.3,761.3 158.6,761.1 158.9,761.7 159.2,761.3 159.5,761.7 159.8,761.3 160.1,761.6 160.4,761.5 160.6,761.3 160.9,761.3 161.2,761.4 161.5,761.1 161.8,761.1 162.1,761.7 162.4,761.4 162.7,761.3 163,761.1 163.3,761.6 163.6,761.6 163.9,761.5 164.2,761.5 164.5,761.4 164.8,761.5 165.1,761.2 165.4,761.7 165.7,761.5 166,761.1 166.3,761.3 166.6,761.1 166.9,761.5 167.2,761.7 167.5,761.2 167.8,761.5 168.1,761.5 168.4,761.2 168.7,761.6 169,761.5 169.3,761.2 169.6,761.6 169.9,761 170.2,761.6 170.5,761.3 170.8,761.3 171.1,761.4 171.4,761.3 171.7,761.5 172,761.5 172.3,761.1 172.6,761 172.9,761.6 173.2,761.2 173.5,761.3 173.8,761.1 174.1,761.1 174.3,761.2 174.6,761.1 174.9,761.6 175.2,761.1 175.5,761.6 175.8,761.1 176.1,761.1 176.4,761.5 176.7,761 177,761.1 177.3,761.6 177.6,760.9 177.9,761 178.2,761.5 178.5,761.3 178.8,761.3 179.1,761.1 179.4,761 179.7,761 180,760.4 180.3,760.2 180.6,759.5 180.9,759.3 181.2,759.4 181.5,759 181.8,758.3 182.1,758.3 182.4,758.2 182.7,758.2 183,758.4 183.3,759.1 183.6,759.9 183.9,760.3 184.2,760.7 184.5,760.1 184.8,760.2 185.1,759.9 185.4,759.3 185.7,758.5 186,758.2 186.3,757.4 186.6,757.7 186.9,758.1 187.2,758.8 187.5,760.4 187.7,761.7 188,763.1 188.3,764 188.6,764.9 188.9,765.3 189.2,765.7 189.5,765.8 189.8,765.5 190.1,764.7 190.4,764.6 190.7,763.7 191,763.6 191.3,763.3 191.6,762.9 191.9,762 192.2,761.8 192.5,761.7 192.8,761.5 193.1,761.9 193.4,761.6 193.7,761.2 194,761.6 194.3,761.8 194.6,761.2 194.9,761.5 195.2,761.3 195.5,761.6 195.8,761.2 196.1,761.5 196.4,761.3 196.7,761.5 197,761.6 197.3,761.5 197.6,761.4 197.9,761.1 198.2,761.3 198.5,761.4 198.8,761.6 199.1,761.2 199.4,761.1 199.7,761.6 200,761.3 200.3,761.6 200.6,761.1 200.9,761.4 201.2,761.2 201.4,761.5 201.7,761.7 202,761.5 202.3,761.3 202.6,761.6 202.9,761.3 203.2,761.4 203.5,761.5 203.8,761.3 204.1,761.4 204.4,761.3 204.7,761.2 205,761.3 205.3,761.2 205.6,761.5 205.9,761.7 206.2,761.4 206.5,761.6 206.8,761.4 207.1,761.1 207.4,761.2 207.7,761.2 208,761.4 208.3,761.5 208.6,761.3 208.9,761.6 209.2,761.3 209.5,761.4 209.8,761.3 210.1,761.2 210.4,761.3 210.7,761.7 211,761.3 211.3,761.1 211.6,761.4 211.9,761.2 212.2,761.7 212.5,761.4 212.8,761.6 213.1,761.2 213.4,761.3 213.7,761.1 214,761.2 214.3,761.6 214.6,761.3 214.8,761.2 215.1,761.2 215.4,761.4 215.7,761.6 216,761.3 216.3,761.3 216.6,761.2 216.9,761.1 217.2,761.4 217.5,761.1 217.8,761.3 218.1,761.6 218.4,761.5 218.7,761.5 219,761.2 219.3,761.4 219.6,761.5 219.9,761.2 220.2,761.4 220.5,761.2 220.8,761.6 221.1,761.5 221.4,761.1 221.7,761.5 222,761.5 222.3,761.2 222.6,761.5 222.9,761.8 223.2,761.2 223.5,761.5 223.8,761.6 224.1,761.4 224.4,761.4 224.7,761.7 225,761.2 225.3,761.8 225.6,761.7 225.9,761.6 226.2,761.5 226.5,761.3 226.8,761.1 227.1,761.6 227.4,761.6 227.7,761.6 228,761.1 228.3,761.2 228.5,761.4 228.8,761.7 229.1,761.4 229.4,761.5 229.7,761.3 230,761.7 230.3,761.2 230.6,761.6 230.9,761.3 231.2,761.6 231.5,761.6 231.8,761.6 232.1,761.2 232.4,761.5 232.7,761.4 233,761.1 233.3,761.4 233.6,761.2 233.9,761.2 234.2,761.2 234.5,761.7 234.8,761.4 235.1,761.1 235.4,761.5 235.7,761.7 236,761.3 236.3,761.1 236.6,761.4 236.9,761.3 237.2,761.7 237.5,761.1 237.8,761.6 238.1,761.1 238.4,761.2 238.7,761.3 239,761.5 239.3,761.1 239.6,761.6 239.9,761.1 240.2,761.1 240.5,761.2 240.8,761.6 241.1,761.5 241.4,761.6 241.7,761.3 241.9,761.4 242.2,761.1 242.5,760.8 242.8,761 243.1,761.3 243.4,761 243.7,760.6 244,761 244.3,760.6 244.6,761 244.9,760.5 245.2,760.4 245.5,760.9 245.8,760.9 246.1,761.2 246.4,761.4 246.7,761.3 247,761.8 247.3,762 247.6,761.6 247.9,761.7 248.2,761.9 248.5,762.1 248.8,762.1 249.1,761.8 249.4,761.5 249.7,762.1 250,761.5 250.3,761.6 250.6,761.7 250.9,761.8 251.2,761.7 251.5,761.8 251.8,761.5 252.1,761.3 252.4,761.7 252.7,761.6 253,761.2 253.3,761.5 253.6,761.5 253.9,761.1 254.2,761.4 254.5,761.3 254.8,761.7 255.1,761.7 255.4,761.5 255.6,761.2 255.9,761.2 256.2,761.2 256.5,761.2 256.8,761.5 257.1,761.7 257.4,761.2 257.7,761.7 258,761.6 258.3,761.7 258.6,761.1 258.9,761.4 259.2,761.2 259.5,761.3 259.8,761.2 260.1,761.5 260.4,761.7 260.7,761.4 261,761.5 261.3,761.4 261.6,761.4 261.9,761.7 262.2,761.3 262.5,761.2 262.8,761.3 263.1,761.4 263.4,761.2 263.7,761.7 264,761.6 264.3,761.2 264.6,761.4 264.9,761.5 265.2,761.2 265.5,761.7 265.8,761.7 266.1,761 266.4,761.2 266.7,761.4 267,761.1 267.3,761 267.6,761.4 267.9,761.1 268.2,761.5 268.5,760.8 268.8,761.2 269,761.2 269.3,761.1 269.6,760.6 269.9,760 270.2,759.9 270.5,759.5 270.8,759.6 271.1,758.8 271.4,758.6 271.7,758.7 272,759 272.3,759.4 272.6,759.8 272.9,760.8 273.2,761.7 273.5,762.4 273.8,763 274.1,763 274.4,763.4 274.7,763.1 275,763.1 275.3,763.1 275.6,762.4 275.9,762.7 276.2,762 276.5,761.9 276.8,761.8 277.1,761.4 277.4,761.4 277.7,761.5 278,761.8 278.3,761.8 278.6,761.7 278.9,761.4 279.2,761.5 279.5,761.2 279.8,761.4 280.1,761.4 280.4,761.5 280.7,761.6 281,761.2 281.3,761.1 281.6,761.2 281.9,761.5 282.2,761.4 282.4,761.5 282.7,761.6 283,761.3 283.3,761.6 283.6,761.6 283.9,761.1 284.2,761.1 284.5,761.6 284.8,761.3 285.1,761.6 285.4,761.1 285.7,761.7 286,761.3 286.3,761.7 286.6,761.5 286.9,761.3 287.2,761.3 287.5,761.7 287.8,761.3 288.1,761.5 288.4,761.7 288.7,761.1 289,761.3 289.3,761.6 289.6,761.4 289.9,761.2 290.2,761.3 290.5,761.2 290.8,761.6 291.1,761.2 291.4,761.3 291.7,761.6 292,761.1 292.3,761.3 292.6,761.4 292.9,761.6 293.2,761.3 293.5,761.5 293.8,761.2 294.1,761.4 294.4,761.5 294.7,761.6 295,761.2 295.3,761.6 295.6,761.6 295.9,761.3 296.1,761.5 296.4,761.6 296.7,761.3 297,761.3 297.3,761.3 297.6,761.2 297.9,761.6 298.2,761.2 298.5,761.7 298.8,761.2 299.1,761.1 299.4,761.3 299.7,761 300,761.7 300.3,761.4 300.6,761.2 300.9,761.6 301.2,761.2 301.5,761.2 301.8,761.6 302.1,761.4 302.4,761.3 302.7,761.5 303,761 303.3,761.5 303.6,761.1 303.9,761.6 304.2,761.6 304.5,761.2 304.8,761.5 305.1,761.4 305.4,761.5 305.7,761.2 306,761.5 306.3,761.5 306.6,761.4 306.9,761.3 307.2,761.1 307.5,761.3 307.8,761.4 308.1,761.7 308.4,761.2 308.7,761.7 309,761.6 309.3,761.4 309.5,761.2 309.8,761.6 310.1,761.4 310.4,761.2 310.7,761.5 311,761.3 311.3,761.1 311.6,761.1 311.9,761.2 312.2,761.4 312.5,761.4 312.8,761.2 313.1,761.8 313.4,761.2 313.7,761.4 314,761.3 314.3,761.1 314.6,761.7 314.9,761.3 315.2,761.2 315.5,761.1 315.8,761.6 316.1,761.2 316.4,761.4 316.7,761.4 317,761.4 317.3,761.6 317.6,761.7 317.9,761.4 318.2,761.5 318.5,761.4 318.8,761.3 319.1,761.5 319.4,761.5 319.7,761.5 320,761.2 320.3,761.7 320.6,761.4 320.9,761.5 321.2,761.4 321.5,761.7 321.8,761.2 322.1,761.5 322.4,761.1 322.7,761.4 323,761.1 323.2,761.5 323.5,761.2 323.8,761.6 324.1,761.4 324.4,761.6 324.7,761.3 325,761.1 325.3,761.4 325.6,761.2 325.9,761.2 326.2,761.1 326.5,761.6 326.8,761.1 327.1,761 327.4,761.6 327.7,761.3 328,761.2 328.3,761.1 328.6,761.3 328.9,761.2 329.2,761.5 329.5,761.4 329.8,761.1 330.1,760.9 330.4,761 330.7,760.9 331,761 331.3,760.8 331.6,760.8 331.9,760.9 332.2,760.9 332.5,761 332.8,760.4 333.1,760.6 333.4,760.8 333.7,761 334,760.9 334.3,761 334.6,761.2 334.9,761.5 335.2,761.7 335.5,761.9 335.8,762.1 336.1,761.8 336.4,762.2 336.6,761.9 336.9,762 337.2,762.2 337.5,761.7 337.8,762.1 338.1,761.7 338.4,761.6 338.7,761.6 339,761.9 339.3,761.7 339.6,761.4 339.9,761.7 340.2,761.2 340.5,761.6 340.8,761.3 341.1,761.3 341.4,761.2 341.7,761.1 342,761.4 342.3,761.2 342.6,761.5 342.9,761.4 343.2,761.5 343.5,761.6 343.8,761.1 344.1,761.1 344.4,761.2 344.7,761.3 345,761.5 345.3,761.3 345.6,761.5 345.9,761.5 346.2,761.7 346.5,761.4 346.8,761.3 347.1,761.4 347.4,761.6 347.7,761.7 348,761.5 348.3,761.4 348.6,761.2 348.9,761.6 349.2,761.7 349.5,761.2 349.8,761.7 350.1,761.2 350.3,761.6 350.6,761.1 350.9,761.5 351.2,761.7 351.5,761.6 351.8,761.3 352.1,761.5 352.4,761.5 352.7,761.6 353,761.2 353.3,761.4 353.6,761.4 353.9,761.3 354.2,761.1 354.5,761.1 354.8,761.7 355.1,761.7 355.4,761.4 355.7,761.3 356,761.3 356.3,761.4 356.6,761.6 356.9,761.1" fill="none" stroke="#a3a3a3" stroke-width="0.8" stroke-linejoin="round"/>
<line x1="92.5" y1="752.8" x2="92.5" y2="756.2" stroke="#e8707a" stroke-width="1"/>
<line x1="130.4" y1="752.8" x2="130.4" y2="756.2" stroke="#e8707a" stroke-width="1"/>
<line x1="146.4" y1="752.8" x2="146.4" y2="756.2" stroke="#e8707a" stroke-width="1"/>
<line x1="149.2" y1="752.8" x2="149.2" y2="756.2" stroke="#e8707a" stroke-width="1"/>
<line x1="181.3" y1="752.8" x2="181.3" y2="756.2" stroke="#e8707a" stroke-width="1"/>
<line x1="186.7" y1="752.8" x2="186.7" y2="756.2" stroke="#e8707a" stroke-width="1"/>
<line x1="189.2" y1="752.8" x2="189.2" y2="756.2" stroke="#e8707a" stroke-width="1"/>
<line x1="193.9" y1="752.8" x2="193.9" y2="756.2" stroke="#e8707a" stroke-width="1"/>
<line x1="196.1" y1="752.8" x2="196.1" y2="756.2" stroke="#e8707a" stroke-width="1"/>
<line x1="201.3" y1="752.8" x2="201.3" y2="756.2" stroke="#e8707a" stroke-width="1"/>
<line x1="214" y1="752.8" x2="214" y2="756.2" stroke="#e8707a" stroke-width="1"/>
<line x1="228.1" y1="752.8" x2="228.1" y2="756.2" stroke="#e8707a" stroke-width="1"/>
<line x1="230.3" y1="752.8" x2="230.3" y2="756.2" stroke="#e8707a" stroke-width="1"/>
<line x1="237" y1="752.8" x2="237" y2="756.2" stroke="#e8707a" stroke-width="1"/>
<line x1="251.9" y1="752.8" x2="251.9" y2="756.2" stroke="#e8707a" stroke-width="1"/>
<line x1="254.2" y1="752.8" x2="254.2" y2="756.2" stroke="#e8707a" stroke-width="1"/>
<line x1="258.6" y1="752.8" x2="258.6" y2="756.2" stroke="#e8707a" stroke-width="1"/>
<line x1="267.6" y1="752.8" x2="267.6" y2="756.2" stroke="#e8707a" stroke-width="1"/>
<line x1="272.8" y1="752.8" x2="272.8" y2="756.2" stroke="#e8707a" stroke-width="1"/>
<line x1="277.2" y1="752.8" x2="277.2" y2="756.2" stroke="#e8707a" stroke-width="1"/>
<line x1="279.8" y1="752.8" x2="279.8" y2="756.2" stroke="#e8707a" stroke-width="1"/>
<line x1="281.7" y1="752.8" x2="281.7" y2="756.2" stroke="#e8707a" stroke-width="1"/>
<line x1="292.9" y1="752.8" x2="292.9" y2="756.2" stroke="#e8707a" stroke-width="1"/>
<line x1="307" y1="752.8" x2="307" y2="756.2" stroke="#e8707a" stroke-width="1"/>
<line x1="310.7" y1="752.8" x2="310.7" y2="756.2" stroke="#e8707a" stroke-width="1"/>
<line x1="316.7" y1="752.8" x2="316.7" y2="756.2" stroke="#e8707a" stroke-width="1"/>
<line x1="319.7" y1="752.8" x2="319.7" y2="756.2" stroke="#e8707a" stroke-width="1"/>
<line x1="323.4" y1="752.8" x2="323.4" y2="756.2" stroke="#e8707a" stroke-width="1"/>
<line x1="325.6" y1="752.8" x2="325.6" y2="756.2" stroke="#e8707a" stroke-width="1"/>
<line x1="331.6" y1="752.8" x2="331.6" y2="756.2" stroke="#e8707a" stroke-width="1"/>
<line x1="335.3" y1="752.8" x2="335.3" y2="756.2" stroke="#e8707a" stroke-width="1"/>
<line x1="348.7" y1="752.8" x2="348.7" y2="756.2" stroke="#e8707a" stroke-width="1"/>
<polyline points="59.1,872.1 59.4,872.2 59.7,872 60,872.2 60.3,871.8 60.6,872.3 60.9,872.1 61.2,872.4 61.5,872 61.8,872.4 62.1,871.9 62.4,871.9 62.7,872.5 63,872.4 63.3,872.3 63.6,872 63.9,872 64.2,872.5 64.5,872.2 64.8,871.8 65.1,872.2 65.4,872.7 65.7,872.1 65.9,872.2 66.2,872.6 66.5,872.4 66.8,872.2 67.1,872.2 67.4,872.2 67.7,871.7 68,872.2 68.3,872 68.6,871.8 68.9,872.6 69.2,872.1 69.5,872 69.8,871.9 70.1,871.9 70.4,872.3 70.7,872.3 71,872.1 71.3,872.5 71.6,871.7 71.9,871.7 72.2,872 72.5,872.1 72.8,872.2 73.1,871.8 73.4,871.7 73.7,872 74,871.9 74.3,872.5 74.6,872.4 74.9,872.3 75.2,872.2 75.5,872.3 75.8,872.5 76.1,872.6 76.4,872.4 76.7,872.5 77,871.7 77.3,872.6 77.6,871.9 77.9,871.7 78.2,872.5 78.5,872.6 78.8,872.1 79.1,872.6 79.4,872.6 79.6,871.7 79.9,872.6 80.2,872.5 80.5,872.4 80.8,872.4 81.1,872.3 81.4,872.1 81.7,872.4 82,872.1 82.3,872.5 82.6,871.7 82.9,872 83.2,872.1 83.5,871.8 83.8,872.6 84.1,872.7 84.4,872.2 84.7,871.7 85,872.6 85.3,872.6 85.6,872.5 85.9,872.6 86.2,872.6 86.5,871.9 86.8,872.1 87.1,872 87.4,871.7 87.7,872.5 88,871.7 88.3,871.7 88.6,872.4 88.9,872.5 89.2,872.4 89.5,872.5 89.8,872 90.1,871.6 90.4,871.7 90.7,871.7 91,871.3 91.3,871.6 91.6,871 91.9,871.2 92.2,871.7 92.5,871.8 92.8,871.9 93,872.2 93.3,872.2 93.6,872 93.9,871.7 94.2,871.6 94.5,872.6 94.8,872.3 95.1,872.6 95.4,871.9 95.7,871.7 96,872 96.3,872.5 96.6,872.4 96.9,872.2 97.2,872.4 97.5,871.9 97.8,872.4 98.1,872 98.4,872.5 98.7,872.3 99,872.1 99.3,872.4 99.6,871.7 99.9,872.4 100.2,871.7 100.5,871.9 100.8,872.1 101.1,872 101.4,871.7 101.7,872.5 102,871.9 102.3,871.8 102.6,872.4 102.9,872.1 103.2,872.5 103.5,872.4 103.8,872.5 104.1,871.9 104.4,872.1 104.7,871.8 105,872.3 105.3,871.8 105.6,872.3 105.9,872 106.2,872.2 106.5,872.5 106.7,872.3 107,871.9 107.3,872.1 107.6,871.8 107.9,872.1 108.2,872.4 108.5,871.8 108.8,872.2 109.1,872.4 109.4,872.2 109.7,872.1 110,872 110.3,872.2 110.6,872.5 110.9,872 111.2,872.3 111.5,872 111.8,872.6 112.1,871.9 112.4,872.3 112.7,871.7 113,872.6 113.3,872.2 113.6,872 113.9,872.3 114.2,872.2 114.5,872.3 114.8,871.7 115.1,872 115.4,872.5 115.7,871.7 116,871.9 116.3,872 116.6,872 116.9,872.1 117.2,871.7 117.5,872 117.8,872.3 118.1,871.9 118.4,872.1 118.7,871.9 119,871.5 119.3,872 119.6,871.5 119.9,871.3 120.1,871.7 120.4,872 120.7,872.1 121,871.8 121.3,871.4 121.6,871.8 121.9,871 122.2,870.8 122.5,871.4 122.8,870.5 123.1,870.4 123.4,869.3 123.7,867.5 124,864.8 124.3,860 124.6,853.9 124.9,847.4 125.2,840.5 125.5,836.1 125.8,835.8 126.1,840.7 126.4,846.9 126.7,854.4 127,860.6 127.3,864.1 127.6,867.7 127.9,869.2 128.2,869.7 128.5,870.4 128.8,870.8 129.1,871 129.4,870.9 129.7,871.6 130,871.1 130.3,871.7 130.6,871.4 130.9,871.2 131.2,871.7 131.5,871.4 131.8,872 132.1,872.2 132.4,872.2 132.7,871.9 133,871.7 133.3,871.7 133.5,872.3 133.8,871.6 134.1,871.4 134.4,871.8 134.7,871.9 135,871.9 135.3,871.5 135.6,871.7 135.9,872.1 136.2,872 136.5,871.5 136.8,871.5 137.1,871.1 137.4,871.4 137.7,871 138,869.8 138.3,868.6 138.6,867 138.9,865.7 139.2,863.5 139.5,861.6 139.8,862.5 140.1,863 140.4,865.3 140.7,867.5 141,868.4 141.3,869.4 141.6,870 141.9,869.5 142.2,869.3 142.5,868.6 142.8,867.8 143.1,866.3 143.4,866.2 143.7,865.4 144,865.5 144.3,866.7 144.6,867.3 144.9,869 145.2,869.3 145.5,870.7 145.8,870.4 146.1,871 146.4,871.4 146.7,872.1 147,871.9 147.2,871.4 147.5,871.6 147.8,871.5 148.1,871.5 148.4,872.1 148.7,872.3 149,871.6 149.3,871.5 149.6,872.4 149.9,871.6 150.2,872 150.5,872.4 150.8,872.2 151.1,872 151.4,872 151.7,872.3 152,872.2 152.3,871.6 152.6,871.8 152.9,872.1 153.2,872 153.5,872.3 153.8,872 154.1,871.8 154.4,872.1 154.7,872.2 155,872.2 155.3,871.8 155.6,871.7 155.9,871.5 156.2,871.9 156.5,872 156.8,872.1 157.1,871.9 157.4,871.9 157.7,871.5 158,871.4 158.3,871.8 158.6,872 158.9,872.2 159.2,872.3 159.5,871.9 159.8,872.1 160.1,872.1 160.4,872 160.6,871.8 160.9,872.3 161.2,871.7 161.5,871.8 161.8,871.6 162.1,872.3 162.4,872 162.7,871.6 163,871.3 163.3,872.2 163.6,871.9 163.9,872 164.2,871.9 164.5,871.2 164.8,871.6 165.1,871.3 165.4,871.8 165.7,871.7 166,871.4 166.3,871 166.6,871.7 166.9,871 167.2,871.8 167.5,871.5 167.8,871 168.1,870.8 168.4,870.7 168.7,870.6 169,870.4 169.3,870.8 169.6,870.3 169.9,870.4 170.2,870.4 170.5,870.5 170.8,869.3 171.1,869.4 171.4,869.1 171.7,868.7 172,867.4 172.3,866.4 172.6,863.8 172.9,860 173.2,854.4 173.5,846.6 173.8,835.5 174.1,822.9 174.3,809 174.6,795.8 174.9,787.9 175.2,788.3 175.5,795.5 175.8,808.6 176.1,822.1 176.4,835.2 176.7,845.3 177,853.2 177.3,858.2 177.6,861.4 177.9,863.1 178.2,863.2 178.5,862.9 178.8,860.9 179.1,858 179.4,853.6 179.7,847.9 180,840.4 180.3,833 180.6,824.7 180.9,818.6 181.2,814.2 181.5,814.7 181.8,818.7 182.1,825.7 182.4,833.7 182.7,841.8 183,848.3 183.3,854.8 183.6,859.5 183.9,862.9 184.2,865 184.5,867.1 184.8,868.1 185.1,869.5 185.4,870 185.7,869.7 186,870.3 186.3,870.5 186.6,870.4 186.9,870.2 187.2,871 187.5,870.9 187.7,871.1 188,870.8 188.3,871 188.6,871.3 188.9,871.3 189.2,871.6 189.5,871.7 189.8,871.8 190.1,871.9 190.4,871.1 190.7,871.7 191,871.4 191.3,871.6 191.6,871.9 191.9,871.5 192.2,872.2 192.5,871.4 192.8,871.5 193.1,872 193.4,872.1 193.7,871.7 194,871.6 194.3,871.6 194.6,871.8 194.9,871.5 195.2,871.6 195.5,871.7 195.8,871.8 196.1,871.7 196.4,872 196.7,871.7 197,871.4 197.3,871.7 197.6,872.3 197.9,872.2 198.2,871.7 198.5,872.3 198.8,872 199.1,872.1 199.4,871.9 199.7,872.2 200,871.7 200.3,872 200.6,871.8 200.9,871.3 201.2,871.4 201.4,871.5 201.7,871.8 202,871.5 202.3,871.8 202.6,871.3 202.9,871.4 203.2,871 203.5,871.3 203.8,871.5 204.1,871.3 204.4,870.9 204.7,870.9 205,870.7 205.3,870.3 205.6,870.3 205.9,870 206.2,869.8 206.5,869.5 206.8,870.3 207.1,869.6 207.4,869.8 207.7,870.5 208,870.3 208.3,870.9 208.6,870.2 208.9,870.6 209.2,870.5 209.5,871.1 209.8,870.7 210.1,870.6 210.4,871.1 210.7,870.4 211,870.8 211.3,870.2 211.6,869.8 211.9,869.1 212.2,868.6 212.5,867.6 212.8,867.3 213.1,866.6 213.4,866.7 213.7,866 214,866.8 214.3,867.4 214.6,867.9 214.8,868.4 215.1,868.8 215.4,869.6 215.7,870.4 216,871 216.3,871.6 216.6,871.1 216.9,871.5 217.2,871.6 217.5,872 217.8,872 218.1,871.9 218.4,871.6 218.7,871.6 219,871.5 219.3,871.7 219.6,871.6 219.9,871.6 220.2,872.1 220.5,871.6 220.8,872.1 221.1,871.7 221.4,872.1 221.7,872.2 222,872 222.3,872.3 222.6,872.3 222.9,872 223.2,872.1 223.5,871.6 223.8,872 224.1,872.5 224.4,871.6 224.7,871.9 225,871.6 225.3,871.6 225.6,872.3 225.9,871.5 226.2,871.6 226.5,872 226.8,872 227.1,871.8 227.4,872.1 227.7,872 228,871.9 228.3,872 228.5,872 228.8,871.9 229.1,871.5 229.4,871.6 229.7,872.2 230,872.2 230.3,871.3 230.6,872 230.9,871.4 231.2,872 231.5,871.3 231.8,870.9 232.1,870.8 232.4,871.3 232.7,870.5 233,870.3 233.3,868.9 233.6,868.1 233.9,866.4 234.2,865.4 234.5,863.1 234.8,861.1 235.1,859.6 235.4,858.7 235.7,858.1 236,858.4 236.3,859.4 236.6,860.9 236.9,863.7 237.2,865.1 237.5,867.2 237.8,868.3 238.1,868.8 238.4,870.2 238.7,870.2 239,871.3 239.3,871.6 239.6,871.6 239.9,871.6 240.2,871.9 240.5,871.9 240.8,871.7 241.1,871.4 241.4,872 241.7,871.3 241.9,871.4 242.2,871.2 242.5,872 242.8,871.5 243.1,871.5 243.4,871.5 243.7,871.3 244,870.8 244.3,870.4 244.6,870.3 244.9,869.6 245.2,868.9 245.5,867.9 245.8,868 246.1,866.5 246.4,866.7 246.7,866.3 247,865.8 247.3,866.1 247.6,867.2 247.9,867.4 248.2,868.4 248.5,869.3 248.8,869.6 249.1,869.9 249.4,870.8 249.7,871.3 250,871.8 250.3,871.1 250.6,872 250.9,871.9 251.2,871.9 251.5,872 251.8,871.8 252.1,872.1 252.4,871.6 252.7,871.6 253,871.6 253.3,871.7 253.6,871.8 253.9,871.9 254.2,871.9 254.5,871.6 254.8,871.9 255.1,872.2 255.4,872.4 255.6,872.3 255.9,871.6 256.2,872.1 256.5,871.4 256.8,872 257.1,872.1 257.4,871.5 257.7,871.5 258,871.5 258.3,871.9 258.6,871.3 258.9,871.5 259.2,871.6 259.5,870.9 259.8,870.8 260.1,871.1 260.4,870.3 260.7,869.9 261,869.2 261.3,867.9 261.6,865 261.9,860.2 262.2,853.2 262.5,845.1 262.8,838.7 263.1,835.9 263.4,838.3 263.7,845.4 264,853.7 264.3,860.6 264.6,865.3 264.9,867.6 265.2,869.8 265.5,870.3 265.8,870.7 266.1,870.9 266.4,870.9 266.7,871 267,871.2 267.3,871.2 267.6,871.2 267.9,872 268.2,871.6 268.5,871.9 268.8,872.1 269,871.8 269.3,871.7 269.6,872.2 269.9,871.7 270.2,871.7 270.5,872.2 270.8,872.3 271.1,871.9 271.4,872 271.7,872.4 272,872 272.3,871.6 272.6,871.6 272.9,871.8 273.2,872 273.5,871.7 273.8,871.8 274.1,871.6 274.4,871.7 274.7,871.6 275,872.4 275.3,871.8 275.6,872.2 275.9,872 276.2,871.9 276.5,872.5 276.8,872.3 277.1,871.9 277.4,872.6 277.7,872.3 278,872.3 278.3,872.4 278.6,871.7 278.9,871.6 279.2,871.7 279.5,871.9 279.8,872.4 280.1,872.3 280.4,872.3 280.7,872.5 281,871.8 281.3,872.6 281.6,872.6 281.9,871.6 282.2,872 282.4,871.9 282.7,871.9 283,871.6 283.3,872.5 283.6,871.8 283.9,872.2 284.2,872 284.5,872.6 284.8,872.2 285.1,872.3 285.4,872.2 285.7,872.4 286,872.1 286.3,871.7 286.6,872.2 286.9,872.3 287.2,871.7 287.5,872.3 287.8,871.8 288.1,872.4 288.4,872 288.7,872.1 289,872.2 289.3,872.2 289.6,872.2 289.9,872.4 290.2,872.4 290.5,872.6 290.8,871.6 291.1,872.3 291.4,872.1 291.7,872.5 292,872.3 292.3,871.6 292.6,872 292.9,871.9 293.2,872.1 293.5,872.2 293.8,872.1 294.1,872 294.4,872.2 294.7,871.5 295,871.2 295.3,871.2 295.6,870.7 295.9,870.6 296.1,870.7 296.4,870.1 296.7,870.6 297,870.4 297.3,870 297.6,869.6 297.9,869.8 298.2,870.6 298.5,870.4 298.8,871 299.1,871.1 299.4,870.8 299.7,871.2 300,871.1 300.3,871 300.6,871.6 300.9,871.6 301.2,871 301.5,870.5 301.8,870.3 302.1,870.1 302.4,869.7 302.7,869.4 303,868.6 303.3,868.2 303.6,868.1 303.9,867.6 304.2,867.8 304.5,867.7 304.8,868.6 305.1,869.1 305.4,869.6 305.7,870.1 306,870.2 306.3,871.3 306.6,871 306.9,871.5 307.2,871.8 307.5,872.1 307.8,871.9 308.1,872 308.4,871.8 308.7,871.2 309,871.3 309.3,871.2 309.5,871.9 309.8,871.6 310.1,871.1 310.4,871.1 310.7,870.7 311,870.3 311.3,870.2 311.6,869.7 311.9,869.1 312.2,869.1 312.5,869.5 312.8,870.2 313.1,869.6 313.4,870.5 313.7,870.8 314,870.5 314.3,870.8 314.6,871.3 314.9,871.8 315.2,870.9 315.5,871.5 315.8,871.3 316.1,871.7 316.4,871.7 316.7,871.5 317,871.1 317.3,871.4 317.6,871.8 317.9,871.5 318.2,871.4 318.5,870.6 318.8,870.5 319.1,870 319.4,869.6 319.7,868.7 320,867.3 320.3,866 320.6,864.5 320.9,863.1 321.2,861.1 321.5,859.4 321.8,858 322.1,857.3 322.4,856.8 322.7,856.7 323,858.3 323.2,858.9 323.5,861.3 323.8,862.9 324.1,864.5 324.4,866.4 324.7,867.2 325,869 325.3,869.4 325.6,869.9 325.9,870.8 326.2,870.6 326.5,871.6 326.8,871.4 327.1,871.5 327.4,871.8 327.7,871.1 328,871.3 328.3,872 328.6,871.3 328.9,872.2 329.2,872.3 329.5,871.3 329.8,872.3 330.1,871.6 330.4,872.3 330.7,871.9 331,872.3 331.3,872 331.6,872.1 331.9,872.4 332.2,872.3 332.5,872.2 332.8,871.9 333.1,871.7 333.4,871.6 333.7,872.4 334,871.5 334.3,871.8 334.6,871.6 334.9,871.7 335.2,872.3 335.5,871.5 335.8,872.4 336.1,871.6 336.4,871.9 336.6,872.4 336.9,872.3 337.2,871.8 337.5,871.5 337.8,871.9 338.1,872.1 338.4,871.3 338.7,871.5 339,871.3 339.3,871.7 339.6,871.4 339.9,871.5 340.2,871.4 340.5,870.9 340.8,870.4 341.1,870.8 341.4,870.2 341.7,870.5 342,869.9 342.3,870.1 342.6,870.2 342.9,869.8 343.2,869.5 343.5,869.7 343.8,870 344.1,869.5 344.4,869.3 344.7,870.1 345,870.3 345.3,870.6 345.6,870 345.9,870.2 346.2,870.5 346.5,870.7 346.8,871.3 347.1,870.6 347.4,870.7 347.7,871 348,871 348.3,870.8 348.6,870.7 348.9,870.7 349.2,871.2 349.5,870.4 349.8,870.6 350.1,870 350.3,870 350.6,870.4 350.9,869.4 351.2,870 351.5,869.6 351.8,868.8 352.1,869.1 352.4,868.7 352.7,869.2 353,869.6 353.3,869.1 353.6,870 353.9,869.6 354.2,870 354.5,870.3 354.8,870.7 355.1,870.3 355.4,871.1 355.7,871.2 356,871.6 356.3,871.5 356.6,871.6 356.9,871.2" fill="none" stroke="#2e4f9c" stroke-width="2" stroke-linejoin="round"/>
<circle cx="123.4" cy="869.3" r="1.5" fill="#2e4f9c"/>
<circle cx="123.7" cy="867.5" r="1.5" fill="#2e4f9c"/>
<circle cx="124" cy="864.8" r="1.5" fill="#2e4f9c"/>
<circle cx="124.3" cy="860" r="1.5" fill="#2e4f9c"/>
<circle cx="124.6" cy="853.9" r="1.5" fill="#2e4f9c"/>
<circle cx="124.9" cy="847.4" r="1.5" fill="#2e4f9c"/>
<circle cx="125.2" cy="840.5" r="1.5" fill="#2e4f9c"/>
<circle cx="125.5" cy="836.1" r="1.5" fill="#2e4f9c"/>
<circle cx="125.8" cy="835.8" r="1.5" fill="#2e4f9c"/>
<circle cx="126.1" cy="840.7" r="1.5" fill="#2e4f9c"/>
<circle cx="126.4" cy="846.9" r="1.5" fill="#2e4f9c"/>
<circle cx="126.7" cy="854.4" r="1.5" fill="#2e4f9c"/>
<circle cx="127" cy="860.6" r="1.5" fill="#2e4f9c"/>
<circle cx="127.3" cy="864.1" r="1.5" fill="#2e4f9c"/>
<circle cx="127.6" cy="867.7" r="1.5" fill="#2e4f9c"/>
<circle cx="138" cy="869.8" r="1.5" fill="#2e4f9c"/>
<circle cx="138.3" cy="868.6" r="1.5" fill="#2e4f9c"/>
<circle cx="138.6" cy="867" r="1.5" fill="#2e4f9c"/>
<circle cx="138.9" cy="865.7" r="1.5" fill="#2e4f9c"/>
<circle cx="139.2" cy="863.5" r="1.5" fill="#2e4f9c"/>
<circle cx="139.5" cy="861.6" r="1.5" fill="#2e4f9c"/>
<circle cx="139.8" cy="862.5" r="1.5" fill="#2e4f9c"/>
<circle cx="140.1" cy="863" r="1.5" fill="#2e4f9c"/>
<circle cx="140.4" cy="865.3" r="1.5" fill="#2e4f9c"/>
<circle cx="140.7" cy="867.5" r="1.5" fill="#2e4f9c"/>
<circle cx="142.8" cy="867.8" r="1.5" fill="#2e4f9c"/>
<circle cx="143.7" cy="865.4" r="1.5" fill="#2e4f9c"/>
<circle cx="144" cy="865.5" r="1.5" fill="#2e4f9c"/>
<circle cx="144.6" cy="867.3" r="1.5" fill="#2e4f9c"/>
<circle cx="172" cy="867.4" r="1.5" fill="#2e4f9c"/>
<circle cx="172.3" cy="866.4" r="1.5" fill="#2e4f9c"/>
<circle cx="172.6" cy="863.8" r="1.5" fill="#2e4f9c"/>
<circle cx="172.9" cy="860" r="1.5" fill="#2e4f9c"/>
<circle cx="173.2" cy="854.4" r="1.5" fill="#2e4f9c"/>
<circle cx="173.5" cy="846.6" r="1.5" fill="#2e4f9c"/>
<circle cx="173.8" cy="835.5" r="1.5" fill="#2e4f9c"/>
<circle cx="174.1" cy="822.9" r="1.5" fill="#2e4f9c"/>
<circle cx="174.3" cy="809" r="1.5" fill="#2e4f9c"/>
<circle cx="174.6" cy="795.8" r="1.5" fill="#2e4f9c"/>
<circle cx="174.9" cy="787.9" r="1.5" fill="#2e4f9c"/>
<circle cx="175.2" cy="788.3" r="1.5" fill="#2e4f9c"/>
<circle cx="175.5" cy="795.5" r="1.5" fill="#2e4f9c"/>
<circle cx="175.8" cy="808.6" r="1.5" fill="#2e4f9c"/>
<circle cx="176.1" cy="822.1" r="1.5" fill="#2e4f9c"/>
<circle cx="176.4" cy="835.2" r="1.5" fill="#2e4f9c"/>
<circle cx="176.7" cy="845.3" r="1.5" fill="#2e4f9c"/>
<circle cx="177" cy="853.2" r="1.5" fill="#2e4f9c"/>
<circle cx="177.3" cy="858.2" r="1.5" fill="#2e4f9c"/>
<circle cx="177.6" cy="861.4" r="1.5" fill="#2e4f9c"/>
<circle cx="177.9" cy="863.1" r="1.5" fill="#2e4f9c"/>
<circle cx="178.2" cy="863.2" r="1.5" fill="#2e4f9c"/>
<circle cx="178.5" cy="862.9" r="1.5" fill="#2e4f9c"/>
<circle cx="178.8" cy="860.9" r="1.5" fill="#2e4f9c"/>
<circle cx="179.1" cy="858" r="1.5" fill="#2e4f9c"/>
<circle cx="179.4" cy="853.6" r="1.5" fill="#2e4f9c"/>
<circle cx="179.7" cy="847.9" r="1.5" fill="#2e4f9c"/>
<circle cx="180" cy="840.4" r="1.5" fill="#2e4f9c"/>
<circle cx="180.3" cy="833" r="1.5" fill="#2e4f9c"/>
<circle cx="180.6" cy="824.7" r="1.5" fill="#2e4f9c"/>
<circle cx="180.9" cy="818.6" r="1.5" fill="#2e4f9c"/>
<circle cx="181.2" cy="814.2" r="1.5" fill="#2e4f9c"/>
<circle cx="181.5" cy="814.7" r="1.5" fill="#2e4f9c"/>
<circle cx="181.8" cy="818.7" r="1.5" fill="#2e4f9c"/>
<circle cx="182.1" cy="825.7" r="1.5" fill="#2e4f9c"/>
<circle cx="182.4" cy="833.7" r="1.5" fill="#2e4f9c"/>
<circle cx="182.7" cy="841.8" r="1.5" fill="#2e4f9c"/>
<circle cx="183" cy="848.3" r="1.5" fill="#2e4f9c"/>
<circle cx="183.3" cy="854.8" r="1.5" fill="#2e4f9c"/>
<circle cx="183.6" cy="859.5" r="1.5" fill="#2e4f9c"/>
<circle cx="183.9" cy="862.9" r="1.5" fill="#2e4f9c"/>
<circle cx="184.2" cy="865" r="1.5" fill="#2e4f9c"/>
<circle cx="184.5" cy="867.1" r="1.5" fill="#2e4f9c"/>
<circle cx="184.8" cy="868.1" r="1.5" fill="#2e4f9c"/>
<circle cx="213.7" cy="866" r="1.5" fill="#2e4f9c"/>
<circle cx="233.3" cy="868.9" r="1.5" fill="#2e4f9c"/>
<circle cx="233.6" cy="868.1" r="1.5" fill="#2e4f9c"/>
<circle cx="233.9" cy="866.4" r="1.5" fill="#2e4f9c"/>
<circle cx="234.2" cy="865.4" r="1.5" fill="#2e4f9c"/>
<circle cx="234.5" cy="863.1" r="1.5" fill="#2e4f9c"/>
<circle cx="234.8" cy="861.1" r="1.5" fill="#2e4f9c"/>
<circle cx="235.1" cy="859.6" r="1.5" fill="#2e4f9c"/>
<circle cx="235.4" cy="858.7" r="1.5" fill="#2e4f9c"/>
<circle cx="235.7" cy="858.1" r="1.5" fill="#2e4f9c"/>
<circle cx="236" cy="858.4" r="1.5" fill="#2e4f9c"/>
<circle cx="236.3" cy="859.4" r="1.5" fill="#2e4f9c"/>
<circle cx="236.6" cy="860.9" r="1.5" fill="#2e4f9c"/>
<circle cx="236.9" cy="863.7" r="1.5" fill="#2e4f9c"/>
<circle cx="237.2" cy="865.1" r="1.5" fill="#2e4f9c"/>
<circle cx="237.5" cy="867.2" r="1.5" fill="#2e4f9c"/>
<circle cx="247" cy="865.8" r="1.5" fill="#2e4f9c"/>
<circle cx="247.3" cy="866.1" r="1.5" fill="#2e4f9c"/>
<circle cx="261" cy="869.2" r="1.5" fill="#2e4f9c"/>
<circle cx="261.3" cy="867.9" r="1.5" fill="#2e4f9c"/>
<circle cx="261.6" cy="865" r="1.5" fill="#2e4f9c"/>
<circle cx="261.9" cy="860.2" r="1.5" fill="#2e4f9c"/>
<circle cx="262.2" cy="853.2" r="1.5" fill="#2e4f9c"/>
<circle cx="262.5" cy="845.1" r="1.5" fill="#2e4f9c"/>
<circle cx="262.8" cy="838.7" r="1.5" fill="#2e4f9c"/>
<circle cx="263.1" cy="835.9" r="1.5" fill="#2e4f9c"/>
<circle cx="263.4" cy="838.3" r="1.5" fill="#2e4f9c"/>
<circle cx="263.7" cy="845.4" r="1.5" fill="#2e4f9c"/>
<circle cx="264" cy="853.7" r="1.5" fill="#2e4f9c"/>
<circle cx="264.3" cy="860.6" r="1.5" fill="#2e4f9c"/>
<circle cx="264.6" cy="865.3" r="1.5" fill="#2e4f9c"/>
<circle cx="264.9" cy="867.6" r="1.5" fill="#2e4f9c"/>
<circle cx="265.2" cy="869.8" r="1.5" fill="#2e4f9c"/>
<circle cx="319.7" cy="868.7" r="1.5" fill="#2e4f9c"/>
<circle cx="320" cy="867.3" r="1.5" fill="#2e4f9c"/>
<circle cx="320.3" cy="866" r="1.5" fill="#2e4f9c"/>
<circle cx="320.6" cy="864.5" r="1.5" fill="#2e4f9c"/>
<circle cx="320.9" cy="863.1" r="1.5" fill="#2e4f9c"/>
<circle cx="321.2" cy="861.1" r="1.5" fill="#2e4f9c"/>
<circle cx="321.5" cy="859.4" r="1.5" fill="#2e4f9c"/>
<circle cx="321.8" cy="858" r="1.5" fill="#2e4f9c"/>
<circle cx="322.1" cy="857.3" r="1.5" fill="#2e4f9c"/>
<circle cx="322.4" cy="856.8" r="1.5" fill="#2e4f9c"/>
<circle cx="322.7" cy="856.7" r="1.5" fill="#2e4f9c"/>
<circle cx="323" cy="858.3" r="1.5" fill="#2e4f9c"/>
<circle cx="323.2" cy="858.9" r="1.5" fill="#2e4f9c"/>
<circle cx="323.5" cy="861.3" r="1.5" fill="#2e4f9c"/>
<circle cx="323.8" cy="862.9" r="1.5" fill="#2e4f9c"/>
<circle cx="324.1" cy="864.5" r="1.5" fill="#2e4f9c"/>
<circle cx="324.4" cy="866.4" r="1.5" fill="#2e4f9c"/>
<circle cx="324.7" cy="867.2" r="1.5" fill="#2e4f9c"/>
<circle cx="325" cy="869" r="1.5" fill="#2e4f9c"/>
<polyline points="59.1,872.2 59.4,872.2 59.7,872.2 60,872.2 60.3,872.2 60.6,872.2 60.9,872.2 61.2,872.2 61.5,872.2 61.8,872.2 62.1,872.2 62.4,872.2 62.7,872.2 63,872.2 63.3,872.2 63.6,872.2 63.9,872.2 64.2,872.2 64.5,872.2 64.8,872.2 65.1,872.2 65.4,872.2 65.7,872.2 65.9,872.2 66.2,872.2 66.5,872.2 66.8,872.2 67.1,872.2 67.4,872.2 67.7,872.2 68,872.2 68.3,872.2 68.6,872.2 68.9,872.2 69.2,872.2 69.5,872.2 69.8,872.2 70.1,872.2 70.4,872.2 70.7,872.2 71,872.2 71.3,872.2 71.6,872.2 71.9,872.2 72.2,872.2 72.5,872.2 72.8,872.2 73.1,872.2 73.4,872.2 73.7,872.2 74,872.2 74.3,872.2 74.6,872.2 74.9,872.2 75.2,872.2 75.5,872.2 75.8,872.2 76.1,872.2 76.4,872.2 76.7,872.2 77,872.2 77.3,872.2 77.6,872.2 77.9,872.2 78.2,872.2 78.5,872.2 78.8,872.2 79.1,872.2 79.4,872.2 79.6,872.2 79.9,872.2 80.2,872.2 80.5,872.2 80.8,872.2 81.1,872.2 81.4,872.2 81.7,872.2 82,872.2 82.3,872.2 82.6,872.2 82.9,872.2 83.2,872.2 83.5,872.2 83.8,872.2 84.1,872.2 84.4,872.2 84.7,872.2 85,872.2 85.3,872.2 85.6,872.2 85.9,872.2 86.2,872.2 86.5,872.2 86.8,872.2 87.1,872.2 87.4,872.2 87.7,872.2 88,872.2 88.3,872.2 88.6,872.2 88.9,872.1 89.2,872.1 89.5,872.1 89.8,872.1 90.1,872.1 90.4,872 90.7,871.9 91,871.8 91.3,871.7 91.6,871.5 91.9,871.4 92.2,871.4 92.5,871.4 92.8,871.6 93,871.7 93.3,871.8 93.6,871.9 93.9,872 94.2,872.1 94.5,872.1 94.8,872.1 95.1,872.1 95.4,872.1 95.7,872.1 96,872.2 96.3,872.2 96.6,872.2 96.9,872.2 97.2,872.2 97.5,872.2 97.8,872.2 98.1,872.2 98.4,872.2 98.7,872.2 99,872.2 99.3,872.2 99.6,872.2 99.9,872.2 100.2,872.2 100.5,872.2 100.8,872.2 101.1,872.2 101.4,872.2 101.7,872.2 102,872.2 102.3,872.2 102.6,872.2 102.9,872.2 103.2,872.2 103.5,872.2 103.8,872.2 104.1,872.2 104.4,872.2 104.7,872.2 105,872.2 105.3,872.2 105.6,872.2 105.9,872.2 106.2,872.1 106.5,872.1 106.7,872.1 107,872.1 107.3,872.1 107.6,872.1 107.9,872.1 108.2,872.1 108.5,872.1 108.8,872.1 109.1,872.1 109.4,872.1 109.7,872.1 110,872.1 110.3,872.1 110.6,872.1 110.9,872.1 111.2,872.1 111.5,872.1 111.8,872.1 112.1,872.1 112.4,872.1 112.7,872.1 113,872.1 113.3,872.1 113.6,872.1 113.9,872.1 114.2,872.1 114.5,872.1 114.8,872.1 115.1,872.1 115.4,872.1 115.7,872.1 116,872.1 116.3,872 116.6,872 116.9,872 117.2,872 117.5,872 117.8,872 118.1,872 118.4,872 118.7,872 119,871.9 119.3,871.9 119.6,871.9 119.9,871.9 120.1,871.8 120.4,871.8 120.7,871.8 121,871.7 121.3,871.6 121.6,871.6 121.9,871.5 122.2,871.4 122.5,871.2 122.8,871.1 123.1,870.7 123.4,870.2 123.7,869.4 124,867.8 124.3,865.3 124.6,861.6 124.9,856.7 125.2,851.2 125.5,846 125.8,842.9 126.1,843.2 126.4,846.9 126.7,852.3 127,857.8 127.3,862.4 127.6,865.9 127.9,868.2 128.2,869.6 128.5,870.3 128.8,870.8 129.1,871.1 129.4,871.2 129.7,871.4 130,871.5 130.3,871.6 130.6,871.6 130.9,871.7 131.2,871.7 131.5,871.8 131.8,871.8 132.1,871.8 132.4,871.8 132.7,871.8 133,871.9 133.3,871.9 133.5,871.9 133.8,871.9 134.1,871.9 134.4,871.9 134.7,871.9 135,871.9 135.3,871.9 135.6,871.9 135.9,871.8 136.2,871.8 136.5,871.8 136.8,871.7 137.1,871.7 137.4,871.6 137.7,871.4 138,871 138.3,870.4 138.6,869.4 138.9,868.1 139.2,866.5 139.5,865 139.8,864 140.1,864.1 140.4,865.2 140.7,866.7 141,868.1 141.3,869.3 141.6,869.9 141.9,870.2 142.2,870 142.5,869.6 142.8,869 143.1,868.3 143.4,867.6 143.7,867.1 144,866.9 144.3,867.2 144.6,867.8 144.9,868.6 145.2,869.4 145.5,870.1 145.8,870.7 146.1,871.1 146.4,871.4 146.7,871.6 147,871.7 147.2,871.8 147.5,871.8 147.8,871.9 148.1,871.9 148.4,871.9 148.7,871.9 149,872 149.3,872 149.6,872 149.9,872 150.2,872 150.5,872 150.8,872 151.1,872 151.4,872 151.7,872 152,872 152.3,872 152.6,872 152.9,872 153.2,872 153.5,872 153.8,872 154.1,872 154.4,872 154.7,872 155,872 155.3,872 155.6,872 155.9,872 156.2,872 156.5,872 156.8,872 157.1,872 157.4,872 157.7,872 158,872 158.3,872 158.6,872 158.9,872 159.2,872 159.5,872 159.8,872 160.1,871.9 160.4,871.9 160.6,871.9 160.9,871.9 161.2,871.9 161.5,871.9 161.8,871.9 162.1,871.9 162.4,871.9 162.7,871.9 163,871.8 163.3,871.8 163.6,871.8 163.9,871.8 164.2,871.8 164.5,871.8 164.8,871.7 165.1,871.7 165.4,871.7 165.7,871.7 166,871.6 166.3,871.6 166.6,871.6 166.9,871.5 167.2,871.5 167.5,871.4 167.8,871.4 168.1,871.3 168.4,871.3 168.7,871.2 169,871.1 169.3,871 169.6,870.9 169.9,870.8 170.2,870.7 170.5,870.5 170.8,870.3 171.1,870.1 171.4,869.8 171.7,869.4 172,868.9 172.3,868.1 172.6,866.8 172.9,864.7 173.2,861.5 173.5,856.6 173.8,849.7 174.1,840.8 174.3,830.3 174.6,819.4 174.9,810 175.2,804.7 175.5,805.2 175.8,811.4 176.1,821.2 176.4,831.9 176.7,842 177,850.3 177.3,856.5 177.6,860.7 177.9,863.2 178.2,864.4 178.5,864.6 178.8,863.8 179.1,862.1 179.4,859.5 179.7,855.7 180,851 180.3,845.3 180.6,839.2 180.9,833.2 181.2,828.5 181.5,825.9 181.8,826.3 182.1,829.5 182.4,834.8 182.7,841 183,847.3 183.3,853 183.6,857.8 183.9,861.7 184.2,864.5 184.5,866.5 184.8,867.9 185.1,868.9 185.4,869.5 185.7,869.9 186,870.2 186.3,870.4 186.6,870.6 186.9,870.8 187.2,870.9 187.5,871 187.7,871.1 188,871.2 188.3,871.3 188.6,871.3 188.9,871.4 189.2,871.4 189.5,871.5 189.8,871.5 190.1,871.6 190.4,871.6 190.7,871.6 191,871.7 191.3,871.7 191.6,871.7 191.9,871.7 192.2,871.7 192.5,871.8 192.8,871.8 193.1,871.8 193.4,871.8 193.7,871.8 194,871.8 194.3,871.8 194.6,871.9 194.9,871.9 195.2,871.9 195.5,871.9 195.8,871.9 196.1,871.9 196.4,871.9 196.7,871.9 197,871.9 197.3,871.9 197.6,871.9 197.9,871.9 198.2,871.9 198.5,871.9 198.8,871.9 199.1,871.9 199.4,871.9 199.7,871.9 200,871.9 200.3,871.9 200.6,871.9 200.9,871.9 201.2,871.9 201.4,871.8 201.7,871.8 202,871.8 202.3,871.7 202.6,871.7 202.9,871.6 203.2,871.5 203.5,871.4 203.8,871.3 204.1,871.2 204.4,871.1 204.7,871 205,870.9 205.3,870.7 205.6,870.6 205.9,870.5 206.2,870.5 206.5,870.4 206.8,870.4 207.1,870.4 207.4,870.5 207.7,870.5 208,870.6 208.3,870.7 208.6,870.8 208.9,870.9 209.2,871 209.5,871.1 209.8,871.1 210.1,871.2 210.4,871.1 210.7,871.1 211,871 211.3,870.7 211.6,870.4 211.9,870 212.2,869.6 212.5,869.1 212.8,868.5 213.1,868 213.4,867.6 213.7,867.4 214,867.4 214.3,867.7 214.6,868.1 214.8,868.7 215.1,869.3 215.4,869.8 215.7,870.3 216,870.7 216.3,871.1 216.6,871.3 216.9,871.5 217.2,871.7 217.5,871.7 217.8,871.8 218.1,871.9 218.4,871.9 218.7,871.9 219,871.9 219.3,872 219.6,872 219.9,872 220.2,872 220.5,872 220.8,872 221.1,872 221.4,872 221.7,872 222,872 222.3,872 222.6,872 222.9,872 223.2,872 223.5,872 223.8,872 224.1,872 224.4,872 224.7,872 225,872 225.3,872 225.6,872 225.9,872 226.2,872 226.5,872 226.8,872 227.1,872 227.4,872 227.7,872 228,872 228.3,872 228.5,872 228.8,871.9 229.1,871.9 229.4,871.9 229.7,871.9 230,871.9 230.3,871.9 230.6,871.8 230.9,871.8 231.2,871.7 231.5,871.7 231.8,871.6 232.1,871.5 232.4,871.3 232.7,871.1 233,870.7 233.3,870.2 233.6,869.5 233.9,868.6 234.2,867.5 234.5,866.2 234.8,864.7 235.1,863.3 235.4,862 235.7,861.2 236,860.9 236.3,861.3 236.6,862.3 236.9,863.6 237.2,865 237.5,866.4 237.8,867.7 238.1,868.8 238.4,869.6 238.7,870.3 239,870.8 239.3,871.1 239.6,871.3 239.9,871.5 240.2,871.6 240.5,871.6 240.8,871.7 241.1,871.7 241.4,871.7 241.7,871.7 241.9,871.8 242.2,871.8 242.5,871.7 242.8,871.7 243.1,871.7 243.4,871.6 243.7,871.5 244,871.4 244.3,871.2 244.6,870.9 244.9,870.6 245.2,870.1 245.5,869.6 245.8,869 246.1,868.5 246.4,867.9 246.7,867.5 247,867.3 247.3,867.3 247.6,867.6 247.9,868 248.2,868.6 248.5,869.2 248.8,869.8 249.1,870.3 249.4,870.7 249.7,871 250,871.3 250.3,871.5 250.6,871.6 250.9,871.7 251.2,871.8 251.5,871.8 251.8,871.9 252.1,871.9 252.4,871.9 252.7,871.9 253,871.9 253.3,871.9 253.6,872 253.9,872 254.2,872 254.5,872 254.8,872 255.1,872 255.4,871.9 255.6,871.9 255.9,871.9 256.2,871.9 256.5,871.9 256.8,871.9 257.1,871.9 257.4,871.9 257.7,871.8 258,871.8 258.3,871.8 258.6,871.7 258.9,871.7 259.2,871.6 259.5,871.6 259.8,871.5 260.1,871.3 260.4,871.2 260.7,870.9 261,870.5 261.3,869.7 261.6,868.2 261.9,865.6 262.2,861.5 262.5,856 262.8,849.9 263.1,844.8 263.4,843 263.7,845.6 264,851.1 264.3,857.2 264.6,862.5 264.9,866.2 265.2,868.6 265.5,869.9 265.8,870.6 266.1,871 266.4,871.2 266.7,871.4 267,871.5 267.3,871.6 267.6,871.7 267.9,871.7 268.2,871.8 268.5,871.8 268.8,871.9 269,871.9 269.3,871.9 269.6,871.9 269.9,872 270.2,872 270.5,872 270.8,872 271.1,872 271.4,872 271.7,872 272,872 272.3,872 272.6,872.1 272.9,872.1 273.2,872.1 273.5,872.1 273.8,872.1 274.1,872.1 274.4,872.1 274.7,872.1 275,872.1 275.3,872.1 275.6,872.1 275.9,872.1 276.2,872.1 276.5,872.1 276.8,872.1 277.1,872.1 277.4,872.1 277.7,872.1 278,872.1 278.3,872.1 278.6,872.1 278.9,872.1 279.2,872.1 279.5,872.1 279.8,872.1 280.1,872.1 280.4,872.1 280.7,872.1 281,872.1 281.3,872.1 281.6,872.1 281.9,872.1 282.2,872.1 282.4,872.1 282.7,872.1 283,872.1 283.3,872.1 283.6,872.1 283.9,872.1 284.2,872.1 284.5,872.1 284.8,872.1 285.1,872.1 285.4,872.1 285.7,872.1 286,872.1 286.3,872.1 286.6,872.1 286.9,872.1 287.2,872.1 287.5,872.1 287.8,872.1 288.1,872.1 288.4,872.1 288.7,872.1 289,872.1 289.3,872.1 289.6,872.1 289.9,872.1 290.2,872.1 290.5,872.1 290.8,872.1 291.1,872.1 291.4,872.1 291.7,872.1 292,872.1 292.3,872.1 292.6,872.1 292.9,872 293.2,872 293.5,872 293.8,872 294.1,871.9 294.4,871.9 294.7,871.8 295,871.7 295.3,871.6 295.6,871.4 295.9,871.3 296.1,871.1 296.4,870.9 296.7,870.7 297,870.6 297.3,870.5 297.6,870.5 297.9,870.5 298.2,870.6 298.5,870.7 298.8,870.9 299.1,871.1 299.4,871.2 299.7,871.3 300,871.4 300.3,871.5 300.6,871.5 300.9,871.5 301.2,871.4 301.5,871.3 301.8,871.1 302.1,870.8 302.4,870.4 302.7,870 303,869.6 303.3,869.2 303.6,868.8 303.9,868.5 304.2,868.5 304.5,868.6 304.8,868.9 305.1,869.2 305.4,869.7 305.7,870.1 306,870.5 306.3,870.9 306.6,871.1 306.9,871.4 307.2,871.5 307.5,871.6 307.8,871.7 308.1,871.7 308.4,871.8 308.7,871.8 309,871.7 309.3,871.7 309.5,871.6 309.8,871.5 310.1,871.3 310.4,871.2 310.7,871 311,870.8 311.3,870.5 311.6,870.3 311.9,870.1 312.2,870 312.5,870 312.8,870 313.1,870.2 313.4,870.3 313.7,870.5 314,870.7 314.3,871 314.6,871.1 314.9,871.3 315.2,871.4 315.5,871.5 315.8,871.6 316.1,871.6 316.4,871.6 316.7,871.6 317,871.6 317.3,871.6 317.6,871.5 317.9,871.5 318.2,871.4 318.5,871.2 318.8,871 319.1,870.7 319.4,870.2 319.7,869.7 320,868.9 320.3,868 320.6,866.9 320.9,865.7 321.2,864.4 321.5,863 321.8,861.7 322.1,860.7 322.4,860 322.7,859.7 323,860.1 323.2,860.8 323.5,862 323.8,863.3 324.1,864.7 324.4,866 324.7,867.2 325,868.2 325.3,869.1 325.6,869.8 325.9,870.4 326.2,870.8 326.5,871.1 326.8,871.3 327.1,871.4 327.4,871.5 327.7,871.6 328,871.7 328.3,871.7 328.6,871.8 328.9,871.8 329.2,871.8 329.5,871.9 329.8,871.9 330.1,871.9 330.4,871.9 330.7,871.9 331,871.9 331.3,872 331.6,872 331.9,872 332.2,872 332.5,872 332.8,872 333.1,872 333.4,872 333.7,872 334,872 334.3,872 334.6,872 334.9,872 335.2,872 335.5,872 335.8,872 336.1,872 336.4,872 336.6,872 336.9,872 337.2,872 337.5,872 337.8,871.9 338.1,871.9 338.4,871.9 338.7,871.8 339,871.8 339.3,871.7 339.6,871.6 339.9,871.5 340.2,871.4 340.5,871.3 340.8,871.2 341.1,871.1 341.4,870.9 341.7,870.8 342,870.6 342.3,870.5 342.6,870.4 342.9,870.2 343.2,870.2 343.5,870.1 343.8,870.1 344.1,870.1 344.4,870.2 344.7,870.2 345,870.4 345.3,870.5 345.6,870.6 345.9,870.7 346.2,870.9 346.5,871 346.8,871.1 347.1,871.2 347.4,871.3 347.7,871.3 348,871.3 348.3,871.3 348.6,871.3 348.9,871.2 349.2,871.2 349.5,871.1 349.8,870.9 350.1,870.8 350.3,870.6 350.6,870.5 350.9,870.3 351.2,870.2 351.5,870 351.8,869.9 352.1,869.8 352.4,869.7 352.7,869.7 353,869.7 353.3,869.8 353.6,869.9 353.9,870.1 354.2,870.2 354.5,870.4 354.8,870.6 355.1,870.8 355.4,870.9 355.7,871.1 356,871.3 356.3,871.4 356.6,871.5 356.9,871.6" fill="none" stroke="#3c3c3c" stroke-width="1.2" stroke-linejoin="round"/>
<polyline points="59.1,890.5 59.4,890.2 59.7,890.1 60,890.1 60.3,890.5 60.6,890.5 60.9,890.4 61.2,890.5 61.5,890.6 61.8,890.2 62.1,890.1 62.4,890.5 62.7,890.5 63,890.1 63.3,890.5 63.6,890.2 63.9,890.5 64.2,890.6 64.5,890.4 64.8,890.1 65.1,890.4 65.4,890.2 65.7,890.3 65.9,890.5 66.2,890.5 66.5,890 66.8,890 67.1,890.1 67.4,890 67.7,890.1 68,890.4 68.3,890 68.6,890.2 68.9,890.3 69.2,890.2 69.5,890.2 69.8,890.6 70.1,890 70.4,890.3 70.7,890.1 71,890 71.3,890.2 71.6,890.2 71.9,890.4 72.2,890.6 72.5,890.5 72.8,890.5 73.1,890 73.4,890 73.7,890 74,890.3 74.3,890.5 74.6,890.6 74.9,890.3 75.2,890.5 75.5,890.3 75.8,890.2 76.1,890.1 76.4,890.4 76.7,890.1 77,890.4 77.3,890.6 77.6,890.4 77.9,890.3 78.2,890 78.5,890.3 78.8,890.5 79.1,890 79.4,890.2 79.6,890.5 79.9,890.4 80.2,890.1 80.5,890.1 80.8,890.1 81.1,890.4 81.4,890.5 81.7,890 82,890.2 82.3,890.2 82.6,890.4 82.9,890 83.2,890.4 83.5,890.5 83.8,890.6 84.1,890.5 84.4,890.6 84.7,890.5 85,890.4 85.3,890.2 85.6,890.2 85.9,890.3 86.2,890.1 86.5,890.2 86.8,890.6 87.1,890.5 87.4,890.1 87.7,890.6 88,890.2 88.3,890 88.6,890.5 88.9,890.5 89.2,890.5 89.5,890.3 89.8,890.3 90.1,889.9 90.4,890.5 90.7,890 91,890.1 91.3,890.3 91.6,890.4 91.9,889.9 92.2,890.4 92.5,890.5 92.8,890.6 93,890.5 93.3,890.7 93.6,890.4 93.9,890.2 94.2,890.2 94.5,890.2 94.8,890.4 95.1,890.6 95.4,890.5 95.7,890 96,890.5 96.3,890.2 96.6,890.6 96.9,890.5 97.2,890.4 97.5,890.2 97.8,890 98.1,890.2 98.4,890.2 98.7,890 99,890.1 99.3,890.2 99.6,890.4 99.9,890.5 100.2,890.2 100.5,890.4 100.8,890.6 101.1,890.4 101.4,890.3 101.7,890 102,890.3 102.3,890.6 102.6,890.1 102.9,890 103.2,890 103.5,890.3 103.8,890.4 104.1,890.5 104.4,890.5 104.7,890.5 105,890.4 105.3,890.1 105.6,890 105.9,890 106.2,890.1 106.5,890.6 106.7,890.6 107,890.4 107.3,890.4 107.6,890.1 107.9,890.1 108.2,890.1 108.5,890.6 108.8,890.1 109.1,890.2 109.4,890.6 109.7,890.3 110,890.1 110.3,890.3 110.6,890.2 110.9,890.4 111.2,890 111.5,890.1 111.8,890.6 112.1,890.6 112.4,890.5 112.7,890.4 113,890.1 113.3,890.3 113.6,890.1 113.9,890 114.2,890 114.5,890 114.8,890.1 115.1,890.3 115.4,890.3 115.7,890.1 116,890.4 116.3,890.2 116.6,890.4 116.9,890.5 117.2,890.5 117.5,890 117.8,890.1 118.1,890 118.4,890 118.7,890.1 119,890 119.3,890.4 119.6,890.2 119.9,890.5 120.1,890.1 120.4,890.4 120.7,890.3 121,890 121.3,890.1 121.6,890 121.9,890.1 122.2,890.2 122.5,890 122.8,889.8 123.1,890.1 123.4,889.4 123.7,889 124,887.3 124.3,886.6 124.6,885 124.9,884.6 125.2,885 125.5,887.1 125.8,890.3 126.1,893 126.4,894.6 126.7,894.7 127,893.7 127.3,892.5 127.6,891.9 127.9,890.9 128.2,891 128.5,890.5 128.8,890.5 129.1,890.3 129.4,890.4 129.7,890.4 130,890.3 130.3,890.4 130.6,890.1 130.9,890.3 131.2,890.3 131.5,890.1 131.8,890.3 132.1,890.3 132.4,890.1 132.7,890.6 133,890.1 133.3,890.3 133.5,890.3 133.8,890.5 134.1,890 134.4,890.2 134.7,890.5 135,890.3 135.3,890.5 135.6,890.3 135.9,890.2 136.2,890.4 136.5,890 136.8,890.5 137.1,890.1 137.4,890.1 137.7,890.2 138,889.9 138.3,889 138.6,888.8 138.9,888.8 139.2,888.6 139.5,889.2 139.8,890.3 140.1,891.4 140.4,891.4 140.7,891.6 141,890.9 141.3,891 141.6,890.2 141.9,890.1 142.2,889.4 142.5,889.7 142.8,889.5 143.1,889.4 143.4,889.9 143.7,890.2 144,890.4 144.3,890.7 144.6,890.8 144.9,890.8 145.2,891 145.5,890.9 145.8,890.5 146.1,890.6 146.4,890.2 146.7,890.6 147,890.6 147.2,890.6 147.5,890.5 147.8,890.6 148.1,890.6 148.4,890.6 148.7,890.1 149,890.3 149.3,890.2 149.6,890.1 149.9,890.5 150.2,890.4 150.5,890.6 150.8,890.1 151.1,890.3 151.4,890.5 151.7,890.5 152,890.2 152.3,890.5 152.6,890.5 152.9,890.2 153.2,890.5 153.5,890.4 153.8,890.6 154.1,890.6 154.4,890.3 154.7,890.1 155,890.1 155.3,890.3 155.6,890.5 155.9,890.3 156.2,890.3 156.5,890.2 156.8,890.2 157.1,890.3 157.4,890.4 157.7,890.3 158,890.2 158.3,890.3 158.6,890.3 158.9,890.6 159.2,890.5 159.5,890.2 159.8,890.6 160.1,890.3 160.4,890.4 160.6,890.3 160.9,890 161.2,889.9 161.5,890.1 161.8,890.2 162.1,890 162.4,890.4 162.7,890.5 163,890.3 163.3,890.4 163.6,890.3 163.9,890.2 164.2,890.4 164.5,890.2 164.8,890.4 165.1,890.2 165.4,890.4 165.7,890.3 166,890.3 166.3,890.1 166.6,890.2 166.9,890.5 167.2,890 167.5,890.4 167.8,890 168.1,890.5 168.4,890.1 168.7,890 169,889.9 169.3,890 169.6,890.3 169.9,890.2 170.2,890.2 170.5,890.2 170.8,890 171.1,890 171.4,890.2 171.7,889.7 172,889.6 172.3,888.7 172.6,887.9 172.9,886.5 173.2,885.4 173.5,883.4 173.8,881.1 174.1,879.1 174.3,878.8 174.6,880.8 174.9,884.6 175.2,890.3 175.5,895.2 175.8,898 176.1,898.7 176.4,897.8 176.7,896.5 177,894.4 177.3,892.8 177.6,891.9 177.9,890.6 178.2,890.2 178.5,889.5 178.8,888.6 179.1,887.3 179.4,886 179.7,885 180,884.2 180.3,884 180.6,883.9 180.9,884.9 181.2,887.1 181.5,890.1 181.8,892.6 182.1,894.2 182.4,894.7 182.7,895.2 183,894.7 183.3,893.6 183.6,893.3 183.9,891.9 184.2,892 184.5,890.9 184.8,891 185.1,890.6 185.4,890.2 185.7,890.7 186,890.2 186.3,890.2 186.6,890.2 186.9,890 187.2,890.4 187.5,890.1 187.7,890.2 188,890.2 188.3,890.5 188.6,890 188.9,890 189.2,890.6 189.5,890.6 189.8,890 190.1,890.5 190.4,890.2 190.7,890.2 191,890.2 191.3,890.4 191.6,890 191.9,890.4 192.2,890.3 192.5,890.4 192.8,890.6 193.1,890.2 193.4,890.6 193.7,890.6 194,890.2 194.3,890.1 194.6,890.4 194.9,890.1 195.2,890.3 195.5,890 195.8,890 196.1,890.5 196.4,890.3 196.7,890.3 197,890.5 197.3,890.2 197.6,890.4 197.9,890.4 198.2,890.5 198.5,890.3 198.8,890.2 199.1,890.5 199.4,890.3 199.7,890.3 200,890 200.3,890.1 200.6,890 200.9,890.2 201.2,889.9 201.4,890.5 201.7,890.2 202,890.1 202.3,890.5 202.6,890.2 202.9,890.4 203.2,890 203.5,890.1 203.8,890.1 204.1,890.3 204.4,890 204.7,890 205,890.4 205.3,890.2 205.6,890.5 205.9,889.9 206.2,889.9 206.5,890.4 206.8,890.2 207.1,890.5 207.4,890.4 207.7,890.4 208,890.1 208.3,890.4 208.6,890.2 208.9,890.1 209.2,890.6 209.5,890.5 209.8,890.2 210.1,889.9 210.4,889.9 210.7,890.3 211,890.2 211.3,890 211.6,889.9 211.9,889.7 212.2,889.5 212.5,889.9 212.8,889.8 213.1,889.6 213.4,889.7 213.7,890 214,890.4 214.3,890.6 214.6,890.5 214.8,890.8 215.1,890.6 215.4,890.7 215.7,890.3 216,890.5 216.3,890.2 216.6,890.2 216.9,890.2 217.2,890.3 217.5,890.3 217.8,890.6 218.1,890.1 218.4,890.1 218.7,890.5 219,890.3 219.3,890.5 219.6,890.4 219.9,890.5 220.2,890.2 220.5,890.6 220.8,890.6 221.1,890.4 221.4,890.1 221.7,890.4 222,890.1 222.3,890.5 222.6,890.1 222.9,890 223.2,890.1 223.5,890.3 223.8,890.3 224.1,890.5 224.4,890 224.7,890.5 225,890.6 225.3,890.6 225.6,890.6 225.9,890.4 226.2,890.1 226.5,890 226.8,890.6 227.1,890.3 227.4,890.1 227.7,890.1 228,890.3 228.3,890.3 228.5,890.3 228.8,890.5 229.1,890.3 229.4,890.1 229.7,890.1 230,890.5 230.3,890.4 230.6,890 230.9,890.3 231.2,890.6 231.5,890.5 231.8,890.4 232.1,890.4 232.4,889.9 232.7,890 233,889.6 233.3,889.9 233.6,889.7 233.9,889.4 234.2,888.8 234.5,889 234.8,888.5 235.1,888.6 235.4,889 235.7,889.6 236,890.4 236.3,890.8 236.6,891 236.9,891.4 237.2,891.6 237.5,891 237.8,891 238.1,891 238.4,890.7 238.7,890.7 239,890.4 239.3,890.4 239.6,890.2 239.9,890.6 240.2,890 240.5,890.3 240.8,890.6 241.1,890.1 241.4,890.3 241.7,890.1 241.9,890.2 242.2,890.6 242.5,890.5 242.8,890.2 243.1,890.5 243.4,890.2 243.7,889.8 244,889.8 244.3,889.7 244.6,889.8 244.9,889.9 245.2,890 245.5,889.4 245.8,889.6 246.1,889.6 246.4,889.8 246.7,889.7 247,890.2 247.3,890.2 247.6,890.3 247.9,890.7 248.2,890.4 248.5,890.6 248.8,890.5 249.1,890.5 249.4,890.5 249.7,890.2 250,890.7 250.3,890.5 250.6,890.1 250.9,890 251.2,890.2 251.5,890.6 251.8,890.7 252.1,890 252.4,890.5 252.7,890.2 253,890 253.3,890.4 253.6,890.4 253.9,890.2 254.2,890.4 254.5,890.2 254.8,890.2 255.1,890.4 255.4,890.6 255.6,890.1 255.9,890.2 256.2,890.3 256.5,890.4 256.8,890.6 257.1,890 257.4,890.5 257.7,890.2 258,890.1 258.3,890.6 258.6,890.6 258.9,890.4 259.2,890.1 259.5,890.4 259.8,889.9 260.1,890.4 260.4,890.2 260.7,889.7 261,889.1 261.3,888.3 261.6,887.3 261.9,886.2 262.2,885 262.5,884.1 262.8,885.6 263.1,889.2 263.4,892.7 263.7,894.6 264,895.2 264.3,894.5 264.6,892.8 264.9,892.2 265.2,891.5 265.5,890.5 265.8,890.4 266.1,890.5 266.4,890.7 266.7,890.5 267,890.6 267.3,890.3 267.6,890.7 267.9,890.1 268.2,890.4 268.5,890.3 268.8,890.3 269,890.5 269.3,890 269.6,890.3 269.9,890.2 270.2,890.1 270.5,890.6 270.8,890.5 271.1,890 271.4,890.3 271.7,890.2 272,890.3 272.3,890.2 272.6,890.2 272.9,890.1 273.2,890.5 273.5,890 273.8,890.1 274.1,890.2 274.4,890.1 274.7,890.3 275,890.6 275.3,890.5 275.6,890.1 275.9,890.5 276.2,890.4 276.5,890.3 276.8,890.3 277.1,890.4 277.4,890.2 277.7,890.2 278,890.1 278.3,890.3 278.6,890.1 278.9,890.4 279.2,890.6 279.5,890.6 279.8,890.4 280.1,890.1 280.4,890.4 280.7,890 281,890.5 281.3,890.1 281.6,890.3 281.9,890.1 282.2,890.3 282.4,890.4 282.7,890 283,890.5 283.3,890 283.6,890.5 283.9,890.6 284.2,890.3 284.5,890.3 284.8,890.3 285.1,890.5 285.4,890 285.7,890.5 286,890.2 286.3,890.6 286.6,890 286.9,890 287.2,890.4 287.5,890.4 287.8,890.6 288.1,890.3 288.4,890.3 288.7,890.3 289,890.3 289.3,890.2 289.6,890.5 289.9,890.3 290.2,890.6 290.5,890.2 290.8,890.4 291.1,890.5 291.4,890 291.7,890 292,890.2 292.3,890.6 292.6,890.4 292.9,890.5 293.2,890.4 293.5,890.1 293.8,890.2 294.1,890.3 294.4,890.1 294.7,890.4 295,890.1 295.3,889.8 295.6,890.2 295.9,889.8 296.1,890 296.4,890.3 296.7,890.5 297,889.9 297.3,890.2 297.6,890 297.9,890.5 298.2,890.1 298.5,890.1 298.8,890.1 299.1,890.7 299.4,890.4 299.7,890.5 300,890.6 300.3,890.6 300.6,890.6 300.9,889.9 301.2,889.8 301.5,890.4 301.8,889.8 302.1,889.6 302.4,890.1 302.7,889.6 303,889.7 303.3,889.8 303.6,890.1 303.9,890.2 304.2,890.6 304.5,890.5 304.8,890.8 305.1,890.6 305.4,890.3 305.7,890.3 306,890.8 306.3,890.3 306.6,890.5 306.9,890.3 307.2,890.3 307.5,890 307.8,890 308.1,890.1 308.4,890.3 308.7,890.4 309,890.3 309.3,890.3 309.5,890.1 309.8,890.3 310.1,890.1 310.4,890.4 310.7,889.8 311,889.9 311.3,890.2 311.6,889.7 311.9,889.9 312.2,890.6 312.5,890.5 312.8,890.1 313.1,890.5 313.4,890.3 313.7,890.6 314,890.3 314.3,890.4 314.6,890.4 314.9,890.5 315.2,890.1 315.5,890.4 315.8,890.5 316.1,890.5 316.4,890.5 316.7,890.3 317,890 317.3,890.1 317.6,890.4 317.9,889.9 318.2,890.3 318.5,889.9 318.8,889.9 319.1,889.5 319.4,890 319.7,889.7 320,889.3 320.3,889.3 320.6,889.2 320.9,888.6 321.2,889 321.5,888.5 321.8,889.3 322.1,889.4 322.4,889.8 322.7,890.2 323,890.7 323.2,890.7 323.5,891 323.8,891.5 324.1,891.3 324.4,891.2 324.7,890.9 325,891.3 325.3,891.1 325.6,890.6 325.9,890.9 326.2,890.5 326.5,890.3 326.8,890.1 327.1,890.3 327.4,890.4 327.7,890.6 328,890.2 328.3,890.3 328.6,890.1 328.9,890.6 329.2,890.3 329.5,890.4 329.8,890.2 330.1,890.4 330.4,890.3 330.7,890.1 331,890.2 331.3,890.6 331.6,890.6 331.9,890.3 332.2,890 332.5,890.4 332.8,890.1 333.1,890.4 333.4,890.4 333.7,890.5 334,890.6 334.3,890 334.6,890.3 334.9,890.6 335.2,890 335.5,890.6 335.8,890.3 336.1,890.4 336.4,890.6 336.6,890.2 336.9,890.6 337.2,890.1 337.5,890.6 337.8,890.6 338.1,890.4 338.4,890.1 338.7,890.5 339,890.1 339.3,889.9 339.6,890.5 339.9,890.5 340.2,890.2 340.5,890.4 340.8,890 341.1,890.3 341.4,890.3 341.7,890.4 342,890.2 342.3,890.3 342.6,890.3 342.9,890.3 343.2,890.1 343.5,890.2 343.8,890.1 344.1,890.1 344.4,890.3 344.7,890.1 345,890.3 345.3,890.2 345.6,890.7 345.9,890.7 346.2,890.7 346.5,890.3 346.8,890.5 347.1,890.6 347.4,890.3 347.7,890.6 348,890.5 348.3,890.3 348.6,890.1 348.9,890.2 349.2,890.4 349.5,890.2 349.8,890 350.1,890.2 350.3,890.3 350.6,890.3 350.9,889.8 351.2,890.3 351.5,890.1 351.8,889.9 352.1,889.9 352.4,890.5 352.7,890.5 353,890.5 353.3,890.5 353.6,890.2 353.9,890.6 354.2,890.5 354.5,890.5 354.8,890.2 355.1,890.4 355.4,890.3 355.7,890.4 356,890.4 356.3,890.3 356.6,890.1 356.9,890.2" fill="none" stroke="#a3a3a3" stroke-width="0.8" stroke-linejoin="round"/>
<line x1="85.2" y1="877.6" x2="85.2" y2="881" stroke="#e8707a" stroke-width="1"/>
<line x1="88.1" y1="877.6" x2="88.1" y2="881" stroke="#e8707a" stroke-width="1"/>
<line x1="112.4" y1="877.6" x2="112.4" y2="881" stroke="#e8707a" stroke-width="1"/>
<line x1="125.5" y1="877.6" x2="125.5" y2="881" stroke="#e8707a" stroke-width="1"/>
<line x1="140.3" y1="877.6" x2="140.3" y2="881" stroke="#e8707a" stroke-width="1"/>
<line x1="143.1" y1="877.6" x2="143.1" y2="881" stroke="#e8707a" stroke-width="1"/>
<line x1="146.8" y1="877.6" x2="146.8" y2="881" stroke="#e8707a" stroke-width="1"/>
<line x1="174.5" y1="877.6" x2="174.5" y2="881" stroke="#e8707a" stroke-width="1"/>
<line x1="179.7" y1="877.6" x2="179.7" y2="881" stroke="#e8707a" stroke-width="1"/>
<line x1="181.8" y1="877.6" x2="181.8" y2="881" stroke="#e8707a" stroke-width="1"/>
<line x1="185.7" y1="877.6" x2="185.7" y2="881" stroke="#e8707a" stroke-width="1"/>
<line x1="187.9" y1="877.6" x2="187.9" y2="881" stroke="#e8707a" stroke-width="1"/>
<line x1="190.1" y1="877.6" x2="190.1" y2="881" stroke="#e8707a" stroke-width="1"/>
<line x1="192.4" y1="877.6" x2="192.4" y2="881" stroke="#e8707a" stroke-width="1"/>
<line x1="202.5" y1="877.6" x2="202.5" y2="881" stroke="#e8707a" stroke-width="1"/>
<line x1="204" y1="877.6" x2="204" y2="881" stroke="#e8707a" stroke-width="1"/>
<line x1="205.5" y1="877.6" x2="205.5" y2="881" stroke="#e8707a" stroke-width="1"/>
<line x1="207" y1="877.6" x2="207" y2="881" stroke="#e8707a" stroke-width="1"/>
<line x1="208.7" y1="877.6" x2="208.7" y2="881" stroke="#e8707a" stroke-width="1"/>
<line x1="212.8" y1="877.6" x2="212.8" y2="881" stroke="#e8707a" stroke-width="1"/>
<line x1="214.7" y1="877.6" x2="214.7" y2="881" stroke="#e8707a" stroke-width="1"/>
<line x1="216.2" y1="877.6" x2="216.2" y2="881" stroke="#e8707a" stroke-width="1"/>
<line x1="218.1" y1="877.6" x2="218.1" y2="881" stroke="#e8707a" stroke-width="1"/>
<line x1="219.9" y1="877.6" x2="219.9" y2="881" stroke="#e8707a" stroke-width="1"/>
<line x1="224.4" y1="877.6" x2="224.4" y2="881" stroke="#e8707a" stroke-width="1"/>
<line x1="227.4" y1="877.6" x2="227.4" y2="881" stroke="#e8707a" stroke-width="1"/>
<line x1="234.8" y1="877.6" x2="234.8" y2="881" stroke="#e8707a" stroke-width="1"/>
<line x1="236.3" y1="877.6" x2="236.3" y2="881" stroke="#e8707a" stroke-width="1"/>
<line x1="237.8" y1="877.6" x2="237.8" y2="881" stroke="#e8707a" stroke-width="1"/>
<line x1="240" y1="877.6" x2="240" y2="881" stroke="#e8707a" stroke-width="1"/>
<line x1="245.2" y1="877.6" x2="245.2" y2="881" stroke="#e8707a" stroke-width="1"/>
<line x1="251.2" y1="877.6" x2="251.2" y2="881" stroke="#e8707a" stroke-width="1"/>
<line x1="253.4" y1="877.6" x2="253.4" y2="881" stroke="#e8707a" stroke-width="1"/>
<line x1="257.9" y1="877.6" x2="257.9" y2="881" stroke="#e8707a" stroke-width="1"/>
<line x1="261.6" y1="877.6" x2="261.6" y2="881" stroke="#e8707a" stroke-width="1"/>
<line x1="263.1" y1="877.6" x2="263.1" y2="881" stroke="#e8707a" stroke-width="1"/>
<line x1="266.1" y1="877.6" x2="266.1" y2="881" stroke="#e8707a" stroke-width="1"/>
<line x1="268.3" y1="877.6" x2="268.3" y2="881" stroke="#e8707a" stroke-width="1"/>
<line x1="269" y1="877.6" x2="269" y2="881" stroke="#e8707a" stroke-width="1"/>
<line x1="275" y1="877.6" x2="275" y2="881" stroke="#e8707a" stroke-width="1"/>
<line x1="276.5" y1="877.6" x2="276.5" y2="881" stroke="#e8707a" stroke-width="1"/>
<line x1="281" y1="877.6" x2="281" y2="881" stroke="#e8707a" stroke-width="1"/>
<line x1="286.2" y1="877.6" x2="286.2" y2="881" stroke="#e8707a" stroke-width="1"/>
<line x1="288.4" y1="877.6" x2="288.4" y2="881" stroke="#e8707a" stroke-width="1"/>
<line x1="289.6" y1="877.6" x2="289.6" y2="881" stroke="#e8707a" stroke-width="1"/>
<line x1="294.4" y1="877.6" x2="294.4" y2="881" stroke="#e8707a" stroke-width="1"/>
<line x1="295.9" y1="877.6" x2="295.9" y2="881" stroke="#e8707a" stroke-width="1"/>
<line x1="296.9" y1="877.6" x2="296.9" y2="881" stroke="#e8707a" stroke-width="1"/>
<line x1="301.1" y1="877.6" x2="301.1" y2="881" stroke="#e8707a" stroke-width="1"/>
<line x1="301.8" y1="877.6" x2="301.8" y2="881" stroke="#e8707a" stroke-width="1"/>
<line x1="307.8" y1="877.6" x2="307.8" y2="881" stroke="#e8707a" stroke-width="1"/>
<line x1="308.5" y1="877.6" x2="308.5" y2="881" stroke="#e8707a" stroke-width="1"/>
<line x1="314.5" y1="877.6" x2="314.5" y2="881" stroke="#e8707a" stroke-width="1"/>
<line x1="315.7" y1="877.6" x2="315.7" y2="881" stroke="#e8707a" stroke-width="1"/>
<line x1="317.4" y1="877.6" x2="317.4" y2="881" stroke="#e8707a" stroke-width="1"/>
<line x1="321.2" y1="877.6" x2="321.2" y2="881" stroke="#e8707a" stroke-width="1"/>
<line x1="323.4" y1="877.6" x2="323.4" y2="881" stroke="#e8707a" stroke-width="1"/>
<line x1="324.9" y1="877.6" x2="324.9" y2="881" stroke="#e8707a" stroke-width="1"/>
<line x1="329.4" y1="877.6" x2="329.4" y2="881" stroke="#e8707a" stroke-width="1"/>
<line x1="332.3" y1="877.6" x2="332.3" y2="881" stroke="#e8707a" stroke-width="1"/>
<line x1="333.8" y1="877.6" x2="333.8" y2="881" stroke="#e8707a" stroke-width="1"/>
<line x1="337.5" y1="877.6" x2="337.5" y2="881" stroke="#e8707a" stroke-width="1"/>
<line x1="339.8" y1="877.6" x2="339.8" y2="881" stroke="#e8707a" stroke-width="1"/>
<line x1="342" y1="877.6" x2="342" y2="881" stroke="#e8707a" stroke-width="1"/>
<line x1="345" y1="877.6" x2="345" y2="881" stroke="#e8707a" stroke-width="1"/>
<line x1="347.2" y1="877.6" x2="347.2" y2="881" stroke="#e8707a" stroke-width="1"/>
<line x1="349.5" y1="877.6" x2="349.5" y2="881" stroke="#e8707a" stroke-width="1"/>
<line x1="351.7" y1="877.6" x2="351.7" y2="881" stroke="#e8707a" stroke-width="1"/>
<line x1="353.9" y1="877.6" x2="353.9" y2="881" stroke="#e8707a" stroke-width="1"/>
<line x1="355.9" y1="877.6" x2="355.9" y2="881" stroke="#e8707a" stroke-width="1"/>
<rect x="59.1" y="648" width="297.8" height="252.3" fill="none" stroke="#000" stroke-width="1.5"/>
<line x1="59.1" y1="774.4" x2="356.9" y2="774.4" stroke="#000" stroke-width="1.5"/>
<text x="59.1" y="917" font-size="17.3" text-anchor="middle">5</text>
<line x1="133.5" y1="900.3" x2="133.5" y2="895.8" stroke="#000" stroke-width="1.5"/>
<line x1="133.5" y1="774.4" x2="133.5" y2="769.9" stroke="#000" stroke-width="1.5"/>
<text x="133.5" y="917" font-size="17.3" text-anchor="middle">10</text>
<line x1="208" y1="900.3" x2="208" y2="895.8" stroke="#000" stroke-width="1.5"/>
<line x1="208" y1="774.4" x2="208" y2="769.9" stroke="#000" stroke-width="1.5"/>
<text x="208" y="917" font-size="17.3" text-anchor="middle">15</text>
<line x1="282.4" y1="900.3" x2="282.4" y2="895.8" stroke="#000" stroke-width="1.5"/>
<line x1="282.4" y1="774.4" x2="282.4" y2="769.9" stroke="#000" stroke-width="1.5"/>
<text x="282.4" y="917" font-size="17.3" text-anchor="middle">20</text>
<text x="356.9" y="917" font-size="17.3" text-anchor="middle">25</text>
<text x="195.7" y="940.1" font-size="17.3" text-anchor="middle">2<tspan font-style="italic">θ</tspan> (degree)</text>
<text x="45.5" y="780" font-size="17.3" text-anchor="middle" transform="rotate(-90 45.5 780)">Intensity(a.u.)</text>
<text x="14.5" y="648.4" font-size="20" font-weight="bold">e</text>
<text x="66.3" y="666.5" font-size="17.3"><tspan font-style="italic">P</tspan> = 29.5 GPa</text>
<text x="64.1" y="795" font-size="17.3"><tspan font-style="italic">P</tspan> = 1.6 GPa</text>
<circle cx="236.5" cy="659.4" r="1.9" fill="#e88a3c"/>
<text x="253.4" y="666.5" font-size="17.3">Observed</text>
<line x1="226.5" y1="679.3" x2="246.8" y2="679.3" stroke="#3c3c3c" stroke-width="1.5"/>
<text x="253.4" y="684.2" font-size="17.3">Calculated</text>
<line x1="236.4" y1="697.1" x2="236.4" y2="700.8" stroke="#e8707a" stroke-width="1"/>
<text x="253.4" y="704" font-size="17.3">La<tspan font-size="16" dy="-1.5">₃</tspan><tspan dy="1.5">Ni</tspan><tspan font-size="16" dy="-1.5">₂</tspan><tspan dy="1.5">O</tspan><tspan font-size="16" dy="-1.5">₇</tspan></text>
<line x1="226.5" y1="721" x2="246.8" y2="721" stroke="#a3a3a3" stroke-width="1"/>
<text x="253.4" y="725.1" font-size="17.3">Difference</text>
<circle cx="243" cy="785.5" r="1.9" fill="#2e4f9c"/>
<text x="259.5" y="791.8" font-size="17.3">Observed</text>
<text x="434.4" y="644" font-size="20" font-weight="bold">f</text>
<text x="478.8" y="676" font-size="18.9">AP</text>
<text x="514.3" y="676" font-size="18.9" font-style="italic">Amam</text>
<text x="656.5" y="676" font-size="18.9">HP</text>
<text x="692.8" y="676" font-size="18.9" font-style="italic">Fmmm</text>
<polygon points="524.1,925.3 473.7,862.6 530.4,811.7" fill="#84a2c4" stroke="#2c3e50" stroke-width="0.8"/>
<polygon points="524.1,925.3 579.7,868 530.4,811.7" fill="#8cabcb" stroke="#2c3e50" stroke-width="0.8"/>
<line x1="524.1" y1="925.3" x2="527.3" y2="869.3" stroke="#2c3e50" stroke-width="0.6"/>
<circle cx="527.3" cy="869.3" r="13.2" fill="url(#niF)"/>
<line x1="527.3" y1="869.3" x2="524.1" y2="925.3" stroke="#3a3a3a" stroke-width="5.6"/>
<line x1="527.3" y1="869.3" x2="525.7" y2="897.3" stroke="#3550b8" stroke-width="4.6"/>
<line x1="525.7" y1="897.3" x2="524.1" y2="925.3" stroke="#c98c7c" stroke-width="4.6"/>
<line x1="527.3" y1="869.3" x2="524.1" y2="925.3" stroke="#333" stroke-width="0.6"/>
<line x1="527.3" y1="869.3" x2="530.4" y2="811.7" stroke="#3a3a3a" stroke-width="5.6"/>
<line x1="527.3" y1="869.3" x2="528.8" y2="840.5" stroke="#3550b8" stroke-width="4.6"/>
<line x1="528.8" y1="840.5" x2="530.4" y2="811.7" stroke="#c98c7c" stroke-width="4.6"/>
<line x1="527.3" y1="869.3" x2="530.4" y2="811.7" stroke="#333" stroke-width="0.6"/>
<line x1="527.3" y1="869.3" x2="473.7" y2="862.6" stroke="#3a3a3a" stroke-width="5.6"/>
<line x1="527.3" y1="869.3" x2="500.5" y2="866" stroke="#3550b8" stroke-width="4.6"/>
<line x1="500.5" y1="866" x2="473.7" y2="862.6" stroke="#c98c7c" stroke-width="4.6"/>
<line x1="527.3" y1="869.3" x2="473.7" y2="862.6" stroke="#333" stroke-width="0.6"/>
<line x1="527.3" y1="869.3" x2="579.7" y2="868" stroke="#3a3a3a" stroke-width="5.6"/>
<line x1="527.3" y1="869.3" x2="553.5" y2="868.7" stroke="#3550b8" stroke-width="4.6"/>
<line x1="553.5" y1="868.7" x2="579.7" y2="868" stroke="#c98c7c" stroke-width="4.6"/>
<line x1="527.3" y1="869.3" x2="579.7" y2="868" stroke="#333" stroke-width="0.6"/>
<line x1="527.3" y1="869.3" x2="521.3" y2="868" stroke="#3a3a3a" stroke-width="5.6"/>
<line x1="527.3" y1="869.3" x2="524.3" y2="868.7" stroke="#3550b8" stroke-width="4.6"/>
<line x1="524.3" y1="868.7" x2="521.3" y2="868" stroke="#c98c7c" stroke-width="4.6"/>
<line x1="527.3" y1="869.3" x2="521.3" y2="868" stroke="#333" stroke-width="0.6"/>
<circle cx="524.1" cy="925.3" r="8" fill="url(#oAP)"/>
<circle cx="473.7" cy="862.6" r="8" fill="url(#oAP)"/>
<circle cx="579.7" cy="868" r="8" fill="url(#oAP)"/>
<circle cx="521.3" cy="868" r="8" fill="url(#oAP)"/>
<polygon points="524.1,698.1 473.7,760.8 530.4,811.7" fill="#84a2c4" stroke="#2c3e50" stroke-width="0.8"/>
<polygon points="524.1,698.1 579.7,755.4 530.4,811.7" fill="#8cabcb" stroke="#2c3e50" stroke-width="0.8"/>
<line x1="524.1" y1="698.1" x2="527.3" y2="754.1" stroke="#2c3e50" stroke-width="0.6"/>
<circle cx="527.3" cy="754.1" r="13.2" fill="url(#niF)"/>
<line x1="527.3" y1="754.1" x2="524.1" y2="698.1" stroke="#3a3a3a" stroke-width="5.6"/>
<line x1="527.3" y1="754.1" x2="525.7" y2="726.1" stroke="#3550b8" stroke-width="4.6"/>
<line x1="525.7" y1="726.1" x2="524.1" y2="698.1" stroke="#c98c7c" stroke-width="4.6"/>
<line x1="527.3" y1="754.1" x2="524.1" y2="698.1" stroke="#333" stroke-width="0.6"/>
<line x1="527.3" y1="754.1" x2="530.4" y2="811.7" stroke="#3a3a3a" stroke-width="5.6"/>
<line x1="527.3" y1="754.1" x2="528.8" y2="782.9" stroke="#3550b8" stroke-width="4.6"/>
<line x1="528.8" y1="782.9" x2="530.4" y2="811.7" stroke="#c98c7c" stroke-width="4.6"/>
<line x1="527.3" y1="754.1" x2="530.4" y2="811.7" stroke="#333" stroke-width="0.6"/>
<line x1="527.3" y1="754.1" x2="473.7" y2="760.8" stroke="#3a3a3a" stroke-width="5.6"/>
<line x1="527.3" y1="754.1" x2="500.5" y2="757.5" stroke="#3550b8" stroke-width="4.6"/>
<line x1="500.5" y1="757.5" x2="473.7" y2="760.8" stroke="#c98c7c" stroke-width="4.6"/>
<line x1="527.3" y1="754.1" x2="473.7" y2="760.8" stroke="#333" stroke-width="0.6"/>
<line x1="527.3" y1="754.1" x2="579.7" y2="755.4" stroke="#3a3a3a" stroke-width="5.6"/>
<line x1="527.3" y1="754.1" x2="553.5" y2="754.8" stroke="#3550b8" stroke-width="4.6"/>
<line x1="553.5" y1="754.8" x2="579.7" y2="755.4" stroke="#c98c7c" stroke-width="4.6"/>
<line x1="527.3" y1="754.1" x2="579.7" y2="755.4" stroke="#333" stroke-width="0.6"/>
<line x1="527.3" y1="754.1" x2="521.3" y2="755.4" stroke="#3a3a3a" stroke-width="5.6"/>
<line x1="527.3" y1="754.1" x2="524.3" y2="754.8" stroke="#3550b8" stroke-width="4.6"/>
<line x1="524.3" y1="754.8" x2="521.3" y2="755.4" stroke="#c98c7c" stroke-width="4.6"/>
<line x1="527.3" y1="754.1" x2="521.3" y2="755.4" stroke="#333" stroke-width="0.6"/>
<circle cx="524.1" cy="698.1" r="8" fill="url(#oAP)"/>
<circle cx="473.7" cy="760.8" r="8" fill="url(#oAP)"/>
<circle cx="579.7" cy="755.4" r="8" fill="url(#oAP)"/>
<circle cx="521.3" cy="755.4" r="8" fill="url(#oAP)"/>
<circle cx="530.4" cy="811.7" r="8" fill="url(#oAP)"/>
<polygon points="708.1,923.7 652.6,867.7 709.1,811.7" fill="#84a2c4" stroke="#2c3e50" stroke-width="0.8"/>
<polygon points="708.1,923.7 764.9,868.5 709.1,811.7" fill="#8cabcb" stroke="#2c3e50" stroke-width="0.8"/>
<line x1="708.1" y1="923.7" x2="708.9" y2="868" stroke="#2c3e50" stroke-width="0.6"/>
<circle cx="708.9" cy="868" r="14.2" fill="url(#niF)"/>
<line x1="708.9" y1="868" x2="708.1" y2="923.7" stroke="#3a3a3a" stroke-width="5.6"/>
<line x1="708.9" y1="868" x2="708.5" y2="895.9" stroke="#3550b8" stroke-width="4.6"/>
<line x1="708.5" y1="895.9" x2="708.1" y2="923.7" stroke="#b89048" stroke-width="4.6"/>
<line x1="708.9" y1="868" x2="708.1" y2="923.7" stroke="#333" stroke-width="0.6"/>
<line x1="708.9" y1="868" x2="709.1" y2="811.7" stroke="#3a3a3a" stroke-width="5.6"/>
<line x1="708.9" y1="868" x2="709" y2="839.9" stroke="#3550b8" stroke-width="4.6"/>
<line x1="709" y1="839.9" x2="709.1" y2="811.7" stroke="#b89048" stroke-width="4.6"/>
<line x1="708.9" y1="868" x2="709.1" y2="811.7" stroke="#333" stroke-width="0.6"/>
<line x1="708.9" y1="868" x2="652.6" y2="867.7" stroke="#3a3a3a" stroke-width="5.6"/>
<line x1="708.9" y1="868" x2="680.8" y2="867.9" stroke="#3550b8" stroke-width="4.6"/>
<line x1="680.8" y1="867.9" x2="652.6" y2="867.7" stroke="#b89048" stroke-width="4.6"/>
<line x1="708.9" y1="868" x2="652.6" y2="867.7" stroke="#333" stroke-width="0.6"/>
<line x1="708.9" y1="868" x2="764.9" y2="868.5" stroke="#3a3a3a" stroke-width="5.6"/>
<line x1="708.9" y1="868" x2="736.9" y2="868.3" stroke="#3550b8" stroke-width="4.6"/>
<line x1="736.9" y1="868.3" x2="764.9" y2="868.5" stroke="#b89048" stroke-width="4.6"/>
<line x1="708.9" y1="868" x2="764.9" y2="868.5" stroke="#333" stroke-width="0.6"/>
<line x1="708.9" y1="868" x2="708.9" y2="868" stroke="#3a3a3a" stroke-width="5.6"/>
<line x1="708.9" y1="868" x2="708.9" y2="868" stroke="#3550b8" stroke-width="4.6"/>
<line x1="708.9" y1="868" x2="708.9" y2="868" stroke="#b89048" stroke-width="4.6"/>
<line x1="708.9" y1="868" x2="708.9" y2="868" stroke="#333" stroke-width="0.6"/>
<circle cx="708.1" cy="923.7" r="8" fill="url(#oHP)"/>
<circle cx="652.6" cy="867.7" r="8" fill="url(#oHP)"/>
<circle cx="764.9" cy="868.5" r="8" fill="url(#oHP)"/>
<circle cx="708.9" cy="868" r="8" fill="url(#oHP)"/>
<polygon points="708.1,699.7 652.6,755.7 709.1,811.7" fill="#84a2c4" stroke="#2c3e50" stroke-width="0.8"/>
<polygon points="708.1,699.7 764.9,754.9 709.1,811.7" fill="#8cabcb" stroke="#2c3e50" stroke-width="0.8"/>
<line x1="708.1" y1="699.7" x2="708.9" y2="755.4" stroke="#2c3e50" stroke-width="0.6"/>
<circle cx="708.9" cy="755.4" r="14.2" fill="url(#niF)"/>
<line x1="708.9" y1="755.4" x2="708.1" y2="699.7" stroke="#3a3a3a" stroke-width="5.6"/>
<line x1="708.9" y1="755.4" x2="708.5" y2="727.5" stroke="#3550b8" stroke-width="4.6"/>
<line x1="708.5" y1="727.5" x2="708.1" y2="699.7" stroke="#b89048" stroke-width="4.6"/>
<line x1="708.9" y1="755.4" x2="708.1" y2="699.7" stroke="#333" stroke-width="0.6"/>
<line x1="708.9" y1="755.4" x2="709.1" y2="811.7" stroke="#3a3a3a" stroke-width="5.6"/>
<line x1="708.9" y1="755.4" x2="709" y2="783.5" stroke="#3550b8" stroke-width="4.6"/>
<line x1="709" y1="783.5" x2="709.1" y2="811.7" stroke="#b89048" stroke-width="4.6"/>
<line x1="708.9" y1="755.4" x2="709.1" y2="811.7" stroke="#333" stroke-width="0.6"/>
<line x1="708.9" y1="755.4" x2="652.6" y2="755.7" stroke="#3a3a3a" stroke-width="5.6"/>
<line x1="708.9" y1="755.4" x2="680.8" y2="755.5" stroke="#3550b8" stroke-width="4.6"/>
<line x1="680.8" y1="755.5" x2="652.6" y2="755.7" stroke="#b89048" stroke-width="4.6"/>
<line x1="708.9" y1="755.4" x2="652.6" y2="755.7" stroke="#333" stroke-width="0.6"/>
<line x1="708.9" y1="755.4" x2="764.9" y2="754.9" stroke="#3a3a3a" stroke-width="5.6"/>
<line x1="708.9" y1="755.4" x2="736.9" y2="755.1" stroke="#3550b8" stroke-width="4.6"/>
<line x1="736.9" y1="755.1" x2="764.9" y2="754.9" stroke="#b89048" stroke-width="4.6"/>
<line x1="708.9" y1="755.4" x2="764.9" y2="754.9" stroke="#333" stroke-width="0.6"/>
<line x1="708.9" y1="755.4" x2="708.9" y2="755.4" stroke="#3a3a3a" stroke-width="5.6"/>
<line x1="708.9" y1="755.4" x2="708.9" y2="755.4" stroke="#3550b8" stroke-width="4.6"/>
<line x1="708.9" y1="755.4" x2="708.9" y2="755.4" stroke="#b89048" stroke-width="4.6"/>
<line x1="708.9" y1="755.4" x2="708.9" y2="755.4" stroke="#333" stroke-width="0.6"/>
<circle cx="708.1" cy="699.7" r="8" fill="url(#oHP)"/>
<circle cx="652.6" cy="755.7" r="8" fill="url(#oHP)"/>
<circle cx="764.9" cy="754.9" r="8" fill="url(#oHP)"/>
<circle cx="708.9" cy="755.4" r="8" fill="url(#oHP)"/>
<circle cx="709.1" cy="811.7" r="8" fill="url(#oHP)"/>
<path d="M 528 794.4 A 17.5 17.5 0 0 0 528 829" fill="none" stroke="#000" stroke-width="2"/>
<path d="M 711 794.4 A 17.2 17.2 0 0 1 711 828.6" fill="none" stroke="#000" stroke-width="2"/>
<text x="457.2" y="818.8" font-size="18.9">168°</text>
<text x="739.8" y="819.6" font-size="18.9">180°</text>
<text x="572.5" y="802.7" font-size="19.5">pressure</text>
<rect x="557.3" y="819.3" width="119" height="5.2" fill="#111"/>
<polygon points="696.5,821.9 674.8,810.8 674.8,833" fill="#111"/>
<g>
<line x1="989.2" y1="851" x2="989.2" y2="859.1" stroke="#838889" stroke-width="3.6"/>
<line x1="989" y1="859.1" x2="998.8" y2="859.7" stroke="#838889" stroke-width="3.6"/>
<line x1="989.2" y1="844" x2="989.2" y2="851" stroke="#838889" stroke-width="3.6"/>
<line x1="998.3" y1="859.7" x2="1008.1" y2="860.4" stroke="#838889" stroke-width="3.6"/>
<line x1="989.2" y1="837" x2="989.2" y2="844" stroke="#838889" stroke-width="3.6"/>
<line x1="1007.6" y1="860.3" x2="1017.4" y2="861" stroke="#838889" stroke-width="3.6"/>
<line x1="989.2" y1="830" x2="989.2" y2="837" stroke="#838889" stroke-width="3.6"/>
<line x1="989.2" y1="823" x2="989.2" y2="830" stroke="#838889" stroke-width="3.6"/>
<line x1="1016.9" y1="861" x2="1026.7" y2="861.6" stroke="#838889" stroke-width="3.6"/>
<line x1="989.2" y1="816" x2="989.2" y2="823" stroke="#838889" stroke-width="3.6"/>
<line x1="1026.2" y1="861.6" x2="1036" y2="862.2" stroke="#838889" stroke-width="3.6"/>
<line x1="989.2" y1="809" x2="989.2" y2="816" stroke="#838889" stroke-width="3.6"/>
<line x1="981.9" y1="865.2" x2="989.4" y2="858.9" stroke="#838889" stroke-width="3.6"/>
<line x1="989.2" y1="802" x2="989.2" y2="809" stroke="#838889" stroke-width="3.6"/>
<line x1="1035.5" y1="862.2" x2="1045.3" y2="862.9" stroke="#838889" stroke-width="3.6"/>
<line x1="989.2" y1="795" x2="989.2" y2="802" stroke="#838889" stroke-width="3.6"/>
<line x1="1044.8" y1="862.8" x2="1054.6" y2="863.5" stroke="#838889" stroke-width="3.6"/>
<line x1="989.2" y1="788" x2="989.2" y2="795" stroke="#838889" stroke-width="3.6"/>
<line x1="989.2" y1="781" x2="989.2" y2="788" stroke="#838889" stroke-width="3.6"/>
<line x1="1054.1" y1="863.5" x2="1063.9" y2="864.1" stroke="#838889" stroke-width="3.6"/>
<line x1="989.2" y1="774" x2="989.2" y2="781" stroke="#838889" stroke-width="3.6"/>
<line x1="1063.4" y1="864.1" x2="1073.2" y2="864.7" stroke="#838889" stroke-width="3.6"/>
<line x1="989.2" y1="767" x2="989.2" y2="774" stroke="#838889" stroke-width="3.6"/>
<line x1="989.2" y1="760" x2="989.2" y2="767" stroke="#838889" stroke-width="3.6"/>
<line x1="1072.7" y1="864.7" x2="1082.5" y2="865.4" stroke="#838889" stroke-width="3.6"/>
<line x1="989.2" y1="753" x2="989.2" y2="760" stroke="#838889" stroke-width="3.6"/>
<line x1="1082" y1="865.3" x2="1091.8" y2="866" stroke="#838889" stroke-width="3.6"/>
<line x1="989.2" y1="746" x2="989.2" y2="753" stroke="#838889" stroke-width="3.6"/>
<line x1="989.2" y1="739" x2="989.2" y2="746" stroke="#838889" stroke-width="3.6"/>
<line x1="1091.3" y1="866" x2="1101.1" y2="866.6" stroke="#838889" stroke-width="3.6"/>
<line x1="989.2" y1="732" x2="989.2" y2="739" stroke="#838889" stroke-width="3.6"/>
<line x1="1100.7" y1="866.6" x2="1110.5" y2="867.2" stroke="#838889" stroke-width="3.6"/>
<line x1="989.2" y1="725" x2="989.2" y2="732" stroke="#838889" stroke-width="3.6"/>
<line x1="1110" y1="867.2" x2="1119.8" y2="867.9" stroke="#838889" stroke-width="3.6"/>
<line x1="989.2" y1="718" x2="989.2" y2="725" stroke="#838889" stroke-width="3.6"/>
<line x1="974.9" y1="871.1" x2="982.3" y2="864.9" stroke="#838889" stroke-width="3.6"/>
<line x1="989.2" y1="711" x2="989.2" y2="718" stroke="#838889" stroke-width="3.6"/>
<line x1="1119.3" y1="867.8" x2="1129.1" y2="868.5" stroke="#838889" stroke-width="3.6"/>
<line x1="989.2" y1="704" x2="989.2" y2="711" stroke="#838889" stroke-width="3.6"/>
<circle cx="989.2" cy="859.1" r="12.5" fill="url(#gO)"/>
<line x1="1128.6" y1="868.5" x2="1138.4" y2="869.1" stroke="#838889" stroke-width="3.6"/>
<line x1="989.2" y1="697" x2="989.2" y2="704" stroke="#838889" stroke-width="3.6"/>
<line x1="989.2" y1="690" x2="989.2" y2="697" stroke="#838889" stroke-width="3.6"/>
<line x1="1137.9" y1="869.1" x2="1147.7" y2="869.7" stroke="#838889" stroke-width="3.6"/>
<line x1="989.2" y1="683" x2="989.2" y2="690" stroke="#838889" stroke-width="3.6"/>
<line x1="1147.2" y1="869.7" x2="1157" y2="870.4" stroke="#838889" stroke-width="3.6"/>
<line x1="989.2" y1="676" x2="989.2" y2="683" stroke="#838889" stroke-width="3.6"/>
<line x1="989.2" y1="669" x2="989.2" y2="676" stroke="#838889" stroke-width="3.6"/>
<line x1="1156.5" y1="870.3" x2="1166.3" y2="871" stroke="#838889" stroke-width="3.6"/>
<line x1="989.2" y1="797" x2="989.2" y2="847.6" stroke="url(#b12)" stroke-width="6"/><line x1="989.2" y1="797" x2="989.2" y2="847.6" stroke="#838889" stroke-width="3.6" stroke-dasharray="4 3"/>
<line x1="989.2" y1="662" x2="989.2" y2="669" stroke="#838889" stroke-width="3.6"/>
<line x1="1165.8" y1="871" x2="1175.6" y2="871.6" stroke="#838889" stroke-width="3.6"/>
<line x1="989.2" y1="655" x2="989.2" y2="662" stroke="#838889" stroke-width="3.6"/>
<line x1="989.2" y1="648" x2="989.2" y2="655" stroke="#838889" stroke-width="3.6"/>
<line x1="1175.1" y1="871.6" x2="1184.9" y2="872.2" stroke="#838889" stroke-width="3.6"/>
<line x1="989.2" y1="641" x2="989.2" y2="648" stroke="#838889" stroke-width="3.6"/>
<line x1="1184.4" y1="872.2" x2="1194.2" y2="872.9" stroke="#838889" stroke-width="3.6"/>
<line x1="989.2" y1="634" x2="989.2" y2="641" stroke="#838889" stroke-width="3.6"/>
<line x1="1193.7" y1="872.8" x2="1203.5" y2="873.5" stroke="#838889" stroke-width="3.6"/>
<line x1="989.2" y1="627" x2="989.2" y2="634" stroke="#838889" stroke-width="3.6"/>
<circle cx="989.2" cy="777.4" r="21.3" fill="url(#gNi)"/>
<line x1="989.2" y1="620" x2="989.2" y2="627" stroke="#838889" stroke-width="3.6"/>
<line x1="967.8" y1="877.1" x2="975.2" y2="870.8" stroke="#838889" stroke-width="3.6"/>
<line x1="1203" y1="873.5" x2="1212.8" y2="874.1" stroke="#838889" stroke-width="3.6"/>
<line x1="989.2" y1="613" x2="989.2" y2="620" stroke="#838889" stroke-width="3.6"/>
<line x1="1212.6" y1="866" x2="1212.6" y2="874.1" stroke="#838889" stroke-width="3.6"/>
<line x1="989.2" y1="606" x2="989.2" y2="613" stroke="#838889" stroke-width="3.6"/>
<line x1="1212.6" y1="859" x2="1212.6" y2="866" stroke="#838889" stroke-width="3.6"/>
<line x1="989.2" y1="599" x2="989.2" y2="606" stroke="#838889" stroke-width="3.6"/>
<line x1="1212.6" y1="852" x2="1212.6" y2="859" stroke="#838889" stroke-width="3.6"/>
<line x1="989.2" y1="592" x2="989.2" y2="599" stroke="#838889" stroke-width="3.6"/>
<line x1="1212.6" y1="845" x2="1212.6" y2="852" stroke="#838889" stroke-width="3.6"/>
<line x1="989.2" y1="585" x2="989.2" y2="592" stroke="#838889" stroke-width="3.6"/>
<line x1="989.2" y1="757.9" x2="989.2" y2="711.4" stroke="url(#b13)" stroke-width="6"/><line x1="989.2" y1="757.9" x2="989.2" y2="711.4" stroke="#838889" stroke-width="3.6" stroke-dasharray="4 3"/>
<circle cx="1100.9" cy="866.6" r="21.6" fill="url(#gLa)"/>
<line x1="1212.6" y1="838" x2="1212.6" y2="845" stroke="#838889" stroke-width="3.6"/>
<line x1="989.2" y1="578" x2="989.2" y2="585" stroke="#838889" stroke-width="3.6"/>
<line x1="1212.6" y1="831" x2="1212.6" y2="838" stroke="#838889" stroke-width="3.6"/>
<line x1="989.2" y1="571" x2="989.2" y2="578" stroke="#838889" stroke-width="3.6"/>
<line x1="1212.6" y1="824" x2="1212.6" y2="831" stroke="#838889" stroke-width="3.6"/>
<line x1="1205.3" y1="880.2" x2="1212.8" y2="873.9" stroke="#838889" stroke-width="3.6"/>
<line x1="989.2" y1="564" x2="989.2" y2="571" stroke="#838889" stroke-width="3.6"/>
<line x1="1212.6" y1="817" x2="1212.6" y2="824" stroke="#838889" stroke-width="3.6"/>
<line x1="989.2" y1="557" x2="989.2" y2="564" stroke="#838889" stroke-width="3.6"/>
<line x1="1212.6" y1="810" x2="1212.6" y2="817" stroke="#838889" stroke-width="3.6"/>
<line x1="989.2" y1="550" x2="989.2" y2="557" stroke="#838889" stroke-width="3.6"/>
<line x1="1212.6" y1="803" x2="1212.6" y2="810" stroke="#838889" stroke-width="3.6"/>
<circle cx="989.2" cy="700" r="12.5" fill="url(#gO)"/>
<line x1="989.2" y1="543" x2="989.2" y2="550" stroke="#838889" stroke-width="3.6"/>
<line x1="1212.6" y1="796" x2="1212.6" y2="803" stroke="#838889" stroke-width="3.6"/>
<line x1="989.2" y1="536" x2="989.2" y2="543" stroke="#838889" stroke-width="3.6"/>
<line x1="1212.6" y1="789" x2="1212.6" y2="796" stroke="#838889" stroke-width="3.6"/>
<line x1="989.2" y1="529" x2="989.2" y2="536" stroke="#838889" stroke-width="3.6"/>
<line x1="1212.6" y1="782" x2="1212.6" y2="789" stroke="#838889" stroke-width="3.6"/>
<line x1="960.7" y1="883" x2="968.2" y2="876.8" stroke="#838889" stroke-width="3.6"/>
<line x1="989.2" y1="522" x2="989.2" y2="529" stroke="#838889" stroke-width="3.6"/>
<line x1="1212.6" y1="775" x2="1212.6" y2="782" stroke="#838889" stroke-width="3.6"/>
<circle cx="1061" cy="509.3" r="12.5" fill="url(#gO)"/>
<line x1="989.2" y1="515" x2="989.2" y2="522" stroke="#838889" stroke-width="3.6"/>
<line x1="1212.6" y1="768" x2="1212.6" y2="775" stroke="#838889" stroke-width="3.6"/>
<line x1="989.2" y1="508" x2="989.2" y2="515" stroke="#838889" stroke-width="3.6"/>
<line x1="1212.6" y1="761" x2="1212.6" y2="768" stroke="#838889" stroke-width="3.6"/>
<line x1="989.2" y1="501" x2="989.2" y2="508" stroke="#838889" stroke-width="3.6"/>
<line x1="1212.6" y1="754" x2="1212.6" y2="761" stroke="#838889" stroke-width="3.6"/>
<line x1="989.2" y1="494" x2="989.2" y2="501" stroke="#838889" stroke-width="3.6"/>
<line x1="1212.6" y1="747" x2="1212.6" y2="754" stroke="#838889" stroke-width="3.6"/>
<line x1="989.2" y1="487" x2="989.2" y2="494" stroke="#838889" stroke-width="3.6"/>
<line x1="999.1" y1="781.9" x2="1023.3" y2="792.8" stroke="url(#b14)" stroke-width="6"/>
<line x1="1212.6" y1="740" x2="1212.6" y2="747" stroke="#838889" stroke-width="3.6"/>
<line x1="989.2" y1="480" x2="989.2" y2="487" stroke="#838889" stroke-width="3.6"/>
<line x1="1212.6" y1="733" x2="1212.6" y2="740" stroke="#838889" stroke-width="3.6"/>
<line x1="989.2" y1="473" x2="989.2" y2="480" stroke="#838889" stroke-width="3.6"/>
<line x1="1198.3" y1="886.1" x2="1205.7" y2="879.9" stroke="#838889" stroke-width="3.6"/>
<line x1="1212.6" y1="726" x2="1212.6" y2="733" stroke="#838889" stroke-width="3.6"/>
<line x1="989.2" y1="466" x2="989.2" y2="473" stroke="#838889" stroke-width="3.6"/>
<line x1="1212.6" y1="719" x2="1212.6" y2="726" stroke="#838889" stroke-width="3.6"/>
<circle cx="1212.6" cy="874.1" r="12.5" fill="url(#gO)"/>
<line x1="989.2" y1="459" x2="989.2" y2="466" stroke="#838889" stroke-width="3.6"/>
<line x1="1212.6" y1="712" x2="1212.6" y2="719" stroke="#838889" stroke-width="3.6"/>
<line x1="989.2" y1="452" x2="989.2" y2="459" stroke="#838889" stroke-width="3.6"/>
<line x1="1212.6" y1="705" x2="1212.6" y2="712" stroke="#838889" stroke-width="3.6"/>
<line x1="989.2" y1="445" x2="989.2" y2="452" stroke="#838889" stroke-width="3.6"/>
<line x1="1212.6" y1="698" x2="1212.6" y2="705" stroke="#838889" stroke-width="3.6"/>
<line x1="989.2" y1="438" x2="989.2" y2="445" stroke="#838889" stroke-width="3.6"/>
<circle cx="989.2" cy="593.9" r="21.6" fill="url(#gLa)"/>
<line x1="1212.6" y1="691" x2="1212.6" y2="698" stroke="#838889" stroke-width="3.6"/>
<line x1="989.2" y1="431" x2="989.2" y2="438" stroke="#838889" stroke-width="3.6"/>
<line x1="953.6" y1="889" x2="961.1" y2="882.7" stroke="#838889" stroke-width="3.6"/>
<line x1="1212.6" y1="684" x2="1212.6" y2="691" stroke="#838889" stroke-width="3.6"/>
<circle cx="1100.9" cy="710.8" r="21.6" fill="url(#gLa)"/>
<line x1="989.2" y1="424" x2="989.2" y2="431" stroke="#838889" stroke-width="3.6"/>
<line x1="1212.6" y1="812" x2="1212.6" y2="862.6" stroke="url(#b18)" stroke-width="6"/><line x1="1212.6" y1="812" x2="1212.6" y2="862.6" stroke="#838889" stroke-width="3.6"/>
<line x1="1212.6" y1="677" x2="1212.6" y2="684" stroke="#838889" stroke-width="3.6"/>
<line x1="989.2" y1="417" x2="989.2" y2="424" stroke="#838889" stroke-width="3.6"/>
<line x1="1212.6" y1="670" x2="1212.6" y2="677" stroke="#838889" stroke-width="3.6"/>
<line x1="989.2" y1="410" x2="989.2" y2="417" stroke="#838889" stroke-width="3.6"/>
<line x1="1212.6" y1="663" x2="1212.6" y2="670" stroke="#838889" stroke-width="3.6"/>
<line x1="989.2" y1="403" x2="989.2" y2="410" stroke="#838889" stroke-width="3.6"/>
<line x1="1212.6" y1="656" x2="1212.6" y2="663" stroke="#838889" stroke-width="3.6"/>
<line x1="989.2" y1="396" x2="989.2" y2="403" stroke="#838889" stroke-width="3.6"/>
<circle cx="1172.7" cy="516.8" r="12.5" fill="url(#gO)"/>
<line x1="1212.6" y1="649" x2="1212.6" y2="656" stroke="#838889" stroke-width="3.6"/>
<line x1="989.2" y1="389" x2="989.2" y2="396" stroke="#838889" stroke-width="3.6"/>
<line x1="1212.6" y1="642" x2="1212.6" y2="649" stroke="#838889" stroke-width="3.6"/>
<line x1="989.2" y1="382" x2="989.2" y2="389" stroke="#838889" stroke-width="3.6"/>
<line x1="1091" y1="522.8" x2="1066.8" y2="511.9" stroke="url(#b75)" stroke-width="6"/>
<circle cx="1212.6" cy="792.4" r="21.3" fill="url(#gNi)"/>
<line x1="1212.6" y1="635" x2="1212.6" y2="642" stroke="#838889" stroke-width="3.6"/>
<line x1="989.2" y1="375" x2="989.2" y2="382" stroke="#838889" stroke-width="3.6"/>
<line x1="1191.2" y1="892.1" x2="1198.6" y2="885.8" stroke="#838889" stroke-width="3.6"/>
<line x1="1212.6" y1="628" x2="1212.6" y2="635" stroke="#838889" stroke-width="3.6"/>
<line x1="989.2" y1="368" x2="989.2" y2="375" stroke="#838889" stroke-width="3.6"/>
<line x1="1212.6" y1="621" x2="1212.6" y2="628" stroke="#838889" stroke-width="3.6"/>
<line x1="989.2" y1="361" x2="989.2" y2="368" stroke="#838889" stroke-width="3.6"/>
<line x1="1212.6" y1="614" x2="1212.6" y2="621" stroke="#838889" stroke-width="3.6"/>
<line x1="989.2" y1="354" x2="989.2" y2="361" stroke="#838889" stroke-width="3.6"/>
<circle cx="1061" cy="347.6" r="12.5" fill="url(#gO)"/>
<line x1="1212.6" y1="607" x2="1212.6" y2="614" stroke="#838889" stroke-width="3.6"/>
<circle cx="1029.1" cy="795.4" r="12.5" fill="url(#gO)"/>
<line x1="989.2" y1="347" x2="989.2" y2="354" stroke="#838889" stroke-width="3.6"/>
<line x1="1212.6" y1="600" x2="1212.6" y2="607" stroke="#838889" stroke-width="3.6"/>
<line x1="989.2" y1="340" x2="989.2" y2="347" stroke="#838889" stroke-width="3.6"/>
<line x1="1212.6" y1="772.9" x2="1212.6" y2="726.4" stroke="url(#b19)" stroke-width="6"/><line x1="1212.6" y1="772.9" x2="1212.6" y2="726.4" stroke="#838889" stroke-width="3.6"/>
<line x1="1212.6" y1="593" x2="1212.6" y2="600" stroke="#838889" stroke-width="3.6"/>
<line x1="946.5" y1="894.9" x2="954" y2="888.7" stroke="#838889" stroke-width="3.6"/>
<line x1="989.2" y1="333" x2="989.2" y2="340" stroke="#838889" stroke-width="3.6"/>
<line x1="1212.6" y1="586" x2="1212.6" y2="593" stroke="#838889" stroke-width="3.6"/>
<line x1="989.2" y1="326" x2="989.2" y2="333" stroke="#838889" stroke-width="3.6"/>
<line x1="1212.6" y1="579" x2="1212.6" y2="586" stroke="#838889" stroke-width="3.6"/>
<circle cx="1100.9" cy="604.7" r="12.5" fill="url(#gO)"/>
<line x1="989.2" y1="319" x2="989.2" y2="326" stroke="#838889" stroke-width="3.6"/>
<line x1="1118.8" y1="524.7" x2="1162.2" y2="518.3" stroke="url(#b77)" stroke-width="6"/>
<line x1="1212.6" y1="572" x2="1212.6" y2="579" stroke="#838889" stroke-width="3.6"/>
<line x1="989.2" y1="312" x2="989.2" y2="319" stroke="#838889" stroke-width="3.6"/>
<line x1="1212.6" y1="565" x2="1212.6" y2="572" stroke="#838889" stroke-width="3.6"/>
<line x1="989.2" y1="305" x2="989.2" y2="312" stroke="#838889" stroke-width="3.6"/>
<line x1="1194.7" y1="795" x2="1151.3" y2="801.4" stroke="url(#b20)" stroke-width="6"/>
<circle cx="1212.6" cy="715" r="12.5" fill="url(#gO)"/>
<line x1="1212.6" y1="558" x2="1212.6" y2="565" stroke="#838889" stroke-width="3.6"/>
<line x1="989.2" y1="298" x2="989.2" y2="305" stroke="#838889" stroke-width="3.6"/>
<line x1="1212.6" y1="551" x2="1212.6" y2="558" stroke="#838889" stroke-width="3.6"/>
<line x1="989.2" y1="291" x2="989.2" y2="298" stroke="#838889" stroke-width="3.6"/>
<line x1="1212.6" y1="544" x2="1212.6" y2="551" stroke="#838889" stroke-width="3.6"/>
<line x1="989.2" y1="284" x2="989.2" y2="291" stroke="#838889" stroke-width="3.6"/>
<circle cx="989.2" cy="438.1" r="21.6" fill="url(#gLa)"/>
<line x1="1100.9" y1="546.8" x2="1100.9" y2="593.3" stroke="url(#b73)" stroke-width="6"/>
<line x1="1184.1" y1="898" x2="1191.6" y2="891.8" stroke="#838889" stroke-width="3.6"/>
<line x1="1212.6" y1="537" x2="1212.6" y2="544" stroke="#838889" stroke-width="3.6"/>
<line x1="989.2" y1="277" x2="989.2" y2="284" stroke="#838889" stroke-width="3.6"/>
<circle cx="957.4" cy="885.9" r="21.6" fill="url(#gLa)"/>
<line x1="1212.6" y1="530" x2="1212.6" y2="537" stroke="#838889" stroke-width="3.6"/>
<line x1="989.2" y1="270" x2="989.2" y2="277" stroke="#838889" stroke-width="3.6"/>
<line x1="1212.6" y1="523" x2="1212.6" y2="530" stroke="#838889" stroke-width="3.6"/>
<line x1="989.2" y1="263" x2="989.2" y2="270" stroke="#838889" stroke-width="3.6"/>
<line x1="1212.6" y1="516" x2="1212.6" y2="523" stroke="#838889" stroke-width="3.6"/>
<line x1="989.2" y1="256" x2="989.2" y2="263" stroke="#838889" stroke-width="3.6"/>
<line x1="1212.6" y1="509" x2="1212.6" y2="516" stroke="#838889" stroke-width="3.6"/>
<line x1="989.2" y1="249" x2="989.2" y2="256" stroke="#838889" stroke-width="3.6"/>
<line x1="1212.6" y1="502" x2="1212.6" y2="509" stroke="#838889" stroke-width="3.6"/>
<line x1="989.2" y1="242" x2="989.2" y2="249" stroke="#838889" stroke-width="3.6"/>
<circle cx="1100.9" cy="527.3" r="21.3" fill="url(#gNi)"/>
<line x1="939.5" y1="900.9" x2="946.9" y2="894.6" stroke="#838889" stroke-width="3.6"/>
<line x1="1212.6" y1="495" x2="1212.6" y2="502" stroke="#838889" stroke-width="3.6"/>
<line x1="989.2" y1="235" x2="989.2" y2="242" stroke="#838889" stroke-width="3.6"/>
<circle cx="1172.7" cy="355.1" r="12.5" fill="url(#gO)"/>
<line x1="1212.6" y1="488" x2="1212.6" y2="495" stroke="#838889" stroke-width="3.6"/>
<line x1="989.2" y1="228" x2="989.2" y2="235" stroke="#838889" stroke-width="3.6"/>
<circle cx="1140.8" cy="802.9" r="12.5" fill="url(#gO)"/>
<line x1="1212.6" y1="481" x2="1212.6" y2="488" stroke="#838889" stroke-width="3.6"/>
<line x1="989.2" y1="221" x2="989.2" y2="228" stroke="#838889" stroke-width="3.6"/>
<line x1="1091" y1="359.9" x2="1066.8" y2="350" stroke="url(#b81)" stroke-width="6"/>
<line x1="1212.6" y1="474" x2="1212.6" y2="481" stroke="#838889" stroke-width="3.6"/>
<line x1="989.2" y1="214" x2="989.2" y2="221" stroke="#838889" stroke-width="3.6"/>
<circle cx="917.4" cy="528.6" r="12.5" fill="url(#gO)"/>
<line x1="1059.1" y1="807.6" x2="1035" y2="797.8" stroke="url(#b28)" stroke-width="6"/>
<line x1="1212.6" y1="467" x2="1212.6" y2="474" stroke="#838889" stroke-width="3.6"/>
<line x1="989.2" y1="207" x2="989.2" y2="214" stroke="#838889" stroke-width="3.6"/>
<line x1="1212.6" y1="460" x2="1212.6" y2="467" stroke="#838889" stroke-width="3.6"/>
<line x1="1100.9" y1="507.7" x2="1100.9" y2="457.1" stroke="url(#b72)" stroke-width="6"/>
<line x1="989.2" y1="200" x2="989.2" y2="207" stroke="#838889" stroke-width="3.6"/>
<line x1="1212.6" y1="453" x2="1212.6" y2="460" stroke="#838889" stroke-width="3.6"/>
<circle cx="1212.6" cy="608.9" r="21.6" fill="url(#gLa)"/>
<line x1="989.2" y1="193" x2="989.2" y2="200" stroke="#838889" stroke-width="3.6"/>
<line x1="1212.6" y1="446" x2="1212.6" y2="453" stroke="#838889" stroke-width="3.6"/>
<line x1="989.2" y1="186" x2="989.2" y2="193" stroke="#838889" stroke-width="3.6"/>
<line x1="1177" y1="904" x2="1184.5" y2="897.7" stroke="#838889" stroke-width="3.6"/>
<line x1="1212.6" y1="439" x2="1212.6" y2="446" stroke="#838889" stroke-width="3.6"/>
<line x1="989.2" y1="179" x2="989.2" y2="186" stroke="#838889" stroke-width="3.6"/>
<line x1="1212.6" y1="432" x2="1212.6" y2="439" stroke="#838889" stroke-width="3.6"/>
<line x1="989.2" y1="172" x2="989.2" y2="179" stroke="#838889" stroke-width="3.6"/>
<line x1="1212.6" y1="425" x2="1212.6" y2="432" stroke="#838889" stroke-width="3.6"/>
<line x1="989.2" y1="165" x2="989.2" y2="172" stroke="#838889" stroke-width="3.6"/>
<line x1="1083" y1="529.5" x2="1039.6" y2="534.8" stroke="url(#b74)" stroke-width="6"/>
<circle cx="1100.9" cy="445.6" r="12.5" fill="url(#gO)"/>
<line x1="1212.6" y1="418" x2="1212.6" y2="425" stroke="#838889" stroke-width="3.6"/>
<line x1="989.2" y1="158" x2="989.2" y2="165" stroke="#838889" stroke-width="3.6"/>
<line x1="1118.8" y1="361.7" x2="1162.2" y2="356.4" stroke="url(#b83)" stroke-width="6"/>
<circle cx="1069" cy="893.4" r="12.5" fill="url(#gO)"/>
<line x1="1212.6" y1="411" x2="1212.6" y2="418" stroke="#838889" stroke-width="3.6"/>
<line x1="989.2" y1="151" x2="989.2" y2="158" stroke="#838889" stroke-width="3.6"/>
<line x1="1086.9" y1="809.5" x2="1130.3" y2="804.2" stroke="url(#b29)" stroke-width="6"/>
<line x1="1212.6" y1="404" x2="1212.6" y2="411" stroke="#838889" stroke-width="3.6"/>
<line x1="989.2" y1="144" x2="989.2" y2="151" stroke="#838889" stroke-width="3.6"/>
<line x1="932.4" y1="906.8" x2="939.8" y2="900.6" stroke="#838889" stroke-width="3.6"/>
<line x1="1212.6" y1="397" x2="1212.6" y2="404" stroke="#838889" stroke-width="3.6"/>
<line x1="989.2" y1="137" x2="989.2" y2="144" stroke="#838889" stroke-width="3.6"/>
<line x1="1212.6" y1="390" x2="1212.6" y2="397" stroke="#838889" stroke-width="3.6"/>
<line x1="989.2" y1="130" x2="989.2" y2="137" stroke="#838889" stroke-width="3.6"/>
<circle cx="989.2" cy="282.3" r="21.6" fill="url(#gLa)"/>
<line x1="1212.6" y1="383" x2="1212.6" y2="390" stroke="#838889" stroke-width="3.6"/>
<line x1="989.2" y1="123" x2="989.2" y2="130" stroke="#838889" stroke-width="3.6"/>
<circle cx="957.4" cy="730.1" r="21.6" fill="url(#gLa)"/>
<line x1="1100.9" y1="383.5" x2="1100.9" y2="434.1" stroke="url(#b78)" stroke-width="6"/>
<line x1="1212.6" y1="376" x2="1212.6" y2="383" stroke="#838889" stroke-width="3.6"/>
<line x1="989.2" y1="116" x2="989.2" y2="123" stroke="#838889" stroke-width="3.6"/>
<line x1="1069" y1="831.2" x2="1069" y2="881.9" stroke="url(#b24)" stroke-width="6"/>
<line x1="1212.6" y1="369" x2="1212.6" y2="376" stroke="#838889" stroke-width="3.6"/>
<line x1="989.2" y1="109" x2="989.2" y2="116" stroke="#838889" stroke-width="3.6"/>
<line x1="1110.8" y1="531.3" x2="1135" y2="541.2" stroke="url(#b76)" stroke-width="6"/>
<line x1="1212.6" y1="362" x2="1212.6" y2="369" stroke="#838889" stroke-width="3.6"/>
<line x1="989.2" y1="102" x2="989.2" y2="109" stroke="#838889" stroke-width="3.6"/>
<line x1="1212.6" y1="355" x2="1212.6" y2="362" stroke="#838889" stroke-width="3.6"/>
<line x1="989.2" y1="95" x2="989.2" y2="102" stroke="#838889" stroke-width="3.6"/>
<line x1="1169.9" y1="909.9" x2="1177.4" y2="903.7" stroke="#838889" stroke-width="3.6"/>
<line x1="1212.6" y1="348" x2="1212.6" y2="355" stroke="#838889" stroke-width="3.6"/>
<line x1="989.2" y1="88" x2="989.2" y2="95" stroke="#838889" stroke-width="3.6"/>
<circle cx="1029.1" cy="536.1" r="12.5" fill="url(#gO)"/>
<line x1="1212.6" y1="341" x2="1212.6" y2="348" stroke="#838889" stroke-width="3.6"/>
<line x1="989.2" y1="81" x2="989.2" y2="88" stroke="#838889" stroke-width="3.6"/>
<circle cx="1100.9" cy="363.9" r="21.3" fill="url(#gNi)"/>
<line x1="1212.6" y1="334" x2="1212.6" y2="341" stroke="#838889" stroke-width="3.6"/>
<line x1="989.2" y1="74" x2="989.2" y2="81" stroke="#838889" stroke-width="3.6"/>
<line x1="947.4" y1="542" x2="923.3" y2="531.2" stroke="url(#b51)" stroke-width="6"/>
<circle cx="1069" cy="811.7" r="21.3" fill="url(#gNi)"/>
<line x1="1212.6" y1="327" x2="1212.6" y2="334" stroke="#838889" stroke-width="3.6"/>
<line x1="989.2" y1="67" x2="989.2" y2="74" stroke="#838889" stroke-width="3.6"/>
<line x1="1212.6" y1="320" x2="1212.6" y2="327" stroke="#838889" stroke-width="3.6"/>
<line x1="989.2" y1="60" x2="989.2" y2="67" stroke="#838889" stroke-width="3.6"/>
<line x1="1212.6" y1="313" x2="1212.6" y2="320" stroke="#838889" stroke-width="3.6"/>
<line x1="989.2" y1="53" x2="989.2" y2="60" stroke="#838889" stroke-width="3.6"/>
<circle cx="917.4" cy="366.9" r="12.5" fill="url(#gO)"/>
<line x1="925.3" y1="912.8" x2="932.8" y2="906.5" stroke="#838889" stroke-width="3.6"/>
<line x1="1212.6" y1="306" x2="1212.6" y2="313" stroke="#838889" stroke-width="3.6"/>
<line x1="989.2" y1="46" x2="989.2" y2="53" stroke="#838889" stroke-width="3.6"/>
<line x1="1212.6" y1="299" x2="1212.6" y2="306" stroke="#838889" stroke-width="3.6"/>
<line x1="1100.9" y1="344.4" x2="1100.9" y2="297.9" stroke="url(#b79)" stroke-width="6"/>
<line x1="989.2" y1="39" x2="989.2" y2="46" stroke="#838889" stroke-width="3.6"/>
<circle cx="1212.6" cy="453.1" r="21.6" fill="url(#gLa)"/>
<line x1="1212.6" y1="292" x2="1212.6" y2="299" stroke="#838889" stroke-width="3.6"/>
<line x1="1069" y1="792.1" x2="1069" y2="745.7" stroke="url(#b25)" stroke-width="6"/>
<line x1="989.2" y1="32" x2="989.2" y2="39" stroke="#838889" stroke-width="3.6"/>
<circle cx="1180.8" cy="900.9" r="21.6" fill="url(#gLa)"/>
<line x1="1212.6" y1="285" x2="1212.6" y2="292" stroke="#838889" stroke-width="3.6"/>
<line x1="989.2" y1="25" x2="989.2" y2="32" stroke="#838889" stroke-width="3.6"/>
<circle cx="989.2" cy="176.2" r="12.5" fill="url(#gO)"/>
<line x1="1212.6" y1="278" x2="1212.6" y2="285" stroke="#838889" stroke-width="3.6"/>
<line x1="989.2" y1="17.1" x2="989.2" y2="25" stroke="#838889" stroke-width="3.6"/>
<circle cx="957.4" cy="624" r="12.5" fill="url(#gO)"/>
<line x1="1212.6" y1="271" x2="1212.6" y2="278" stroke="#838889" stroke-width="3.6"/>
<line x1="975.2" y1="543.9" x2="1018.6" y2="537.6" stroke="url(#b53)" stroke-width="6"/>
<line x1="989" y1="17.1" x2="998.8" y2="17.7" stroke="#838889" stroke-width="3.6"/>
<line x1="1212.6" y1="264" x2="1212.6" y2="271" stroke="#838889" stroke-width="3.6"/>
<line x1="1083" y1="366.5" x2="1039.6" y2="372.9" stroke="url(#b80)" stroke-width="6"/>
<circle cx="1100.9" cy="286.5" r="12.5" fill="url(#gO)"/>
<line x1="998.3" y1="17.7" x2="1008.1" y2="18.4" stroke="#838889" stroke-width="3.6"/>
<line x1="1212.6" y1="257" x2="1212.6" y2="264" stroke="#838889" stroke-width="3.6"/>
<line x1="925.5" y1="904" x2="925.5" y2="912.6" stroke="#838889" stroke-width="3.6"/>
<line x1="1051.2" y1="814.3" x2="1007.8" y2="820.6" stroke="url(#b26)" stroke-width="6"/>
<line x1="925.3" y1="912.6" x2="935.1" y2="913.2" stroke="#838889" stroke-width="3.6"/>
<circle cx="1069" cy="734.2" r="12.5" fill="url(#gO)"/>
<line x1="1162.9" y1="915.9" x2="1170.3" y2="909.6" stroke="#838889" stroke-width="3.6"/>
<line x1="1212.6" y1="250" x2="1212.6" y2="257" stroke="#838889" stroke-width="3.6"/>
<line x1="925.5" y1="897" x2="925.5" y2="904" stroke="#838889" stroke-width="3.6"/>
<line x1="1007.6" y1="18.3" x2="1017.4" y2="19" stroke="#838889" stroke-width="3.6"/>
<line x1="934.6" y1="913.2" x2="944.4" y2="913.9" stroke="#838889" stroke-width="3.6"/>
<line x1="1212.6" y1="243" x2="1212.6" y2="250" stroke="#838889" stroke-width="3.6"/>
<line x1="925.5" y1="890" x2="925.5" y2="897" stroke="#838889" stroke-width="3.6"/>
<line x1="989.2" y1="118.3" x2="989.2" y2="164.8" stroke="url(#b16)" stroke-width="6"/><line x1="989.2" y1="118.3" x2="989.2" y2="164.8" stroke="#838889" stroke-width="3.6" stroke-dasharray="4 3"/>
<line x1="1016.9" y1="19" x2="1026.7" y2="19.6" stroke="#838889" stroke-width="3.6"/>
<line x1="1212.6" y1="236" x2="1212.6" y2="243" stroke="#838889" stroke-width="3.6"/>
<line x1="943.9" y1="913.8" x2="953.7" y2="914.5" stroke="#838889" stroke-width="3.6"/>
<line x1="957.4" y1="566.1" x2="957.4" y2="612.5" stroke="url(#b49)" stroke-width="6"/>
<line x1="925.5" y1="883" x2="925.5" y2="890" stroke="#838889" stroke-width="3.6"/>
<line x1="1212.6" y1="229" x2="1212.6" y2="236" stroke="#838889" stroke-width="3.6"/>
<line x1="1026.2" y1="19.6" x2="1036" y2="20.2" stroke="#838889" stroke-width="3.6"/>
<line x1="925.5" y1="876" x2="925.5" y2="883" stroke="#838889" stroke-width="3.6"/>
<line x1="981.9" y1="23.2" x2="989.4" y2="16.9" stroke="#838889" stroke-width="3.6"/>
<line x1="953.2" y1="914.5" x2="963" y2="915.1" stroke="#838889" stroke-width="3.6"/>
<line x1="1212.6" y1="222" x2="1212.6" y2="229" stroke="#838889" stroke-width="3.6"/>
<line x1="925.5" y1="869" x2="925.5" y2="876" stroke="#838889" stroke-width="3.6"/>
<line x1="1035.5" y1="20.2" x2="1045.3" y2="20.9" stroke="#838889" stroke-width="3.6"/>
<line x1="1212.6" y1="215" x2="1212.6" y2="222" stroke="#838889" stroke-width="3.6"/>
<line x1="962.5" y1="915.1" x2="972.3" y2="915.7" stroke="#838889" stroke-width="3.6"/>
<line x1="925.5" y1="862" x2="925.5" y2="869" stroke="#838889" stroke-width="3.6"/>
<line x1="1212.6" y1="208" x2="1212.6" y2="215" stroke="#838889" stroke-width="3.6"/>
<line x1="1044.8" y1="20.8" x2="1054.6" y2="21.5" stroke="#838889" stroke-width="3.6"/>
<line x1="925.5" y1="855" x2="925.5" y2="862" stroke="#838889" stroke-width="3.6"/>
<line x1="971.8" y1="915.7" x2="981.6" y2="916.4" stroke="#838889" stroke-width="3.6"/>
<circle cx="989.2" cy="98.8" r="21.3" fill="url(#gNi)"/>
<line x1="1212.6" y1="201" x2="1212.6" y2="208" stroke="#838889" stroke-width="3.6"/>
<line x1="1110.8" y1="368.4" x2="1135" y2="379.3" stroke="url(#b82)" stroke-width="6"/>
<line x1="925.5" y1="848" x2="925.5" y2="855" stroke="#838889" stroke-width="3.6"/>
<line x1="1054.1" y1="21.5" x2="1063.9" y2="22.1" stroke="#838889" stroke-width="3.6"/>
<circle cx="957.4" cy="546.5" r="21.3" fill="url(#gNi)"/>
<line x1="1212.6" y1="194" x2="1212.6" y2="201" stroke="#838889" stroke-width="3.6"/>
<line x1="1079" y1="816.2" x2="1103.1" y2="827" stroke="url(#b27)" stroke-width="6"/>
<line x1="981.1" y1="916.3" x2="990.9" y2="917" stroke="#838889" stroke-width="3.6"/>
<line x1="925.5" y1="841" x2="925.5" y2="848" stroke="#838889" stroke-width="3.6"/>
<line x1="1212.6" y1="187" x2="1212.6" y2="194" stroke="#838889" stroke-width="3.6"/>
<line x1="1063.4" y1="22.1" x2="1073.2" y2="22.7" stroke="#838889" stroke-width="3.6"/>
<circle cx="1029.1" cy="374.4" r="12.5" fill="url(#gO)"/>
<line x1="925.5" y1="834" x2="925.5" y2="841" stroke="#838889" stroke-width="3.6"/>
<line x1="990.4" y1="917" x2="1000.2" y2="917.6" stroke="#838889" stroke-width="3.6"/>
<line x1="1212.6" y1="180" x2="1212.6" y2="187" stroke="#838889" stroke-width="3.6"/>
<circle cx="997.3" cy="822.1" r="12.5" fill="url(#gO)"/>
<line x1="925.5" y1="827" x2="925.5" y2="834" stroke="#838889" stroke-width="3.6"/>
<line x1="1072.7" y1="22.7" x2="1082.5" y2="23.4" stroke="#838889" stroke-width="3.6"/>
<line x1="1212.6" y1="173" x2="1212.6" y2="180" stroke="#838889" stroke-width="3.6"/>
<line x1="999.7" y1="917.6" x2="1009.5" y2="918.2" stroke="#838889" stroke-width="3.6"/>
<line x1="925.5" y1="820" x2="925.5" y2="827" stroke="#838889" stroke-width="3.6"/>
<line x1="947.4" y1="379.1" x2="923.3" y2="369.3" stroke="url(#b57)" stroke-width="6"/>
<line x1="1212.6" y1="166" x2="1212.6" y2="173" stroke="#838889" stroke-width="3.6"/>
<line x1="1082" y1="23.3" x2="1091.8" y2="24" stroke="#838889" stroke-width="3.6"/>
<line x1="925.5" y1="813" x2="925.5" y2="820" stroke="#838889" stroke-width="3.6"/>
<line x1="1009" y1="918.2" x2="1018.8" y2="918.9" stroke="#838889" stroke-width="3.6"/>
<line x1="989.2" y1="79.2" x2="989.2" y2="28.6" stroke="url(#b15)" stroke-width="6"/><line x1="989.2" y1="79.2" x2="989.2" y2="28.6" stroke="#838889" stroke-width="3.6" stroke-dasharray="4 3"/>
<line x1="1212.6" y1="159" x2="1212.6" y2="166" stroke="#838889" stroke-width="3.6"/>
<line x1="1155.8" y1="921.8" x2="1163.2" y2="915.6" stroke="#838889" stroke-width="3.6"/>
<line x1="925.5" y1="806" x2="925.5" y2="813" stroke="#838889" stroke-width="3.6"/>
<line x1="1091.3" y1="24" x2="1101.1" y2="24.6" stroke="#838889" stroke-width="3.6"/>
<line x1="957.4" y1="527" x2="957.4" y2="476.3" stroke="url(#b48)" stroke-width="6"/>
<circle cx="1100.9" cy="180.4" r="21.6" fill="url(#gLa)"/>
<line x1="1018.3" y1="918.8" x2="1028.1" y2="919.5" stroke="#838889" stroke-width="3.6"/>
<line x1="1212.6" y1="152" x2="1212.6" y2="159" stroke="#838889" stroke-width="3.6"/>
<line x1="925.5" y1="799" x2="925.5" y2="806" stroke="#838889" stroke-width="3.6"/>
<circle cx="1069" cy="628.1" r="21.6" fill="url(#gLa)"/>
<line x1="1100.7" y1="24.6" x2="1110.5" y2="25.2" stroke="#838889" stroke-width="3.6"/>
<line x1="1212.6" y1="145" x2="1212.6" y2="152" stroke="#838889" stroke-width="3.6"/>
<line x1="1027.6" y1="919.5" x2="1037.4" y2="920.1" stroke="#838889" stroke-width="3.6"/>
<line x1="925.5" y1="792" x2="925.5" y2="799" stroke="#838889" stroke-width="3.6"/>
<circle cx="1212.6" cy="297.3" r="21.6" fill="url(#gLa)"/>
<line x1="1212.6" y1="138" x2="1212.6" y2="145" stroke="#838889" stroke-width="3.6"/>
<line x1="1110" y1="25.2" x2="1119.8" y2="25.9" stroke="#838889" stroke-width="3.6"/>
<line x1="925.5" y1="785" x2="925.5" y2="792" stroke="#838889" stroke-width="3.6"/>
<circle cx="1180.8" cy="745.1" r="21.6" fill="url(#gLa)"/>
<line x1="1037" y1="920.1" x2="1046.8" y2="920.7" stroke="#838889" stroke-width="3.6"/>
<line x1="1212.6" y1="131" x2="1212.6" y2="138" stroke="#838889" stroke-width="3.6"/>
<line x1="974.9" y1="29.1" x2="982.3" y2="22.9" stroke="#838889" stroke-width="3.6"/>
<line x1="925.5" y1="778" x2="925.5" y2="785" stroke="#838889" stroke-width="3.6"/>
<line x1="1119.3" y1="25.8" x2="1129.1" y2="26.5" stroke="#838889" stroke-width="3.6"/>
<line x1="1212.6" y1="124" x2="1212.6" y2="131" stroke="#838889" stroke-width="3.6"/>
<line x1="1046.3" y1="920.7" x2="1056.1" y2="921.4" stroke="#838889" stroke-width="3.6"/>
<line x1="925.5" y1="771" x2="925.5" y2="778" stroke="#838889" stroke-width="3.6"/>
<circle cx="989.2" cy="17.1" r="12.5" fill="url(#gO)"/>
<polygon points="1180.8,639 1252.5,551.1 1140.8,543.6" fill="#6a94c6" fill-opacity="0.5" stroke="#111" stroke-width="1.7" stroke-linejoin="round"/>
<line x1="939.5" y1="548.7" x2="896.1" y2="554" stroke="url(#b50)" stroke-width="6"/>
<line x1="1212.6" y1="117" x2="1212.6" y2="124" stroke="#838889" stroke-width="3.6"/>
<line x1="1128.6" y1="26.5" x2="1138.4" y2="27.1" stroke="#838889" stroke-width="3.6"/>
<line x1="925.5" y1="764" x2="925.5" y2="771" stroke="#838889" stroke-width="3.6"/>
<circle cx="957.4" cy="464.9" r="12.5" fill="url(#gO)"/>
<line x1="1055.6" y1="921.3" x2="1065.4" y2="922" stroke="#838889" stroke-width="3.6"/>
<line x1="1212.6" y1="110" x2="1212.6" y2="117" stroke="#838889" stroke-width="3.6"/>
<line x1="975.2" y1="381" x2="1018.6" y2="375.7" stroke="url(#b59)" stroke-width="6"/>
<line x1="925.5" y1="757" x2="925.5" y2="764" stroke="#838889" stroke-width="3.6"/>
<circle cx="925.5" cy="912.6" r="12.5" fill="url(#gO)"/>
<line x1="1137.9" y1="27.1" x2="1147.7" y2="27.7" stroke="#838889" stroke-width="3.6"/>
<line x1="1212.6" y1="103" x2="1212.6" y2="110" stroke="#838889" stroke-width="3.6"/>
<line x1="1064.9" y1="922" x2="1074.7" y2="922.6" stroke="#838889" stroke-width="3.6"/>
<line x1="943.4" y1="828.7" x2="986.8" y2="823.4" stroke="url(#b2)" stroke-width="6"/>
<line x1="925.5" y1="750" x2="925.5" y2="757" stroke="#838889" stroke-width="3.6"/>
<line x1="1212.6" y1="96" x2="1212.6" y2="103" stroke="#838889" stroke-width="3.6"/>
<line x1="1147.2" y1="27.7" x2="1157" y2="28.4" stroke="#838889" stroke-width="3.6"/>
<line x1="925.5" y1="743" x2="925.5" y2="750" stroke="#838889" stroke-width="3.6"/>
<line x1="1074.2" y1="922.6" x2="1084" y2="923.2" stroke="#838889" stroke-width="3.6"/>
<line x1="1212.6" y1="89" x2="1212.6" y2="96" stroke="#838889" stroke-width="3.6"/>
<line x1="1170.8" y1="557" x2="1146.7" y2="546.2" stroke="url(#b63)" stroke-width="6"/>
<line x1="925.5" y1="736" x2="925.5" y2="743" stroke="#838889" stroke-width="3.6"/>
<line x1="1156.5" y1="28.3" x2="1166.3" y2="29" stroke="#838889" stroke-width="3.6"/>
<line x1="1212.6" y1="82" x2="1212.6" y2="89" stroke="#838889" stroke-width="3.6"/>
<line x1="1083.5" y1="923.2" x2="1093.3" y2="923.9" stroke="#838889" stroke-width="3.6"/>
<line x1="925.5" y1="729" x2="925.5" y2="736" stroke="#838889" stroke-width="3.6"/>
<line x1="1212.6" y1="75" x2="1212.6" y2="82" stroke="#838889" stroke-width="3.6"/>
<line x1="1165.8" y1="29" x2="1175.6" y2="29.6" stroke="#838889" stroke-width="3.6"/>
<line x1="957.4" y1="402.7" x2="957.4" y2="453.4" stroke="url(#b54)" stroke-width="6"/>
<line x1="925.5" y1="722" x2="925.5" y2="729" stroke="#838889" stroke-width="3.6"/>
<line x1="1092.8" y1="923.8" x2="1102.6" y2="924.5" stroke="#838889" stroke-width="3.6"/>
<line x1="1212.6" y1="68" x2="1212.6" y2="75" stroke="#838889" stroke-width="3.6"/>
<polygon points="1180.8,479.9 1252.5,551.1 1140.8,543.6" fill="#6a94c6" fill-opacity="0.5" stroke="#111" stroke-width="1.7" stroke-linejoin="round"/>
<line x1="925.5" y1="850.5" x2="925.5" y2="901.1" stroke="url(#b0)" stroke-width="6"/><line x1="925.5" y1="850.5" x2="925.5" y2="901.1" stroke="#838889" stroke-width="3.6"/>
<line x1="925.5" y1="715" x2="925.5" y2="722" stroke="#838889" stroke-width="3.6"/>
<line x1="1175.1" y1="29.6" x2="1184.9" y2="30.2" stroke="#838889" stroke-width="3.6"/>
<line x1="999.1" y1="102.8" x2="1023.3" y2="112.7" stroke="url(#b17)" stroke-width="6"/>
<line x1="1148.7" y1="927.8" x2="1156.2" y2="921.5" stroke="#838889" stroke-width="3.6"/>
<line x1="1102.1" y1="924.5" x2="1111.9" y2="925.1" stroke="#838889" stroke-width="3.6"/>
<line x1="1212.6" y1="61" x2="1212.6" y2="68" stroke="#838889" stroke-width="3.6"/>
<line x1="925.5" y1="708" x2="925.5" y2="715" stroke="#838889" stroke-width="3.6"/>
<line x1="967.3" y1="550.6" x2="991.4" y2="560.4" stroke="url(#b52)" stroke-width="6"/>
<circle cx="1109" cy="829.6" r="12.5" fill="url(#gO)"/>
<line x1="1212.6" y1="54" x2="1212.6" y2="61" stroke="#838889" stroke-width="3.6"/>
<line x1="1184.4" y1="30.2" x2="1194.2" y2="30.9" stroke="#838889" stroke-width="3.6"/>
<line x1="925.5" y1="701" x2="925.5" y2="708" stroke="#838889" stroke-width="3.6"/>
<line x1="1111.4" y1="925.1" x2="1121.2" y2="925.7" stroke="#838889" stroke-width="3.6"/>
<line x1="1212.6" y1="47" x2="1212.6" y2="54" stroke="#838889" stroke-width="3.6"/>
<line x1="925.5" y1="694" x2="925.5" y2="701" stroke="#838889" stroke-width="3.6"/>
<line x1="1193.7" y1="30.8" x2="1203.5" y2="31.5" stroke="#838889" stroke-width="3.6"/>
<circle cx="885.6" cy="555.3" r="12.5" fill="url(#gO)"/>
<line x1="1120.7" y1="925.7" x2="1130.5" y2="926.4" stroke="#838889" stroke-width="3.6"/>
<line x1="1212.6" y1="40" x2="1212.6" y2="47" stroke="#838889" stroke-width="3.6"/>
<line x1="925.5" y1="687" x2="925.5" y2="694" stroke="#838889" stroke-width="3.6"/>
<circle cx="1212.6" cy="191.2" r="12.5" fill="url(#gO)"/>
<line x1="967.8" y1="35.1" x2="975.2" y2="28.8" stroke="#838889" stroke-width="3.6"/>
<line x1="1203" y1="31.5" x2="1212.8" y2="32.1" stroke="#838889" stroke-width="3.6"/>
<line x1="1212.6" y1="32.1" x2="1212.6" y2="40" stroke="#838889" stroke-width="3.6"/>
<circle cx="957.4" cy="383.2" r="21.3" fill="url(#gNi)"/>
<line x1="1130" y1="926.3" x2="1139.8" y2="927" stroke="#838889" stroke-width="3.6"/>
<line x1="925.5" y1="680" x2="925.5" y2="687" stroke="#838889" stroke-width="3.6"/>
<line x1="1198.6" y1="558.9" x2="1242" y2="552.6" stroke="url(#b65)" stroke-width="6"/>
<circle cx="925.5" cy="830.9" r="21.3" fill="url(#gNi)"/>
<line x1="925.5" y1="673" x2="925.5" y2="680" stroke="#838889" stroke-width="3.6"/>
<line x1="1139.3" y1="927" x2="1149.1" y2="927.6" stroke="#838889" stroke-width="3.6"/>
<polygon points="1180.8,639 1140.8,543.6 1109,570.3" fill="#6a94c6" fill-opacity="0.5" stroke="#111" stroke-width="1.7" stroke-linejoin="round"/>
<line x1="925.5" y1="666" x2="925.5" y2="673" stroke="#838889" stroke-width="3.6"/>
<line x1="1148.9" y1="919" x2="1148.9" y2="927.6" stroke="#838889" stroke-width="3.6"/>
<line x1="925.5" y1="659" x2="925.5" y2="666" stroke="#838889" stroke-width="3.6"/>
<line x1="1148.9" y1="912" x2="1148.9" y2="919" stroke="#838889" stroke-width="3.6"/>
<line x1="925.5" y1="652" x2="925.5" y2="659" stroke="#838889" stroke-width="3.6"/>
<circle cx="1100.9" cy="24.6" r="21.6" fill="url(#gLa)"/>
<line x1="1148.9" y1="905" x2="1148.9" y2="912" stroke="#838889" stroke-width="3.6"/>
<line x1="1212.6" y1="133.3" x2="1212.6" y2="179.8" stroke="url(#b22)" stroke-width="6"/><line x1="1212.6" y1="133.3" x2="1212.6" y2="179.8" stroke="#838889" stroke-width="3.6"/>
<line x1="925.5" y1="645" x2="925.5" y2="652" stroke="#838889" stroke-width="3.6"/>
<line x1="957.4" y1="363.6" x2="957.4" y2="317.2" stroke="url(#b55)" stroke-width="6"/>
<circle cx="1069" cy="472.4" r="21.6" fill="url(#gLa)"/>
<line x1="1180.8" y1="581.1" x2="1180.8" y2="627.5" stroke="url(#b61)" stroke-width="6"/>
<line x1="1148.9" y1="898" x2="1148.9" y2="905" stroke="#838889" stroke-width="3.6"/>
<line x1="925.5" y1="638" x2="925.5" y2="645" stroke="#838889" stroke-width="3.6"/>
<line x1="925.5" y1="811.4" x2="925.5" y2="764.9" stroke="url(#b1)" stroke-width="6"/><line x1="925.5" y1="811.4" x2="925.5" y2="764.9" stroke="#838889" stroke-width="3.6"/>
<circle cx="1037.2" cy="920.1" r="21.6" fill="url(#gLa)"/>
<line x1="1148.9" y1="891" x2="1148.9" y2="898" stroke="#838889" stroke-width="3.6"/>
<line x1="925.5" y1="631" x2="925.5" y2="638" stroke="#838889" stroke-width="3.6"/>
<line x1="1205.3" y1="38.2" x2="1212.8" y2="31.9" stroke="#838889" stroke-width="3.6"/>
<line x1="1148.9" y1="884" x2="1148.9" y2="891" stroke="#838889" stroke-width="3.6"/>
<line x1="925.5" y1="624" x2="925.5" y2="631" stroke="#838889" stroke-width="3.6"/>
<line x1="1148.9" y1="877" x2="1148.9" y2="884" stroke="#838889" stroke-width="3.6"/>
<line x1="925.5" y1="617" x2="925.5" y2="624" stroke="#838889" stroke-width="3.6"/>
<polygon points="1180.8,479.9 1140.8,543.6 1109,570.3" fill="#6a94c6" fill-opacity="0.5" stroke="#111" stroke-width="1.7" stroke-linejoin="round"/>
<circle cx="1140.8" cy="543.6" r="12.5" fill="url(#gO)"/>
<line x1="1148.9" y1="870" x2="1148.9" y2="877" stroke="#838889" stroke-width="3.6"/>
<line x1="925.5" y1="610" x2="925.5" y2="617" stroke="#838889" stroke-width="3.6"/>
<polygon points="1180.8,479.9 1252.5,389.4 1140.8,381.9" fill="#6a94c6" fill-opacity="0.5" stroke="#111" stroke-width="1.7" stroke-linejoin="round"/>
<circle cx="1212.6" cy="113.8" r="21.3" fill="url(#gNi)"/>
<line x1="939.5" y1="385.8" x2="896.1" y2="392.1" stroke="url(#b56)" stroke-width="6"/>
<line x1="1148.9" y1="863" x2="1148.9" y2="870" stroke="#838889" stroke-width="3.6"/>
<circle cx="957.4" cy="305.7" r="12.5" fill="url(#gO)"/>
<line x1="925.5" y1="603" x2="925.5" y2="610" stroke="#838889" stroke-width="3.6"/>
<circle cx="1180.8" cy="561.5" r="21.3" fill="url(#gNi)"/>
<circle cx="925.5" cy="753.5" r="12.5" fill="url(#gO)"/>
<line x1="1148.9" y1="856" x2="1148.9" y2="863" stroke="#838889" stroke-width="3.6"/>
<line x1="925.5" y1="596" x2="925.5" y2="603" stroke="#838889" stroke-width="3.6"/>
<line x1="1148.9" y1="849" x2="1148.9" y2="856" stroke="#838889" stroke-width="3.6"/>
<line x1="960.7" y1="41" x2="968.2" y2="34.8" stroke="#838889" stroke-width="3.6"/>
<line x1="925.5" y1="589" x2="925.5" y2="596" stroke="#838889" stroke-width="3.6"/>
<polygon points="1180.8,639 1220.7,577.8 1252.5,551.1" fill="#6a94c6" fill-opacity="0.5" stroke="#111" stroke-width="1.7" stroke-linejoin="round"/>
<line x1="1148.9" y1="842" x2="1148.9" y2="849" stroke="#838889" stroke-width="3.6"/>
<line x1="925.5" y1="582" x2="925.5" y2="589" stroke="#838889" stroke-width="3.6"/>
<line x1="1148.9" y1="835" x2="1148.9" y2="842" stroke="#838889" stroke-width="3.6"/>
<circle cx="1029.1" cy="115.1" r="12.5" fill="url(#gO)"/>
<line x1="1170.8" y1="394.1" x2="1146.7" y2="384.3" stroke="url(#b69)" stroke-width="6"/>
<line x1="925.5" y1="575" x2="925.5" y2="582" stroke="#838889" stroke-width="3.6"/>
<line x1="1148.9" y1="828" x2="1148.9" y2="835" stroke="#838889" stroke-width="3.6"/>
<circle cx="997.3" cy="562.8" r="12.5" fill="url(#gO)"/>
<line x1="1139" y1="841.9" x2="1114.8" y2="832" stroke="url(#b8)" stroke-width="6"/>
<line x1="925.5" y1="568" x2="925.5" y2="575" stroke="#838889" stroke-width="3.6"/>
<line x1="1212.6" y1="94.2" x2="1212.6" y2="43.6" stroke="url(#b21)" stroke-width="6"/><line x1="1212.6" y1="94.2" x2="1212.6" y2="43.6" stroke="#838889" stroke-width="3.6"/>
<line x1="1148.9" y1="821" x2="1148.9" y2="828" stroke="#838889" stroke-width="3.6"/>
<line x1="925.5" y1="561" x2="925.5" y2="568" stroke="#838889" stroke-width="3.6"/>
<line x1="1180.8" y1="542" x2="1180.8" y2="491.3" stroke="url(#b60)" stroke-width="6"/>
<line x1="1148.9" y1="814" x2="1148.9" y2="821" stroke="#838889" stroke-width="3.6"/>
<polygon points="1180.8,320.7 1252.5,389.4 1140.8,381.9" fill="#6a94c6" fill-opacity="0.5" stroke="#111" stroke-width="1.7" stroke-linejoin="round"/>
<line x1="925.5" y1="554" x2="925.5" y2="561" stroke="#838889" stroke-width="3.6"/>
<line x1="1148.9" y1="807" x2="1148.9" y2="814" stroke="#838889" stroke-width="3.6"/>
<line x1="925.5" y1="547" x2="925.5" y2="554" stroke="#838889" stroke-width="3.6"/>
<line x1="967.3" y1="387.7" x2="991.4" y2="398.5" stroke="url(#b58)" stroke-width="6"/>
<line x1="1148.9" y1="800" x2="1148.9" y2="807" stroke="#838889" stroke-width="3.6"/>
<line x1="925.5" y1="540" x2="925.5" y2="547" stroke="#838889" stroke-width="3.6"/>
<line x1="1198.3" y1="44.1" x2="1205.7" y2="37.9" stroke="#838889" stroke-width="3.6"/>
<line x1="1148.9" y1="793" x2="1148.9" y2="800" stroke="#838889" stroke-width="3.6"/>
<line x1="925.5" y1="533" x2="925.5" y2="540" stroke="#838889" stroke-width="3.6"/>
<polygon points="1180.8,479.9 1220.7,577.8 1252.5,551.1" fill="#6a94c6" fill-opacity="0.5" stroke="#111" stroke-width="1.7" stroke-linejoin="round"/>
<circle cx="1252.5" cy="551.1" r="12.5" fill="url(#gO)"/>
<line x1="1194.7" y1="116" x2="1151.3" y2="121.3" stroke="url(#b23)" stroke-width="6"/>
<circle cx="885.6" cy="393.6" r="12.5" fill="url(#gO)"/>
<line x1="1148.9" y1="786" x2="1148.9" y2="793" stroke="#838889" stroke-width="3.6"/>
<line x1="925.5" y1="526" x2="925.5" y2="533" stroke="#838889" stroke-width="3.6"/>
<circle cx="1212.6" cy="32.1" r="12.5" fill="url(#gO)"/>
<line x1="1162.9" y1="563.7" x2="1119.5" y2="569" stroke="url(#b62)" stroke-width="6"/>
<line x1="1148.9" y1="779" x2="1148.9" y2="786" stroke="#838889" stroke-width="3.6"/>
<line x1="925.5" y1="519" x2="925.5" y2="526" stroke="#838889" stroke-width="3.6"/>
<line x1="1198.6" y1="396" x2="1242" y2="390.7" stroke="url(#b71)" stroke-width="6"/>
<line x1="1148.9" y1="772" x2="1148.9" y2="779" stroke="#838889" stroke-width="3.6"/>
<circle cx="1148.9" cy="927.6" r="12.5" fill="url(#gO)"/>
<line x1="925.5" y1="512" x2="925.5" y2="519" stroke="#838889" stroke-width="3.6"/>
<line x1="1148.9" y1="765" x2="1148.9" y2="772" stroke="#838889" stroke-width="3.6"/>
<polygon points="1180.8,479.9 1140.8,381.9 1109,408.6" fill="#6a94c6" fill-opacity="0.5" stroke="#111" stroke-width="1.7" stroke-linejoin="round"/>
<line x1="925.5" y1="505" x2="925.5" y2="512" stroke="#838889" stroke-width="3.6"/>
<line x1="1148.9" y1="758" x2="1148.9" y2="765" stroke="#838889" stroke-width="3.6"/>
<line x1="925.5" y1="498" x2="925.5" y2="505" stroke="#838889" stroke-width="3.6"/>
<circle cx="957.4" cy="199.6" r="21.6" fill="url(#gLa)"/>
<line x1="953.6" y1="47" x2="961.1" y2="40.7" stroke="#838889" stroke-width="3.6"/>
<line x1="1148.9" y1="751" x2="1148.9" y2="758" stroke="#838889" stroke-width="3.6"/>
<circle cx="925.5" cy="647.4" r="21.6" fill="url(#gLa)"/>
<line x1="925.5" y1="491" x2="925.5" y2="498" stroke="#838889" stroke-width="3.6"/>
<circle cx="1069" cy="316.6" r="21.6" fill="url(#gLa)"/>
<line x1="1148.9" y1="744" x2="1148.9" y2="751" stroke="#838889" stroke-width="3.6"/>
<line x1="925.5" y1="484" x2="925.5" y2="491" stroke="#838889" stroke-width="3.6"/>
<polygon points="1180.8,639 1109,570.3 1220.7,577.8" fill="#6a94c6" fill-opacity="0.5" stroke="#111" stroke-width="1.7" stroke-linejoin="round"/>
<circle cx="1180.8" cy="639" r="12.5" fill="url(#gO)"/>
<circle cx="1037.2" cy="764.3" r="21.6" fill="url(#gLa)"/>
<line x1="1180.8" y1="417.7" x2="1180.8" y2="468.4" stroke="url(#b66)" stroke-width="6"/>
<line x1="1148.9" y1="737" x2="1148.9" y2="744" stroke="#838889" stroke-width="3.6"/>
<line x1="925.5" y1="477" x2="925.5" y2="484" stroke="#838889" stroke-width="3.6"/>
<line x1="1148.9" y1="865.5" x2="1148.9" y2="916.1" stroke="url(#b6)" stroke-width="6"/><line x1="1148.9" y1="865.5" x2="1148.9" y2="916.1" stroke="#838889" stroke-width="3.6"/>
<line x1="1148.9" y1="730" x2="1148.9" y2="737" stroke="#838889" stroke-width="3.6"/>
<line x1="925.5" y1="470" x2="925.5" y2="477" stroke="#838889" stroke-width="3.6"/>
<line x1="1148.9" y1="723" x2="1148.9" y2="730" stroke="#838889" stroke-width="3.6"/>
<line x1="925.5" y1="463" x2="925.5" y2="470" stroke="#838889" stroke-width="3.6"/>
<line x1="1190.7" y1="565.6" x2="1214.8" y2="575.4" stroke="url(#b64)" stroke-width="6"/>
<line x1="1148.9" y1="716" x2="1148.9" y2="723" stroke="#838889" stroke-width="3.6"/>
<line x1="925.5" y1="456" x2="925.5" y2="463" stroke="#838889" stroke-width="3.6"/>
<circle cx="1140.8" cy="122.6" r="12.5" fill="url(#gO)"/>
<polygon points="1180.8,320.7 1140.8,381.9 1109,408.6" fill="#6a94c6" fill-opacity="0.5" stroke="#111" stroke-width="1.7" stroke-linejoin="round"/>
<circle cx="1140.8" cy="381.9" r="12.5" fill="url(#gO)"/>
<line x1="1148.9" y1="709" x2="1148.9" y2="716" stroke="#838889" stroke-width="3.6"/>
<line x1="925.5" y1="449" x2="925.5" y2="456" stroke="#838889" stroke-width="3.6"/>
<line x1="1148.9" y1="702" x2="1148.9" y2="709" stroke="#838889" stroke-width="3.6"/>
<line x1="925.5" y1="442" x2="925.5" y2="449" stroke="#838889" stroke-width="3.6"/>
<line x1="1191.2" y1="50.1" x2="1198.6" y2="43.8" stroke="#838889" stroke-width="3.6"/>
<line x1="1059.1" y1="128.5" x2="1035" y2="117.7" stroke="url(#b34)" stroke-width="6"/>
<circle cx="1180.8" cy="398.2" r="21.3" fill="url(#gNi)"/>
<line x1="1148.9" y1="695" x2="1148.9" y2="702" stroke="#838889" stroke-width="3.6"/>
<line x1="925.5" y1="435" x2="925.5" y2="442" stroke="#838889" stroke-width="3.6"/>
<line x1="1027.3" y1="576.3" x2="1003.1" y2="565.4" stroke="url(#b39)" stroke-width="6"/>
<circle cx="1148.9" cy="845.9" r="21.3" fill="url(#gNi)"/>
<polygon points="1180.8,479.9 1109,570.3 1220.7,577.8" fill="#6a94c6" fill-opacity="0.5" stroke="#111" stroke-width="1.7" stroke-linejoin="round"/>
<circle cx="1109" cy="570.3" r="12.5" fill="url(#gO)"/>
<line x1="1148.9" y1="688" x2="1148.9" y2="695" stroke="#838889" stroke-width="3.6"/>
<line x1="925.5" y1="428" x2="925.5" y2="435" stroke="#838889" stroke-width="3.6"/>
<polygon points="1180.8,479.9 1220.7,416.1 1252.5,389.4" fill="#6a94c6" fill-opacity="0.5" stroke="#111" stroke-width="1.7" stroke-linejoin="round"/>
<line x1="1148.9" y1="681" x2="1148.9" y2="688" stroke="#838889" stroke-width="3.6"/>
<line x1="925.5" y1="421" x2="925.5" y2="428" stroke="#838889" stroke-width="3.6"/>
<line x1="1148.9" y1="674" x2="1148.9" y2="681" stroke="#838889" stroke-width="3.6"/>
<line x1="925.5" y1="414" x2="925.5" y2="421" stroke="#838889" stroke-width="3.6"/>
<line x1="1148.9" y1="667" x2="1148.9" y2="674" stroke="#838889" stroke-width="3.6"/>
<circle cx="997.3" cy="401.1" r="12.5" fill="url(#gO)"/>
<line x1="925.5" y1="407" x2="925.5" y2="414" stroke="#838889" stroke-width="3.6"/>
<line x1="1148.9" y1="660" x2="1148.9" y2="667" stroke="#838889" stroke-width="3.6"/>
<line x1="925.5" y1="400" x2="925.5" y2="407" stroke="#838889" stroke-width="3.6"/>
<line x1="946.5" y1="52.9" x2="954" y2="46.7" stroke="#838889" stroke-width="3.6"/>
<line x1="1180.8" y1="378.6" x2="1180.8" y2="332.2" stroke="url(#b67)" stroke-width="6"/>
<line x1="1148.9" y1="653" x2="1148.9" y2="660" stroke="#838889" stroke-width="3.6"/>
<line x1="925.5" y1="393" x2="925.5" y2="400" stroke="#838889" stroke-width="3.6"/>
<line x1="1148.9" y1="826.4" x2="1148.9" y2="779.9" stroke="url(#b7)" stroke-width="6"/><line x1="1148.9" y1="826.4" x2="1148.9" y2="779.9" stroke="#838889" stroke-width="3.6"/>
<line x1="1148.9" y1="646" x2="1148.9" y2="653" stroke="#838889" stroke-width="3.6"/>
<line x1="925.5" y1="386" x2="925.5" y2="393" stroke="#838889" stroke-width="3.6"/>
<line x1="1148.9" y1="639" x2="1148.9" y2="646" stroke="#838889" stroke-width="3.6"/>
<circle cx="1069" cy="210.5" r="12.5" fill="url(#gO)"/>
<line x1="925.5" y1="379" x2="925.5" y2="386" stroke="#838889" stroke-width="3.6"/>
<line x1="1086.9" y1="130.4" x2="1130.3" y2="124.1" stroke="url(#b35)" stroke-width="6"/>
<line x1="1148.9" y1="632" x2="1148.9" y2="639" stroke="#838889" stroke-width="3.6"/>
<circle cx="1037.2" cy="658.2" r="12.5" fill="url(#gO)"/>
<line x1="925.5" y1="372" x2="925.5" y2="379" stroke="#838889" stroke-width="3.6"/>
<polygon points="1180.8,320.7 1220.7,416.1 1252.5,389.4" fill="#6a94c6" fill-opacity="0.5" stroke="#111" stroke-width="1.7" stroke-linejoin="round"/>
<circle cx="1252.5" cy="389.4" r="12.5" fill="url(#gO)"/>
<line x1="1055.1" y1="578.2" x2="1098.5" y2="571.8" stroke="url(#b41)" stroke-width="6"/>
<line x1="1148.9" y1="625" x2="1148.9" y2="632" stroke="#838889" stroke-width="3.6"/>
<line x1="925.5" y1="365" x2="925.5" y2="372" stroke="#838889" stroke-width="3.6"/>
<line x1="1162.9" y1="400.8" x2="1119.5" y2="407.1" stroke="url(#b68)" stroke-width="6"/>
<line x1="1148.9" y1="618" x2="1148.9" y2="625" stroke="#838889" stroke-width="3.6"/>
<line x1="925.5" y1="358" x2="925.5" y2="365" stroke="#838889" stroke-width="3.6"/>
<circle cx="1148.9" cy="768.5" r="12.5" fill="url(#gO)"/>
<line x1="1148.9" y1="611" x2="1148.9" y2="618" stroke="#838889" stroke-width="3.6"/>
<line x1="925.5" y1="351" x2="925.5" y2="358" stroke="#838889" stroke-width="3.6"/>
<line x1="1184.1" y1="56" x2="1191.6" y2="49.8" stroke="#838889" stroke-width="3.6"/>
<line x1="1148.9" y1="604" x2="1148.9" y2="611" stroke="#838889" stroke-width="3.6"/>
<line x1="925.5" y1="344" x2="925.5" y2="351" stroke="#838889" stroke-width="3.6"/>
<circle cx="957.4" cy="43.9" r="21.6" fill="url(#gLa)"/>
<line x1="1069" y1="152.6" x2="1069" y2="199" stroke="url(#b31)" stroke-width="6"/>
<line x1="1148.9" y1="597" x2="1148.9" y2="604" stroke="#838889" stroke-width="3.6"/>
<line x1="925.5" y1="337" x2="925.5" y2="344" stroke="#838889" stroke-width="3.6"/>
<circle cx="925.5" cy="491.6" r="21.6" fill="url(#gLa)"/>
<line x1="1037.2" y1="600.3" x2="1037.2" y2="646.8" stroke="url(#b37)" stroke-width="6"/>
<line x1="1148.9" y1="590" x2="1148.9" y2="597" stroke="#838889" stroke-width="3.6"/>
<line x1="925.5" y1="330" x2="925.5" y2="337" stroke="#838889" stroke-width="3.6"/>
<circle cx="1220.7" cy="577.8" r="12.5" fill="url(#gO)"/>
<line x1="1148.9" y1="583" x2="1148.9" y2="590" stroke="#838889" stroke-width="3.6"/>
<line x1="925.5" y1="323" x2="925.5" y2="330" stroke="#838889" stroke-width="3.6"/>
<polygon points="1180.8,479.9 1109,408.6 1220.7,416.1" fill="#6a94c6" fill-opacity="0.5" stroke="#111" stroke-width="1.7" stroke-linejoin="round"/>
<circle cx="1180.8" cy="479.9" r="12.5" fill="url(#gO)"/>
<line x1="1148.9" y1="576" x2="1148.9" y2="583" stroke="#838889" stroke-width="3.6"/>
<line x1="925.5" y1="316" x2="925.5" y2="323" stroke="#838889" stroke-width="3.6"/>
<line x1="1148.9" y1="569" x2="1148.9" y2="576" stroke="#838889" stroke-width="3.6"/>
<line x1="925.5" y1="309" x2="925.5" y2="316" stroke="#838889" stroke-width="3.6"/>
<line x1="939.5" y1="58.9" x2="946.9" y2="52.6" stroke="#838889" stroke-width="3.6"/>
<line x1="1148.9" y1="562" x2="1148.9" y2="569" stroke="#838889" stroke-width="3.6"/>
<line x1="925.5" y1="302" x2="925.5" y2="309" stroke="#838889" stroke-width="3.6"/>
<circle cx="1069" cy="133" r="21.3" fill="url(#gNi)"/>
<line x1="1190.7" y1="402.7" x2="1214.8" y2="413.5" stroke="url(#b70)" stroke-width="6"/>
<line x1="1148.9" y1="555" x2="1148.9" y2="562" stroke="#838889" stroke-width="3.6"/>
<circle cx="1037.2" cy="580.8" r="21.3" fill="url(#gNi)"/>
<line x1="925.5" y1="295" x2="925.5" y2="302" stroke="#838889" stroke-width="3.6"/>
<line x1="1148.9" y1="548" x2="1148.9" y2="555" stroke="#838889" stroke-width="3.6"/>
<line x1="925.5" y1="288" x2="925.5" y2="295" stroke="#838889" stroke-width="3.6"/>
<line x1="1148.9" y1="541" x2="1148.9" y2="548" stroke="#838889" stroke-width="3.6"/>
<line x1="925.5" y1="281" x2="925.5" y2="288" stroke="#838889" stroke-width="3.6"/>
<line x1="1148.9" y1="534" x2="1148.9" y2="541" stroke="#838889" stroke-width="3.6"/>
<line x1="925.5" y1="274" x2="925.5" y2="281" stroke="#838889" stroke-width="3.6"/>
<polygon points="1180.8,320.7 1109,408.6 1220.7,416.1" fill="#6a94c6" fill-opacity="0.5" stroke="#111" stroke-width="1.7" stroke-linejoin="round"/>
<circle cx="1109" cy="408.6" r="12.5" fill="url(#gO)"/>
<circle cx="1180.8" cy="320.7" r="12.5" fill="url(#gO)"/>
<line x1="1027.3" y1="413.4" x2="1003.1" y2="403.5" stroke="url(#b45)" stroke-width="6"/>
<line x1="1148.9" y1="527" x2="1148.9" y2="534" stroke="#838889" stroke-width="3.6"/>
<line x1="925.5" y1="267" x2="925.5" y2="274" stroke="#838889" stroke-width="3.6"/>
<line x1="1148.9" y1="520" x2="1148.9" y2="527" stroke="#838889" stroke-width="3.6"/>
<line x1="1069" y1="113.5" x2="1069" y2="62.8" stroke="url(#b30)" stroke-width="6"/>
<line x1="925.5" y1="260" x2="925.5" y2="267" stroke="#838889" stroke-width="3.6"/>
<line x1="1037.2" y1="561.2" x2="1037.2" y2="510.6" stroke="url(#b36)" stroke-width="6"/>
<line x1="1148.9" y1="513" x2="1148.9" y2="520" stroke="#838889" stroke-width="3.6"/>
<circle cx="1180.8" cy="214.6" r="21.6" fill="url(#gLa)"/>
<line x1="925.5" y1="253" x2="925.5" y2="260" stroke="#838889" stroke-width="3.6"/>
<line x1="1177" y1="62" x2="1184.5" y2="55.7" stroke="#838889" stroke-width="3.6"/>
<circle cx="1148.9" cy="662.4" r="21.6" fill="url(#gLa)"/>
<line x1="1148.9" y1="506" x2="1148.9" y2="513" stroke="#838889" stroke-width="3.6"/>
<line x1="925.5" y1="246" x2="925.5" y2="253" stroke="#838889" stroke-width="3.6"/>
<line x1="1148.9" y1="499" x2="1148.9" y2="506" stroke="#838889" stroke-width="3.6"/>
<line x1="925.5" y1="239" x2="925.5" y2="246" stroke="#838889" stroke-width="3.6"/>
<line x1="1148.9" y1="492" x2="1148.9" y2="499" stroke="#838889" stroke-width="3.6"/>
<line x1="925.5" y1="232" x2="925.5" y2="239" stroke="#838889" stroke-width="3.6"/>
<line x1="1148.9" y1="485" x2="1148.9" y2="492" stroke="#838889" stroke-width="3.6"/>
<line x1="925.5" y1="225" x2="925.5" y2="232" stroke="#838889" stroke-width="3.6"/>
<line x1="1051.2" y1="135.2" x2="1007.8" y2="140.5" stroke="url(#b32)" stroke-width="6"/>
<circle cx="1069" cy="51.4" r="12.5" fill="url(#gO)"/>
<line x1="1148.9" y1="478" x2="1148.9" y2="485" stroke="#838889" stroke-width="3.6"/>
<line x1="1019.3" y1="583" x2="975.9" y2="588.3" stroke="url(#b38)" stroke-width="6"/>
<line x1="925.5" y1="218" x2="925.5" y2="225" stroke="#838889" stroke-width="3.6"/>
<circle cx="1037.2" cy="499.1" r="12.5" fill="url(#gO)"/>
<line x1="1148.9" y1="471" x2="1148.9" y2="478" stroke="#838889" stroke-width="3.6"/>
<line x1="925.5" y1="211" x2="925.5" y2="218" stroke="#838889" stroke-width="3.6"/>
<line x1="932.4" y1="64.8" x2="939.8" y2="58.6" stroke="#838889" stroke-width="3.6"/>
<line x1="1055.1" y1="415.2" x2="1098.5" y2="409.9" stroke="url(#b47)" stroke-width="6"/>
<line x1="1148.9" y1="464" x2="1148.9" y2="471" stroke="#838889" stroke-width="3.6"/>
<line x1="925.5" y1="204" x2="925.5" y2="211" stroke="#838889" stroke-width="3.6"/>
<line x1="1148.9" y1="457" x2="1148.9" y2="464" stroke="#838889" stroke-width="3.6"/>
<line x1="925.5" y1="197" x2="925.5" y2="204" stroke="#838889" stroke-width="3.6"/>
<line x1="1148.9" y1="450" x2="1148.9" y2="457" stroke="#838889" stroke-width="3.6"/>
<line x1="925.5" y1="190" x2="925.5" y2="197" stroke="#838889" stroke-width="3.6"/>
<line x1="1148.9" y1="443" x2="1148.9" y2="450" stroke="#838889" stroke-width="3.6"/>
<line x1="925.5" y1="183" x2="925.5" y2="190" stroke="#838889" stroke-width="3.6"/>
<circle cx="925.5" cy="335.8" r="21.6" fill="url(#gLa)"/>
<line x1="1148.9" y1="436" x2="1148.9" y2="443" stroke="#838889" stroke-width="3.6"/>
<line x1="925.5" y1="176" x2="925.5" y2="183" stroke="#838889" stroke-width="3.6"/>
<line x1="1037.2" y1="437" x2="1037.2" y2="487.6" stroke="url(#b42)" stroke-width="6"/>
<line x1="1148.9" y1="429" x2="1148.9" y2="436" stroke="#838889" stroke-width="3.6"/>
<line x1="925.5" y1="169" x2="925.5" y2="176" stroke="#838889" stroke-width="3.6"/>
<line x1="1079" y1="137.1" x2="1103.1" y2="146.9" stroke="url(#b33)" stroke-width="6"/>
<circle cx="1220.7" cy="416.1" r="12.5" fill="url(#gO)"/>
<line x1="1148.9" y1="422" x2="1148.9" y2="429" stroke="#838889" stroke-width="3.6"/>
<line x1="925.5" y1="162" x2="925.5" y2="169" stroke="#838889" stroke-width="3.6"/>
<line x1="1047.1" y1="584.8" x2="1071.3" y2="594.7" stroke="url(#b40)" stroke-width="6"/>
<line x1="1148.9" y1="415" x2="1148.9" y2="422" stroke="#838889" stroke-width="3.6"/>
<line x1="1169.9" y1="67.9" x2="1177.4" y2="61.7" stroke="#838889" stroke-width="3.6"/>
<line x1="925.5" y1="155" x2="925.5" y2="162" stroke="#838889" stroke-width="3.6"/>
<line x1="1148.9" y1="408" x2="1148.9" y2="415" stroke="#838889" stroke-width="3.6"/>
<circle cx="997.3" cy="141.8" r="12.5" fill="url(#gO)"/>
<line x1="925.5" y1="148" x2="925.5" y2="155" stroke="#838889" stroke-width="3.6"/>
<line x1="1148.9" y1="401" x2="1148.9" y2="408" stroke="#838889" stroke-width="3.6"/>
<circle cx="965.4" cy="589.6" r="12.5" fill="url(#gO)"/>
<line x1="925.5" y1="141" x2="925.5" y2="148" stroke="#838889" stroke-width="3.6"/>
<line x1="1148.9" y1="394" x2="1148.9" y2="401" stroke="#838889" stroke-width="3.6"/>
<line x1="925.5" y1="134" x2="925.5" y2="141" stroke="#838889" stroke-width="3.6"/>
<circle cx="1037.2" cy="417.4" r="21.3" fill="url(#gNi)"/>
<line x1="1148.9" y1="387" x2="1148.9" y2="394" stroke="#838889" stroke-width="3.6"/>
<line x1="925.5" y1="127" x2="925.5" y2="134" stroke="#838889" stroke-width="3.6"/>
<line x1="1148.9" y1="380" x2="1148.9" y2="387" stroke="#838889" stroke-width="3.6"/>
<line x1="925.5" y1="120" x2="925.5" y2="127" stroke="#838889" stroke-width="3.6"/>
<line x1="925.3" y1="70.8" x2="932.8" y2="64.5" stroke="#838889" stroke-width="3.6"/>
<line x1="1148.9" y1="373" x2="1148.9" y2="380" stroke="#838889" stroke-width="3.6"/>
<line x1="925.5" y1="113" x2="925.5" y2="120" stroke="#838889" stroke-width="3.6"/>
<line x1="1148.9" y1="366" x2="1148.9" y2="373" stroke="#838889" stroke-width="3.6"/>
<line x1="925.5" y1="106" x2="925.5" y2="113" stroke="#838889" stroke-width="3.6"/>
<line x1="1148.9" y1="359" x2="1148.9" y2="366" stroke="#838889" stroke-width="3.6"/>
<line x1="925.5" y1="99" x2="925.5" y2="106" stroke="#838889" stroke-width="3.6"/>
<circle cx="1180.8" cy="58.9" r="21.6" fill="url(#gLa)"/>
<line x1="1148.9" y1="352" x2="1148.9" y2="359" stroke="#838889" stroke-width="3.6"/>
<line x1="1037.2" y1="397.9" x2="1037.2" y2="351.4" stroke="url(#b43)" stroke-width="6"/>
<line x1="925.5" y1="92" x2="925.5" y2="99" stroke="#838889" stroke-width="3.6"/>
<circle cx="1148.9" cy="506.6" r="21.6" fill="url(#gLa)"/>
<line x1="1148.9" y1="345" x2="1148.9" y2="352" stroke="#838889" stroke-width="3.6"/>
<line x1="925.5" y1="85" x2="925.5" y2="92" stroke="#838889" stroke-width="3.6"/>
<line x1="1148.9" y1="338" x2="1148.9" y2="345" stroke="#838889" stroke-width="3.6"/>
<line x1="925.5" y1="78" x2="925.5" y2="85" stroke="#838889" stroke-width="3.6"/>
<circle cx="925.5" cy="229.7" r="12.5" fill="url(#gO)"/>
<line x1="1148.9" y1="331" x2="1148.9" y2="338" stroke="#838889" stroke-width="3.6"/>
<line x1="943.4" y1="149.7" x2="986.8" y2="143.3" stroke="url(#b5)" stroke-width="6"/>
<line x1="925.5" y1="70.6" x2="925.5" y2="78" stroke="#838889" stroke-width="3.6"/>
<line x1="1148.9" y1="324" x2="1148.9" y2="331" stroke="#838889" stroke-width="3.6"/>
<line x1="925.3" y1="70.6" x2="935.1" y2="71.2" stroke="#838889" stroke-width="3.6"/>
<line x1="1162.9" y1="73.9" x2="1170.3" y2="67.6" stroke="#838889" stroke-width="3.6"/>
<line x1="1148.9" y1="317" x2="1148.9" y2="324" stroke="#838889" stroke-width="3.6"/>
<line x1="1019.3" y1="420" x2="975.9" y2="426.4" stroke="url(#b44)" stroke-width="6"/>
<circle cx="1037.2" cy="340" r="12.5" fill="url(#gO)"/>
<line x1="934.6" y1="71.2" x2="944.4" y2="71.9" stroke="#838889" stroke-width="3.6"/>
<line x1="1148.9" y1="310" x2="1148.9" y2="317" stroke="#838889" stroke-width="3.6"/>
<line x1="1148.9" y1="303" x2="1148.9" y2="310" stroke="#838889" stroke-width="3.6"/>
<line x1="943.9" y1="71.8" x2="953.7" y2="72.5" stroke="#838889" stroke-width="3.6"/>
<line x1="1148.9" y1="296" x2="1148.9" y2="303" stroke="#838889" stroke-width="3.6"/>
<line x1="925.5" y1="171.8" x2="925.5" y2="218.3" stroke="url(#b4)" stroke-width="6"/><line x1="925.5" y1="171.8" x2="925.5" y2="218.3" stroke="#838889" stroke-width="3.6"/>
<line x1="953.2" y1="72.5" x2="963" y2="73.1" stroke="#838889" stroke-width="3.6"/>
<line x1="1148.9" y1="289" x2="1148.9" y2="296" stroke="#838889" stroke-width="3.6"/>
<circle cx="1109" cy="149.3" r="12.5" fill="url(#gO)"/>
<line x1="1148.9" y1="282" x2="1148.9" y2="289" stroke="#838889" stroke-width="3.6"/>
<line x1="962.5" y1="73.1" x2="972.3" y2="73.7" stroke="#838889" stroke-width="3.6"/>
<circle cx="1077.1" cy="597.1" r="12.5" fill="url(#gO)"/>
<line x1="1148.9" y1="275" x2="1148.9" y2="282" stroke="#838889" stroke-width="3.6"/>
<line x1="971.8" y1="73.7" x2="981.6" y2="74.4" stroke="#838889" stroke-width="3.6"/>
<line x1="1148.9" y1="268" x2="1148.9" y2="275" stroke="#838889" stroke-width="3.6"/>
<line x1="1148.9" y1="261" x2="1148.9" y2="268" stroke="#838889" stroke-width="3.6"/>
<line x1="981.1" y1="74.3" x2="990.9" y2="75" stroke="#838889" stroke-width="3.6"/>
<circle cx="925.5" cy="152.3" r="21.3" fill="url(#gNi)"/>
<line x1="1148.9" y1="254" x2="1148.9" y2="261" stroke="#838889" stroke-width="3.6"/>
<line x1="1047.1" y1="421.9" x2="1071.3" y2="432.8" stroke="url(#b46)" stroke-width="6"/>
<line x1="990.4" y1="75" x2="1000.2" y2="75.6" stroke="#838889" stroke-width="3.6"/>
<line x1="1148.9" y1="247" x2="1148.9" y2="254" stroke="#838889" stroke-width="3.6"/>
<line x1="1148.9" y1="240" x2="1148.9" y2="247" stroke="#838889" stroke-width="3.6"/>
<line x1="999.7" y1="75.6" x2="1009.5" y2="76.2" stroke="#838889" stroke-width="3.6"/>
<circle cx="965.4" cy="427.9" r="12.5" fill="url(#gO)"/>
<line x1="1148.9" y1="233" x2="1148.9" y2="240" stroke="#838889" stroke-width="3.6"/>
<line x1="1009" y1="76.2" x2="1018.8" y2="76.9" stroke="#838889" stroke-width="3.6"/>
<line x1="1148.9" y1="226" x2="1148.9" y2="233" stroke="#838889" stroke-width="3.6"/>
<line x1="1155.8" y1="79.8" x2="1163.2" y2="73.6" stroke="#838889" stroke-width="3.6"/>
<line x1="1018.3" y1="76.8" x2="1028.1" y2="77.5" stroke="#838889" stroke-width="3.6"/>
<line x1="1148.9" y1="219" x2="1148.9" y2="226" stroke="#838889" stroke-width="3.6"/>
<line x1="925.5" y1="132.7" x2="925.5" y2="82.1" stroke="url(#b3)" stroke-width="6"/><line x1="925.5" y1="132.7" x2="925.5" y2="82.1" stroke="#838889" stroke-width="3.6"/>
<line x1="1148.9" y1="212" x2="1148.9" y2="219" stroke="#838889" stroke-width="3.6"/>
<line x1="1027.6" y1="77.5" x2="1037.4" y2="78.1" stroke="#838889" stroke-width="3.6"/>
<circle cx="1037.2" cy="233.9" r="21.6" fill="url(#gLa)"/>
<line x1="1148.9" y1="205" x2="1148.9" y2="212" stroke="#838889" stroke-width="3.6"/>
<line x1="1037" y1="78.1" x2="1046.8" y2="78.7" stroke="#838889" stroke-width="3.6"/>
<line x1="1148.9" y1="198" x2="1148.9" y2="205" stroke="#838889" stroke-width="3.6"/>
<circle cx="1148.9" cy="350.8" r="21.6" fill="url(#gLa)"/>
<line x1="1148.9" y1="191" x2="1148.9" y2="198" stroke="#838889" stroke-width="3.6"/>
<line x1="1046.3" y1="78.7" x2="1056.1" y2="79.4" stroke="#838889" stroke-width="3.6"/>
<line x1="1148.9" y1="184" x2="1148.9" y2="191" stroke="#838889" stroke-width="3.6"/>
<line x1="1055.6" y1="79.3" x2="1065.4" y2="80" stroke="#838889" stroke-width="3.6"/>
<line x1="1148.9" y1="177" x2="1148.9" y2="184" stroke="#838889" stroke-width="3.6"/>
<circle cx="925.5" cy="70.6" r="12.5" fill="url(#gO)"/>
<line x1="1148.9" y1="170" x2="1148.9" y2="177" stroke="#838889" stroke-width="3.6"/>
<line x1="1064.9" y1="80" x2="1074.7" y2="80.6" stroke="#838889" stroke-width="3.6"/>
<line x1="1148.9" y1="163" x2="1148.9" y2="170" stroke="#838889" stroke-width="3.6"/>
<line x1="1074.2" y1="80.6" x2="1084" y2="81.2" stroke="#838889" stroke-width="3.6"/>
<line x1="1148.9" y1="156" x2="1148.9" y2="163" stroke="#838889" stroke-width="3.6"/>
<line x1="1148.9" y1="149" x2="1148.9" y2="156" stroke="#838889" stroke-width="3.6"/>
<line x1="1083.5" y1="81.2" x2="1093.3" y2="81.9" stroke="#838889" stroke-width="3.6"/>
<line x1="1139" y1="162.8" x2="1114.8" y2="151.9" stroke="url(#b11)" stroke-width="6"/>
<line x1="1148.9" y1="142" x2="1148.9" y2="149" stroke="#838889" stroke-width="3.6"/>
<line x1="1092.8" y1="81.8" x2="1102.6" y2="82.5" stroke="#838889" stroke-width="3.6"/>
<line x1="1148.9" y1="135" x2="1148.9" y2="142" stroke="#838889" stroke-width="3.6"/>
<line x1="1148.7" y1="85.8" x2="1156.2" y2="79.5" stroke="#838889" stroke-width="3.6"/>
<line x1="1148.9" y1="128" x2="1148.9" y2="135" stroke="#838889" stroke-width="3.6"/>
<line x1="1102.1" y1="82.5" x2="1111.9" y2="83.1" stroke="#838889" stroke-width="3.6"/>
<line x1="1148.9" y1="121" x2="1148.9" y2="128" stroke="#838889" stroke-width="3.6"/>
<line x1="1111.4" y1="83.1" x2="1121.2" y2="83.7" stroke="#838889" stroke-width="3.6"/>
<circle cx="1077.1" cy="435.4" r="12.5" fill="url(#gO)"/>
<line x1="1148.9" y1="114" x2="1148.9" y2="121" stroke="#838889" stroke-width="3.6"/>
<line x1="1120.7" y1="83.7" x2="1130.5" y2="84.4" stroke="#838889" stroke-width="3.6"/>
<line x1="1148.9" y1="107" x2="1148.9" y2="114" stroke="#838889" stroke-width="3.6"/>
<line x1="1148.9" y1="100" x2="1148.9" y2="107" stroke="#838889" stroke-width="3.6"/>
<line x1="1130" y1="84.3" x2="1139.8" y2="85" stroke="#838889" stroke-width="3.6"/>
<line x1="1148.9" y1="93" x2="1148.9" y2="100" stroke="#838889" stroke-width="3.6"/>
<circle cx="1148.9" cy="244.7" r="12.5" fill="url(#gO)"/>
<line x1="1139.3" y1="85" x2="1149.1" y2="85.6" stroke="#838889" stroke-width="3.6"/>
<line x1="1148.9" y1="85.6" x2="1148.9" y2="93" stroke="#838889" stroke-width="3.6"/>
<circle cx="1037.2" cy="78.1" r="21.6" fill="url(#gLa)"/>
<line x1="1148.9" y1="186.8" x2="1148.9" y2="233.3" stroke="url(#b10)" stroke-width="6"/><line x1="1148.9" y1="186.8" x2="1148.9" y2="233.3" stroke="#838889" stroke-width="3.6"/>
<circle cx="1148.9" cy="167.3" r="21.3" fill="url(#gNi)"/>
<line x1="1148.9" y1="147.7" x2="1148.9" y2="97.1" stroke="url(#b9)" stroke-width="6"/><line x1="1148.9" y1="147.7" x2="1148.9" y2="97.1" stroke="#838889" stroke-width="3.6"/>
<circle cx="1148.9" cy="85.6" r="12.5" fill="url(#gO)"/>
</g>
<text x="838.8" y="33.6" font-size="20" font-weight="bold">g</text>
<text x="871.4" y="159.3" font-size="20.8" fill="#1f2b7a">Ni</text>
<text x="878.7" y="238.3" font-size="20.8" fill="#e8963a">O</text>
<text x="866.3" y="341" font-size="20.8" fill="#7f7f7f">La</text>
<line x1="863.3" y1="928" x2="863.3" y2="884" stroke="#2b4a9b" stroke-width="5.8"/>
<polygon points="863.3,861.8 872.8,887 853.8,887" fill="#2b4a9b"/>
<line x1="864" y1="935" x2="912" y2="937.6" stroke="#d42a2a" stroke-width="5.6"/>
<polygon points="935.4,939.4 910,930.2 909,948" fill="#d42a2a"/>
<circle cx="876.9" cy="922.9" r="8.9" fill="#5dbb46"/>
<line x1="870" y1="929" x2="878.5" y2="922" stroke="#2e8a3e" stroke-width="4" stroke-linecap="round"/>
<circle cx="862.9" cy="935" r="8.9" fill="url(#gOr)"/>
<text x="858.5" y="859.3" font-size="19" fill="#2b4a9b">c</text>
<text x="883.2" y="915.5" font-size="19" fill="#2e8a3e">b</text>
<text x="935.2" y="943.9" font-size="19" fill="#d42a2a">a</text>
</svg>
</body></html>
